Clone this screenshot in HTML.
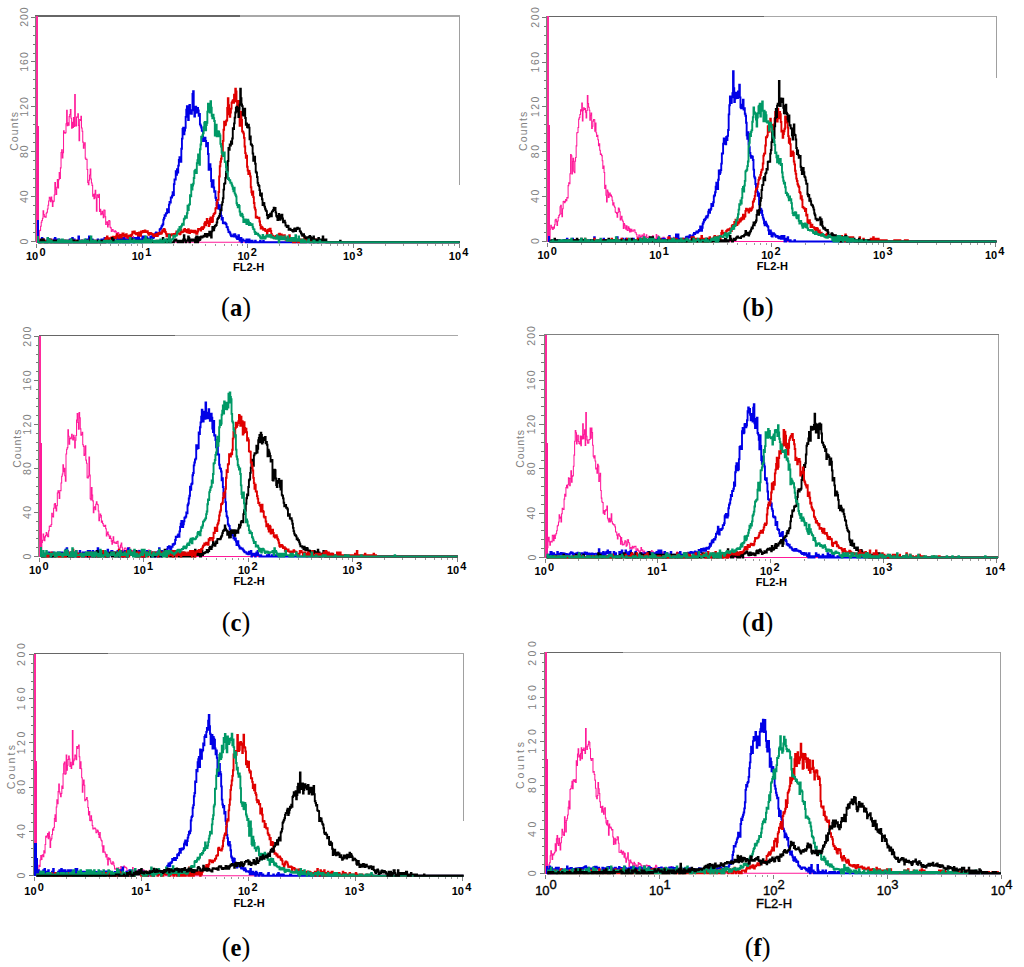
<!DOCTYPE html>
<html><head><meta charset="utf-8"><style>
html,body{margin:0;padding:0;background:#fff;overflow:hidden;}
svg{display:block;}
.yl{font-family:"Liberation Sans",sans-serif;font-size:10.5px;fill:#808080;text-anchor:middle;dominant-baseline:central;}
.xl{font-family:"Liberation Sans",sans-serif;font-size:11px;font-weight:bold;fill:#000;text-anchor:middle;}
.xl.n{font-weight:normal;font-size:13px;stroke:#000;stroke-width:0.35px;}
.cap{font-family:"Liberation Serif",serif;font-size:26.5px;fill:#000;text-anchor:middle;}
</style></head><body>
<svg width="1024" height="967" viewBox="0 0 1024 967">
<rect width="1024" height="967" fill="#fff"/>
<g shape-rendering="crispEdges"><line x1="35.40" y1="16.00" x2="240.00" y2="16.00" stroke="#666" stroke-width="1.3"/><line x1="240.00" y1="16.00" x2="460.00" y2="16.00" stroke="#a8a8a8" stroke-width="1.3"/><line x1="459.50" y1="16.00" x2="459.50" y2="184.50" stroke="#a0a0a0" stroke-width="1"/><line x1="35.40" y1="16.00" x2="35.40" y2="242.00" stroke="#7a8a7a" stroke-width="1"/><line x1="30.60" y1="241.50" x2="34.90" y2="241.50" stroke="#777" stroke-width="1"/><line x1="32.60" y1="232.52" x2="34.90" y2="232.52" stroke="#777" stroke-width="1"/><line x1="32.60" y1="223.55" x2="34.90" y2="223.55" stroke="#777" stroke-width="1"/><line x1="32.60" y1="214.57" x2="34.90" y2="214.57" stroke="#777" stroke-width="1"/><line x1="32.60" y1="205.60" x2="34.90" y2="205.60" stroke="#777" stroke-width="1"/><line x1="30.60" y1="196.62" x2="34.90" y2="196.62" stroke="#777" stroke-width="1"/><line x1="32.60" y1="187.64" x2="34.90" y2="187.64" stroke="#777" stroke-width="1"/><line x1="32.60" y1="178.67" x2="34.90" y2="178.67" stroke="#777" stroke-width="1"/><line x1="32.60" y1="169.69" x2="34.90" y2="169.69" stroke="#777" stroke-width="1"/><line x1="32.60" y1="160.72" x2="34.90" y2="160.72" stroke="#777" stroke-width="1"/><line x1="30.60" y1="151.74" x2="34.90" y2="151.74" stroke="#777" stroke-width="1"/><line x1="32.60" y1="142.76" x2="34.90" y2="142.76" stroke="#777" stroke-width="1"/><line x1="32.60" y1="133.79" x2="34.90" y2="133.79" stroke="#777" stroke-width="1"/><line x1="32.60" y1="124.81" x2="34.90" y2="124.81" stroke="#777" stroke-width="1"/><line x1="32.60" y1="115.84" x2="34.90" y2="115.84" stroke="#777" stroke-width="1"/><line x1="30.60" y1="106.86" x2="34.90" y2="106.86" stroke="#777" stroke-width="1"/><line x1="32.60" y1="97.88" x2="34.90" y2="97.88" stroke="#777" stroke-width="1"/><line x1="32.60" y1="88.91" x2="34.90" y2="88.91" stroke="#777" stroke-width="1"/><line x1="32.60" y1="79.93" x2="34.90" y2="79.93" stroke="#777" stroke-width="1"/><line x1="32.60" y1="70.96" x2="34.90" y2="70.96" stroke="#777" stroke-width="1"/><line x1="30.60" y1="61.98" x2="34.90" y2="61.98" stroke="#777" stroke-width="1"/><line x1="32.60" y1="53.00" x2="34.90" y2="53.00" stroke="#777" stroke-width="1"/><line x1="32.60" y1="44.03" x2="34.90" y2="44.03" stroke="#777" stroke-width="1"/><line x1="32.60" y1="35.05" x2="34.90" y2="35.05" stroke="#777" stroke-width="1"/><line x1="32.60" y1="26.08" x2="34.90" y2="26.08" stroke="#777" stroke-width="1"/><line x1="30.60" y1="17.10" x2="34.90" y2="17.10" stroke="#777" stroke-width="1"/><line x1="36.40" y1="243.50" x2="36.40" y2="247.70" stroke="#808080" stroke-width="1"/><line x1="68.22" y1="243.50" x2="68.22" y2="245.50" stroke="#9a9a9a" stroke-width="1"/><line x1="86.83" y1="243.50" x2="86.83" y2="245.50" stroke="#9a9a9a" stroke-width="1"/><line x1="100.04" y1="243.50" x2="100.04" y2="245.50" stroke="#9a9a9a" stroke-width="1"/><line x1="110.28" y1="243.50" x2="110.28" y2="245.50" stroke="#9a9a9a" stroke-width="1"/><line x1="118.65" y1="243.50" x2="118.65" y2="245.50" stroke="#9a9a9a" stroke-width="1"/><line x1="125.73" y1="243.50" x2="125.73" y2="245.50" stroke="#9a9a9a" stroke-width="1"/><line x1="131.86" y1="243.50" x2="131.86" y2="245.50" stroke="#9a9a9a" stroke-width="1"/><line x1="137.26" y1="243.50" x2="137.26" y2="245.50" stroke="#9a9a9a" stroke-width="1"/><line x1="142.10" y1="243.50" x2="142.10" y2="247.70" stroke="#808080" stroke-width="1"/><line x1="173.92" y1="243.50" x2="173.92" y2="245.50" stroke="#9a9a9a" stroke-width="1"/><line x1="192.53" y1="243.50" x2="192.53" y2="245.50" stroke="#9a9a9a" stroke-width="1"/><line x1="205.74" y1="243.50" x2="205.74" y2="245.50" stroke="#9a9a9a" stroke-width="1"/><line x1="215.98" y1="243.50" x2="215.98" y2="245.50" stroke="#9a9a9a" stroke-width="1"/><line x1="224.35" y1="243.50" x2="224.35" y2="245.50" stroke="#9a9a9a" stroke-width="1"/><line x1="231.43" y1="243.50" x2="231.43" y2="245.50" stroke="#9a9a9a" stroke-width="1"/><line x1="237.56" y1="243.50" x2="237.56" y2="245.50" stroke="#9a9a9a" stroke-width="1"/><line x1="242.96" y1="243.50" x2="242.96" y2="245.50" stroke="#9a9a9a" stroke-width="1"/><line x1="247.80" y1="243.50" x2="247.80" y2="247.70" stroke="#808080" stroke-width="1"/><line x1="279.62" y1="243.50" x2="279.62" y2="245.50" stroke="#9a9a9a" stroke-width="1"/><line x1="298.23" y1="243.50" x2="298.23" y2="245.50" stroke="#9a9a9a" stroke-width="1"/><line x1="311.44" y1="243.50" x2="311.44" y2="245.50" stroke="#9a9a9a" stroke-width="1"/><line x1="321.68" y1="243.50" x2="321.68" y2="245.50" stroke="#9a9a9a" stroke-width="1"/><line x1="330.05" y1="243.50" x2="330.05" y2="245.50" stroke="#9a9a9a" stroke-width="1"/><line x1="337.13" y1="243.50" x2="337.13" y2="245.50" stroke="#9a9a9a" stroke-width="1"/><line x1="343.26" y1="243.50" x2="343.26" y2="245.50" stroke="#9a9a9a" stroke-width="1"/><line x1="348.66" y1="243.50" x2="348.66" y2="245.50" stroke="#9a9a9a" stroke-width="1"/><line x1="353.50" y1="243.50" x2="353.50" y2="247.70" stroke="#808080" stroke-width="1"/><line x1="385.32" y1="243.50" x2="385.32" y2="245.50" stroke="#9a9a9a" stroke-width="1"/><line x1="403.93" y1="243.50" x2="403.93" y2="245.50" stroke="#9a9a9a" stroke-width="1"/><line x1="417.14" y1="243.50" x2="417.14" y2="245.50" stroke="#9a9a9a" stroke-width="1"/><line x1="427.38" y1="243.50" x2="427.38" y2="245.50" stroke="#9a9a9a" stroke-width="1"/><line x1="435.75" y1="243.50" x2="435.75" y2="245.50" stroke="#9a9a9a" stroke-width="1"/><line x1="442.83" y1="243.50" x2="442.83" y2="245.50" stroke="#9a9a9a" stroke-width="1"/><line x1="448.96" y1="243.50" x2="448.96" y2="245.50" stroke="#9a9a9a" stroke-width="1"/><line x1="454.36" y1="243.50" x2="454.36" y2="245.50" stroke="#9a9a9a" stroke-width="1"/><line x1="459.20" y1="243.50" x2="459.20" y2="247.70" stroke="#808080" stroke-width="1"/></g>
<text x="24.10" y="241.50" transform="rotate(-90 24.10 241.50)" class="yl" letter-spacing="0">0</text>
<text x="24.10" y="196.12" transform="rotate(-90 24.10 196.12)" class="yl" letter-spacing="1.0">40</text>
<text x="24.10" y="151.24" transform="rotate(-90 24.10 151.24)" class="yl" letter-spacing="1.0">80</text>
<text x="24.10" y="106.36" transform="rotate(-90 24.10 106.36)" class="yl" letter-spacing="1.0">120</text>
<text x="24.10" y="61.48" transform="rotate(-90 24.10 61.48)" class="yl" letter-spacing="1.0">160</text>
<text x="24.10" y="16.60" transform="rotate(-90 24.10 16.60)" class="yl" letter-spacing="1.0">200</text>
<text x="13.80" y="131.46" transform="rotate(-90 13.80 131.46)" class="yl" textLength="38.8" lengthAdjust="spacing">Counts</text>
<text x="35.80" y="259.90" class="xl">10<tspan dx="1.2" dy="-4.3" class="sup">0</tspan></text>
<text x="141.50" y="259.90" class="xl">10<tspan dx="1.2" dy="-4.3" class="sup">1</tspan></text>
<text x="247.20" y="259.90" class="xl">10<tspan dx="1.2" dy="-4.3" class="sup">2</tspan></text>
<text x="352.90" y="259.90" class="xl">10<tspan dx="1.2" dy="-4.3" class="sup">3</tspan></text>
<text x="458.60" y="259.90" class="xl">10<tspan dx="1.2" dy="-4.3" class="sup">4</tspan></text>
<text x="248.60" y="270.50" class="xl">FL2-H</text>
<path d="M38.10,242.20H38.72V242.20H39.34V230.82H39.96V230.39H40.58V226.19H41.20V222.26H41.82V220.47H42.44V218.18H43.06V210.73H43.68V214.43H44.30V216.39H44.92V217.21H45.54V217.10H46.16V213.19H46.78V212.15H47.40V209.07H48.02V205.23H48.64V201.01H49.26V197.24H49.88V198.26H50.50V201.82H51.12V197.05H51.74V200.27H52.36V206.50H52.98V201.70H53.60V201.13H54.22V195.07H54.84V182.52H55.46V189.42H56.08V194.49H56.70V187.17H57.32V179.49H57.94V187.88H58.56V179.72H59.18V172.55H59.80V178.52H60.42V167.89H61.04V152.57H61.66V149.79H62.28V158.01H62.90V152.79H63.52V130.75H64.14V132.56H64.76V133.25H65.38V132.82H66.00V123.75H66.62V110.29H67.24V125.84H67.86V122.69H68.48V125.17H69.10V116.60H69.72V114.46H70.34V109.42H70.96V118.18H71.58V128.19H72.20V122.39H72.82V127.36H73.44V117.49H74.06V126.43H74.68V94.40H75.30V125.26H75.92V125.87H76.54V117.03H77.16V117.26H77.78V113.88H78.40V125.38H79.02V140.73H79.64V119.51H80.26V120.50H80.88V116.29H81.50V127.98H82.12V131.20H82.74V142.11H83.36V148.34H83.98V144.91H84.60V142.81H85.22V158.11H85.84V159.59H86.46V159.27H87.08V169.59H87.70V182.49H88.32V184.80H88.94V180.27H89.56V174.97H90.18V168.98H90.80V178.96H91.42V182.93H92.04V185.35H92.66V196.20H93.28V194.16H93.90V198.72H94.52V194.14H95.14V190.36H95.76V198.02H96.38V211.14H97.00V194.71H97.62V195.68H98.24V197.50H98.86V194.31H99.48V211.44H100.10V209.32H100.72V214.69H101.34V213.43H101.96V211.25H102.58V214.30H103.20V217.83H103.82V210.07H104.44V210.33H105.06V216.78H105.68V224.58H106.30V222.25H106.92V221.81H107.54V226.91H108.16V224.60H108.78V220.42H109.40V220.90H110.02V227.27H110.64V227.86H111.26V231.49H111.88V229.94H112.50V229.41H113.12V231.24H113.74V231.18H114.36V232.05H114.98V230.69H115.60V231.63H116.22V233.79H116.84V237.11H117.46V232.81H118.08V232.58H118.70V236.52H119.32V233.97H119.94V235.90H120.56V236.83H121.18V238.22H121.80V234.19H122.42V234.21H123.04V235.06H123.66V234.73H124.28V236.87H124.90V237.68H125.52V238.80H126.14V237.05H126.76V239.10H127.38V240.26H128.00V235.81H128.62V236.83H129.24V240.74H129.86V239.90H130.48V237.66H131.10V240.79H131.72V240.79H132.34V240.79H132.96V236.56H133.58V240.79H134.20V240.79H134.82V237.97H135.44V239.38H136.06V242.20H136.68V240.79H137.30V239.38H137.92V239.38H138.54V242.20H139.16V239.38H139.78V240.79H140.40V239.38H141.02V239.38H141.64V242.20H142.26V242.20H142.88V239.38H143.50V242.20H144.12V240.79H144.74V242.20H145.36V242.20H145.98V242.20H146.60V240.79H147.22V242.20H147.84V242.20H148.46V242.20H149.08V242.20H149.70V242.20H150.32V242.20H150.94V240.79H151.56V242.20H152.18V242.20H152.80V242.20H153.42V242.20H154.04V242.20H154.66V242.20H155.28V242.20H155.90V242.20H156.52V242.20H157.14V242.20H157.76V242.20H158.38V242.20H159.00V242.20H159.62V242.20H160.24V242.20H160.86V242.20H161.48V242.20H162.10V242.20H162.72V242.20H163.34V242.20H163.96V242.20H164.58V242.20H165.20V242.20H165.82V242.20H166.44V242.20H167.06V242.20H167.68V242.20H168.30V242.20H168.92V242.20H169.54V242.20H170.16V242.20H170.78V242.20H171.40V242.20H172.02V242.20H172.64V242.20H173.26V242.20H173.88V242.20H174.50V242.20H175.12V242.20H175.74V242.20H176.36V242.20H176.98V242.20H177.60V242.20H178.22V242.20H178.84V242.20H179.46V242.20H180.08V242.20H180.70V242.20H181.32V242.20H181.94V242.20H182.56V242.20H183.18V242.20H183.80V242.20H184.42V242.20H185.04V242.20H185.66V242.20H186.28V242.20H186.90V242.20H187.52V242.20H188.14V242.20H188.76V242.20H189.38V242.20H190.00V242.20H190.62V242.20H191.24V242.20H191.86V242.20H192.48V242.20H193.10V242.20H193.72V242.20H194.34V242.20H194.96V242.20H195.58V242.20H196.20V242.20H196.82V242.20H197.44V242.20H198.06V242.20H198.68V242.20H199.30V242.20H199.92V242.20H200.54V242.20H201.16V242.20H201.78V242.20H202.40V242.20H203.02V242.20H203.64V242.20H204.26V242.20H204.88V242.20H205.50V242.20H206.12V242.20H206.74V242.20H207.36V242.20H207.98V242.20H208.60V242.20H209.22V242.20H209.84V242.20H210.46V242.20H211.08V242.20H211.70V242.20H212.32V242.20H212.94V242.20H213.56V242.20H214.18V242.20H214.80V242.20H215.42V242.20H216.04V242.20H216.66V242.20H217.28V242.20H217.90V242.20H218.52V242.20H219.14V242.20H219.76V242.20H220.38V242.20H221.00V242.20H221.62V242.20H222.24V242.20H222.86V242.20H223.48V242.20H224.10V242.20H224.72V242.20H225.34V242.20H225.96V242.20H226.58V242.20H227.20V242.20H227.82V242.20H228.44V242.20H229.06V242.20H229.68V242.20H230.30V242.20H230.92V242.20H231.54V242.20H232.16V242.20H232.78V242.20H233.40V242.20H234.02V242.20H234.64V242.20H235.26V242.20H235.88V242.20H236.50V242.20H237.12V242.20H237.74V242.20H238.36V242.20H238.98V242.20H239.60V242.20H240.22V242.20H240.84V242.20H241.46V242.20H242.08V242.20H242.70V242.20H243.32V242.20H243.94V242.20H244.56V242.20H245.18V242.20H245.80V242.20H246.42V242.20H247.04V242.20H247.66V242.20H248.28V242.20H248.90V242.20H249.52V242.20H250.14V242.20H250.76V242.20H251.38V242.20H252.00V242.20H252.62V242.20H253.24V242.20H253.86V242.20H254.48V242.20H255.10V242.20H255.72V242.20H256.34V242.20H256.96V242.20H257.58V242.20H258.20V242.20H258.82V242.20H259.44V242.20H260.06V242.20H260.68V242.20H261.30V242.20H261.92V242.20H262.54V242.20H263.16V242.20H263.78V242.20H264.40V242.20H265.02V242.20H265.64V242.20H266.26V242.20H266.88V242.20H267.50V242.20H268.12V242.20H268.74V242.20H269.36V242.20H269.98V242.20H270.60V242.20H271.22V242.20H271.84V242.20H272.46V242.20H273.08V242.20H273.70V242.20H274.32V242.20H274.94V242.20H275.56V242.20H276.18V242.20H276.80V242.20H277.42V242.20H278.04V242.20H278.66V242.20H279.28V242.20H279.90V242.20H280.52V242.20H281.14V242.20H281.76V242.20H282.38V242.20H283.00V242.20H283.62V242.20H284.24V242.20H284.86V242.20H285.48V242.20H286.10V242.20H286.72V242.20H287.34V242.20H287.96V242.20H288.58V242.20H289.20V242.20H289.82V242.20H290.44V242.20H291.06V242.20H291.68V242.20H292.30V242.20H292.92V242.20H293.54V242.20H294.16V242.20H294.78V242.20H295.40V242.20H296.02V242.20H296.64V242.20H297.26V242.20H297.88V242.20H298.50V242.20H299.12V242.20H299.74V242.20H300.36V242.20H300.98V242.20H301.60V242.20H302.22V242.20H302.84V242.20H303.46V242.20H304.08V242.20H304.70V242.20H305.32V242.20H305.94V242.20H306.56V242.20H307.18V242.20H307.80V242.20H308.42V242.20H309.04V242.20H309.66V242.20H310.28V242.20H310.90V242.20H311.52V242.20H312.14V242.20H312.76V242.20H313.38V242.20H314.00V242.20H314.62V242.20H315.24V242.20H315.86V242.20H316.48V242.20H317.10V242.20H317.72V242.20H318.34V242.20H318.96V242.20H319.58V242.20H320.20V242.20H320.82V242.20H321.44V242.20H322.06V242.20H322.68V242.20H323.30V242.20H323.92V242.20H324.54V242.20H325.16V242.20H325.78V242.20H326.40V242.20H327.02V242.20H327.64V242.20H328.26V242.20H328.88V242.20H329.50V242.20H330.12V242.20H330.74V242.20H331.36V242.20H331.98V242.20H332.60V242.20H333.22V242.20H333.84V242.20H334.46V242.20H335.08V242.20H335.70V242.20H336.32V242.20H336.94V242.20H337.56V242.20H338.18V242.20H338.80V242.20H339.42V242.20H340.04V242.20H340.66V242.20H341.28V242.20H341.90V242.20H342.52V242.20H343.14V242.20H343.76V242.20H344.38V242.20H345.00V242.20H345.62V242.20H346.24V242.20H346.86V242.20H347.48V242.20H348.10V242.20H348.72V242.20H349.34V242.20H349.96V242.20H350.58V242.20H351.20V242.20H351.82V242.20H352.44V242.20H353.06V242.20H353.68V242.20H354.30V242.20H354.92V242.20H355.54V242.20H356.16V242.20H356.78V242.20H357.40V242.20H358.02V242.20H358.64V242.20H359.26V242.20H359.88V242.20H360.50V242.20H361.12V242.20H361.74V242.20H362.36V242.20H362.98V242.20H363.60V242.20H364.22V242.20H364.84V242.20H365.46V242.20H366.08V242.20H366.70V242.20H367.32V242.20H367.94V242.20H368.56V242.20H369.18V242.20H369.80V242.20H370.42V242.20H371.04V242.20H371.66V242.20H372.28V242.20H372.90V242.20H373.52V242.20H374.14V242.20H374.76V242.20H375.38V242.20H376.00V242.20H376.62V242.20H377.24V242.20H377.86V242.20H378.48V242.20H379.10V242.20H379.72V242.20H380.34V242.20H380.96V242.20H381.58V242.20H382.20V242.20H382.82V242.20H383.44V242.20H384.06V242.20H384.68V242.20H385.30V242.20H385.92V242.20H386.54V242.20H387.16V242.20H387.78V242.20H388.40V242.20H389.02V242.20H389.64V242.20H390.26V242.20H390.88V242.20H391.50V242.20H392.12V242.20H392.74V242.20H393.36V242.20H393.98V242.20H394.60V242.20H395.22V242.20H395.84V242.20H396.46V242.20H397.08V242.20H397.70V242.20H398.32V242.20H398.94V242.20H399.56V242.20H400.18V242.20H400.80V242.20H401.42V242.20H402.04V242.20H402.66V242.20H403.28V242.20H403.90V242.20H404.52V242.20H405.14V242.20H405.76V242.20H406.38V242.20H407.00V242.20H407.62V242.20H408.24V242.20H408.86V242.20H409.48V242.20H410.10V242.20H410.72V242.20H411.34V242.20H411.96V242.20H412.58V242.20H413.20V242.20H413.82V242.20H414.44V242.20H415.06V242.20H415.68V242.20H416.30V242.20H416.92V242.20H417.54V242.20H418.16V242.20H418.78V242.20H419.40V242.20H420.02V242.20H420.64V242.20H421.26V242.20H421.88V242.20H422.50V242.20H423.12V242.20H423.74V242.20H424.36V242.20H424.98V242.20H425.60V242.20H426.22V242.20H426.84V242.20H427.46V242.20H428.08V242.20H428.70V242.20H429.32V242.20H429.94V242.20H430.56V242.20H431.18V242.20H431.80V242.20H432.42V242.20H433.04V242.20H433.66V242.20H434.28V242.20H434.90V242.20H435.52V242.20H436.14V242.20H436.76V242.20H437.38V242.20H438.00V242.20H438.62V242.20H439.24V242.20H439.86V242.20H440.48V242.20H441.10V242.20H441.72V242.20H442.34V242.20H442.96V242.20H443.58V242.20H444.20V242.20H444.82V242.20H445.44V242.20H446.06V242.20H446.68V242.20H447.30V242.20H447.92V242.20H448.54V242.20H449.16V242.20H449.78V242.20H450.40V242.20H451.02V242.20H451.64V242.20H452.26V242.20H452.88V242.20H453.50V242.20H454.12V242.20H454.74V242.20H455.36V242.20H455.98V242.20H456.60V242.20H457.22V242.20H457.84V242.20H458.46V242.20H459.08V242.20H459.70" fill="none" stroke="#ff1a99" stroke-width="1.05"/>
<rect x="36" y="16.00" width="2" height="226.70" fill="#ff2a9d" shape-rendering="crispEdges"/>
<rect x="37" y="126.00" width="2" height="116.70" fill="#ff1a99" shape-rendering="crispEdges"/>
<path d="M38.10,242.20H38.72V242.20H39.34V242.20H39.96V242.20H40.58V240.79H41.20V240.79H41.82V237.97H42.44V239.38H43.06V239.38H43.68V240.79H44.30V240.79H44.92V242.20H45.54V242.20H46.16V242.20H46.78V242.20H47.40V239.38H48.02V239.38H48.64V239.38H49.26V239.38H49.88V239.38H50.50V240.79H51.12V242.20H51.74V240.79H52.36V240.79H52.98V240.79H53.60V239.38H54.22V242.20H54.84V237.97H55.46V240.79H56.08V242.20H56.70V242.20H57.32V239.38H57.94V240.79H58.56V239.38H59.18V242.20H59.80V242.20H60.42V240.79H61.04V240.79H61.66V242.20H62.28V242.20H62.90V242.20H63.52V240.79H64.14V242.20H64.76V240.79H65.38V240.79H66.00V242.20H66.62V242.20H67.24V242.20H67.86V242.20H68.48V240.79H69.10V240.79H69.72V239.38H70.34V242.20H70.96V239.38H71.58V242.20H72.20V237.97H72.82V242.20H73.44V240.79H74.06V239.38H74.68V240.79H75.30V242.20H75.92V240.79H76.54V242.20H77.16V240.79H77.78V242.20H78.40V236.56H79.02V242.20H79.64V242.20H80.26V240.79H80.88V242.20H81.50V242.20H82.12V240.79H82.74V242.20H83.36V240.79H83.98V242.20H84.60V242.20H85.22V242.20H85.84V239.38H86.46V242.20H87.08V239.38H87.70V242.20H88.32V242.20H88.94V236.56H89.56V240.79H90.18V240.79H90.80V242.20H91.42V242.20H92.04V239.38H92.66V240.79H93.28V242.20H93.90V242.20H94.52V240.79H95.14V242.20H95.76V240.79H96.38V242.20H97.00V240.79H97.62V239.38H98.24V240.79H98.86V240.79H99.48V242.20H100.10V240.79H100.72V242.20H101.34V239.38H101.96V242.20H102.58V242.20H103.20V239.38H103.82V242.20H104.44V237.97H105.06V242.20H105.68V240.79H106.30V237.97H106.92V240.79H107.54V240.79H108.16V240.79H108.78V242.20H109.40V242.20H110.02V242.20H110.64V242.20H111.26V240.79H111.88V242.20H112.50V240.79H113.12V237.97H113.74V239.38H114.36V242.20H114.98V240.79H115.60V240.79H116.22V242.20H116.84V239.38H117.46V239.38H118.08V236.56H118.70V240.79H119.32V239.38H119.94V242.20H120.56V237.97H121.18V239.38H121.80V240.79H122.42V237.97H123.04V242.20H123.66V237.97H124.28V242.20H124.90V242.20H125.52V239.38H126.14V242.20H126.76V242.20H127.38V240.79H128.00V239.38H128.62V240.79H129.24V242.20H129.86V240.79H130.48V242.20H131.10V242.20H131.72V237.97H132.34V242.20H132.96V239.38H133.58V242.20H134.20V239.38H134.82V237.97H135.44V240.79H136.06V240.79H136.68V237.97H137.30V240.79H137.92V235.15H138.54V236.56H139.16V240.79H139.78V240.79H140.40V239.38H141.02V239.38H141.64V242.20H142.26V236.56H142.88V240.79H143.50V236.56H144.12V236.56H144.74V237.97H145.36V239.38H145.98V237.82H146.60V237.16H147.22V238.40H147.84V238.61H148.46V239.26H149.08V239.41H149.70V239.33H150.32V236.80H150.94V237.79H151.56V236.25H152.18V236.39H152.80V238.13H153.42V237.23H154.04V236.15H154.66V234.43H155.28V233.54H155.90V232.39H156.52V235.25H157.14V234.91H157.76V234.80H158.38V233.08H159.00V233.05H159.62V229.35H160.24V228.85H160.86V228.29H161.48V226.21H162.10V225.38H162.72V224.30H163.34V219.59H163.96V217.98H164.58V215.21H165.20V215.73H165.82V213.55H166.44V213.13H167.06V209.24H167.68V211.50H168.30V212.30H168.92V204.60H169.54V202.02H170.16V202.47H170.78V197.46H171.40V197.58H172.02V195.69H172.64V192.26H173.26V195.11H173.88V184.15H174.50V179.49H175.12V179.48H175.74V171.11H176.36V174.87H176.98V169.19H177.60V172.66H178.22V165.59H178.84V160.04H179.46V157.15H180.08V160.30H180.70V161.78H181.32V148.70H181.94V138.62H182.56V129.07H183.18V127.69H183.80V134.42H184.42V130.53H185.04V127.87H185.66V116.83H186.28V109.70H186.90V106.18H187.52V114.07H188.14V120.06H188.76V106.57H189.38V105.05H190.00V110.62H190.62V113.49H191.24V113.80H191.86V110.22H192.48V94.05H193.10V91.30H193.72V109.86H194.34V116.46H194.96V112.79H195.58V106.80H196.20V112.63H196.82V109.96H197.44V108.02H198.06V110.55H198.68V115.74H199.30V113.95H199.92V124.41H200.54V125.67H201.16V127.56H201.78V130.62H202.40V130.95H203.02V140.99H203.64V140.52H204.26V139.87H204.88V137.81H205.50V140.93H206.12V146.26H206.74V144.03H207.36V143.06H207.98V153.99H208.60V169.88H209.22V167.51H209.84V164.15H210.46V168.72H211.08V181.08H211.70V186.71H212.32V182.83H212.94V180.09H213.56V187.47H214.18V191.89H214.80V191.32H215.42V197.81H216.04V200.10H216.66V205.10H217.28V202.47H217.90V208.32H218.52V208.90H219.14V205.08H219.76V208.53H220.38V210.57H221.00V215.94H221.62V219.52H222.24V218.05H222.86V223.03H223.48V223.39H224.10V222.49H224.72V222.63H225.34V223.51H225.96V224.27H226.58V227.07H227.20V227.24H227.82V229.65H228.44V232.11H229.06V231.66H229.68V232.82H230.30V234.48H230.92V235.87H231.54V236.33H232.16V235.81H232.78V236.18H233.40V234.49H234.02V236.57H234.64V234.32H235.26V235.69H235.88V236.79H236.50V238.05H237.12V238.96H237.74V237.57H238.36V235.15H238.98V237.97H239.60V240.79H240.22V240.79H240.84V237.97H241.46V242.20H242.08V239.38H242.70V239.38H243.32V240.79H243.94V240.79H244.56V240.79H245.18V240.79H245.80V242.20H246.42V239.38H247.04V239.38H247.66V242.20H248.28V240.79H248.90V239.38H249.52V242.20H250.14V242.20H250.76V240.79H251.38V242.20H252.00V240.79H252.62V242.20H253.24V242.20H253.86V242.20H254.48V242.20H255.10V240.79H255.72V242.20H256.34V242.20H256.96V242.20H257.58V242.20H258.20V242.20H258.82V242.20H259.44V242.20H260.06V240.79H260.68V242.20H261.30V242.20H261.92V242.20H262.54V242.20H263.16V240.79H263.78V242.20H264.40V242.20H265.02V242.20H265.64V242.20H266.26V242.20H266.88V242.20H267.50V242.20H268.12V242.20H268.74V242.20H269.36V242.20H269.98V242.20H270.60V242.20H271.22V242.20H271.84V242.20H272.46V242.20H273.08V242.20H273.70V242.20H274.32V242.20H274.94V242.20H275.56V242.20H276.18V242.20H276.80V242.20H277.42V242.20H278.04V242.20H278.66V242.20H279.28V242.20H279.90V242.20H280.52V242.20H281.14V242.20H281.76V242.20H282.38V242.20H283.00V242.20H283.62V242.20H284.24V242.20H284.86V242.20H285.48V242.20H286.10V242.20H286.72V242.20H287.34V242.20H287.96V242.20H288.58V242.20H289.20V242.20H289.82V242.20H290.44V242.20H291.06V242.20H291.68V242.20H292.30V242.20H292.92V242.20H293.54V242.20H294.16V242.20H294.78V242.20H295.40V242.20H296.02V242.20H296.64V242.20H297.26V242.20H297.88V242.20H298.50V242.20H299.12V242.20H299.74V242.20H300.36V242.20H300.98V242.20H301.60V242.20H302.22V242.20H302.84V242.20H303.46V242.20H304.08V242.20H304.70V242.20H305.32V242.20H305.94V242.20H306.56V242.20H307.18V242.20H307.80V242.20H308.42V242.20H309.04V242.20H309.66V242.20H310.28V242.20H310.90V242.20H311.52V242.20H312.14V242.20H312.76V242.20H313.38V242.20H314.00V242.20H314.62V242.20H315.24V242.20H315.86V242.20H316.48V242.20H317.10V242.20H317.72V242.20H318.34V242.20H318.96V242.20H319.58V242.20H320.20V242.20H320.82V242.20H321.44V242.20H322.06V242.20H322.68V242.20H323.30V242.20H323.92V242.20H324.54V242.20H325.16V242.20H325.78V242.20H326.40V242.20H327.02V242.20H327.64V242.20H328.26V242.20H328.88V242.20H329.50V242.20H330.12V242.20H330.74V242.20H331.36V242.20H331.98V242.20H332.60V242.20H333.22V242.20H333.84V242.20H334.46V242.20H335.08V242.20H335.70V242.20H336.32V242.20H336.94V242.20H337.56V242.20H338.18V242.20H338.80V242.20H339.42V242.20H340.04V242.20H340.66V242.20H341.28V242.20H341.90V242.20H342.52V242.20H343.14V242.20H343.76V242.20H344.38V242.20H345.00V242.20H345.62V242.20H346.24V242.20H346.86V242.20H347.48V242.20H348.10V242.20H348.72V242.20H349.34V242.20H349.96V242.20H350.58V242.20H351.20V242.20H351.82V242.20H352.44V242.20H353.06V242.20H353.68V242.20H354.30V242.20H354.92V242.20H355.54V242.20H356.16V242.20H356.78V242.20H357.40V242.20H358.02V242.20H358.64V242.20H359.26V242.20H359.88V242.20H360.50V242.20H361.12V242.20H361.74V242.20H362.36V242.20H362.98V242.20H363.60V242.20H364.22V242.20H364.84V242.20H365.46V242.20H366.08V242.20H366.70V242.20H367.32V242.20H367.94V242.20H368.56V242.20H369.18V242.20H369.80V242.20H370.42V242.20H371.04V242.20H371.66V242.20H372.28V242.20H372.90V242.20H373.52V242.20H374.14V242.20H374.76V242.20H375.38V242.20H376.00V242.20H376.62V242.20H377.24V242.20H377.86V242.20H378.48V242.20H379.10V242.20H379.72V242.20H380.34V242.20H380.96V242.20H381.58V242.20H382.20V242.20H382.82V242.20H383.44V242.20H384.06V242.20H384.68V242.20H385.30V242.20H385.92V242.20H386.54V242.20H387.16V242.20H387.78V242.20H388.40V242.20H389.02V242.20H389.64V242.20H390.26V242.20H390.88V242.20H391.50V242.20H392.12V242.20H392.74V242.20H393.36V242.20H393.98V242.20H394.60V242.20H395.22V242.20H395.84V242.20H396.46V242.20H397.08V242.20H397.70V242.20H398.32V242.20H398.94V242.20H399.56V242.20H400.18V242.20H400.80V242.20H401.42V242.20H402.04V242.20H402.66V242.20H403.28V242.20H403.90V242.20H404.52V242.20H405.14V242.20H405.76V242.20H406.38V242.20H407.00V242.20H407.62V242.20H408.24V242.20H408.86V242.20H409.48V242.20H410.10V242.20H410.72V242.20H411.34V242.20H411.96V242.20H412.58V242.20H413.20V242.20H413.82V242.20H414.44V242.20H415.06V242.20H415.68V242.20H416.30V242.20H416.92V242.20H417.54V242.20H418.16V242.20H418.78V242.20H419.40V242.20H420.02V242.20H420.64V242.20H421.26V242.20H421.88V242.20H422.50V242.20H423.12V242.20H423.74V242.20H424.36V242.20H424.98V242.20H425.60V242.20H426.22V242.20H426.84V242.20H427.46V242.20H428.08V242.20H428.70V242.20H429.32V242.20H429.94V242.20H430.56V242.20H431.18V242.20H431.80V242.20H432.42V242.20H433.04V242.20H433.66V242.20H434.28V242.20H434.90V242.20H435.52V242.20H436.14V242.20H436.76V242.20H437.38V242.20H438.00V242.20H438.62V242.20H439.24V242.20H439.86V242.20H440.48V242.20H441.10V242.20H441.72V242.20H442.34V242.20H442.96V242.20H443.58V242.20H444.20V242.20H444.82V242.20H445.44V242.20H446.06V242.20H446.68V242.20H447.30V242.20H447.92V242.20H448.54V242.20H449.16V242.20H449.78V242.20H450.40V242.20H451.02V242.20H451.64V242.20H452.26V242.20H452.88V242.20H453.50V242.20H454.12V242.20H454.74V242.20H455.36V242.20H455.98V242.20H456.60V242.20H457.22V242.20H457.84V242.20H458.46V242.20H459.08V242.20H459.70" fill="none" stroke="#0000e6" stroke-width="1.9"/>
<rect x="37" y="219.50" width="2" height="23.20" fill="#0000e6" shape-rendering="crispEdges"/>
<path d="M38.10,242.20H38.72V242.20H39.34V242.20H39.96V242.20H40.58V240.79H41.20V242.20H41.82V242.20H42.44V242.20H43.06V239.38H43.68V242.20H44.30V242.20H44.92V240.79H45.54V242.20H46.16V242.20H46.78V242.20H47.40V242.20H48.02V242.20H48.64V242.20H49.26V242.20H49.88V239.38H50.50V239.38H51.12V240.79H51.74V242.20H52.36V240.79H52.98V242.20H53.60V242.20H54.22V242.20H54.84V240.79H55.46V242.20H56.08V242.20H56.70V242.20H57.32V242.20H57.94V242.20H58.56V240.79H59.18V240.79H59.80V240.79H60.42V242.20H61.04V242.20H61.66V240.79H62.28V242.20H62.90V242.20H63.52V242.20H64.14V242.20H64.76V240.79H65.38V242.20H66.00V242.20H66.62V242.20H67.24V242.20H67.86V242.20H68.48V240.79H69.10V242.20H69.72V242.20H70.34V242.20H70.96V240.79H71.58V240.79H72.20V240.79H72.82V240.79H73.44V242.20H74.06V242.20H74.68V240.79H75.30V242.20H75.92V242.20H76.54V242.20H77.16V240.79H77.78V242.20H78.40V242.20H79.02V242.20H79.64V242.20H80.26V242.20H80.88V242.20H81.50V242.20H82.12V240.79H82.74V242.20H83.36V242.20H83.98V242.20H84.60V242.20H85.22V240.79H85.84V242.20H86.46V242.20H87.08V240.79H87.70V242.20H88.32V242.20H88.94V240.79H89.56V240.79H90.18V242.20H90.80V242.20H91.42V242.20H92.04V242.20H92.66V242.20H93.28V242.20H93.90V240.79H94.52V242.20H95.14V242.20H95.76V242.20H96.38V240.79H97.00V242.20H97.62V242.20H98.24V242.20H98.86V242.20H99.48V242.20H100.10V242.20H100.72V242.20H101.34V242.20H101.96V242.20H102.58V242.20H103.20V242.20H103.82V242.20H104.44V242.20H105.06V239.38H105.68V237.97H106.30V237.97H106.92V236.56H107.54V239.93H108.16V238.19H108.78V239.02H109.40V238.15H110.02V238.50H110.64V238.34H111.26V237.37H111.88V238.04H112.50V237.26H113.12V236.81H113.74V236.86H114.36V237.37H114.98V238.10H115.60V238.22H116.22V235.71H116.84V234.24H117.46V236.06H118.08V236.67H118.70V237.92H119.32V237.43H119.94V235.10H120.56V235.04H121.18V237.47H121.80V235.67H122.42V233.44H123.04V233.44H123.66V235.02H124.28V236.20H124.90V236.20H125.52V235.12H126.14V234.16H126.76V236.08H127.38V237.28H128.00V237.85H128.62V236.86H129.24V235.36H129.86V235.52H130.48V237.19H131.10V234.97H131.72V234.48H132.34V231.81H132.96V232.84H133.58V231.74H134.20V231.50H134.82V233.37H135.44V233.66H136.06V234.18H136.68V233.12H137.30V232.95H137.92V235.64H138.54V235.05H139.16V232.37H139.78V233.51H140.40V235.78H141.02V231.41H141.64V232.57H142.26V231.65H142.88V231.02H143.50V230.91H144.12V231.98H144.74V230.44H145.36V231.95H145.98V231.48H146.60V231.54H147.22V231.08H147.84V233.02H148.46V234.75H149.08V232.85H149.70V233.77H150.32V232.89H150.94V234.11H151.56V233.70H152.18V233.99H152.80V234.96H153.42V236.28H154.04V235.31H154.66V234.62H155.28V235.99H155.90V234.47H156.52V233.97H157.14V236.06H157.76V234.07H158.38V232.83H159.00V233.94H159.62V233.38H160.24V232.39H160.86V233.83H161.48V232.69H162.10V230.42H162.72V231.55H163.34V229.68H163.96V228.89H164.58V230.12H165.20V231.98H165.82V233.67H166.44V236.41H167.06V235.09H167.68V235.12H168.30V234.19H168.92V237.04H169.54V236.80H170.16V235.23H170.78V234.78H171.40V234.31H172.02V235.21H172.64V234.91H173.26V235.33H173.88V234.03H174.50V234.28H175.12V234.22H175.74V233.40H176.36V231.56H176.98V233.10H177.60V233.10H178.22V233.23H178.84V233.59H179.46V234.21H180.08V233.90H180.70V229.43H181.32V231.55H181.94V232.39H182.56V231.75H183.18V231.36H183.80V229.87H184.42V229.05H185.04V231.31H185.66V231.51H186.28V229.88H186.90V232.14H187.52V232.50H188.14V229.15H188.76V231.11H189.38V233.13H190.00V231.14H190.62V230.43H191.24V231.95H191.86V232.15H192.48V231.93H193.10V230.58H193.72V231.91H194.34V232.57H194.96V230.63H195.58V231.99H196.20V233.92H196.82V233.83H197.44V231.63H198.06V229.02H198.68V229.48H199.30V228.87H199.92V229.53H200.54V230.59H201.16V227.84H201.78V227.30H202.40V229.17H203.02V228.12H203.64V226.93H204.26V223.59H204.88V222.29H205.50V225.29H206.12V221.89H206.74V218.88H207.36V223.14H207.98V221.11H208.60V226.03H209.22V224.11H209.84V219.04H210.46V217.34H211.08V220.13H211.70V222.00H212.32V221.44H212.94V216.01H213.56V214.09H214.18V213.60H214.80V212.87H215.42V208.34H216.04V207.98H216.66V202.98H217.28V199.89H217.90V199.87H218.52V191.98H219.14V176.43H219.76V166.25H220.38V161.78H221.00V158.72H221.62V155.85H222.24V151.46H222.86V140.85H223.48V129.79H224.10V121.65H224.72V125.24H225.34V124.45H225.96V121.27H226.58V120.19H227.20V108.00H227.82V98.19H228.44V105.29H229.06V114.31H229.68V116.83H230.30V112.47H230.92V108.65H231.54V102.75H232.16V101.51H232.78V100.18H233.40V102.82H234.02V94.81H234.64V101.10H235.26V88.80H235.88V91.47H236.50V101.78H237.12V105.62H237.74V107.20H238.36V100.83H238.98V110.78H239.60V125.92H240.22V121.67H240.84V111.96H241.46V119.97H242.08V131.27H242.70V131.90H243.32V133.42H243.94V137.91H244.56V146.47H245.18V153.11H245.80V157.71H246.42V155.65H247.04V166.71H247.66V170.49H248.28V174.13H248.90V170.92H249.52V173.42H250.14V176.38H250.76V187.32H251.38V192.39H252.00V194.72H252.62V191.54H253.24V197.13H253.86V202.94H254.48V207.61H255.10V209.63H255.72V217.53H256.34V216.77H256.96V217.57H257.58V218.00H258.20V217.99H258.82V217.60H259.44V221.54H260.06V224.97H260.68V228.47H261.30V226.70H261.92V227.55H262.54V228.46H263.16V229.89H263.78V229.04H264.40V228.97H265.02V230.51H265.64V230.99H266.26V230.85H266.88V234.47H267.50V229.66H268.12V230.58H268.74V231.02H269.36V229.05H269.98V228.77H270.60V230.86H271.22V233.97H271.84V236.16H272.46V235.63H273.08V236.92H273.70V237.36H274.32V238.31H274.94V236.60H275.56V235.99H276.18V236.92H276.80V237.65H277.42V236.06H278.04V236.52H278.66V234.17H279.28V233.79H279.90V237.32H280.52V237.29H281.14V234.43H281.76V235.89H282.38V235.71H283.00V235.69H283.62V235.49H284.24V235.15H284.86V238.24H285.48V239.43H286.10V239.81H286.72V239.90H287.34V237.64H287.96V238.09H288.58V240.79H289.20V235.15H289.82V237.97H290.44V240.79H291.06V240.79H291.68V239.38H292.30V237.97H292.92V242.20H293.54V239.38H294.16V240.79H294.78V242.20H295.40V240.79H296.02V239.38H296.64V240.79H297.26V239.38H297.88V242.20H298.50V242.20H299.12V242.20H299.74V240.79H300.36V239.38H300.98V242.20H301.60V242.20H302.22V242.20H302.84V240.79H303.46V239.38H304.08V237.97H304.70V242.20H305.32V242.20H305.94V237.97H306.56V240.79H307.18V237.97H307.80V239.38H308.42V240.79H309.04V240.79H309.66V242.20H310.28V237.97H310.90V242.20H311.52V240.79H312.14V239.38H312.76V242.20H313.38V240.79H314.00V239.38H314.62V240.79H315.24V239.38H315.86V240.79H316.48V242.20H317.10V242.20H317.72V242.20H318.34V242.20H318.96V242.20H319.58V242.20H320.20V242.20H320.82V242.20H321.44V242.20H322.06V242.20H322.68V242.20H323.30V242.20H323.92V242.20H324.54V242.20H325.16V242.20H325.78V242.20H326.40V242.20H327.02V242.20H327.64V242.20H328.26V242.20H328.88V242.20H329.50V242.20H330.12V242.20H330.74V242.20H331.36V242.20H331.98V242.20H332.60V242.20H333.22V242.20H333.84V242.20H334.46V242.20H335.08V242.20H335.70V242.20H336.32V242.20H336.94V242.20H337.56V242.20H338.18V242.20H338.80V242.20H339.42V242.20H340.04V242.20H340.66V242.20H341.28V242.20H341.90V242.20H342.52V242.20H343.14V242.20H343.76V242.20H344.38V242.20H345.00V242.20H345.62V242.20H346.24V242.20H346.86V242.20H347.48V242.20H348.10V242.20H348.72V242.20H349.34V242.20H349.96V242.20H350.58V242.20H351.20V242.20H351.82V242.20H352.44V242.20H353.06V242.20H353.68V242.20H354.30V242.20H354.92V242.20H355.54V242.20H356.16V242.20H356.78V242.20H357.40V242.20H358.02V242.20H358.64V242.20H359.26V242.20H359.88V242.20H360.50V242.20H361.12V242.20H361.74V242.20H362.36V242.20H362.98V242.20H363.60V242.20H364.22V242.20H364.84V242.20H365.46V242.20H366.08V242.20H366.70V242.20H367.32V242.20H367.94V242.20H368.56V242.20H369.18V242.20H369.80V242.20H370.42V242.20H371.04V242.20H371.66V242.20H372.28V242.20H372.90V242.20H373.52V242.20H374.14V242.20H374.76V242.20H375.38V242.20H376.00V242.20H376.62V242.20H377.24V242.20H377.86V242.20H378.48V242.20H379.10V242.20H379.72V242.20H380.34V242.20H380.96V242.20H381.58V242.20H382.20V242.20H382.82V242.20H383.44V242.20H384.06V242.20H384.68V242.20H385.30V242.20H385.92V242.20H386.54V242.20H387.16V242.20H387.78V242.20H388.40V242.20H389.02V242.20H389.64V242.20H390.26V242.20H390.88V242.20H391.50V242.20H392.12V242.20H392.74V242.20H393.36V242.20H393.98V242.20H394.60V242.20H395.22V242.20H395.84V242.20H396.46V242.20H397.08V242.20H397.70V242.20H398.32V242.20H398.94V242.20H399.56V242.20H400.18V242.20H400.80V242.20H401.42V242.20H402.04V242.20H402.66V242.20H403.28V242.20H403.90V242.20H404.52V242.20H405.14V242.20H405.76V242.20H406.38V242.20H407.00V242.20H407.62V242.20H408.24V242.20H408.86V242.20H409.48V242.20H410.10V242.20H410.72V242.20H411.34V242.20H411.96V242.20H412.58V242.20H413.20V242.20H413.82V242.20H414.44V242.20H415.06V242.20H415.68V242.20H416.30V242.20H416.92V242.20H417.54V242.20H418.16V242.20H418.78V242.20H419.40V242.20H420.02V242.20H420.64V242.20H421.26V242.20H421.88V242.20H422.50V242.20H423.12V242.20H423.74V242.20H424.36V242.20H424.98V242.20H425.60V242.20H426.22V242.20H426.84V242.20H427.46V242.20H428.08V242.20H428.70V242.20H429.32V242.20H429.94V242.20H430.56V242.20H431.18V242.20H431.80V242.20H432.42V242.20H433.04V242.20H433.66V242.20H434.28V242.20H434.90V242.20H435.52V242.20H436.14V242.20H436.76V242.20H437.38V242.20H438.00V242.20H438.62V242.20H439.24V242.20H439.86V242.20H440.48V242.20H441.10V242.20H441.72V242.20H442.34V242.20H442.96V242.20H443.58V242.20H444.20V242.20H444.82V242.20H445.44V242.20H446.06V242.20H446.68V242.20H447.30V242.20H447.92V242.20H448.54V242.20H449.16V242.20H449.78V242.20H450.40V242.20H451.02V242.20H451.64V242.20H452.26V242.20H452.88V242.20H453.50V242.20H454.12V242.20H454.74V242.20H455.36V242.20H455.98V242.20H456.60V242.20H457.22V242.20H457.84V242.20H458.46V242.20H459.08V242.20H459.70" fill="none" stroke="#e00000" stroke-width="1.9"/>
<path d="M38.10,242.20H38.72V242.20H39.34V242.20H39.96V242.20H40.58V239.38H41.20V242.20H41.82V239.38H42.44V242.20H43.06V239.38H43.68V240.79H44.30V242.20H44.92V242.20H45.54V242.20H46.16V242.20H46.78V242.20H47.40V240.79H48.02V239.38H48.64V242.20H49.26V240.79H49.88V242.20H50.50V240.79H51.12V242.20H51.74V242.20H52.36V242.20H52.98V240.79H53.60V240.79H54.22V242.20H54.84V242.20H55.46V242.20H56.08V240.79H56.70V242.20H57.32V242.20H57.94V242.20H58.56V240.79H59.18V242.20H59.80V240.79H60.42V240.79H61.04V242.20H61.66V240.79H62.28V242.20H62.90V242.20H63.52V242.20H64.14V242.20H64.76V240.79H65.38V242.20H66.00V240.79H66.62V242.20H67.24V240.79H67.86V242.20H68.48V242.20H69.10V242.20H69.72V242.20H70.34V242.20H70.96V242.20H71.58V239.38H72.20V242.20H72.82V242.20H73.44V240.79H74.06V240.79H74.68V242.20H75.30V242.20H75.92V242.20H76.54V242.20H77.16V240.79H77.78V242.20H78.40V242.20H79.02V242.20H79.64V242.20H80.26V242.20H80.88V242.20H81.50V240.79H82.12V242.20H82.74V242.20H83.36V242.20H83.98V242.20H84.60V242.20H85.22V242.20H85.84V242.20H86.46V242.20H87.08V242.20H87.70V240.79H88.32V240.79H88.94V242.20H89.56V242.20H90.18V237.97H90.80V242.20H91.42V242.20H92.04V242.20H92.66V240.79H93.28V242.20H93.90V242.20H94.52V242.20H95.14V242.20H95.76V242.20H96.38V242.20H97.00V242.20H97.62V240.79H98.24V240.79H98.86V242.20H99.48V240.79H100.10V242.20H100.72V240.79H101.34V242.20H101.96V242.20H102.58V240.79H103.20V242.20H103.82V242.20H104.44V242.20H105.06V242.20H105.68V242.20H106.30V242.20H106.92V242.20H107.54V242.20H108.16V242.20H108.78V240.79H109.40V242.20H110.02V242.20H110.64V242.20H111.26V242.20H111.88V237.97H112.50V240.79H113.12V239.38H113.74V242.20H114.36V242.20H114.98V242.20H115.60V242.20H116.22V242.20H116.84V242.20H117.46V242.20H118.08V242.20H118.70V242.20H119.32V242.20H119.94V242.20H120.56V240.79H121.18V242.20H121.80V242.20H122.42V240.79H123.04V242.20H123.66V242.20H124.28V240.79H124.90V242.20H125.52V242.20H126.14V242.20H126.76V242.20H127.38V242.20H128.00V242.20H128.62V242.20H129.24V240.79H129.86V240.79H130.48V239.38H131.10V239.38H131.72V239.38H132.34V239.38H132.96V240.79H133.58V242.20H134.20V242.20H134.82V242.20H135.44V242.20H136.06V240.79H136.68V242.20H137.30V242.20H137.92V242.20H138.54V240.79H139.16V242.20H139.78V242.20H140.40V242.20H141.02V242.20H141.64V242.20H142.26V242.20H142.88V240.79H143.50V242.20H144.12V242.20H144.74V242.20H145.36V240.79H145.98V242.20H146.60V242.20H147.22V239.38H147.84V242.20H148.46V240.79H149.08V242.20H149.70V240.79H150.32V240.79H150.94V242.20H151.56V242.20H152.18V242.20H152.80V242.20H153.42V242.20H154.04V242.20H154.66V242.20H155.28V242.20H155.90V242.20H156.52V240.79H157.14V242.20H157.76V240.79H158.38V242.20H159.00V242.20H159.62V242.20H160.24V240.79H160.86V242.20H161.48V240.79H162.10V240.79H162.72V237.97H163.34V242.20H163.96V240.79H164.58V242.20H165.20V240.79H165.82V240.79H166.44V242.20H167.06V239.38H167.68V240.79H168.30V242.20H168.92V235.15H169.54V242.20H170.16V242.20H170.78V242.20H171.40V242.20H172.02V242.20H172.64V242.20H173.26V242.20H173.88V239.38H174.50V240.79H175.12V240.79H175.74V239.38H176.36V240.79H176.98V240.79H177.60V242.20H178.22V240.79H178.84V242.20H179.46V240.79H180.08V242.20H180.70V242.20H181.32V240.79H181.94V242.20H182.56V242.20H183.18V239.38H183.80V235.15H184.42V239.38H185.04V240.79H185.66V242.20H186.28V240.79H186.90V240.79H187.52V239.38H188.14V236.56H188.76V237.97H189.38V242.20H190.00V239.38H190.62V240.79H191.24V240.79H191.86V240.79H192.48V239.38H193.10V239.38H193.72V239.38H194.34V240.79H194.96V242.20H195.58V237.97H196.20V236.56H196.82V236.56H197.44V242.20H198.06V240.79H198.68V237.23H199.30V239.99H199.92V239.20H200.54V236.94H201.16V236.50H201.78V237.66H202.40V236.80H203.02V236.89H203.64V235.82H204.26V236.29H204.88V234.04H205.50V234.49H206.12V235.81H206.74V236.85H207.36V233.93H207.98V235.63H208.60V235.46H209.22V231.60H209.84V232.27H210.46V234.72H211.08V237.63H211.70V231.34H212.32V226.91H212.94V230.00H213.56V230.35H214.18V227.45H214.80V225.82H215.42V225.90H216.04V224.94H216.66V222.54H217.28V219.10H217.90V218.11H218.52V217.51H219.14V216.07H219.76V213.66H220.38V209.85H221.00V210.32H221.62V204.80H222.24V202.12H222.86V198.27H223.48V189.66H224.10V183.87H224.72V183.25H225.34V177.84H225.96V171.91H226.58V168.11H227.20V171.26H227.82V160.93H228.44V148.03H229.06V149.87H229.68V144.41H230.30V145.52H230.92V141.54H231.54V143.86H232.16V138.44H232.78V128.27H233.40V129.11H234.02V123.39H234.64V117.65H235.26V112.45H235.88V107.88H236.50V106.65H237.12V111.66H237.74V107.99H238.36V116.95H238.98V108.75H239.60V104.74H240.22V88.80H240.84V98.25H241.46V104.52H242.08V106.08H242.70V114.73H243.32V115.43H243.94V114.93H244.56V108.68H245.18V117.94H245.80V124.86H246.42V123.35H247.04V127.15H247.66V127.53H248.28V124.65H248.90V127.67H249.52V139.22H250.14V136.56H250.76V144.19H251.38V144.80H252.00V145.90H252.62V153.43H253.24V160.77H253.86V158.93H254.48V156.70H255.10V163.76H255.72V171.73H256.34V172.80H256.96V177.03H257.58V182.90H258.20V184.95H258.82V186.02H259.44V190.10H260.06V195.04H260.68V195.80H261.30V193.46H261.92V199.25H262.54V204.97H263.16V202.91H263.78V203.27H264.40V206.62H265.02V208.81H265.64V210.41H266.26V211.17H266.88V215.06H267.50V218.22H268.12V217.16H268.74V216.86H269.36V214.83H269.98V214.15H270.60V213.53H271.22V216.24H271.84V211.63H272.46V211.12H273.08V210.07H273.70V207.80H274.32V209.90H274.94V207.90H275.56V212.33H276.18V215.91H276.80V216.90H277.42V220.03H278.04V218.39H278.66V213.87H279.28V215.14H279.90V219.83H280.52V218.30H281.14V216.40H281.76V214.66H282.38V218.48H283.00V222.41H283.62V221.40H284.24V220.75H284.86V222.58H285.48V225.44H286.10V225.66H286.72V227.15H287.34V225.75H287.96V225.95H288.58V229.72H289.20V228.78H289.82V228.72H290.44V229.77H291.06V229.96H291.68V229.90H292.30V230.94H292.92V231.44H293.54V230.39H294.16V228.63H294.78V228.52H295.40V230.99H296.02V229.22H296.64V229.01H297.26V227.69H297.88V228.78H298.50V228.92H299.12V228.35H299.74V231.11H300.36V231.78H300.98V233.27H301.60V234.58H302.22V235.79H302.84V235.17H303.46V234.17H304.08V236.03H304.70V237.35H305.32V238.34H305.94V238.11H306.56V237.11H307.18V237.46H307.80V238.76H308.42V237.75H309.04V236.64H309.66V235.84H310.28V236.85H310.90V239.80H311.52V237.97H312.14V239.38H312.76V240.79H313.38V236.56H314.00V242.20H314.62V239.38H315.24V240.79H315.86V240.79H316.48V239.38H317.10V239.38H317.72V242.20H318.34V237.97H318.96V240.79H319.58V240.79H320.20V239.38H320.82V239.38H321.44V239.38H322.06V240.79H322.68V236.56H323.30V239.38H323.92V240.79H324.54V239.38H325.16V240.79H325.78V239.38H326.40V242.20H327.02V242.20H327.64V242.20H328.26V242.20H328.88V242.20H329.50V242.20H330.12V242.20H330.74V242.20H331.36V242.20H331.98V242.20H332.60V242.20H333.22V242.20H333.84V242.20H334.46V242.20H335.08V242.20H335.70V242.20H336.32V242.20H336.94V242.20H337.56V242.20H338.18V242.20H338.80V242.20H339.42V242.20H340.04V240.79H340.66V242.20H341.28V242.20H341.90V242.20H342.52V242.20H343.14V242.20H343.76V242.20H344.38V242.20H345.00V242.20H345.62V242.20H346.24V242.20H346.86V242.20H347.48V242.20H348.10V242.20H348.72V242.20H349.34V242.20H349.96V242.20H350.58V242.20H351.20V242.20H351.82V242.20H352.44V242.20H353.06V242.20H353.68V242.20H354.30V242.20H354.92V242.20H355.54V242.20H356.16V242.20H356.78V242.20H357.40V242.20H358.02V242.20H358.64V242.20H359.26V242.20H359.88V242.20H360.50V242.20H361.12V242.20H361.74V242.20H362.36V242.20H362.98V242.20H363.60V242.20H364.22V242.20H364.84V242.20H365.46V242.20H366.08V242.20H366.70V242.20H367.32V242.20H367.94V242.20H368.56V242.20H369.18V242.20H369.80V242.20H370.42V242.20H371.04V242.20H371.66V242.20H372.28V242.20H372.90V242.20H373.52V242.20H374.14V242.20H374.76V242.20H375.38V242.20H376.00V242.20H376.62V242.20H377.24V242.20H377.86V242.20H378.48V242.20H379.10V242.20H379.72V242.20H380.34V242.20H380.96V242.20H381.58V242.20H382.20V242.20H382.82V242.20H383.44V242.20H384.06V242.20H384.68V242.20H385.30V242.20H385.92V242.20H386.54V242.20H387.16V242.20H387.78V242.20H388.40V242.20H389.02V242.20H389.64V242.20H390.26V242.20H390.88V242.20H391.50V242.20H392.12V242.20H392.74V242.20H393.36V242.20H393.98V242.20H394.60V242.20H395.22V242.20H395.84V242.20H396.46V242.20H397.08V242.20H397.70V242.20H398.32V242.20H398.94V242.20H399.56V242.20H400.18V242.20H400.80V242.20H401.42V242.20H402.04V242.20H402.66V242.20H403.28V242.20H403.90V242.20H404.52V242.20H405.14V242.20H405.76V242.20H406.38V242.20H407.00V242.20H407.62V242.20H408.24V242.20H408.86V242.20H409.48V242.20H410.10V242.20H410.72V242.20H411.34V242.20H411.96V242.20H412.58V242.20H413.20V242.20H413.82V242.20H414.44V242.20H415.06V242.20H415.68V242.20H416.30V242.20H416.92V242.20H417.54V242.20H418.16V242.20H418.78V242.20H419.40V242.20H420.02V242.20H420.64V242.20H421.26V242.20H421.88V242.20H422.50V242.20H423.12V242.20H423.74V242.20H424.36V242.20H424.98V242.20H425.60V242.20H426.22V242.20H426.84V242.20H427.46V242.20H428.08V242.20H428.70V242.20H429.32V242.20H429.94V242.20H430.56V242.20H431.18V242.20H431.80V242.20H432.42V242.20H433.04V242.20H433.66V242.20H434.28V242.20H434.90V242.20H435.52V242.20H436.14V242.20H436.76V242.20H437.38V242.20H438.00V242.20H438.62V242.20H439.24V242.20H439.86V242.20H440.48V242.20H441.10V242.20H441.72V242.20H442.34V242.20H442.96V242.20H443.58V242.20H444.20V242.20H444.82V242.20H445.44V242.20H446.06V242.20H446.68V242.20H447.30V242.20H447.92V242.20H448.54V242.20H449.16V242.20H449.78V242.20H450.40V242.20H451.02V242.20H451.64V242.20H452.26V242.20H452.88V242.20H453.50V242.20H454.12V242.20H454.74V242.20H455.36V242.20H455.98V242.20H456.60V242.20H457.22V242.20H457.84V242.20H458.46V242.20H459.08V242.20H459.70" fill="none" stroke="#000000" stroke-width="1.9"/>
<path d="M38.10,242.20H38.72V242.20H39.34V242.20H39.96V242.20H40.58V242.20H41.20V242.20H41.82V242.20H42.44V242.20H43.06V242.20H43.68V242.20H44.30V242.20H44.92V242.20H45.54V242.20H46.16V242.20H46.78V242.20H47.40V237.97H48.02V242.20H48.64V242.20H49.26V239.38H49.88V242.20H50.50V242.20H51.12V240.79H51.74V242.20H52.36V242.20H52.98V242.20H53.60V242.20H54.22V242.20H54.84V242.20H55.46V242.20H56.08V242.20H56.70V242.20H57.32V242.20H57.94V240.79H58.56V239.38H59.18V242.20H59.80V242.20H60.42V240.79H61.04V242.20H61.66V239.38H62.28V239.38H62.90V242.20H63.52V240.79H64.14V240.79H64.76V242.20H65.38V242.20H66.00V240.79H66.62V240.79H67.24V242.20H67.86V242.20H68.48V242.20H69.10V240.79H69.72V242.20H70.34V242.20H70.96V239.38H71.58V242.20H72.20V242.20H72.82V242.20H73.44V242.20H74.06V242.20H74.68V242.20H75.30V242.20H75.92V242.20H76.54V242.20H77.16V242.20H77.78V242.20H78.40V242.20H79.02V242.20H79.64V240.79H80.26V240.79H80.88V242.20H81.50V242.20H82.12V240.79H82.74V240.79H83.36V242.20H83.98V242.20H84.60V239.38H85.22V240.79H85.84V242.20H86.46V242.20H87.08V242.20H87.70V240.79H88.32V242.20H88.94V242.20H89.56V242.20H90.18V242.20H90.80V236.56H91.42V242.20H92.04V240.79H92.66V242.20H93.28V240.79H93.90V240.79H94.52V242.20H95.14V240.79H95.76V242.20H96.38V242.20H97.00V242.20H97.62V242.20H98.24V242.20H98.86V240.79H99.48V242.20H100.10V242.20H100.72V242.20H101.34V242.20H101.96V242.20H102.58V242.20H103.20V242.20H103.82V240.79H104.44V242.20H105.06V242.20H105.68V242.20H106.30V240.79H106.92V242.20H107.54V240.79H108.16V242.20H108.78V242.20H109.40V240.79H110.02V242.20H110.64V240.79H111.26V242.20H111.88V242.20H112.50V242.20H113.12V242.20H113.74V242.20H114.36V242.20H114.98V242.20H115.60V240.79H116.22V242.20H116.84V242.20H117.46V242.20H118.08V240.79H118.70V242.20H119.32V242.20H119.94V242.20H120.56V240.79H121.18V242.20H121.80V242.20H122.42V242.20H123.04V240.79H123.66V240.79H124.28V240.79H124.90V242.20H125.52V240.79H126.14V242.20H126.76V242.20H127.38V240.79H128.00V242.20H128.62V242.20H129.24V242.20H129.86V237.97H130.48V242.20H131.10V240.79H131.72V242.20H132.34V242.20H132.96V242.20H133.58V239.38H134.20V242.20H134.82V240.79H135.44V242.20H136.06V240.79H136.68V242.20H137.30V240.79H137.92V242.20H138.54V242.20H139.16V240.79H139.78V242.20H140.40V242.20H141.02V242.20H141.64V240.79H142.26V242.20H142.88V240.79H143.50V242.20H144.12V239.38H144.74V242.20H145.36V236.56H145.98V242.20H146.60V239.38H147.22V239.38H147.84V242.20H148.46V239.38H149.08V242.20H149.70V240.79H150.32V242.20H150.94V242.20H151.56V239.38H152.18V240.79H152.80V240.79H153.42V240.79H154.04V242.20H154.66V242.20H155.28V240.79H155.90V240.79H156.52V240.79H157.14V242.20H157.76V242.20H158.38V240.79H159.00V242.20H159.62V240.79H160.24V239.38H160.86V240.79H161.48V242.20H162.10V240.79H162.72V242.20H163.34V242.20H163.96V239.38H164.58V239.38H165.20V240.79H165.82V239.38H166.44V242.20H167.06V242.20H167.68V240.79H168.30V240.79H168.92V235.15H169.54V240.79H170.16V242.20H170.78V240.79H171.40V239.38H172.02V239.62H172.64V238.95H173.26V235.75H173.88V235.85H174.50V236.70H175.12V235.89H175.74V235.58H176.36V235.24H176.98V232.57H177.60V231.79H178.22V229.38H178.84V230.84H179.46V226.93H180.08V229.71H180.70V227.14H181.32V225.88H181.94V224.55H182.56V223.58H183.18V224.80H183.80V219.30H184.42V218.41H185.04V216.08H185.66V216.57H186.28V217.91H186.90V213.28H187.52V205.79H188.14V210.02H188.76V205.13H189.38V204.09H190.00V195.23H190.62V196.26H191.24V184.80H191.86V189.54H192.48V185.46H193.10V183.59H193.72V177.98H194.34V171.17H194.96V170.39H195.58V169.80H196.20V172.94H196.82V163.16H197.44V160.32H198.06V154.52H198.68V156.83H199.30V164.89H199.92V149.25H200.54V144.45H201.16V136.65H201.78V137.14H202.40V135.12H203.02V133.24H203.64V127.16H204.26V122.80H204.88V121.89H205.50V130.26H206.12V125.12H206.74V122.71H207.36V111.76H207.98V103.68H208.60V111.72H209.22V103.80H209.84V112.47H210.46V101.31H211.08V107.60H211.70V115.90H212.32V118.23H212.94V114.76H213.56V118.25H214.18V121.00H214.80V135.67H215.42V134.37H216.04V124.81H216.66V136.26H217.28V131.25H217.90V136.38H218.52V131.46H219.14V133.67H219.76V135.38H220.38V143.87H221.00V146.52H221.62V152.46H222.24V154.34H222.86V155.97H223.48V155.76H224.10V152.51H224.72V161.79H225.34V162.12H225.96V167.10H226.58V172.11H227.20V171.62H227.82V178.97H228.44V178.09H229.06V179.99H229.68V180.57H230.30V182.85H230.92V182.61H231.54V184.53H232.16V186.23H232.78V188.74H233.40V191.33H234.02V187.72H234.64V193.42H235.26V194.79H235.88V196.41H236.50V203.27H237.12V205.00H237.74V207.38H238.36V204.90H238.98V206.03H239.60V211.66H240.22V214.73H240.84V215.82H241.46V213.60H242.08V214.78H242.70V217.01H243.32V221.95H243.94V219.64H244.56V219.51H245.18V219.51H245.80V222.42H246.42V224.05H247.04V222.53H247.66V219.58H248.28V221.49H248.90V224.97H249.52V222.92H250.14V223.67H250.76V225.11H251.38V224.30H252.00V224.16H252.62V227.20H253.24V229.08H253.86V229.37H254.48V231.87H255.10V234.02H255.72V232.79H256.34V233.84H256.96V234.16H257.58V233.58H258.20V235.28H258.82V235.25H259.44V236.12H260.06V237.27H260.68V238.05H261.30V238.64H261.92V238.33H262.54V234.98H263.16V236.81H263.78V237.64H264.40V238.67H265.02V238.42H265.64V236.80H266.26V235.77H266.88V235.30H267.50V236.57H268.12V235.09H268.74V236.46H269.36V236.70H269.98V235.03H270.60V235.47H271.22V237.46H271.84V237.31H272.46V236.80H273.08V237.75H273.70V238.38H274.32V237.60H274.94V237.59H275.56V237.34H276.18V238.78H276.80V235.15H277.42V237.97H278.04V236.56H278.66V242.20H279.28V237.97H279.90V239.38H280.52V236.56H281.14V236.56H281.76V239.38H282.38V239.38H283.00V239.38H283.62V237.97H284.24V236.56H284.86V239.38H285.48V239.38H286.10V239.38H286.72V240.79H287.34V236.56H287.96V239.38H288.58V240.79H289.20V240.79H289.82V239.38H290.44V237.97H291.06V239.38H291.68V240.79H292.30V239.38H292.92V237.97H293.54V240.79H294.16V240.79H294.78V237.97H295.40V235.15H296.02V240.79H296.64V239.38H297.26V240.79H297.88V239.38H298.50V236.56H299.12V239.38H299.74V240.79H300.36V240.79H300.98V242.20H301.60V242.20H302.22V239.38H302.84V239.38H303.46V242.20H304.08V242.20H304.70V240.79H305.32V242.20H305.94V242.20H306.56V242.20H307.18V242.20H307.80V240.79H308.42V239.38H309.04V242.20H309.66V242.20H310.28V242.20H310.90V242.20H311.52V242.20H312.14V242.20H312.76V242.20H313.38V240.79H314.00V240.79H314.62V242.20H315.24V242.20H315.86V242.20H316.48V242.20H317.10V242.20H317.72V242.20H318.34V242.20H318.96V242.20H319.58V240.79H320.20V242.20H320.82V242.20H321.44V242.20H322.06V242.20H322.68V242.20H323.30V242.20H323.92V242.20H324.54V242.20H325.16V242.20H325.78V242.20H326.40V242.20H327.02V242.20H327.64V242.20H328.26V242.20H328.88V242.20H329.50V242.20H330.12V242.20H330.74V242.20H331.36V242.20H331.98V242.20H332.60V242.20H333.22V242.20H333.84V242.20H334.46V242.20H335.08V242.20H335.70V242.20H336.32V242.20H336.94V242.20H337.56V242.20H338.18V242.20H338.80V242.20H339.42V242.20H340.04V242.20H340.66V242.20H341.28V242.20H341.90V242.20H342.52V242.20H343.14V242.20H343.76V242.20H344.38V242.20H345.00V242.20H345.62V242.20H346.24V242.20H346.86V242.20H347.48V242.20H348.10V242.20H348.72V242.20H349.34V242.20H349.96V242.20H350.58V242.20H351.20V242.20H351.82V242.20H352.44V242.20H353.06V242.20H353.68V242.20H354.30V242.20H354.92V242.20H355.54V242.20H356.16V242.20H356.78V242.20H357.40V242.20H358.02V242.20H358.64V242.20H359.26V242.20H359.88V242.20H360.50V242.20H361.12V242.20H361.74V242.20H362.36V242.20H362.98V242.20H363.60V242.20H364.22V242.20H364.84V242.20H365.46V242.20H366.08V242.20H366.70V242.20H367.32V242.20H367.94V242.20H368.56V242.20H369.18V242.20H369.80V242.20H370.42V242.20H371.04V242.20H371.66V242.20H372.28V242.20H372.90V242.20H373.52V242.20H374.14V242.20H374.76V242.20H375.38V242.20H376.00V242.20H376.62V242.20H377.24V242.20H377.86V242.20H378.48V242.20H379.10V242.20H379.72V242.20H380.34V242.20H380.96V242.20H381.58V242.20H382.20V242.20H382.82V242.20H383.44V242.20H384.06V242.20H384.68V242.20H385.30V242.20H385.92V242.20H386.54V242.20H387.16V242.20H387.78V242.20H388.40V242.20H389.02V242.20H389.64V242.20H390.26V242.20H390.88V242.20H391.50V242.20H392.12V242.20H392.74V242.20H393.36V242.20H393.98V242.20H394.60V242.20H395.22V242.20H395.84V242.20H396.46V242.20H397.08V242.20H397.70V242.20H398.32V242.20H398.94V242.20H399.56V242.20H400.18V242.20H400.80V242.20H401.42V242.20H402.04V242.20H402.66V242.20H403.28V242.20H403.90V242.20H404.52V242.20H405.14V242.20H405.76V242.20H406.38V242.20H407.00V242.20H407.62V242.20H408.24V242.20H408.86V242.20H409.48V242.20H410.10V242.20H410.72V242.20H411.34V242.20H411.96V242.20H412.58V242.20H413.20V242.20H413.82V242.20H414.44V242.20H415.06V242.20H415.68V242.20H416.30V242.20H416.92V242.20H417.54V242.20H418.16V242.20H418.78V242.20H419.40V242.20H420.02V242.20H420.64V242.20H421.26V242.20H421.88V242.20H422.50V242.20H423.12V242.20H423.74V242.20H424.36V242.20H424.98V242.20H425.60V242.20H426.22V242.20H426.84V242.20H427.46V242.20H428.08V242.20H428.70V242.20H429.32V242.20H429.94V242.20H430.56V242.20H431.18V242.20H431.80V242.20H432.42V242.20H433.04V242.20H433.66V242.20H434.28V242.20H434.90V242.20H435.52V242.20H436.14V242.20H436.76V242.20H437.38V242.20H438.00V242.20H438.62V242.20H439.24V242.20H439.86V242.20H440.48V242.20H441.10V242.20H441.72V242.20H442.34V242.20H442.96V242.20H443.58V242.20H444.20V242.20H444.82V242.20H445.44V242.20H446.06V242.20H446.68V242.20H447.30V242.20H447.92V242.20H448.54V242.20H449.16V242.20H449.78V242.20H450.40V242.20H451.02V242.20H451.64V242.20H452.26V242.20H452.88V242.20H453.50V242.20H454.12V242.20H454.74V242.20H455.36V242.20H455.98V242.20H456.60V242.20H457.22V242.20H457.84V242.20H458.46V242.20H459.08V242.20H459.70" fill="none" stroke="#009966" stroke-width="1.9"/>
<rect x="37" y="235.70" width="2" height="7.00" fill="#009966" shape-rendering="crispEdges"/>
<text x="236.00" y="316.00" class="cap">(<tspan font-weight="bold" font-size="24.5px">a</tspan>)</text>
<g shape-rendering="crispEdges"><line x1="546.80" y1="16.30" x2="763.50" y2="16.30" stroke="#666" stroke-width="1.3"/><line x1="763.50" y1="16.30" x2="996.90" y2="16.30" stroke="#a8a8a8" stroke-width="1.3"/><line x1="996.40" y1="16.30" x2="996.40" y2="77.50" stroke="#a0a0a0" stroke-width="1"/><line x1="546.80" y1="16.30" x2="546.80" y2="241.50" stroke="#7a8a7a" stroke-width="1"/><line x1="542.00" y1="241.00" x2="546.30" y2="241.00" stroke="#777" stroke-width="1"/><line x1="544.00" y1="232.06" x2="546.30" y2="232.06" stroke="#777" stroke-width="1"/><line x1="544.00" y1="223.11" x2="546.30" y2="223.11" stroke="#777" stroke-width="1"/><line x1="544.00" y1="214.17" x2="546.30" y2="214.17" stroke="#777" stroke-width="1"/><line x1="544.00" y1="205.22" x2="546.30" y2="205.22" stroke="#777" stroke-width="1"/><line x1="542.00" y1="196.28" x2="546.30" y2="196.28" stroke="#777" stroke-width="1"/><line x1="544.00" y1="187.34" x2="546.30" y2="187.34" stroke="#777" stroke-width="1"/><line x1="544.00" y1="178.39" x2="546.30" y2="178.39" stroke="#777" stroke-width="1"/><line x1="544.00" y1="169.45" x2="546.30" y2="169.45" stroke="#777" stroke-width="1"/><line x1="544.00" y1="160.50" x2="546.30" y2="160.50" stroke="#777" stroke-width="1"/><line x1="542.00" y1="151.56" x2="546.30" y2="151.56" stroke="#777" stroke-width="1"/><line x1="544.00" y1="142.62" x2="546.30" y2="142.62" stroke="#777" stroke-width="1"/><line x1="544.00" y1="133.67" x2="546.30" y2="133.67" stroke="#777" stroke-width="1"/><line x1="544.00" y1="124.73" x2="546.30" y2="124.73" stroke="#777" stroke-width="1"/><line x1="544.00" y1="115.78" x2="546.30" y2="115.78" stroke="#777" stroke-width="1"/><line x1="542.00" y1="106.84" x2="546.30" y2="106.84" stroke="#777" stroke-width="1"/><line x1="544.00" y1="97.90" x2="546.30" y2="97.90" stroke="#777" stroke-width="1"/><line x1="544.00" y1="88.95" x2="546.30" y2="88.95" stroke="#777" stroke-width="1"/><line x1="544.00" y1="80.01" x2="546.30" y2="80.01" stroke="#777" stroke-width="1"/><line x1="544.00" y1="71.06" x2="546.30" y2="71.06" stroke="#777" stroke-width="1"/><line x1="542.00" y1="62.12" x2="546.30" y2="62.12" stroke="#777" stroke-width="1"/><line x1="544.00" y1="53.18" x2="546.30" y2="53.18" stroke="#777" stroke-width="1"/><line x1="544.00" y1="44.23" x2="546.30" y2="44.23" stroke="#777" stroke-width="1"/><line x1="544.00" y1="35.29" x2="546.30" y2="35.29" stroke="#777" stroke-width="1"/><line x1="544.00" y1="26.34" x2="546.30" y2="26.34" stroke="#777" stroke-width="1"/><line x1="542.00" y1="17.40" x2="546.30" y2="17.40" stroke="#777" stroke-width="1"/><line x1="547.80" y1="242.80" x2="547.80" y2="247.00" stroke="#808080" stroke-width="1"/><line x1="581.48" y1="242.80" x2="581.48" y2="244.80" stroke="#9a9a9a" stroke-width="1"/><line x1="601.18" y1="242.80" x2="601.18" y2="244.80" stroke="#9a9a9a" stroke-width="1"/><line x1="615.16" y1="242.80" x2="615.16" y2="244.80" stroke="#9a9a9a" stroke-width="1"/><line x1="626.00" y1="242.80" x2="626.00" y2="244.80" stroke="#9a9a9a" stroke-width="1"/><line x1="634.86" y1="242.80" x2="634.86" y2="244.80" stroke="#9a9a9a" stroke-width="1"/><line x1="642.35" y1="242.80" x2="642.35" y2="244.80" stroke="#9a9a9a" stroke-width="1"/><line x1="648.83" y1="242.80" x2="648.83" y2="244.80" stroke="#9a9a9a" stroke-width="1"/><line x1="654.56" y1="242.80" x2="654.56" y2="244.80" stroke="#9a9a9a" stroke-width="1"/><line x1="659.67" y1="242.80" x2="659.67" y2="247.00" stroke="#808080" stroke-width="1"/><line x1="693.35" y1="242.80" x2="693.35" y2="244.80" stroke="#9a9a9a" stroke-width="1"/><line x1="713.05" y1="242.80" x2="713.05" y2="244.80" stroke="#9a9a9a" stroke-width="1"/><line x1="727.03" y1="242.80" x2="727.03" y2="244.80" stroke="#9a9a9a" stroke-width="1"/><line x1="737.87" y1="242.80" x2="737.87" y2="244.80" stroke="#9a9a9a" stroke-width="1"/><line x1="746.73" y1="242.80" x2="746.73" y2="244.80" stroke="#9a9a9a" stroke-width="1"/><line x1="754.22" y1="242.80" x2="754.22" y2="244.80" stroke="#9a9a9a" stroke-width="1"/><line x1="760.71" y1="242.80" x2="760.71" y2="244.80" stroke="#9a9a9a" stroke-width="1"/><line x1="766.43" y1="242.80" x2="766.43" y2="244.80" stroke="#9a9a9a" stroke-width="1"/><line x1="771.55" y1="242.80" x2="771.55" y2="247.00" stroke="#808080" stroke-width="1"/><line x1="805.23" y1="242.80" x2="805.23" y2="244.80" stroke="#9a9a9a" stroke-width="1"/><line x1="824.93" y1="242.80" x2="824.93" y2="244.80" stroke="#9a9a9a" stroke-width="1"/><line x1="838.91" y1="242.80" x2="838.91" y2="244.80" stroke="#9a9a9a" stroke-width="1"/><line x1="849.75" y1="242.80" x2="849.75" y2="244.80" stroke="#9a9a9a" stroke-width="1"/><line x1="858.61" y1="242.80" x2="858.61" y2="244.80" stroke="#9a9a9a" stroke-width="1"/><line x1="866.10" y1="242.80" x2="866.10" y2="244.80" stroke="#9a9a9a" stroke-width="1"/><line x1="872.58" y1="242.80" x2="872.58" y2="244.80" stroke="#9a9a9a" stroke-width="1"/><line x1="878.31" y1="242.80" x2="878.31" y2="244.80" stroke="#9a9a9a" stroke-width="1"/><line x1="883.42" y1="242.80" x2="883.42" y2="247.00" stroke="#808080" stroke-width="1"/><line x1="917.10" y1="242.80" x2="917.10" y2="244.80" stroke="#9a9a9a" stroke-width="1"/><line x1="936.80" y1="242.80" x2="936.80" y2="244.80" stroke="#9a9a9a" stroke-width="1"/><line x1="950.78" y1="242.80" x2="950.78" y2="244.80" stroke="#9a9a9a" stroke-width="1"/><line x1="961.62" y1="242.80" x2="961.62" y2="244.80" stroke="#9a9a9a" stroke-width="1"/><line x1="970.48" y1="242.80" x2="970.48" y2="244.80" stroke="#9a9a9a" stroke-width="1"/><line x1="977.97" y1="242.80" x2="977.97" y2="244.80" stroke="#9a9a9a" stroke-width="1"/><line x1="984.46" y1="242.80" x2="984.46" y2="244.80" stroke="#9a9a9a" stroke-width="1"/><line x1="990.18" y1="242.80" x2="990.18" y2="244.80" stroke="#9a9a9a" stroke-width="1"/><line x1="995.30" y1="242.80" x2="995.30" y2="247.00" stroke="#808080" stroke-width="1"/></g>
<text x="534.80" y="241.00" transform="rotate(-90 534.80 241.00)" class="yl" letter-spacing="0">0</text>
<text x="534.80" y="195.53" transform="rotate(-90 534.80 195.53)" class="yl" letter-spacing="1.5">40</text>
<text x="534.80" y="150.81" transform="rotate(-90 534.80 150.81)" class="yl" letter-spacing="1.5">80</text>
<text x="534.80" y="106.09" transform="rotate(-90 534.80 106.09)" class="yl" letter-spacing="1.5">120</text>
<text x="534.80" y="61.37" transform="rotate(-90 534.80 61.37)" class="yl" letter-spacing="1.5">160</text>
<text x="534.80" y="16.65" transform="rotate(-90 534.80 16.65)" class="yl" letter-spacing="1.5">200</text>
<text x="523.40" y="131.35" transform="rotate(-90 523.40 131.35)" class="yl" textLength="39.3" lengthAdjust="spacing">Counts</text>
<text x="547.20" y="258.90" class="xl">10<tspan dx="1.2" dy="-4.3" class="sup">0</tspan></text>
<text x="659.07" y="258.90" class="xl">10<tspan dx="1.2" dy="-4.3" class="sup">1</tspan></text>
<text x="770.95" y="258.90" class="xl">10<tspan dx="1.2" dy="-4.3" class="sup">2</tspan></text>
<text x="882.82" y="258.90" class="xl">10<tspan dx="1.2" dy="-4.3" class="sup">3</tspan></text>
<text x="994.70" y="258.90" class="xl">10<tspan dx="1.2" dy="-4.3" class="sup">4</tspan></text>
<text x="772.35" y="270.30" class="xl">FL2-H</text>
<path d="M549.50,241.50H550.12V229.15H550.74V225.34H551.36V227.87H551.98V227.34H552.60V229.38H553.22V226.97H553.84V228.23H554.46V224.79H555.08V220.05H555.70V219.36H556.32V221.67H556.94V225.36H557.56V221.08H558.18V217.44H558.80V215.61H559.42V214.46H560.04V206.66H560.66V205.24H561.28V213.83H561.90V216.78H562.52V208.71H563.14V201.52H563.76V201.28H564.38V202.65H565.00V201.77H565.62V199.47H566.24V200.82H566.86V197.46H567.48V198.03H568.10V185.61H568.72V182.82H569.34V183.68H569.96V173.72H570.58V154.52H571.20V155.86H571.82V174.08H572.44V161.43H573.06V158.36H573.68V171.33H574.30V172.69H574.92V161.26H575.54V157.43H576.16V145.89H576.78V132.75H577.40V132.41H578.02V127.43H578.64V119.14H579.26V117.40H579.88V114.46H580.50V109.71H581.12V111.05H581.74V102.95H582.36V120.86H582.98V110.32H583.60V107.77H584.22V109.38H584.84V108.64H585.46V112.33H586.08V117.96H586.70V110.48H587.32V95.40H587.94V103.50H588.56V107.23H589.18V110.23H589.80V120.10H590.42V115.15H591.04V113.00H591.66V128.37H592.28V126.17H592.90V121.14H593.52V119.50H594.14V119.66H594.76V131.29H595.38V122.93H596.00V132.81H596.62V136.39H597.24V135.26H597.86V139.84H598.48V145.69H599.10V143.86H599.72V150.33H600.34V154.51H600.96V154.06H601.58V155.60H602.20V160.66H602.82V168.59H603.44V165.92H604.06V172.45H604.68V188.43H605.30V185.21H605.92V195.30H606.54V201.90H607.16V190.09H607.78V192.06H608.40V197.43H609.02V194.65H609.64V192.97H610.26V196.07H610.88V194.93H611.50V196.82H612.12V200.20H612.74V204.89H613.36V202.80H613.98V205.90H614.60V207.22H615.22V212.00H615.84V212.46H616.46V213.37H617.08V217.30H617.70V212.49H618.32V208.02H618.94V209.10H619.56V211.67H620.18V219.96H620.80V218.31H621.42V216.29H622.04V220.07H622.66V221.17H623.28V228.44H623.90V223.40H624.52V225.12H625.14V227.91H625.76V229.28H626.38V225.80H627.00V230.10H627.62V230.39H628.24V226.84H628.86V228.36H629.48V232.03H630.10V228.96H630.72V231.62H631.34V229.16H631.96V230.80H632.58V231.10H633.20V231.01H633.82V229.69H634.44V229.91H635.06V232.76H635.68V232.76H636.30V234.53H636.92V236.95H637.54V238.96H638.16V239.00H638.78V235.07H639.40V234.96H640.02V238.43H640.64V236.25H641.26V236.40H641.88V234.99H642.50V235.89H643.12V237.13H643.74V233.87H644.36V237.72H644.98V237.81H645.60V236.45H646.22V234.67H646.84V237.41H647.46V237.53H648.08V239.01H648.70V236.18H649.32V238.49H649.94V238.63H650.56V237.25H651.18V238.09H651.80V238.29H652.42V235.86H653.04V236.09H653.66V240.10H654.28V240.10H654.90V238.69H655.52V238.69H656.14V234.48H656.76V240.10H657.38V237.29H658.00V235.88H658.62V238.69H659.24V241.50H659.86V238.69H660.48V240.10H661.10V238.69H661.72V238.69H662.34V238.69H662.96V237.29H663.58V237.29H664.20V238.69H664.82V241.50H665.44V240.10H666.06V241.50H666.68V240.10H667.30V237.29H667.92V238.69H668.54V240.10H669.16V241.50H669.78V240.10H670.40V241.50H671.02V241.50H671.64V241.50H672.26V240.10H672.88V240.10H673.50V237.29H674.12V240.10H674.74V241.50H675.36V238.69H675.98V241.50H676.60V241.50H677.22V240.10H677.84V241.50H678.46V241.50H679.08V241.50H679.70V241.50H680.32V241.50H680.94V241.50H681.56V241.50H682.18V241.50H682.80V240.10H683.42V241.50H684.04V238.69H684.66V241.50H685.28V241.50H685.90V240.10H686.52V241.50H687.14V241.50H687.76V240.10H688.38V241.50H689.00V241.50H689.62V241.50H690.24V241.50H690.86V241.50H691.48V240.10H692.10V241.50H692.72V241.50H693.34V240.10H693.96V241.50H694.58V241.50H695.20V241.50H695.82V241.50H696.44V241.50H697.06V241.50H697.68V241.50H698.30V241.50H698.92V241.50H699.54V241.50H700.16V241.50H700.78V241.50H701.40V241.50H702.02V241.50H702.64V241.50H703.26V241.50H703.88V241.50H704.50V241.50H705.12V241.50H705.74V241.50H706.36V241.50H706.98V241.50H707.60V241.50H708.22V241.50H708.84V241.50H709.46V241.50H710.08V241.50H710.70V241.50H711.32V241.50H711.94V241.50H712.56V241.50H713.18V241.50H713.80V241.50H714.42V241.50H715.04V241.50H715.66V241.50H716.28V241.50H716.90V241.50H717.52V241.50H718.14V241.50H718.76V241.50H719.38V241.50H720.00V241.50H720.62V241.50H721.24V241.50H721.86V241.50H722.48V241.50H723.10V241.50H723.72V241.50H724.34V241.50H724.96V241.50H725.58V241.50H726.20V241.50H726.82V241.50H727.44V241.50H728.06V241.50H728.68V241.50H729.30V241.50H729.92V241.50H730.54V241.50H731.16V241.50H731.78V241.50H732.40V241.50H733.02V241.50H733.64V241.50H734.26V241.50H734.88V241.50H735.50V241.50H736.12V241.50H736.74V241.50H737.36V241.50H737.98V241.50H738.60V241.50H739.22V241.50H739.84V241.50H740.46V241.50H741.08V241.50H741.70V241.50H742.32V241.50H742.94V241.50H743.56V241.50H744.18V241.50H744.80V241.50H745.42V241.50H746.04V241.50H746.66V241.50H747.28V241.50H747.90V241.50H748.52V241.50H749.14V241.50H749.76V241.50H750.38V241.50H751.00V241.50H751.62V241.50H752.24V241.50H752.86V241.50H753.48V241.50H754.10V241.50H754.72V241.50H755.34V241.50H755.96V241.50H756.58V241.50H757.20V241.50H757.82V241.50H758.44V241.50H759.06V241.50H759.68V241.50H760.30V241.50H760.92V241.50H761.54V241.50H762.16V241.50H762.78V241.50H763.40V241.50H764.02V241.50H764.64V241.50H765.26V241.50H765.88V241.50H766.50V241.50H767.12V241.50H767.74V241.50H768.36V241.50H768.98V241.50H769.60V241.50H770.22V241.50H770.84V241.50H771.46V241.50H772.08V241.50H772.70V241.50H773.32V241.50H773.94V241.50H774.56V241.50H775.18V241.50H775.80V241.50H776.42V241.50H777.04V241.50H777.66V241.50H778.28V241.50H778.90V241.50H779.52V241.50H780.14V241.50H780.76V241.50H781.38V241.50H782.00V241.50H782.62V241.50H783.24V241.50H783.86V241.50H784.48V241.50H785.10V241.50H785.72V241.50H786.34V241.50H786.96V241.50H787.58V241.50H788.20V241.50H788.82V241.50H789.44V241.50H790.06V241.50H790.68V241.50H791.30V241.50H791.92V241.50H792.54V241.50H793.16V241.50H793.78V241.50H794.40V241.50H795.02V241.50H795.64V241.50H796.26V241.50H796.88V241.50H797.50V241.50H798.12V241.50H798.74V241.50H799.36V241.50H799.98V241.50H800.60V241.50H801.22V241.50H801.84V241.50H802.46V241.50H803.08V241.50H803.70V241.50H804.32V241.50H804.94V241.50H805.56V241.50H806.18V241.50H806.80V241.50H807.42V241.50H808.04V241.50H808.66V241.50H809.28V241.50H809.90V241.50H810.52V241.50H811.14V241.50H811.76V241.50H812.38V241.50H813.00V241.50H813.62V241.50H814.24V241.50H814.86V241.50H815.48V241.50H816.10V241.50H816.72V241.50H817.34V241.50H817.96V241.50H818.58V241.50H819.20V241.50H819.82V241.50H820.44V241.50H821.06V241.50H821.68V241.50H822.30V241.50H822.92V241.50H823.54V241.50H824.16V241.50H824.78V241.50H825.40V241.50H826.02V241.50H826.64V241.50H827.26V241.50H827.88V241.50H828.50V241.50H829.12V241.50H829.74V241.50H830.36V241.50H830.98V241.50H831.60V241.50H832.22V241.50H832.84V241.50H833.46V241.50H834.08V241.50H834.70V241.50H835.32V241.50H835.94V241.50H836.56V241.50H837.18V241.50H837.80V241.50H838.42V241.50H839.04V241.50H839.66V241.50H840.28V241.50H840.90V241.50H841.52V241.50H842.14V241.50H842.76V241.50H843.38V241.50H844.00V241.50H844.62V241.50H845.24V241.50H845.86V241.50H846.48V241.50H847.10V241.50H847.72V241.50H848.34V241.50H848.96V241.50H849.58V241.50H850.20V241.50H850.82V241.50H851.44V241.50H852.06V241.50H852.68V241.50H853.30V241.50H853.92V241.50H854.54V241.50H855.16V241.50H855.78V241.50H856.40V241.50H857.02V241.50H857.64V241.50H858.26V241.50H858.88V241.50H859.50V241.50H860.12V241.50H860.74V241.50H861.36V241.50H861.98V241.50H862.60V241.50H863.22V241.50H863.84V241.50H864.46V241.50H865.08V241.50H865.70V241.50H866.32V241.50H866.94V241.50H867.56V241.50H868.18V241.50H868.80V241.50H869.42V241.50H870.04V241.50H870.66V241.50H871.28V241.50H871.90V241.50H872.52V241.50H873.14V241.50H873.76V241.50H874.38V241.50H875.00V241.50H875.62V241.50H876.24V241.50H876.86V241.50H877.48V241.50H878.10V241.50H878.72V241.50H879.34V241.50H879.96V241.50H880.58V241.50H881.20V241.50H881.82V241.50H882.44V241.50H883.06V241.50H883.68V241.50H884.30V241.50H884.92V241.50H885.54V241.50H886.16V241.50H886.78V241.50H887.40V241.50H888.02V241.50H888.64V241.50H889.26V241.50H889.88V241.50H890.50V241.50H891.12V241.50H891.74V241.50H892.36V241.50H892.98V241.50H893.60V241.50H894.22V241.50H894.84V241.50H895.46V241.50H896.08V241.50H896.70V241.50H897.32V241.50H897.94V241.50H898.56V241.50H899.18V241.50H899.80V241.50H900.42V241.50H901.04V241.50H901.66V241.50H902.28V241.50H902.90V241.50H903.52V241.50H904.14V241.50H904.76V241.50H905.38V241.50H906.00V241.50H906.62V241.50H907.24V241.50H907.86V241.50H908.48V241.50H909.10V241.50H909.72V241.50H910.34V241.50H910.96V241.50H911.58V241.50H912.20V241.50H912.82V241.50H913.44V241.50H914.06V241.50H914.68V241.50H915.30V241.50H915.92V241.50H916.54V241.50H917.16V241.50H917.78V241.50H918.40V241.50H919.02V241.50H919.64V241.50H920.26V241.50H920.88V241.50H921.50V241.50H922.12V241.50H922.74V241.50H923.36V241.50H923.98V241.50H924.60V241.50H925.22V241.50H925.84V241.50H926.46V241.50H927.08V241.50H927.70V241.50H928.32V241.50H928.94V241.50H929.56V241.50H930.18V241.50H930.80V241.50H931.42V241.50H932.04V241.50H932.66V241.50H933.28V241.50H933.90V241.50H934.52V241.50H935.14V241.50H935.76V241.50H936.38V241.50H937.00V241.50H937.62V241.50H938.24V241.50H938.86V241.50H939.48V241.50H940.10V241.50H940.72V241.50H941.34V241.50H941.96V241.50H942.58V241.50H943.20V241.50H943.82V241.50H944.44V241.50H945.06V241.50H945.68V241.50H946.30V241.50H946.92V241.50H947.54V241.50H948.16V241.50H948.78V241.50H949.40V241.50H950.02V241.50H950.64V241.50H951.26V241.50H951.88V241.50H952.50V241.50H953.12V241.50H953.74V241.50H954.36V241.50H954.98V241.50H955.60V241.50H956.22V241.50H956.84V241.50H957.46V241.50H958.08V241.50H958.70V241.50H959.32V241.50H959.94V241.50H960.56V241.50H961.18V241.50H961.80V241.50H962.42V241.50H963.04V241.50H963.66V241.50H964.28V241.50H964.90V241.50H965.52V241.50H966.14V241.50H966.76V241.50H967.38V241.50H968.00V241.50H968.62V241.50H969.24V241.50H969.86V241.50H970.48V241.50H971.10V241.50H971.72V241.50H972.34V241.50H972.96V241.50H973.58V241.50H974.20V241.50H974.82V241.50H975.44V241.50H976.06V241.50H976.68V241.50H977.30V241.50H977.92V241.50H978.54V241.50H979.16V241.50H979.78V241.50H980.40V241.50H981.02V241.50H981.64V241.50H982.26V241.50H982.88V241.50H983.50V241.50H984.12V241.50H984.74V241.50H985.36V241.50H985.98V241.50H986.60V241.50H987.22V241.50H987.84V241.50H988.46V241.50H989.08V241.50H989.70V241.50H990.32V241.50H990.94V241.50H991.56V241.50H992.18V241.50H992.80V241.50H993.42V241.50H994.04V241.50H994.66V241.50H995.28V241.50H995.90V241.50H996.52" fill="none" stroke="#ff1a99" stroke-width="1.05"/>
<rect x="547" y="16.30" width="2" height="225.70" fill="#ff2a9d" shape-rendering="crispEdges"/>
<rect x="548" y="124.90" width="2" height="117.10" fill="#ff1a99" shape-rendering="crispEdges"/>
<path d="M549.50,241.50H550.12V241.50H550.74V241.50H551.36V241.50H551.98V241.50H552.60V241.50H553.22V240.10H553.84V240.10H554.46V240.10H555.08V241.50H555.70V241.50H556.32V241.50H556.94V241.50H557.56V240.10H558.18V241.50H558.80V240.10H559.42V241.50H560.04V241.50H560.66V241.50H561.28V241.50H561.90V241.50H562.52V241.50H563.14V240.10H563.76V241.50H564.38V241.50H565.00V240.10H565.62V240.10H566.24V241.50H566.86V238.69H567.48V240.10H568.10V240.10H568.72V240.10H569.34V241.50H569.96V241.50H570.58V240.10H571.20V241.50H571.82V241.50H572.44V238.69H573.06V241.50H573.68V240.10H574.30V240.10H574.92V241.50H575.54V240.10H576.16V241.50H576.78V240.10H577.40V241.50H578.02V240.10H578.64V241.50H579.26V241.50H579.88V240.10H580.50V240.10H581.12V240.10H581.74V241.50H582.36V241.50H582.98V241.50H583.60V240.10H584.22V241.50H584.84V241.50H585.46V241.50H586.08V241.50H586.70V241.50H587.32V241.50H587.94V241.50H588.56V240.10H589.18V241.50H589.80V241.50H590.42V240.10H591.04V241.50H591.66V241.50H592.28V241.50H592.90V240.10H593.52V241.50H594.14V237.29H594.76V241.50H595.38V241.50H596.00V241.50H596.62V241.50H597.24V240.10H597.86V240.10H598.48V241.50H599.10V241.50H599.72V241.50H600.34V241.50H600.96V240.10H601.58V241.50H602.20V240.10H602.82V241.50H603.44V238.69H604.06V241.50H604.68V241.50H605.30V241.50H605.92V240.10H606.54V241.50H607.16V241.50H607.78V241.50H608.40V240.10H609.02V240.10H609.64V240.10H610.26V240.10H610.88V241.50H611.50V241.50H612.12V241.50H612.74V241.50H613.36V241.50H613.98V241.50H614.60V240.10H615.22V241.50H615.84V240.10H616.46V238.69H617.08V237.29H617.70V241.50H618.32V241.50H618.94V241.50H619.56V240.10H620.18V240.10H620.80V241.50H621.42V241.50H622.04V240.10H622.66V238.69H623.28V241.50H623.90V240.10H624.52V240.10H625.14V241.50H625.76V238.69H626.38V241.50H627.00V240.10H627.62V241.50H628.24V241.50H628.86V241.50H629.48V241.50H630.10V241.50H630.72V240.10H631.34V241.50H631.96V241.50H632.58V241.50H633.20V238.69H633.82V241.50H634.44V240.10H635.06V241.50H635.68V240.10H636.30V241.50H636.92V240.10H637.54V240.10H638.16V241.50H638.78V238.69H639.40V240.10H640.02V241.50H640.64V240.10H641.26V238.69H641.88V240.10H642.50V240.10H643.12V241.50H643.74V241.50H644.36V240.10H644.98V240.10H645.60V240.10H646.22V241.50H646.84V240.10H647.46V240.10H648.08V240.10H648.70V241.50H649.32V241.50H649.94V241.50H650.56V240.10H651.18V240.10H651.80V238.69H652.42V241.50H653.04V240.10H653.66V240.10H654.28V241.50H654.90V241.50H655.52V241.50H656.14V241.50H656.76V241.50H657.38V240.10H658.00V238.69H658.62V240.10H659.24V241.50H659.86V240.10H660.48V240.10H661.10V241.50H661.72V238.69H662.34V238.69H662.96V241.50H663.58V240.10H664.20V238.69H664.82V240.10H665.44V240.10H666.06V241.50H666.68V241.50H667.30V241.50H667.92V240.10H668.54V241.50H669.16V235.88H669.78V241.50H670.40V238.69H671.02V240.10H671.64V241.50H672.26V240.10H672.88V241.50H673.50V238.69H674.12V240.10H674.74V240.10H675.36V241.50H675.98V234.48H676.60V240.10H677.22V240.10H677.84V234.48H678.46V241.50H679.08V238.69H679.70V240.10H680.32V238.69H680.94V238.69H681.56V241.50H682.18V240.10H682.80V238.69H683.42V240.10H684.04V238.69H684.66V238.69H685.28V241.50H685.90V237.19H686.52V236.73H687.14V238.05H687.76V237.14H688.38V236.47H689.00V237.44H689.62V235.25H690.24V236.08H690.86V237.13H691.48V236.89H692.10V237.05H692.72V235.66H693.34V234.34H693.96V232.88H694.58V234.04H695.20V232.91H695.82V232.79H696.44V231.49H697.06V232.79H697.68V232.04H698.30V231.15H698.92V229.94H699.54V230.75H700.16V226.51H700.78V228.27H701.40V230.81H702.02V227.92H702.64V223.82H703.26V222.31H703.88V219.77H704.50V220.27H705.12V218.95H705.74V217.38H706.36V216.31H706.98V217.57H707.60V215.58H708.22V211.71H708.84V209.58H709.46V212.72H710.08V209.98H710.70V208.80H711.32V204.06H711.94V206.12H712.56V205.91H713.18V202.18H713.80V196.23H714.42V195.28H715.04V192.19H715.66V186.68H716.28V182.62H716.90V185.48H717.52V188.94H718.14V179.81H718.76V170.41H719.38V173.98H720.00V172.59H720.62V170.04H721.24V163.65H721.86V153.48H722.48V153.45H723.10V143.77H723.72V138.56H724.34V142.31H724.96V141.63H725.58V144.23H726.20V136.90H726.82V140.12H727.44V135.91H728.06V130.06H728.68V114.35H729.30V105.25H729.92V96.54H730.54V103.14H731.16V102.71H731.78V97.35H732.40V93.18H733.02V71.25H733.64V88.12H734.26V102.03H734.88V98.43H735.50V92.60H736.12V93.19H736.74V94.35H737.36V98.01H737.98V91.48H738.60V92.92H739.22V84.71H739.84V97.36H740.46V107.21H741.08V108.37H741.70V104.82H742.32V106.54H742.94V99.66H743.56V109.45H744.18V108.23H744.80V113.70H745.42V115.70H746.04V122.74H746.66V135.26H747.28V138.83H747.90V132.26H748.52V144.53H749.14V147.25H749.76V153.07H750.38V155.74H751.00V157.85H751.62V156.29H752.24V156.68H752.86V159.93H753.48V169.66H754.10V176.65H754.72V178.21H755.34V184.06H755.96V187.23H756.58V190.04H757.20V191.99H757.82V195.83H758.44V193.41H759.06V204.29H759.68V212.73H760.30V208.62H760.92V209.44H761.54V210.85H762.16V215.05H762.78V217.61H763.40V219.56H764.02V223.33H764.64V225.31H765.26V221.77H765.88V223.45H766.50V224.81H767.12V225.97H767.74V226.75H768.36V230.24H768.98V233.99H769.60V231.19H770.22V230.45H770.84V232.56H771.46V236.06H772.08V236.43H772.70V233.63H773.32V233.15H773.94V234.50H774.56V234.46H775.18V235.81H775.80V236.68H776.42V236.83H777.04V235.93H777.66V236.72H778.28V238.17H778.90V238.21H779.52V237.15H780.14V236.79H780.76V238.69H781.38V235.88H782.00V237.29H782.62V238.69H783.24V238.69H783.86V235.88H784.48V241.50H785.10V238.69H785.72V241.50H786.34V238.69H786.96V240.10H787.58V237.29H788.20V240.10H788.82V240.10H789.44V241.50H790.06V240.10H790.68V241.50H791.30V241.50H791.92V241.50H792.54V241.50H793.16V241.50H793.78V241.50H794.40V240.10H795.02V241.50H795.64V241.50H796.26V241.50H796.88V241.50H797.50V241.50H798.12V241.50H798.74V241.50H799.36V241.50H799.98V241.50H800.60V241.50H801.22V241.50H801.84V241.50H802.46V241.50H803.08V241.50H803.70V241.50H804.32V241.50H804.94V241.50H805.56V241.50H806.18V241.50H806.80V241.50H807.42V241.50H808.04V241.50H808.66V241.50H809.28V241.50H809.90V241.50H810.52V241.50H811.14V241.50H811.76V241.50H812.38V241.50H813.00V241.50H813.62V241.50H814.24V241.50H814.86V241.50H815.48V241.50H816.10V241.50H816.72V241.50H817.34V241.50H817.96V241.50H818.58V241.50H819.20V241.50H819.82V241.50H820.44V241.50H821.06V241.50H821.68V241.50H822.30V241.50H822.92V241.50H823.54V241.50H824.16V241.50H824.78V241.50H825.40V241.50H826.02V241.50H826.64V241.50H827.26V241.50H827.88V241.50H828.50V241.50H829.12V241.50H829.74V241.50H830.36V241.50H830.98V241.50H831.60V241.50H832.22V241.50H832.84V241.50H833.46V241.50H834.08V241.50H834.70V241.50H835.32V241.50H835.94V241.50H836.56V241.50H837.18V241.50H837.80V241.50H838.42V241.50H839.04V241.50H839.66V241.50H840.28V241.50H840.90V241.50H841.52V241.50H842.14V241.50H842.76V241.50H843.38V241.50H844.00V241.50H844.62V241.50H845.24V241.50H845.86V241.50H846.48V241.50H847.10V241.50H847.72V241.50H848.34V241.50H848.96V241.50H849.58V241.50H850.20V241.50H850.82V241.50H851.44V241.50H852.06V241.50H852.68V241.50H853.30V241.50H853.92V241.50H854.54V241.50H855.16V241.50H855.78V241.50H856.40V241.50H857.02V241.50H857.64V241.50H858.26V241.50H858.88V241.50H859.50V241.50H860.12V241.50H860.74V241.50H861.36V241.50H861.98V241.50H862.60V241.50H863.22V241.50H863.84V241.50H864.46V241.50H865.08V241.50H865.70V241.50H866.32V241.50H866.94V241.50H867.56V241.50H868.18V241.50H868.80V241.50H869.42V241.50H870.04V241.50H870.66V241.50H871.28V241.50H871.90V241.50H872.52V241.50H873.14V241.50H873.76V241.50H874.38V241.50H875.00V241.50H875.62V241.50H876.24V241.50H876.86V241.50H877.48V241.50H878.10V241.50H878.72V241.50H879.34V241.50H879.96V241.50H880.58V241.50H881.20V241.50H881.82V241.50H882.44V241.50H883.06V241.50H883.68V241.50H884.30V241.50H884.92V241.50H885.54V241.50H886.16V241.50H886.78V241.50H887.40V241.50H888.02V241.50H888.64V241.50H889.26V241.50H889.88V241.50H890.50V241.50H891.12V241.50H891.74V241.50H892.36V241.50H892.98V241.50H893.60V241.50H894.22V241.50H894.84V241.50H895.46V241.50H896.08V241.50H896.70V241.50H897.32V241.50H897.94V241.50H898.56V241.50H899.18V241.50H899.80V241.50H900.42V241.50H901.04V241.50H901.66V241.50H902.28V241.50H902.90V241.50H903.52V241.50H904.14V241.50H904.76V241.50H905.38V241.50H906.00V241.50H906.62V241.50H907.24V241.50H907.86V241.50H908.48V241.50H909.10V241.50H909.72V241.50H910.34V241.50H910.96V241.50H911.58V241.50H912.20V241.50H912.82V241.50H913.44V241.50H914.06V241.50H914.68V241.50H915.30V241.50H915.92V241.50H916.54V241.50H917.16V241.50H917.78V241.50H918.40V241.50H919.02V241.50H919.64V241.50H920.26V241.50H920.88V241.50H921.50V241.50H922.12V241.50H922.74V241.50H923.36V241.50H923.98V241.50H924.60V241.50H925.22V241.50H925.84V241.50H926.46V241.50H927.08V241.50H927.70V241.50H928.32V241.50H928.94V241.50H929.56V241.50H930.18V241.50H930.80V241.50H931.42V241.50H932.04V241.50H932.66V241.50H933.28V241.50H933.90V241.50H934.52V241.50H935.14V241.50H935.76V241.50H936.38V241.50H937.00V241.50H937.62V241.50H938.24V241.50H938.86V241.50H939.48V241.50H940.10V241.50H940.72V241.50H941.34V241.50H941.96V241.50H942.58V241.50H943.20V241.50H943.82V241.50H944.44V241.50H945.06V241.50H945.68V241.50H946.30V241.50H946.92V241.50H947.54V241.50H948.16V241.50H948.78V241.50H949.40V241.50H950.02V241.50H950.64V241.50H951.26V241.50H951.88V241.50H952.50V241.50H953.12V241.50H953.74V241.50H954.36V241.50H954.98V241.50H955.60V241.50H956.22V241.50H956.84V241.50H957.46V241.50H958.08V241.50H958.70V241.50H959.32V241.50H959.94V241.50H960.56V241.50H961.18V241.50H961.80V241.50H962.42V241.50H963.04V241.50H963.66V241.50H964.28V241.50H964.90V241.50H965.52V241.50H966.14V241.50H966.76V241.50H967.38V241.50H968.00V241.50H968.62V241.50H969.24V241.50H969.86V241.50H970.48V241.50H971.10V241.50H971.72V241.50H972.34V241.50H972.96V241.50H973.58V241.50H974.20V241.50H974.82V241.50H975.44V241.50H976.06V241.50H976.68V241.50H977.30V241.50H977.92V241.50H978.54V241.50H979.16V241.50H979.78V241.50H980.40V241.50H981.02V241.50H981.64V241.50H982.26V241.50H982.88V241.50H983.50V241.50H984.12V241.50H984.74V241.50H985.36V241.50H985.98V241.50H986.60V241.50H987.22V241.50H987.84V241.50H988.46V241.50H989.08V241.50H989.70V241.50H990.32V241.50H990.94V241.50H991.56V241.50H992.18V241.50H992.80V241.50H993.42V241.50H994.04V241.50H994.66V241.50H995.28V241.50H995.90V241.50H996.52" fill="none" stroke="#0000e6" stroke-width="1.9"/>
<rect x="548" y="236.00" width="2" height="6.00" fill="#0000e6" shape-rendering="crispEdges"/>
<path d="M549.50,241.50H550.12V241.50H550.74V241.50H551.36V241.50H551.98V241.50H552.60V240.10H553.22V241.50H553.84V241.50H554.46V241.50H555.08V241.50H555.70V241.50H556.32V241.50H556.94V241.50H557.56V241.50H558.18V241.50H558.80V240.10H559.42V241.50H560.04V241.50H560.66V241.50H561.28V241.50H561.90V241.50H562.52V241.50H563.14V241.50H563.76V241.50H564.38V241.50H565.00V241.50H565.62V241.50H566.24V241.50H566.86V240.10H567.48V241.50H568.10V241.50H568.72V241.50H569.34V240.10H569.96V241.50H570.58V241.50H571.20V241.50H571.82V241.50H572.44V240.10H573.06V241.50H573.68V240.10H574.30V241.50H574.92V241.50H575.54V241.50H576.16V241.50H576.78V240.10H577.40V241.50H578.02V240.10H578.64V241.50H579.26V241.50H579.88V241.50H580.50V241.50H581.12V240.10H581.74V240.10H582.36V241.50H582.98V240.10H583.60V241.50H584.22V241.50H584.84V238.69H585.46V240.10H586.08V241.50H586.70V240.10H587.32V241.50H587.94V241.50H588.56V241.50H589.18V241.50H589.80V241.50H590.42V241.50H591.04V241.50H591.66V240.10H592.28V240.10H592.90V241.50H593.52V240.10H594.14V238.69H594.76V241.50H595.38V241.50H596.00V241.50H596.62V241.50H597.24V240.10H597.86V240.10H598.48V241.50H599.10V241.50H599.72V241.50H600.34V241.50H600.96V241.50H601.58V241.50H602.20V240.10H602.82V241.50H603.44V240.10H604.06V240.10H604.68V241.50H605.30V240.10H605.92V240.10H606.54V240.10H607.16V240.10H607.78V241.50H608.40V240.10H609.02V241.50H609.64V241.50H610.26V240.10H610.88V241.50H611.50V238.69H612.12V241.50H612.74V241.50H613.36V240.10H613.98V240.10H614.60V241.50H615.22V241.50H615.84V241.50H616.46V238.69H617.08V241.50H617.70V241.50H618.32V240.10H618.94V241.50H619.56V241.50H620.18V241.50H620.80V240.10H621.42V238.69H622.04V240.10H622.66V241.50H623.28V240.10H623.90V241.50H624.52V241.50H625.14V241.50H625.76V241.50H626.38V241.50H627.00V238.69H627.62V241.50H628.24V241.50H628.86V241.50H629.48V241.50H630.10V241.50H630.72V241.50H631.34V241.50H631.96V241.50H632.58V240.10H633.20V240.10H633.82V241.50H634.44V241.50H635.06V241.50H635.68V241.50H636.30V240.10H636.92V241.50H637.54V238.69H638.16V240.10H638.78V241.50H639.40V241.50H640.02V240.10H640.64V241.50H641.26V240.10H641.88V240.10H642.50V238.69H643.12V238.69H643.74V240.10H644.36V241.50H644.98V240.10H645.60V240.10H646.22V240.10H646.84V241.50H647.46V241.50H648.08V241.50H648.70V240.10H649.32V240.10H649.94V238.69H650.56V240.10H651.18V241.50H651.80V241.50H652.42V241.50H653.04V241.50H653.66V240.10H654.28V240.10H654.90V240.10H655.52V240.10H656.14V241.50H656.76V241.50H657.38V240.10H658.00V241.50H658.62V241.50H659.24V241.50H659.86V238.69H660.48V241.50H661.10V241.50H661.72V241.50H662.34V241.50H662.96V240.10H663.58V241.50H664.20V240.10H664.82V240.10H665.44V240.10H666.06V241.50H666.68V241.50H667.30V240.10H667.92V241.50H668.54V237.29H669.16V241.50H669.78V238.69H670.40V240.10H671.02V241.50H671.64V241.50H672.26V240.10H672.88V241.50H673.50V238.69H674.12V240.10H674.74V241.50H675.36V238.69H675.98V238.69H676.60V240.10H677.22V240.10H677.84V240.10H678.46V241.50H679.08V241.50H679.70V241.50H680.32V240.10H680.94V241.50H681.56V240.10H682.18V240.10H682.80V238.69H683.42V241.50H684.04V240.10H684.66V241.50H685.28V241.50H685.90V240.10H686.52V238.69H687.14V240.10H687.76V241.50H688.38V241.50H689.00V241.50H689.62V241.50H690.24V241.50H690.86V240.10H691.48V237.29H692.10V237.29H692.72V238.69H693.34V237.29H693.96V240.10H694.58V240.10H695.20V238.69H695.82V240.10H696.44V238.69H697.06V241.50H697.68V240.10H698.30V240.10H698.92V240.10H699.54V238.69H700.16V240.10H700.78V240.10H701.40V235.88H702.02V240.10H702.64V241.50H703.26V238.69H703.88V241.50H704.50V238.69H705.12V240.10H705.74V238.69H706.36V241.50H706.98V241.50H707.60V241.50H708.22V238.69H708.84V238.69H709.46V237.29H710.08V238.69H710.70V240.10H711.32V241.50H711.94V238.69H712.56V238.69H713.18V238.69H713.80V237.29H714.42V235.88H715.04V238.75H715.66V237.92H716.28V238.52H716.90V237.03H717.52V236.57H718.14V237.84H718.76V236.52H719.38V236.29H720.00V240.13H720.62V236.12H721.24V232.96H721.86V230.69H722.48V233.37H723.10V233.89H723.72V233.02H724.34V232.91H724.96V232.58H725.58V233.84H726.20V230.93H726.82V230.42H727.44V229.71H728.06V229.37H728.68V229.18H729.30V230.29H729.92V228.45H730.54V228.59H731.16V231.06H731.78V225.89H732.40V224.84H733.02V227.56H733.64V226.30H734.26V221.85H734.88V223.96H735.50V219.62H736.12V222.07H736.74V225.01H737.36V222.64H737.98V223.62H738.60V222.18H739.22V219.29H739.84V221.63H740.46V220.65H741.08V218.18H741.70V219.56H742.32V217.45H742.94V214.81H743.56V218.86H744.18V216.80H744.80V216.24H745.42V210.88H746.04V208.58H746.66V210.60H747.28V209.11H747.90V210.65H748.52V212.50H749.14V210.03H749.76V208.49H750.38V210.72H751.00V210.03H751.62V208.51H752.24V207.29H752.86V202.02H753.48V200.78H754.10V199.05H754.72V195.86H755.34V191.38H755.96V188.92H756.58V188.45H757.20V186.89H757.82V183.79H758.44V179.92H759.06V177.37H759.68V178.46H760.30V175.02H760.92V172.26H761.54V169.83H762.16V169.52H762.78V163.48H763.40V155.61H764.02V153.63H764.64V153.57H765.26V145.48H765.88V137.27H766.50V137.25H767.12V135.67H767.74V126.43H768.36V125.81H768.98V131.69H769.60V125.89H770.22V118.72H770.84V125.06H771.46V125.05H772.08V127.27H772.70V134.21H773.32V129.49H773.94V124.37H774.56V118.68H775.18V111.85H775.80V115.61H776.42V120.51H777.04V121.64H777.66V108.75H778.28V117.83H778.90V118.29H779.52V111.93H780.14V114.18H780.76V121.96H781.38V131.66H782.00V130.75H782.62V137.77H783.24V134.14H783.86V131.26H784.48V128.79H785.10V116.52H785.72V118.85H786.34V116.41H786.96V122.43H787.58V127.61H788.20V136.12H788.82V142.87H789.44V138.79H790.06V144.14H790.68V156.05H791.30V155.62H791.92V154.71H792.54V151.47H793.16V153.02H793.78V161.53H794.40V164.42H795.02V170.74H795.64V173.87H796.26V178.59H796.88V181.02H797.50V184.32H798.12V185.80H798.74V186.94H799.36V192.01H799.98V192.82H800.60V198.58H801.22V196.11H801.84V199.81H802.46V207.00H803.08V207.36H803.70V208.22H804.32V208.56H804.94V211.01H805.56V209.04H806.18V215.55H806.80V214.70H807.42V222.16H808.04V223.31H808.66V223.16H809.28V220.20H809.90V223.05H810.52V227.01H811.14V226.14H811.76V224.79H812.38V227.17H813.00V227.11H813.62V227.28H814.24V228.90H814.86V229.31H815.48V230.94H816.10V227.83H816.72V228.27H817.34V228.73H817.96V233.03H818.58V231.00H819.20V230.53H819.82V232.76H820.44V234.19H821.06V232.63H821.68V233.87H822.30V235.25H822.92V235.12H823.54V235.35H824.16V235.20H824.78V235.00H825.40V235.00H826.02V235.78H826.64V233.61H827.26V233.40H827.88V234.98H828.50V236.19H829.12V237.05H829.74V236.42H830.36V235.43H830.98V235.52H831.60V234.43H832.22V237.19H832.84V237.36H833.46V236.83H834.08V236.79H834.70V236.83H835.32V238.22H835.94V237.29H836.56V240.10H837.18V237.29H837.80V238.69H838.42V238.69H839.04V235.88H839.66V238.69H840.28V241.50H840.90V240.10H841.52V235.88H842.14V240.10H842.76V240.10H843.38V240.10H844.00V238.69H844.62V241.50H845.24V234.48H845.86V238.69H846.48V240.10H847.10V241.50H847.72V238.69H848.34V237.29H848.96V238.69H849.58V238.69H850.20V240.10H850.82V237.29H851.44V240.10H852.06V240.10H852.68V237.29H853.30V241.50H853.92V240.10H854.54V240.10H855.16V240.10H855.78V240.10H856.40V241.50H857.02V241.50H857.64V240.10H858.26V241.50H858.88V241.50H859.50V237.29H860.12V240.10H860.74V240.10H861.36V241.50H861.98V241.50H862.60V240.10H863.22V238.69H863.84V240.10H864.46V241.50H865.08V241.50H865.70V241.50H866.32V240.10H866.94V240.10H867.56V240.10H868.18V240.10H868.80V240.10H869.42V241.50H870.04V241.50H870.66V238.69H871.28V241.50H871.90V241.50H872.52V241.50H873.14V237.29H873.76V241.50H874.38V241.50H875.00V241.50H875.62V238.69H876.24V240.10H876.86V241.50H877.48V240.10H878.10V238.69H878.72V240.10H879.34V241.50H879.96V240.10H880.58V240.10H881.20V241.50H881.82V241.50H882.44V240.10H883.06V241.50H883.68V240.10H884.30V241.50H884.92V241.50H885.54V241.50H886.16V240.10H886.78V241.50H887.40V241.50H888.02V241.50H888.64V241.50H889.26V241.50H889.88V241.50H890.50V241.50H891.12V241.50H891.74V241.50H892.36V241.50H892.98V241.50H893.60V241.50H894.22V240.10H894.84V241.50H895.46V241.50H896.08V240.10H896.70V241.50H897.32V241.50H897.94V240.10H898.56V241.50H899.18V241.50H899.80V240.10H900.42V241.50H901.04V241.50H901.66V241.50H902.28V241.50H902.90V241.50H903.52V241.50H904.14V241.50H904.76V240.10H905.38V241.50H906.00V241.50H906.62V241.50H907.24V240.10H907.86V241.50H908.48V241.50H909.10V241.50H909.72V241.50H910.34V241.50H910.96V241.50H911.58V241.50H912.20V241.50H912.82V241.50H913.44V241.50H914.06V241.50H914.68V241.50H915.30V241.50H915.92V241.50H916.54V241.50H917.16V241.50H917.78V241.50H918.40V241.50H919.02V241.50H919.64V241.50H920.26V241.50H920.88V241.50H921.50V241.50H922.12V241.50H922.74V241.50H923.36V241.50H923.98V241.50H924.60V241.50H925.22V241.50H925.84V241.50H926.46V241.50H927.08V241.50H927.70V241.50H928.32V241.50H928.94V241.50H929.56V241.50H930.18V241.50H930.80V241.50H931.42V241.50H932.04V241.50H932.66V241.50H933.28V241.50H933.90V241.50H934.52V241.50H935.14V241.50H935.76V241.50H936.38V241.50H937.00V241.50H937.62V241.50H938.24V241.50H938.86V241.50H939.48V241.50H940.10V241.50H940.72V241.50H941.34V241.50H941.96V241.50H942.58V241.50H943.20V241.50H943.82V241.50H944.44V241.50H945.06V241.50H945.68V241.50H946.30V241.50H946.92V241.50H947.54V241.50H948.16V241.50H948.78V241.50H949.40V241.50H950.02V241.50H950.64V241.50H951.26V241.50H951.88V241.50H952.50V241.50H953.12V241.50H953.74V241.50H954.36V241.50H954.98V241.50H955.60V241.50H956.22V241.50H956.84V241.50H957.46V241.50H958.08V241.50H958.70V241.50H959.32V241.50H959.94V241.50H960.56V241.50H961.18V241.50H961.80V241.50H962.42V241.50H963.04V241.50H963.66V241.50H964.28V241.50H964.90V241.50H965.52V241.50H966.14V241.50H966.76V241.50H967.38V241.50H968.00V241.50H968.62V241.50H969.24V241.50H969.86V241.50H970.48V241.50H971.10V241.50H971.72V241.50H972.34V241.50H972.96V241.50H973.58V241.50H974.20V241.50H974.82V241.50H975.44V241.50H976.06V241.50H976.68V241.50H977.30V241.50H977.92V241.50H978.54V241.50H979.16V241.50H979.78V241.50H980.40V241.50H981.02V241.50H981.64V241.50H982.26V241.50H982.88V241.50H983.50V241.50H984.12V241.50H984.74V241.50H985.36V241.50H985.98V241.50H986.60V241.50H987.22V241.50H987.84V241.50H988.46V241.50H989.08V241.50H989.70V241.50H990.32V241.50H990.94V241.50H991.56V241.50H992.18V241.50H992.80V241.50H993.42V241.50H994.04V241.50H994.66V241.50H995.28V241.50H995.90V241.50H996.52" fill="none" stroke="#e00000" stroke-width="1.9"/>
<path d="M549.50,241.50H550.12V241.50H550.74V241.50H551.36V240.10H551.98V240.10H552.60V241.50H553.22V240.10H553.84V240.10H554.46V238.69H555.08V241.50H555.70V241.50H556.32V240.10H556.94V241.50H557.56V240.10H558.18V241.50H558.80V240.10H559.42V241.50H560.04V241.50H560.66V241.50H561.28V241.50H561.90V241.50H562.52V241.50H563.14V241.50H563.76V241.50H564.38V240.10H565.00V240.10H565.62V240.10H566.24V241.50H566.86V241.50H567.48V241.50H568.10V241.50H568.72V241.50H569.34V241.50H569.96V241.50H570.58V240.10H571.20V241.50H571.82V241.50H572.44V240.10H573.06V241.50H573.68V241.50H574.30V240.10H574.92V241.50H575.54V241.50H576.16V240.10H576.78V238.69H577.40V241.50H578.02V241.50H578.64V241.50H579.26V240.10H579.88V241.50H580.50V241.50H581.12V238.69H581.74V240.10H582.36V241.50H582.98V241.50H583.60V240.10H584.22V240.10H584.84V241.50H585.46V241.50H586.08V241.50H586.70V241.50H587.32V241.50H587.94V241.50H588.56V241.50H589.18V241.50H589.80V241.50H590.42V241.50H591.04V240.10H591.66V241.50H592.28V240.10H592.90V241.50H593.52V241.50H594.14V241.50H594.76V241.50H595.38V241.50H596.00V241.50H596.62V241.50H597.24V241.50H597.86V241.50H598.48V241.50H599.10V241.50H599.72V240.10H600.34V241.50H600.96V241.50H601.58V241.50H602.20V241.50H602.82V241.50H603.44V240.10H604.06V241.50H604.68V240.10H605.30V241.50H605.92V241.50H606.54V240.10H607.16V241.50H607.78V240.10H608.40V238.69H609.02V241.50H609.64V241.50H610.26V240.10H610.88V241.50H611.50V240.10H612.12V241.50H612.74V240.10H613.36V241.50H613.98V241.50H614.60V241.50H615.22V240.10H615.84V241.50H616.46V241.50H617.08V241.50H617.70V241.50H618.32V241.50H618.94V241.50H619.56V241.50H620.18V241.50H620.80V240.10H621.42V240.10H622.04V240.10H622.66V241.50H623.28V241.50H623.90V241.50H624.52V241.50H625.14V241.50H625.76V240.10H626.38V241.50H627.00V241.50H627.62V241.50H628.24V240.10H628.86V240.10H629.48V241.50H630.10V241.50H630.72V241.50H631.34V238.69H631.96V241.50H632.58V240.10H633.20V240.10H633.82V240.10H634.44V241.50H635.06V241.50H635.68V241.50H636.30V241.50H636.92V241.50H637.54V241.50H638.16V241.50H638.78V240.10H639.40V241.50H640.02V241.50H640.64V241.50H641.26V240.10H641.88V240.10H642.50V241.50H643.12V241.50H643.74V241.50H644.36V241.50H644.98V241.50H645.60V240.10H646.22V241.50H646.84V241.50H647.46V241.50H648.08V240.10H648.70V241.50H649.32V241.50H649.94V237.29H650.56V241.50H651.18V241.50H651.80V241.50H652.42V237.29H653.04V241.50H653.66V240.10H654.28V241.50H654.90V241.50H655.52V241.50H656.14V240.10H656.76V240.10H657.38V241.50H658.00V241.50H658.62V241.50H659.24V240.10H659.86V241.50H660.48V240.10H661.10V241.50H661.72V241.50H662.34V241.50H662.96V241.50H663.58V240.10H664.20V241.50H664.82V241.50H665.44V241.50H666.06V240.10H666.68V241.50H667.30V241.50H667.92V240.10H668.54V241.50H669.16V241.50H669.78V241.50H670.40V241.50H671.02V240.10H671.64V241.50H672.26V241.50H672.88V241.50H673.50V240.10H674.12V241.50H674.74V241.50H675.36V240.10H675.98V240.10H676.60V240.10H677.22V241.50H677.84V241.50H678.46V241.50H679.08V240.10H679.70V240.10H680.32V241.50H680.94V241.50H681.56V241.50H682.18V241.50H682.80V241.50H683.42V241.50H684.04V241.50H684.66V240.10H685.28V240.10H685.90V240.10H686.52V241.50H687.14V240.10H687.76V241.50H688.38V241.50H689.00V241.50H689.62V241.50H690.24V241.50H690.86V241.50H691.48V241.50H692.10V238.69H692.72V241.50H693.34V241.50H693.96V241.50H694.58V241.50H695.20V241.50H695.82V241.50H696.44V241.50H697.06V241.50H697.68V241.50H698.30V241.50H698.92V241.50H699.54V241.50H700.16V240.10H700.78V241.50H701.40V240.10H702.02V241.50H702.64V241.50H703.26V240.10H703.88V240.10H704.50V241.50H705.12V241.50H705.74V241.50H706.36V238.69H706.98V241.50H707.60V241.50H708.22V241.50H708.84V240.10H709.46V241.50H710.08V240.10H710.70V241.50H711.32V241.50H711.94V241.50H712.56V241.50H713.18V238.69H713.80V240.10H714.42V241.50H715.04V240.10H715.66V240.10H716.28V241.50H716.90V238.69H717.52V241.50H718.14V240.10H718.76V241.50H719.38V241.50H720.00V240.10H720.62V240.10H721.24V241.50H721.86V240.10H722.48V241.50H723.10V241.50H723.72V241.50H724.34V240.10H724.96V238.69H725.58V238.69H726.20V241.50H726.82V240.10H727.44V240.10H728.06V241.50H728.68V240.10H729.30V240.10H729.92V235.88H730.54V238.69H731.16V240.10H731.78V241.50H732.40V241.50H733.02V240.10H733.64V238.69H734.26V240.10H734.88V240.10H735.50V238.69H736.12V237.65H736.74V237.31H737.36V236.43H737.98V237.73H738.60V237.85H739.22V237.91H739.84V237.58H740.46V238.02H741.08V236.58H741.70V236.63H742.32V235.85H742.94V236.44H743.56V236.24H744.18V235.05H744.80V234.57H745.42V230.98H746.04V232.72H746.66V234.68H747.28V233.37H747.90V232.74H748.52V235.61H749.14V233.89H749.76V232.26H750.38V231.01H751.00V229.37H751.62V227.40H752.24V228.20H752.86V225.36H753.48V222.37H754.10V225.35H754.72V222.97H755.34V222.03H755.96V220.43H756.58V214.85H757.20V210.56H757.82V212.21H758.44V214.69H759.06V210.03H759.68V205.33H760.30V200.91H760.92V198.04H761.54V189.96H762.16V185.09H762.78V184.87H763.40V178.27H764.02V176.91H764.64V180.32H765.26V173.58H765.88V172.78H766.50V168.83H767.12V169.44H767.74V161.96H768.36V161.48H768.98V161.56H769.60V161.78H770.22V153.60H770.84V149.94H771.46V142.10H772.08V132.03H772.70V133.58H773.32V141.83H773.94V138.40H774.56V126.31H775.18V117.94H775.80V108.95H776.42V116.95H777.04V105.76H777.66V103.63H778.28V105.77H778.90V81.00H779.52V100.35H780.14V106.02H780.76V98.40H781.38V102.09H782.00V101.61H782.62V98.75H783.24V107.88H783.86V113.11H784.48V113.67H785.10V105.66H785.72V104.80H786.34V112.81H786.96V114.02H787.58V119.37H788.20V121.60H788.82V115.42H789.44V125.59H790.06V125.27H790.68V128.23H791.30V128.51H791.92V135.33H792.54V139.55H793.16V132.23H793.78V124.51H794.40V134.68H795.02V135.09H795.64V139.46H796.26V147.96H796.88V153.99H797.50V150.57H798.12V154.90H798.74V157.87H799.36V157.39H799.98V156.02H800.60V166.79H801.22V169.98H801.84V174.04H802.46V173.64H803.08V167.86H803.70V172.18H804.32V176.56H804.94V177.40H805.56V180.39H806.18V183.69H806.80V183.63H807.42V194.31H808.04V196.21H808.66V195.07H809.28V200.84H809.90V198.75H810.52V201.28H811.14V204.48H811.76V204.93H812.38V205.80H813.00V207.41H813.62V209.58H814.24V213.49H814.86V215.18H815.48V218.73H816.10V218.82H816.72V220.38H817.34V220.41H817.96V219.34H818.58V219.63H819.20V219.11H819.82V217.40H820.44V224.75H821.06V219.10H821.68V221.67H822.30V226.16H822.92V227.62H823.54V228.72H824.16V227.59H824.78V228.74H825.40V230.04H826.02V229.93H826.64V230.91H827.26V229.95H827.88V232.55H828.50V234.93H829.12V234.84H829.74V235.74H830.36V235.44H830.98V234.38H831.60V233.29H832.22V234.10H832.84V235.05H833.46V236.78H834.08V236.44H834.70V235.50H835.32V235.20H835.94V237.17H836.56V237.88H837.18V237.13H837.80V238.27H838.42V237.45H839.04V240.10H839.66V238.69H840.28V241.50H840.90V238.69H841.52V241.50H842.14V238.69H842.76V237.29H843.38V240.10H844.00V238.69H844.62V240.10H845.24V235.88H845.86V235.88H846.48V238.69H847.10V241.50H847.72V240.10H848.34V240.10H848.96V238.69H849.58V240.10H850.20V241.50H850.82V241.50H851.44V240.10H852.06V240.10H852.68V240.10H853.30V240.10H853.92V238.69H854.54V241.50H855.16V240.10H855.78V240.10H856.40V241.50H857.02V241.50H857.64V241.50H858.26V240.10H858.88V238.69H859.50V241.50H860.12V241.50H860.74V241.50H861.36V241.50H861.98V241.50H862.60V241.50H863.22V240.10H863.84V241.50H864.46V241.50H865.08V240.10H865.70V241.50H866.32V240.10H866.94V241.50H867.56V241.50H868.18V241.50H868.80V240.10H869.42V241.50H870.04V241.50H870.66V241.50H871.28V241.50H871.90V241.50H872.52V241.50H873.14V241.50H873.76V241.50H874.38V241.50H875.00V241.50H875.62V241.50H876.24V241.50H876.86V241.50H877.48V241.50H878.10V241.50H878.72V241.50H879.34V241.50H879.96V241.50H880.58V241.50H881.20V241.50H881.82V241.50H882.44V241.50H883.06V241.50H883.68V241.50H884.30V241.50H884.92V241.50H885.54V241.50H886.16V241.50H886.78V241.50H887.40V241.50H888.02V241.50H888.64V241.50H889.26V241.50H889.88V241.50H890.50V241.50H891.12V241.50H891.74V241.50H892.36V241.50H892.98V241.50H893.60V241.50H894.22V241.50H894.84V241.50H895.46V241.50H896.08V241.50H896.70V241.50H897.32V241.50H897.94V241.50H898.56V241.50H899.18V241.50H899.80V241.50H900.42V241.50H901.04V241.50H901.66V241.50H902.28V241.50H902.90V241.50H903.52V241.50H904.14V241.50H904.76V241.50H905.38V241.50H906.00V241.50H906.62V241.50H907.24V241.50H907.86V241.50H908.48V241.50H909.10V241.50H909.72V241.50H910.34V241.50H910.96V241.50H911.58V241.50H912.20V241.50H912.82V241.50H913.44V241.50H914.06V241.50H914.68V241.50H915.30V241.50H915.92V241.50H916.54V241.50H917.16V241.50H917.78V241.50H918.40V241.50H919.02V241.50H919.64V241.50H920.26V241.50H920.88V241.50H921.50V241.50H922.12V241.50H922.74V241.50H923.36V241.50H923.98V241.50H924.60V241.50H925.22V241.50H925.84V241.50H926.46V241.50H927.08V241.50H927.70V241.50H928.32V241.50H928.94V241.50H929.56V241.50H930.18V241.50H930.80V241.50H931.42V241.50H932.04V241.50H932.66V241.50H933.28V241.50H933.90V241.50H934.52V241.50H935.14V241.50H935.76V241.50H936.38V241.50H937.00V241.50H937.62V241.50H938.24V241.50H938.86V241.50H939.48V241.50H940.10V241.50H940.72V241.50H941.34V241.50H941.96V241.50H942.58V241.50H943.20V241.50H943.82V241.50H944.44V241.50H945.06V241.50H945.68V241.50H946.30V241.50H946.92V241.50H947.54V241.50H948.16V241.50H948.78V241.50H949.40V241.50H950.02V241.50H950.64V241.50H951.26V241.50H951.88V241.50H952.50V241.50H953.12V241.50H953.74V241.50H954.36V241.50H954.98V241.50H955.60V241.50H956.22V241.50H956.84V241.50H957.46V241.50H958.08V241.50H958.70V241.50H959.32V241.50H959.94V241.50H960.56V241.50H961.18V241.50H961.80V241.50H962.42V241.50H963.04V241.50H963.66V241.50H964.28V241.50H964.90V241.50H965.52V241.50H966.14V241.50H966.76V241.50H967.38V241.50H968.00V241.50H968.62V241.50H969.24V241.50H969.86V241.50H970.48V241.50H971.10V241.50H971.72V241.50H972.34V241.50H972.96V241.50H973.58V241.50H974.20V241.50H974.82V241.50H975.44V241.50H976.06V241.50H976.68V241.50H977.30V241.50H977.92V241.50H978.54V241.50H979.16V241.50H979.78V241.50H980.40V241.50H981.02V241.50H981.64V241.50H982.26V241.50H982.88V241.50H983.50V241.50H984.12V241.50H984.74V241.50H985.36V241.50H985.98V241.50H986.60V241.50H987.22V241.50H987.84V241.50H988.46V241.50H989.08V241.50H989.70V241.50H990.32V241.50H990.94V241.50H991.56V241.50H992.18V241.50H992.80V241.50H993.42V241.50H994.04V241.50H994.66V241.50H995.28V241.50H995.90V241.50H996.52" fill="none" stroke="#000000" stroke-width="1.9"/>
<path d="M549.50,241.50H550.12V241.50H550.74V241.50H551.36V241.50H551.98V241.50H552.60V240.10H553.22V241.50H553.84V241.50H554.46V241.50H555.08V241.50H555.70V241.50H556.32V241.50H556.94V241.50H557.56V241.50H558.18V241.50H558.80V240.10H559.42V240.10H560.04V241.50H560.66V241.50H561.28V240.10H561.90V241.50H562.52V241.50H563.14V241.50H563.76V240.10H564.38V240.10H565.00V241.50H565.62V240.10H566.24V241.50H566.86V241.50H567.48V241.50H568.10V240.10H568.72V241.50H569.34V241.50H569.96V241.50H570.58V240.10H571.20V238.69H571.82V241.50H572.44V241.50H573.06V241.50H573.68V241.50H574.30V241.50H574.92V241.50H575.54V241.50H576.16V241.50H576.78V241.50H577.40V241.50H578.02V241.50H578.64V241.50H579.26V241.50H579.88V240.10H580.50V241.50H581.12V238.69H581.74V241.50H582.36V241.50H582.98V241.50H583.60V241.50H584.22V241.50H584.84V238.69H585.46V241.50H586.08V241.50H586.70V240.10H587.32V241.50H587.94V241.50H588.56V240.10H589.18V241.50H589.80V241.50H590.42V241.50H591.04V241.50H591.66V240.10H592.28V241.50H592.90V241.50H593.52V241.50H594.14V241.50H594.76V241.50H595.38V241.50H596.00V240.10H596.62V241.50H597.24V241.50H597.86V241.50H598.48V240.10H599.10V240.10H599.72V241.50H600.34V238.69H600.96V241.50H601.58V241.50H602.20V241.50H602.82V241.50H603.44V241.50H604.06V241.50H604.68V241.50H605.30V241.50H605.92V241.50H606.54V241.50H607.16V241.50H607.78V240.10H608.40V241.50H609.02V241.50H609.64V240.10H610.26V241.50H610.88V240.10H611.50V240.10H612.12V241.50H612.74V241.50H613.36V240.10H613.98V241.50H614.60V241.50H615.22V241.50H615.84V237.29H616.46V240.10H617.08V241.50H617.70V240.10H618.32V241.50H618.94V240.10H619.56V241.50H620.18V241.50H620.80V241.50H621.42V241.50H622.04V241.50H622.66V241.50H623.28V240.10H623.90V241.50H624.52V241.50H625.14V241.50H625.76V241.50H626.38V241.50H627.00V241.50H627.62V241.50H628.24V241.50H628.86V238.69H629.48V240.10H630.10V241.50H630.72V241.50H631.34V241.50H631.96V241.50H632.58V241.50H633.20V241.50H633.82V240.10H634.44V241.50H635.06V240.10H635.68V240.10H636.30V241.50H636.92V241.50H637.54V241.50H638.16V241.50H638.78V241.50H639.40V241.50H640.02V238.69H640.64V238.69H641.26V240.10H641.88V241.50H642.50V241.50H643.12V241.50H643.74V237.29H644.36V240.10H644.98V241.50H645.60V238.69H646.22V241.50H646.84V241.50H647.46V240.10H648.08V241.50H648.70V238.69H649.32V241.50H649.94V240.10H650.56V241.50H651.18V238.69H651.80V240.10H652.42V240.10H653.04V238.69H653.66V241.50H654.28V240.10H654.90V241.50H655.52V241.50H656.14V241.50H656.76V240.10H657.38V240.10H658.00V241.50H658.62V237.29H659.24V240.10H659.86V241.50H660.48V241.50H661.10V241.50H661.72V240.10H662.34V240.10H662.96V241.50H663.58V240.10H664.20V241.50H664.82V240.10H665.44V240.10H666.06V241.50H666.68V241.50H667.30V241.50H667.92V241.50H668.54V240.10H669.16V241.50H669.78V240.10H670.40V241.50H671.02V241.50H671.64V240.10H672.26V238.69H672.88V241.50H673.50V238.69H674.12V241.50H674.74V240.10H675.36V240.10H675.98V241.50H676.60V241.50H677.22V240.10H677.84V241.50H678.46V240.10H679.08V241.50H679.70V240.10H680.32V240.10H680.94V238.69H681.56V241.50H682.18V241.50H682.80V240.10H683.42V240.10H684.04V240.10H684.66V241.50H685.28V240.10H685.90V240.10H686.52V238.69H687.14V240.10H687.76V240.10H688.38V241.50H689.00V240.10H689.62V241.50H690.24V241.50H690.86V241.50H691.48V241.50H692.10V241.50H692.72V241.50H693.34V238.69H693.96V241.50H694.58V240.10H695.20V241.50H695.82V240.10H696.44V240.10H697.06V240.10H697.68V238.69H698.30V240.10H698.92V241.50H699.54V241.50H700.16V241.50H700.78V241.50H701.40V240.10H702.02V240.10H702.64V240.10H703.26V240.10H703.88V240.10H704.50V241.50H705.12V240.10H705.74V238.69H706.36V241.50H706.98V240.10H707.60V240.10H708.22V241.50H708.84V241.50H709.46V241.50H710.08V241.50H710.70V240.10H711.32V238.69H711.94V240.10H712.56V238.69H713.18V238.69H713.80V240.10H714.42V237.29H715.04V240.10H715.66V241.50H716.28V240.10H716.90V237.29H717.52V241.50H718.14V240.10H718.76V237.23H719.38V236.61H720.00V235.93H720.62V236.59H721.24V236.37H721.86V236.47H722.48V236.76H723.10V237.13H723.72V235.10H724.34V234.99H724.96V233.09H725.58V233.46H726.20V236.36H726.82V237.34H727.44V235.51H728.06V233.41H728.68V234.17H729.30V232.74H729.92V233.12H730.54V230.67H731.16V229.31H731.78V228.28H732.40V229.15H733.02V225.83H733.64V228.73H734.26V225.54H734.88V226.11H735.50V223.98H736.12V220.19H736.74V220.21H737.36V217.66H737.98V214.26H738.60V209.67H739.22V204.09H739.84V204.87H740.46V200.57H741.08V203.44H741.70V197.90H742.32V188.85H742.94V186.87H743.56V191.59H744.18V185.63H744.80V180.89H745.42V171.38H746.04V170.76H746.66V169.79H747.28V166.12H747.90V161.52H748.52V146.56H749.14V142.73H749.76V133.96H750.38V136.05H751.00V131.71H751.62V130.10H752.24V121.79H752.86V117.28H753.48V107.44H754.10V112.20H754.72V113.04H755.34V113.80H755.96V119.48H756.58V126.57H757.20V117.56H757.82V113.32H758.44V106.52H759.06V105.69H759.68V103.75H760.30V116.61H760.92V110.90H761.54V108.12H762.16V101.37H762.78V110.67H763.40V121.40H764.02V110.68H764.64V121.27H765.26V112.08H765.88V115.28H766.50V121.92H767.12V122.45H767.74V121.27H768.36V122.77H768.98V130.56H769.60V124.55H770.22V122.71H770.84V124.33H771.46V126.78H772.08V131.19H772.70V136.61H773.32V138.39H773.94V141.19H774.56V144.98H775.18V153.01H775.80V152.51H776.42V157.40H777.04V162.24H777.66V155.78H778.28V158.90H778.90V163.58H779.52V163.53H780.14V158.89H780.76V165.05H781.38V164.06H782.00V172.46H782.62V177.26H783.24V180.73H783.86V183.57H784.48V182.71H785.10V187.27H785.72V193.15H786.34V192.71H786.96V195.21H787.58V194.15H788.20V197.22H788.82V200.27H789.44V196.48H790.06V200.27H790.68V199.15H791.30V203.17H791.92V208.56H792.54V213.02H793.16V215.11H793.78V215.24H794.40V212.86H795.02V212.16H795.64V212.65H796.26V217.60H796.88V218.25H797.50V215.40H798.12V215.14H798.74V220.88H799.36V223.55H799.98V223.05H800.60V220.89H801.22V223.15H801.84V225.60H802.46V227.76H803.08V224.02H803.70V226.55H804.32V223.60H804.94V223.37H805.56V227.27H806.18V224.13H806.80V224.89H807.42V228.42H808.04V230.09H808.66V230.08H809.28V229.94H809.90V230.43H810.52V230.50H811.14V230.27H811.76V229.91H812.38V230.98H813.00V232.56H813.62V233.03H814.24V232.55H814.86V234.15H815.48V231.59H816.10V232.45H816.72V234.13H817.34V233.87H817.96V234.29H818.58V235.00H819.20V234.66H819.82V234.77H820.44V234.63H821.06V235.80H821.68V235.79H822.30V233.97H822.92V234.62H823.54V235.78H824.16V236.49H824.78V236.90H825.40V237.36H826.02V237.50H826.64V237.07H827.26V237.69H827.88V235.99H828.50V236.47H829.12V235.35H829.74V236.23H830.36V236.84H830.98V237.29H831.60V237.29H832.22V240.10H832.84V240.10H833.46V241.50H834.08V237.29H834.70V241.50H835.32V237.29H835.94V241.50H836.56V241.50H837.18V238.69H837.80V235.88H838.42V241.50H839.04V238.69H839.66V235.88H840.28V240.10H840.90V240.10H841.52V237.29H842.14V237.29H842.76V241.50H843.38V238.69H844.00V240.10H844.62V237.29H845.24V240.10H845.86V240.10H846.48V241.50H847.10V237.29H847.72V240.10H848.34V238.69H848.96V241.50H849.58V241.50H850.20V238.69H850.82V241.50H851.44V240.10H852.06V241.50H852.68V238.69H853.30V240.10H853.92V241.50H854.54V240.10H855.16V240.10H855.78V241.50H856.40V240.10H857.02V240.10H857.64V241.50H858.26V241.50H858.88V241.50H859.50V241.50H860.12V240.10H860.74V241.50H861.36V240.10H861.98V241.50H862.60V241.50H863.22V241.50H863.84V241.50H864.46V241.50H865.08V241.50H865.70V240.10H866.32V241.50H866.94V241.50H867.56V241.50H868.18V241.50H868.80V241.50H869.42V241.50H870.04V241.50H870.66V241.50H871.28V241.50H871.90V241.50H872.52V241.50H873.14V241.50H873.76V241.50H874.38V241.50H875.00V241.50H875.62V241.50H876.24V241.50H876.86V241.50H877.48V241.50H878.10V241.50H878.72V241.50H879.34V241.50H879.96V241.50H880.58V241.50H881.20V241.50H881.82V241.50H882.44V241.50H883.06V241.50H883.68V241.50H884.30V241.50H884.92V241.50H885.54V241.50H886.16V241.50H886.78V241.50H887.40V241.50H888.02V241.50H888.64V241.50H889.26V241.50H889.88V241.50H890.50V241.50H891.12V241.50H891.74V241.50H892.36V241.50H892.98V241.50H893.60V241.50H894.22V241.50H894.84V241.50H895.46V241.50H896.08V241.50H896.70V241.50H897.32V241.50H897.94V241.50H898.56V241.50H899.18V241.50H899.80V241.50H900.42V241.50H901.04V241.50H901.66V241.50H902.28V241.50H902.90V241.50H903.52V241.50H904.14V241.50H904.76V241.50H905.38V241.50H906.00V241.50H906.62V241.50H907.24V241.50H907.86V241.50H908.48V241.50H909.10V241.50H909.72V241.50H910.34V241.50H910.96V241.50H911.58V241.50H912.20V241.50H912.82V241.50H913.44V241.50H914.06V241.50H914.68V241.50H915.30V241.50H915.92V241.50H916.54V241.50H917.16V241.50H917.78V241.50H918.40V241.50H919.02V241.50H919.64V241.50H920.26V241.50H920.88V241.50H921.50V241.50H922.12V241.50H922.74V241.50H923.36V241.50H923.98V241.50H924.60V241.50H925.22V241.50H925.84V241.50H926.46V241.50H927.08V241.50H927.70V241.50H928.32V241.50H928.94V241.50H929.56V241.50H930.18V241.50H930.80V241.50H931.42V241.50H932.04V241.50H932.66V241.50H933.28V241.50H933.90V241.50H934.52V241.50H935.14V241.50H935.76V241.50H936.38V241.50H937.00V241.50H937.62V241.50H938.24V241.50H938.86V241.50H939.48V241.50H940.10V241.50H940.72V241.50H941.34V241.50H941.96V241.50H942.58V241.50H943.20V241.50H943.82V241.50H944.44V241.50H945.06V241.50H945.68V241.50H946.30V241.50H946.92V241.50H947.54V241.50H948.16V241.50H948.78V241.50H949.40V241.50H950.02V241.50H950.64V241.50H951.26V241.50H951.88V241.50H952.50V241.50H953.12V241.50H953.74V241.50H954.36V241.50H954.98V241.50H955.60V241.50H956.22V241.50H956.84V241.50H957.46V241.50H958.08V241.50H958.70V241.50H959.32V241.50H959.94V241.50H960.56V241.50H961.18V241.50H961.80V241.50H962.42V241.50H963.04V241.50H963.66V241.50H964.28V241.50H964.90V241.50H965.52V241.50H966.14V241.50H966.76V241.50H967.38V241.50H968.00V241.50H968.62V241.50H969.24V241.50H969.86V241.50H970.48V241.50H971.10V241.50H971.72V241.50H972.34V241.50H972.96V241.50H973.58V241.50H974.20V241.50H974.82V241.50H975.44V241.50H976.06V241.50H976.68V241.50H977.30V241.50H977.92V241.50H978.54V241.50H979.16V241.50H979.78V241.50H980.40V241.50H981.02V241.50H981.64V241.50H982.26V241.50H982.88V241.50H983.50V241.50H984.12V241.50H984.74V241.50H985.36V241.50H985.98V241.50H986.60V241.50H987.22V241.50H987.84V241.50H988.46V241.50H989.08V241.50H989.70V241.50H990.32V241.50H990.94V241.50H991.56V241.50H992.18V241.50H992.80V241.50H993.42V241.50H994.04V241.50H994.66V241.50H995.28V241.50H995.90V241.50H996.52" fill="none" stroke="#009966" stroke-width="1.9"/>
<text x="757.90" y="316.40" class="cap">(<tspan font-weight="bold" font-size="24.5px">b</tspan>)</text>
<g shape-rendering="crispEdges"><line x1="38.50" y1="335.50" x2="175.00" y2="335.50" stroke="#666" stroke-width="1.3"/><line x1="175.00" y1="335.50" x2="458.40" y2="335.50" stroke="#a8a8a8" stroke-width="1.3"/><line x1="38.50" y1="335.50" x2="38.50" y2="557.00" stroke="#7a8a7a" stroke-width="1"/><line x1="33.70" y1="556.50" x2="38.00" y2="556.50" stroke="#777" stroke-width="1"/><line x1="35.70" y1="547.70" x2="38.00" y2="547.70" stroke="#777" stroke-width="1"/><line x1="35.70" y1="538.91" x2="38.00" y2="538.91" stroke="#777" stroke-width="1"/><line x1="35.70" y1="530.11" x2="38.00" y2="530.11" stroke="#777" stroke-width="1"/><line x1="35.70" y1="521.32" x2="38.00" y2="521.32" stroke="#777" stroke-width="1"/><line x1="33.70" y1="512.52" x2="38.00" y2="512.52" stroke="#777" stroke-width="1"/><line x1="35.70" y1="503.72" x2="38.00" y2="503.72" stroke="#777" stroke-width="1"/><line x1="35.70" y1="494.93" x2="38.00" y2="494.93" stroke="#777" stroke-width="1"/><line x1="35.70" y1="486.13" x2="38.00" y2="486.13" stroke="#777" stroke-width="1"/><line x1="35.70" y1="477.34" x2="38.00" y2="477.34" stroke="#777" stroke-width="1"/><line x1="33.70" y1="468.54" x2="38.00" y2="468.54" stroke="#777" stroke-width="1"/><line x1="35.70" y1="459.74" x2="38.00" y2="459.74" stroke="#777" stroke-width="1"/><line x1="35.70" y1="450.95" x2="38.00" y2="450.95" stroke="#777" stroke-width="1"/><line x1="35.70" y1="442.15" x2="38.00" y2="442.15" stroke="#777" stroke-width="1"/><line x1="35.70" y1="433.36" x2="38.00" y2="433.36" stroke="#777" stroke-width="1"/><line x1="33.70" y1="424.56" x2="38.00" y2="424.56" stroke="#777" stroke-width="1"/><line x1="35.70" y1="415.76" x2="38.00" y2="415.76" stroke="#777" stroke-width="1"/><line x1="35.70" y1="406.97" x2="38.00" y2="406.97" stroke="#777" stroke-width="1"/><line x1="35.70" y1="398.17" x2="38.00" y2="398.17" stroke="#777" stroke-width="1"/><line x1="35.70" y1="389.38" x2="38.00" y2="389.38" stroke="#777" stroke-width="1"/><line x1="33.70" y1="380.58" x2="38.00" y2="380.58" stroke="#777" stroke-width="1"/><line x1="35.70" y1="371.78" x2="38.00" y2="371.78" stroke="#777" stroke-width="1"/><line x1="35.70" y1="362.99" x2="38.00" y2="362.99" stroke="#777" stroke-width="1"/><line x1="35.70" y1="354.19" x2="38.00" y2="354.19" stroke="#777" stroke-width="1"/><line x1="35.70" y1="345.40" x2="38.00" y2="345.40" stroke="#777" stroke-width="1"/><line x1="33.70" y1="336.60" x2="38.00" y2="336.60" stroke="#777" stroke-width="1"/><line x1="39.50" y1="557.80" x2="39.50" y2="562.00" stroke="#808080" stroke-width="1"/><line x1="70.94" y1="557.80" x2="70.94" y2="559.80" stroke="#9a9a9a" stroke-width="1"/><line x1="89.34" y1="557.80" x2="89.34" y2="559.80" stroke="#9a9a9a" stroke-width="1"/><line x1="102.39" y1="557.80" x2="102.39" y2="559.80" stroke="#9a9a9a" stroke-width="1"/><line x1="112.51" y1="557.80" x2="112.51" y2="559.80" stroke="#9a9a9a" stroke-width="1"/><line x1="120.78" y1="557.80" x2="120.78" y2="559.80" stroke="#9a9a9a" stroke-width="1"/><line x1="127.77" y1="557.80" x2="127.77" y2="559.80" stroke="#9a9a9a" stroke-width="1"/><line x1="133.83" y1="557.80" x2="133.83" y2="559.80" stroke="#9a9a9a" stroke-width="1"/><line x1="139.17" y1="557.80" x2="139.17" y2="559.80" stroke="#9a9a9a" stroke-width="1"/><line x1="143.95" y1="557.80" x2="143.95" y2="562.00" stroke="#808080" stroke-width="1"/><line x1="175.39" y1="557.80" x2="175.39" y2="559.80" stroke="#9a9a9a" stroke-width="1"/><line x1="193.79" y1="557.80" x2="193.79" y2="559.80" stroke="#9a9a9a" stroke-width="1"/><line x1="206.84" y1="557.80" x2="206.84" y2="559.80" stroke="#9a9a9a" stroke-width="1"/><line x1="216.96" y1="557.80" x2="216.96" y2="559.80" stroke="#9a9a9a" stroke-width="1"/><line x1="225.23" y1="557.80" x2="225.23" y2="559.80" stroke="#9a9a9a" stroke-width="1"/><line x1="232.22" y1="557.80" x2="232.22" y2="559.80" stroke="#9a9a9a" stroke-width="1"/><line x1="238.28" y1="557.80" x2="238.28" y2="559.80" stroke="#9a9a9a" stroke-width="1"/><line x1="243.62" y1="557.80" x2="243.62" y2="559.80" stroke="#9a9a9a" stroke-width="1"/><line x1="248.40" y1="557.80" x2="248.40" y2="562.00" stroke="#808080" stroke-width="1"/><line x1="279.84" y1="557.80" x2="279.84" y2="559.80" stroke="#9a9a9a" stroke-width="1"/><line x1="298.24" y1="557.80" x2="298.24" y2="559.80" stroke="#9a9a9a" stroke-width="1"/><line x1="311.29" y1="557.80" x2="311.29" y2="559.80" stroke="#9a9a9a" stroke-width="1"/><line x1="321.41" y1="557.80" x2="321.41" y2="559.80" stroke="#9a9a9a" stroke-width="1"/><line x1="329.68" y1="557.80" x2="329.68" y2="559.80" stroke="#9a9a9a" stroke-width="1"/><line x1="336.67" y1="557.80" x2="336.67" y2="559.80" stroke="#9a9a9a" stroke-width="1"/><line x1="342.73" y1="557.80" x2="342.73" y2="559.80" stroke="#9a9a9a" stroke-width="1"/><line x1="348.07" y1="557.80" x2="348.07" y2="559.80" stroke="#9a9a9a" stroke-width="1"/><line x1="352.85" y1="557.80" x2="352.85" y2="562.00" stroke="#808080" stroke-width="1"/><line x1="384.29" y1="557.80" x2="384.29" y2="559.80" stroke="#9a9a9a" stroke-width="1"/><line x1="402.69" y1="557.80" x2="402.69" y2="559.80" stroke="#9a9a9a" stroke-width="1"/><line x1="415.74" y1="557.80" x2="415.74" y2="559.80" stroke="#9a9a9a" stroke-width="1"/><line x1="425.86" y1="557.80" x2="425.86" y2="559.80" stroke="#9a9a9a" stroke-width="1"/><line x1="434.13" y1="557.80" x2="434.13" y2="559.80" stroke="#9a9a9a" stroke-width="1"/><line x1="441.12" y1="557.80" x2="441.12" y2="559.80" stroke="#9a9a9a" stroke-width="1"/><line x1="447.18" y1="557.80" x2="447.18" y2="559.80" stroke="#9a9a9a" stroke-width="1"/><line x1="452.52" y1="557.80" x2="452.52" y2="559.80" stroke="#9a9a9a" stroke-width="1"/><line x1="457.30" y1="557.80" x2="457.30" y2="562.00" stroke="#808080" stroke-width="1"/></g>
<text x="27.30" y="556.50" transform="rotate(-90 27.30 556.50)" class="yl" letter-spacing="0">0</text>
<text x="27.30" y="511.87" transform="rotate(-90 27.30 511.87)" class="yl" letter-spacing="1.3">40</text>
<text x="27.30" y="467.89" transform="rotate(-90 27.30 467.89)" class="yl" letter-spacing="1.3">80</text>
<text x="27.30" y="423.91" transform="rotate(-90 27.30 423.91)" class="yl" letter-spacing="1.3">120</text>
<text x="27.30" y="379.93" transform="rotate(-90 27.30 379.93)" class="yl" letter-spacing="1.3">160</text>
<text x="27.30" y="335.95" transform="rotate(-90 27.30 335.95)" class="yl" letter-spacing="1.3">200</text>
<text x="17.40" y="448.65" transform="rotate(-90 17.40 448.65)" class="yl" textLength="38.1" lengthAdjust="spacing">Counts</text>
<text x="38.90" y="574.30" class="xl">10<tspan dx="1.2" dy="-4.3" class="sup">0</tspan></text>
<text x="143.35" y="574.30" class="xl">10<tspan dx="1.2" dy="-4.3" class="sup">1</tspan></text>
<text x="247.80" y="574.30" class="xl">10<tspan dx="1.2" dy="-4.3" class="sup">2</tspan></text>
<text x="352.25" y="574.30" class="xl">10<tspan dx="1.2" dy="-4.3" class="sup">3</tspan></text>
<text x="456.70" y="574.30" class="xl">10<tspan dx="1.2" dy="-4.3" class="sup">4</tspan></text>
<text x="249.20" y="585.40" class="xl">FL2-H</text>
<path d="M41.20,556.50H41.82V542.58H42.44V540.26H43.06V534.05H43.68V536.87H44.30V540.73H44.92V537.02H45.54V535.49H46.16V532.52H46.78V534.11H47.40V536.31H48.02V536.63H48.64V530.68H49.26V526.31H49.88V526.09H50.50V526.45H51.12V524.42H51.74V513.34H52.36V516.54H52.98V517.07H53.60V508.31H54.22V504.31H54.84V503.45H55.46V508.15H56.08V510.96H56.70V505.62H57.32V492.90H57.94V490.78H58.56V492.43H59.18V498.48H59.80V490.59H60.42V490.70H61.04V483.00H61.66V476.25H62.28V474.05H62.90V464.77H63.52V471.66H64.14V468.37H64.76V475.75H65.38V481.13H66.00V454.08H66.62V449.20H67.24V447.60H67.86V429.78H68.48V436.29H69.10V444.18H69.72V438.30H70.34V438.66H70.96V437.25H71.58V434.26H72.20V438.91H72.82V439.85H73.44V435.20H74.06V437.80H74.68V447.89H75.30V440.31H75.92V435.40H76.54V420.01H77.16V413.40H77.78V422.50H78.40V429.32H79.02V412.59H79.64V417.88H80.26V428.87H80.88V435.34H81.50V434.39H82.12V432.34H82.74V444.80H83.36V446.51H83.98V455.56H84.60V454.11H85.22V445.77H85.84V460.10H86.46V463.16H87.08V477.73H87.70V478.03H88.32V476.12H88.94V456.97H89.56V474.97H90.18V498.82H90.80V499.94H91.42V487.46H92.04V495.09H92.66V500.89H93.28V512.77H93.90V507.84H94.52V506.79H95.14V509.74H95.76V504.23H96.38V501.76H97.00V504.25H97.62V504.83H98.24V510.99H98.86V520.65H99.48V517.21H100.10V514.09H100.72V515.55H101.34V522.17H101.96V521.02H102.58V523.59H103.20V525.19H103.82V526.46H104.44V526.29H105.06V525.25H105.68V528.67H106.30V535.99H106.92V533.82H107.54V532.10H108.16V534.52H108.78V535.96H109.40V538.58H110.02V535.94H110.64V538.58H111.26V541.31H111.88V544.27H112.50V540.50H113.12V536.88H113.74V542.78H114.36V541.97H114.98V543.29H115.60V542.89H116.22V543.58H116.84V541.49H117.46V541.35H118.08V546.11H118.70V549.25H119.32V549.73H119.94V547.79H120.56V544.96H121.18V543.03H121.80V547.15H122.42V549.92H123.04V551.20H123.66V550.16H124.28V548.32H124.90V547.94H125.52V548.26H126.14V549.69H126.76V551.27H127.38V553.35H128.00V552.14H128.62V552.03H129.24V547.58H129.86V550.21H130.48V551.29H131.10V550.24H131.72V550.53H132.34V552.60H132.96V550.45H133.58V550.33H134.20V552.11H134.82V552.71H135.44V553.29H136.06V554.13H136.68V554.01H137.30V551.67H137.92V551.50H138.54V550.34H139.16V551.11H139.78V552.70H140.40V552.45H141.02V552.51H141.64V552.15H142.26V551.98H142.88V550.38H143.50V550.68H144.12V551.72H144.74V555.09H145.36V552.48H145.98V552.64H146.60V554.37H147.22V554.85H147.84V553.35H148.46V549.91H149.08V550.16H149.70V550.67H150.32V550.50H150.94V552.61H151.56V552.84H152.18V551.42H152.80V554.21H153.42V552.89H154.04V556.50H154.66V553.74H155.28V555.12H155.90V552.36H156.52V553.74H157.14V555.12H157.76V553.74H158.38V553.74H159.00V556.50H159.62V553.74H160.24V555.12H160.86V553.74H161.48V552.36H162.10V552.36H162.72V555.12H163.34V550.98H163.96V556.50H164.58V556.50H165.20V556.50H165.82V553.74H166.44V555.12H167.06V555.12H167.68V556.50H168.30V553.74H168.92V555.12H169.54V556.50H170.16V553.74H170.78V555.12H171.40V555.12H172.02V556.50H172.64V556.50H173.26V555.12H173.88V553.74H174.50V556.50H175.12V553.74H175.74V555.12H176.36V555.12H176.98V556.50H177.60V555.12H178.22V555.12H178.84V555.12H179.46V553.74H180.08V556.50H180.70V556.50H181.32V556.50H181.94V555.12H182.56V556.50H183.18V555.12H183.80V556.50H184.42V556.50H185.04V556.50H185.66V556.50H186.28V556.50H186.90V556.50H187.52V555.12H188.14V556.50H188.76V556.50H189.38V556.50H190.00V556.50H190.62V556.50H191.24V556.50H191.86V556.50H192.48V556.50H193.10V556.50H193.72V556.50H194.34V556.50H194.96V556.50H195.58V556.50H196.20V556.50H196.82V556.50H197.44V556.50H198.06V556.50H198.68V556.50H199.30V556.50H199.92V556.50H200.54V556.50H201.16V556.50H201.78V556.50H202.40V556.50H203.02V556.50H203.64V556.50H204.26V556.50H204.88V556.50H205.50V556.50H206.12V556.50H206.74V556.50H207.36V556.50H207.98V556.50H208.60V556.50H209.22V556.50H209.84V556.50H210.46V556.50H211.08V556.50H211.70V556.50H212.32V556.50H212.94V556.50H213.56V556.50H214.18V556.50H214.80V556.50H215.42V556.50H216.04V556.50H216.66V556.50H217.28V556.50H217.90V556.50H218.52V556.50H219.14V556.50H219.76V556.50H220.38V556.50H221.00V556.50H221.62V556.50H222.24V556.50H222.86V556.50H223.48V556.50H224.10V556.50H224.72V556.50H225.34V556.50H225.96V556.50H226.58V556.50H227.20V556.50H227.82V556.50H228.44V556.50H229.06V556.50H229.68V556.50H230.30V556.50H230.92V556.50H231.54V556.50H232.16V556.50H232.78V556.50H233.40V556.50H234.02V556.50H234.64V556.50H235.26V556.50H235.88V556.50H236.50V556.50H237.12V556.50H237.74V556.50H238.36V556.50H238.98V556.50H239.60V556.50H240.22V556.50H240.84V556.50H241.46V556.50H242.08V556.50H242.70V556.50H243.32V556.50H243.94V556.50H244.56V556.50H245.18V556.50H245.80V556.50H246.42V556.50H247.04V556.50H247.66V556.50H248.28V556.50H248.90V556.50H249.52V556.50H250.14V556.50H250.76V556.50H251.38V556.50H252.00V556.50H252.62V556.50H253.24V556.50H253.86V556.50H254.48V556.50H255.10V556.50H255.72V556.50H256.34V556.50H256.96V556.50H257.58V556.50H258.20V556.50H258.82V556.50H259.44V556.50H260.06V556.50H260.68V556.50H261.30V556.50H261.92V556.50H262.54V556.50H263.16V556.50H263.78V556.50H264.40V556.50H265.02V556.50H265.64V556.50H266.26V556.50H266.88V556.50H267.50V556.50H268.12V556.50H268.74V556.50H269.36V556.50H269.98V556.50H270.60V556.50H271.22V556.50H271.84V556.50H272.46V556.50H273.08V556.50H273.70V556.50H274.32V556.50H274.94V556.50H275.56V556.50H276.18V556.50H276.80V556.50H277.42V556.50H278.04V556.50H278.66V556.50H279.28V556.50H279.90V556.50H280.52V556.50H281.14V556.50H281.76V556.50H282.38V556.50H283.00V556.50H283.62V556.50H284.24V556.50H284.86V556.50H285.48V556.50H286.10V556.50H286.72V556.50H287.34V556.50H287.96V556.50H288.58V556.50H289.20V556.50H289.82V556.50H290.44V556.50H291.06V556.50H291.68V556.50H292.30V556.50H292.92V556.50H293.54V556.50H294.16V556.50H294.78V556.50H295.40V556.50H296.02V556.50H296.64V556.50H297.26V556.50H297.88V556.50H298.50V556.50H299.12V556.50H299.74V556.50H300.36V556.50H300.98V556.50H301.60V556.50H302.22V556.50H302.84V556.50H303.46V556.50H304.08V556.50H304.70V556.50H305.32V556.50H305.94V556.50H306.56V556.50H307.18V556.50H307.80V556.50H308.42V556.50H309.04V556.50H309.66V556.50H310.28V556.50H310.90V556.50H311.52V556.50H312.14V556.50H312.76V556.50H313.38V556.50H314.00V556.50H314.62V556.50H315.24V556.50H315.86V556.50H316.48V556.50H317.10V556.50H317.72V556.50H318.34V556.50H318.96V556.50H319.58V556.50H320.20V556.50H320.82V556.50H321.44V556.50H322.06V556.50H322.68V556.50H323.30V556.50H323.92V556.50H324.54V556.50H325.16V556.50H325.78V556.50H326.40V556.50H327.02V556.50H327.64V556.50H328.26V556.50H328.88V556.50H329.50V556.50H330.12V556.50H330.74V556.50H331.36V556.50H331.98V556.50H332.60V556.50H333.22V556.50H333.84V556.50H334.46V556.50H335.08V556.50H335.70V556.50H336.32V556.50H336.94V556.50H337.56V556.50H338.18V556.50H338.80V556.50H339.42V556.50H340.04V556.50H340.66V556.50H341.28V556.50H341.90V556.50H342.52V556.50H343.14V556.50H343.76V556.50H344.38V556.50H345.00V556.50H345.62V556.50H346.24V556.50H346.86V556.50H347.48V556.50H348.10V556.50H348.72V556.50H349.34V556.50H349.96V556.50H350.58V556.50H351.20V556.50H351.82V556.50H352.44V556.50H353.06V556.50H353.68V556.50H354.30V556.50H354.92V556.50H355.54V556.50H356.16V556.50H356.78V556.50H357.40V556.50H358.02V556.50H358.64V556.50H359.26V556.50H359.88V556.50H360.50V556.50H361.12V556.50H361.74V556.50H362.36V556.50H362.98V556.50H363.60V556.50H364.22V556.50H364.84V556.50H365.46V556.50H366.08V556.50H366.70V556.50H367.32V556.50H367.94V556.50H368.56V556.50H369.18V556.50H369.80V556.50H370.42V556.50H371.04V556.50H371.66V556.50H372.28V556.50H372.90V556.50H373.52V556.50H374.14V556.50H374.76V556.50H375.38V556.50H376.00V556.50H376.62V556.50H377.24V556.50H377.86V556.50H378.48V556.50H379.10V556.50H379.72V556.50H380.34V556.50H380.96V556.50H381.58V556.50H382.20V556.50H382.82V556.50H383.44V556.50H384.06V556.50H384.68V556.50H385.30V556.50H385.92V556.50H386.54V556.50H387.16V556.50H387.78V556.50H388.40V556.50H389.02V556.50H389.64V556.50H390.26V556.50H390.88V556.50H391.50V556.50H392.12V556.50H392.74V556.50H393.36V556.50H393.98V556.50H394.60V556.50H395.22V556.50H395.84V556.50H396.46V556.50H397.08V556.50H397.70V556.50H398.32V556.50H398.94V556.50H399.56V556.50H400.18V556.50H400.80V556.50H401.42V556.50H402.04V556.50H402.66V556.50H403.28V556.50H403.90V556.50H404.52V556.50H405.14V556.50H405.76V556.50H406.38V556.50H407.00V556.50H407.62V556.50H408.24V556.50H408.86V556.50H409.48V556.50H410.10V556.50H410.72V556.50H411.34V556.50H411.96V556.50H412.58V556.50H413.20V556.50H413.82V556.50H414.44V556.50H415.06V556.50H415.68V556.50H416.30V556.50H416.92V556.50H417.54V556.50H418.16V556.50H418.78V556.50H419.40V556.50H420.02V556.50H420.64V556.50H421.26V556.50H421.88V556.50H422.50V556.50H423.12V556.50H423.74V556.50H424.36V556.50H424.98V556.50H425.60V556.50H426.22V556.50H426.84V556.50H427.46V556.50H428.08V556.50H428.70V556.50H429.32V556.50H429.94V556.50H430.56V556.50H431.18V556.50H431.80V556.50H432.42V556.50H433.04V556.50H433.66V556.50H434.28V556.50H434.90V556.50H435.52V556.50H436.14V556.50H436.76V556.50H437.38V556.50H438.00V556.50H438.62V556.50H439.24V556.50H439.86V556.50H440.48V556.50H441.10V556.50H441.72V556.50H442.34V556.50H442.96V556.50H443.58V556.50H444.20V556.50H444.82V556.50H445.44V556.50H446.06V556.50H446.68V556.50H447.30V556.50H447.92V556.50H448.54V556.50H449.16V556.50H449.78V556.50H450.40V556.50H451.02V556.50H451.64V556.50H452.26V556.50H452.88V556.50H453.50V556.50H454.12V556.50H454.74V556.50H455.36V556.50H455.98V556.50H456.60V556.50H457.22V556.50H457.84" fill="none" stroke="#ff1a99" stroke-width="1.05"/>
<rect x="39" y="335.50" width="2" height="221.50" fill="#ff2a9d" shape-rendering="crispEdges"/>
<rect x="40" y="442.90" width="2" height="114.10" fill="#ff1a99" shape-rendering="crispEdges"/>
<path d="M41.20,556.50H41.82V556.50H42.44V555.12H43.06V556.50H43.68V555.12H44.30V553.74H44.92V555.12H45.54V553.74H46.16V555.12H46.78V553.74H47.40V553.74H48.02V553.74H48.64V552.36H49.26V555.12H49.88V553.74H50.50V555.12H51.12V553.74H51.74V556.50H52.36V552.36H52.98V552.36H53.60V555.12H54.22V555.12H54.84V553.74H55.46V555.12H56.08V553.74H56.70V555.12H57.32V555.12H57.94V552.36H58.56V555.12H59.18V552.36H59.80V553.74H60.42V555.12H61.04V552.36H61.66V552.36H62.28V555.12H62.90V553.74H63.52V553.74H64.14V555.12H64.76V552.36H65.38V549.59H66.00V550.98H66.62V548.21H67.24V550.98H67.86V553.74H68.48V555.12H69.10V555.12H69.72V553.74H70.34V556.50H70.96V552.36H71.58V555.12H72.20V553.74H72.82V556.50H73.44V553.74H74.06V556.50H74.68V552.36H75.30V553.74H75.92V552.36H76.54V553.74H77.16V553.74H77.78V555.12H78.40V556.50H79.02V555.12H79.64V550.98H80.26V555.12H80.88V553.74H81.50V555.12H82.12V556.50H82.74V552.36H83.36V553.74H83.98V556.50H84.60V552.36H85.22V556.50H85.84V556.50H86.46V555.12H87.08V556.50H87.70V550.98H88.32V553.74H88.94V555.12H89.56V550.98H90.18V556.50H90.80V555.12H91.42V552.36H92.04V556.50H92.66V550.98H93.28V552.36H93.90V553.74H94.52V553.74H95.14V552.36H95.76V556.50H96.38V550.98H97.00V556.50H97.62V548.21H98.24V555.12H98.86V553.74H99.48V550.98H100.10V552.36H100.72V553.74H101.34V553.74H101.96V553.74H102.58V553.74H103.20V552.36H103.82V555.12H104.44V553.74H105.06V555.12H105.68V553.74H106.30V556.50H106.92V552.36H107.54V549.59H108.16V555.12H108.78V556.50H109.40V555.12H110.02V555.12H110.64V553.74H111.26V550.98H111.88V550.98H112.50V552.36H113.12V552.36H113.74V552.36H114.36V555.12H114.98V553.74H115.60V555.12H116.22V555.12H116.84V555.12H117.46V550.98H118.08V556.50H118.70V553.74H119.32V556.50H119.94V552.36H120.56V553.74H121.18V550.98H121.80V552.36H122.42V556.50H123.04V555.12H123.66V553.74H124.28V555.12H124.90V550.98H125.52V555.12H126.14V555.12H126.76V556.50H127.38V556.50H128.00V548.21H128.62V553.74H129.24V550.98H129.86V553.74H130.48V553.74H131.10V555.12H131.72V555.12H132.34V555.12H132.96V553.74H133.58V553.74H134.20V550.98H134.82V555.12H135.44V553.74H136.06V555.12H136.68V555.12H137.30V553.74H137.92V553.74H138.54V555.12H139.16V550.98H139.78V553.74H140.40V552.36H141.02V555.12H141.64V553.74H142.26V556.50H142.88V555.12H143.50V555.12H144.12V556.50H144.74V555.12H145.36V553.74H145.98V555.12H146.60V550.98H147.22V553.74H147.84V555.12H148.46V552.36H149.08V553.74H149.70V553.74H150.32V553.74H150.94V556.50H151.56V553.74H152.18V556.50H152.80V553.74H153.42V553.74H154.04V553.74H154.66V556.50H155.28V552.36H155.90V555.12H156.52V556.50H157.14V552.36H157.76V553.74H158.38V550.98H159.00V548.21H159.62V555.12H160.24V556.50H160.86V553.74H161.48V550.98H162.10V555.12H162.72V554.35H163.34V553.28H163.96V553.42H164.58V551.35H165.20V551.71H165.82V550.66H166.44V551.17H167.06V549.26H167.68V546.92H168.30V547.40H168.92V546.10H169.54V547.91H170.16V550.62H170.78V548.79H171.40V546.61H172.02V546.90H172.64V544.32H173.26V544.74H173.88V543.61H174.50V543.82H175.12V540.03H175.74V536.70H176.36V536.95H176.98V536.70H177.60V535.48H178.22V534.53H178.84V536.75H179.46V531.37H180.08V527.06H180.70V523.61H181.32V520.88H181.94V525.72H182.56V527.11H183.18V524.30H183.80V521.29H184.42V517.80H185.04V517.52H185.66V516.53H186.28V512.56H186.90V513.25H187.52V505.25H188.14V503.43H188.76V498.54H189.38V495.70H190.00V486.70H190.62V489.75H191.24V484.31H191.86V483.45H192.48V475.25H193.10V472.93H193.72V465.36H194.34V462.55H194.96V459.61H195.58V458.66H196.20V445.24H196.82V448.77H197.44V447.80H198.06V447.97H198.68V432.49H199.30V433.96H199.92V427.30H200.54V422.42H201.16V416.80H201.78V409.63H202.40V413.56H203.02V421.65H203.64V414.72H204.26V411.78H204.88V418.87H205.50V402.50H206.12V412.58H206.74V413.89H207.36V418.35H207.98V417.03H208.60V409.16H209.22V417.11H209.84V420.76H210.46V418.04H211.08V413.68H211.70V417.80H212.32V428.47H212.94V432.14H213.56V421.03H214.18V435.53H214.80V435.25H215.42V439.95H216.04V447.32H216.66V440.82H217.28V446.87H217.90V454.61H218.52V454.50H219.14V464.75H219.76V468.09H220.38V468.87H221.00V471.48H221.62V480.42H222.24V478.19H222.86V486.93H223.48V495.91H224.10V494.44H224.72V493.70H225.34V502.10H225.96V511.39H226.58V516.11H227.20V517.63H227.82V524.17H228.44V525.40H229.06V526.04H229.68V529.10H230.30V535.13H230.92V534.41H231.54V533.15H232.16V534.20H232.78V535.35H233.40V538.40H234.02V537.32H234.64V539.89H235.26V538.35H235.88V541.65H236.50V545.07H237.12V542.26H237.74V541.12H238.36V545.39H238.98V546.53H239.60V548.58H240.22V547.79H240.84V548.52H241.46V548.83H242.08V548.51H242.70V549.67H243.32V550.57H243.94V551.27H244.56V552.23H245.18V552.14H245.80V552.10H246.42V553.59H247.04V553.89H247.66V553.28H248.28V554.32H248.90V551.72H249.52V552.73H250.14V553.74H250.76V550.98H251.38V556.50H252.00V553.74H252.62V555.12H253.24V555.12H253.86V553.74H254.48V553.74H255.10V556.50H255.72V553.74H256.34V552.36H256.96V555.12H257.58V550.98H258.20V555.12H258.82V555.12H259.44V556.50H260.06V555.12H260.68V555.12H261.30V556.50H261.92V556.50H262.54V556.50H263.16V556.50H263.78V556.50H264.40V556.50H265.02V556.50H265.64V556.50H266.26V556.50H266.88V555.12H267.50V555.12H268.12V556.50H268.74V553.74H269.36V556.50H269.98V556.50H270.60V556.50H271.22V556.50H271.84V555.12H272.46V556.50H273.08V556.50H273.70V556.50H274.32V555.12H274.94V556.50H275.56V555.12H276.18V556.50H276.80V556.50H277.42V556.50H278.04V556.50H278.66V556.50H279.28V556.50H279.90V556.50H280.52V555.12H281.14V556.50H281.76V556.50H282.38V556.50H283.00V556.50H283.62V556.50H284.24V555.12H284.86V556.50H285.48V556.50H286.10V556.50H286.72V556.50H287.34V556.50H287.96V556.50H288.58V556.50H289.20V556.50H289.82V556.50H290.44V556.50H291.06V556.50H291.68V556.50H292.30V556.50H292.92V556.50H293.54V556.50H294.16V556.50H294.78V556.50H295.40V556.50H296.02V556.50H296.64V556.50H297.26V556.50H297.88V556.50H298.50V556.50H299.12V556.50H299.74V556.50H300.36V556.50H300.98V556.50H301.60V556.50H302.22V556.50H302.84V556.50H303.46V556.50H304.08V556.50H304.70V556.50H305.32V556.50H305.94V556.50H306.56V556.50H307.18V556.50H307.80V556.50H308.42V556.50H309.04V556.50H309.66V556.50H310.28V556.50H310.90V556.50H311.52V556.50H312.14V556.50H312.76V556.50H313.38V556.50H314.00V556.50H314.62V556.50H315.24V556.50H315.86V556.50H316.48V556.50H317.10V556.50H317.72V556.50H318.34V556.50H318.96V556.50H319.58V556.50H320.20V556.50H320.82V556.50H321.44V556.50H322.06V556.50H322.68V556.50H323.30V556.50H323.92V556.50H324.54V556.50H325.16V556.50H325.78V556.50H326.40V556.50H327.02V556.50H327.64V556.50H328.26V556.50H328.88V556.50H329.50V556.50H330.12V556.50H330.74V556.50H331.36V556.50H331.98V556.50H332.60V556.50H333.22V556.50H333.84V556.50H334.46V556.50H335.08V556.50H335.70V556.50H336.32V556.50H336.94V556.50H337.56V556.50H338.18V556.50H338.80V556.50H339.42V556.50H340.04V556.50H340.66V556.50H341.28V556.50H341.90V556.50H342.52V556.50H343.14V556.50H343.76V556.50H344.38V556.50H345.00V556.50H345.62V556.50H346.24V556.50H346.86V556.50H347.48V556.50H348.10V556.50H348.72V556.50H349.34V556.50H349.96V556.50H350.58V556.50H351.20V556.50H351.82V556.50H352.44V556.50H353.06V556.50H353.68V556.50H354.30V556.50H354.92V556.50H355.54V556.50H356.16V556.50H356.78V556.50H357.40V556.50H358.02V556.50H358.64V556.50H359.26V556.50H359.88V556.50H360.50V556.50H361.12V556.50H361.74V556.50H362.36V556.50H362.98V556.50H363.60V556.50H364.22V556.50H364.84V556.50H365.46V556.50H366.08V556.50H366.70V556.50H367.32V556.50H367.94V556.50H368.56V556.50H369.18V556.50H369.80V556.50H370.42V556.50H371.04V556.50H371.66V556.50H372.28V556.50H372.90V556.50H373.52V556.50H374.14V556.50H374.76V556.50H375.38V556.50H376.00V556.50H376.62V556.50H377.24V556.50H377.86V556.50H378.48V556.50H379.10V556.50H379.72V556.50H380.34V556.50H380.96V556.50H381.58V556.50H382.20V556.50H382.82V556.50H383.44V556.50H384.06V556.50H384.68V556.50H385.30V556.50H385.92V556.50H386.54V556.50H387.16V556.50H387.78V556.50H388.40V556.50H389.02V556.50H389.64V556.50H390.26V556.50H390.88V556.50H391.50V556.50H392.12V556.50H392.74V556.50H393.36V556.50H393.98V556.50H394.60V556.50H395.22V556.50H395.84V556.50H396.46V556.50H397.08V556.50H397.70V556.50H398.32V556.50H398.94V556.50H399.56V556.50H400.18V556.50H400.80V556.50H401.42V556.50H402.04V556.50H402.66V556.50H403.28V556.50H403.90V556.50H404.52V556.50H405.14V556.50H405.76V556.50H406.38V556.50H407.00V556.50H407.62V556.50H408.24V556.50H408.86V556.50H409.48V556.50H410.10V556.50H410.72V556.50H411.34V556.50H411.96V556.50H412.58V556.50H413.20V556.50H413.82V556.50H414.44V556.50H415.06V556.50H415.68V556.50H416.30V556.50H416.92V556.50H417.54V556.50H418.16V556.50H418.78V556.50H419.40V556.50H420.02V556.50H420.64V556.50H421.26V556.50H421.88V556.50H422.50V556.50H423.12V556.50H423.74V556.50H424.36V556.50H424.98V556.50H425.60V556.50H426.22V556.50H426.84V556.50H427.46V556.50H428.08V556.50H428.70V556.50H429.32V556.50H429.94V556.50H430.56V556.50H431.18V556.50H431.80V556.50H432.42V556.50H433.04V556.50H433.66V556.50H434.28V556.50H434.90V556.50H435.52V556.50H436.14V556.50H436.76V556.50H437.38V556.50H438.00V556.50H438.62V556.50H439.24V556.50H439.86V556.50H440.48V556.50H441.10V556.50H441.72V556.50H442.34V556.50H442.96V556.50H443.58V556.50H444.20V556.50H444.82V556.50H445.44V556.50H446.06V556.50H446.68V556.50H447.30V556.50H447.92V556.50H448.54V556.50H449.16V556.50H449.78V556.50H450.40V556.50H451.02V556.50H451.64V556.50H452.26V556.50H452.88V556.50H453.50V556.50H454.12V556.50H454.74V556.50H455.36V556.50H455.98V556.50H456.60V556.50H457.22V556.50H457.84" fill="none" stroke="#0000e6" stroke-width="1.9"/>
<path d="M41.20,556.50H41.82V556.50H42.44V555.12H43.06V556.50H43.68V555.12H44.30V555.12H44.92V556.50H45.54V556.50H46.16V556.50H46.78V556.50H47.40V556.50H48.02V556.50H48.64V556.50H49.26V555.12H49.88V553.74H50.50V556.50H51.12V555.12H51.74V555.12H52.36V555.12H52.98V556.50H53.60V556.50H54.22V553.74H54.84V556.50H55.46V555.12H56.08V553.74H56.70V555.12H57.32V555.12H57.94V555.12H58.56V556.50H59.18V555.12H59.80V556.50H60.42V553.74H61.04V553.74H61.66V553.74H62.28V556.50H62.90V556.50H63.52V553.74H64.14V555.12H64.76V552.36H65.38V556.50H66.00V555.12H66.62V556.50H67.24V556.50H67.86V556.50H68.48V555.12H69.10V556.50H69.72V556.50H70.34V553.74H70.96V555.12H71.58V553.74H72.20V555.12H72.82V556.50H73.44V555.12H74.06V555.12H74.68V555.12H75.30V553.74H75.92V555.12H76.54V556.50H77.16V556.50H77.78V553.74H78.40V556.50H79.02V553.74H79.64V555.12H80.26V555.12H80.88V555.12H81.50V555.12H82.12V555.12H82.74V555.12H83.36V555.12H83.98V555.12H84.60V555.12H85.22V555.12H85.84V555.12H86.46V553.74H87.08V555.12H87.70V556.50H88.32V556.50H88.94V556.50H89.56V555.12H90.18V553.74H90.80V553.74H91.42V555.12H92.04V555.12H92.66V553.74H93.28V556.50H93.90V556.50H94.52V556.50H95.14V555.12H95.76V555.12H96.38V553.74H97.00V550.98H97.62V552.36H98.24V556.50H98.86V556.50H99.48V556.50H100.10V556.50H100.72V556.50H101.34V555.12H101.96V555.12H102.58V555.12H103.20V553.74H103.82V556.50H104.44V553.74H105.06V556.50H105.68V553.74H106.30V555.12H106.92V556.50H107.54V553.74H108.16V555.12H108.78V555.12H109.40V555.12H110.02V552.36H110.64V553.74H111.26V555.12H111.88V556.50H112.50V553.74H113.12V556.50H113.74V556.50H114.36V556.50H114.98V556.50H115.60V552.36H116.22V553.74H116.84V555.12H117.46V555.12H118.08V555.12H118.70V556.50H119.32V555.12H119.94V553.74H120.56V553.74H121.18V553.74H121.80V555.12H122.42V556.50H123.04V556.50H123.66V552.36H124.28V556.50H124.90V553.74H125.52V556.50H126.14V556.50H126.76V556.50H127.38V553.74H128.00V553.74H128.62V553.74H129.24V553.74H129.86V552.36H130.48V552.36H131.10V553.74H131.72V555.12H132.34V555.12H132.96V555.12H133.58V555.12H134.20V553.74H134.82V555.12H135.44V556.50H136.06V550.98H136.68V555.12H137.30V556.50H137.92V556.50H138.54V553.74H139.16V556.50H139.78V553.74H140.40V553.74H141.02V555.12H141.64V552.36H142.26V556.50H142.88V553.74H143.50V556.50H144.12V556.50H144.74V553.74H145.36V555.12H145.98V555.12H146.60V555.12H147.22V553.74H147.84V552.36H148.46V555.12H149.08V553.74H149.70V553.74H150.32V555.12H150.94V556.50H151.56V555.12H152.18V555.12H152.80V555.12H153.42V553.74H154.04V555.12H154.66V556.50H155.28V553.74H155.90V555.12H156.52V555.12H157.14V555.12H157.76V553.74H158.38V556.50H159.00V553.74H159.62V553.74H160.24V555.12H160.86V552.36H161.48V556.50H162.10V553.74H162.72V553.74H163.34V555.12H163.96V553.74H164.58V549.59H165.20V555.12H165.82V555.12H166.44V556.50H167.06V555.12H167.68V552.36H168.30V553.74H168.92V555.12H169.54V555.12H170.16V556.50H170.78V556.50H171.40V556.50H172.02V555.12H172.64V553.74H173.26V556.50H173.88V556.50H174.50V553.74H175.12V555.12H175.74V553.74H176.36V553.74H176.98V552.36H177.60V553.74H178.22V553.74H178.84V556.50H179.46V553.74H180.08V556.50H180.70V552.36H181.32V555.12H181.94V552.36H182.56V556.50H183.18V552.36H183.80V556.50H184.42V555.12H185.04V555.12H185.66V556.50H186.28V553.74H186.90V553.74H187.52V556.50H188.14V553.74H188.76V556.50H189.38V553.74H190.00V556.50H190.62V556.50H191.24V555.12H191.86V553.74H192.48V555.12H193.10V555.12H193.72V556.50H194.34V556.50H194.96V549.59H195.58V555.12H196.20V553.74H196.82V550.98H197.44V555.12H198.06V555.12H198.68V552.36H199.30V553.74H199.92V556.50H200.54V556.50H201.16V552.36H201.78V550.98H202.40V555.12H203.02V553.35H203.64V553.64H204.26V553.02H204.88V552.48H205.50V552.21H206.12V551.94H206.74V549.90H207.36V552.33H207.98V551.37H208.60V551.04H209.22V547.95H209.84V546.90H210.46V546.63H211.08V549.03H211.70V546.82H212.32V545.18H212.94V541.76H213.56V543.48H214.18V544.03H214.80V545.74H215.42V543.48H216.04V541.46H216.66V542.95H217.28V539.09H217.90V538.86H218.52V539.38H219.14V538.88H219.76V539.42H220.38V538.44H221.00V536.72H221.62V535.63H222.24V533.11H222.86V531.09H223.48V530.57H224.10V529.61H224.72V525.51H225.34V528.66H225.96V530.17H226.58V530.69H227.20V534.70H227.82V531.38H228.44V532.06H229.06V537.56H229.68V536.13H230.30V537.21H230.92V530.90H231.54V530.25H232.16V531.52H232.78V533.02H233.40V530.33H234.02V530.13H234.64V535.69H235.26V532.94H235.88V530.43H236.50V531.26H237.12V531.81H237.74V532.75H238.36V528.54H238.98V524.71H239.60V527.48H240.22V525.23H240.84V522.10H241.46V520.95H242.08V521.14H242.70V522.26H243.32V514.13H243.94V510.24H244.56V512.51H245.18V510.70H245.80V503.82H246.42V498.22H247.04V494.41H247.66V495.35H248.28V486.99H248.90V480.23H249.52V479.29H250.14V472.89H250.76V467.71H251.38V461.84H252.00V459.59H252.62V463.34H253.24V465.76H253.86V455.35H254.48V453.09H255.10V453.44H255.72V453.10H256.34V445.71H256.96V452.59H257.58V448.69H258.20V440.31H258.82V437.90H259.44V435.00H260.06V442.41H260.68V432.79H261.30V435.06H261.92V443.61H262.54V442.14H263.16V440.04H263.78V437.81H264.40V437.79H265.02V437.03H265.64V443.33H266.26V441.98H266.88V444.71H267.50V456.18H268.12V449.63H268.74V451.50H269.36V453.35H269.98V455.93H270.60V461.64H271.22V460.49H271.84V459.94H272.46V480.10H273.08V480.64H273.70V471.83H274.32V469.59H274.94V470.31H275.56V478.44H276.18V485.14H276.80V487.06H277.42V481.07H278.04V482.82H278.66V478.98H279.28V481.57H279.90V486.79H280.52V489.43H281.14V480.80H281.76V494.87H282.38V495.84H283.00V498.38H283.62V502.71H284.24V506.38H284.86V505.39H285.48V504.92H286.10V507.90H286.72V507.76H287.34V509.19H287.96V515.70H288.58V515.29H289.20V514.29H289.82V518.65H290.44V518.74H291.06V518.09H291.68V520.63H292.30V523.82H292.92V527.85H293.54V531.11H294.16V533.61H294.78V535.22H295.40V535.11H296.02V536.39H296.64V539.27H297.26V538.33H297.88V540.28H298.50V540.24H299.12V542.38H299.74V544.22H300.36V546.34H300.98V546.20H301.60V546.15H302.22V547.47H302.84V547.16H303.46V549.39H304.08V546.65H304.70V549.00H305.32V550.38H305.94V548.67H306.56V547.97H307.18V548.46H307.80V550.35H308.42V551.05H309.04V550.54H309.66V551.06H310.28V552.73H310.90V552.83H311.52V553.35H312.14V552.31H312.76V551.69H313.38V553.12H314.00V551.05H314.62V551.65H315.24V552.18H315.86V552.56H316.48V553.77H317.10V552.36H317.72V549.59H318.34V553.74H318.96V552.36H319.58V556.50H320.20V553.74H320.82V555.12H321.44V553.74H322.06V555.12H322.68V555.12H323.30V550.98H323.92V553.74H324.54V555.12H325.16V556.50H325.78V553.74H326.40V552.36H327.02V556.50H327.64V556.50H328.26V553.74H328.88V555.12H329.50V555.12H330.12V556.50H330.74V555.12H331.36V553.74H331.98V556.50H332.60V556.50H333.22V556.50H333.84V556.50H334.46V556.50H335.08V556.50H335.70V555.12H336.32V556.50H336.94V553.74H337.56V555.12H338.18V555.12H338.80V556.50H339.42V556.50H340.04V556.50H340.66V556.50H341.28V556.50H341.90V556.50H342.52V556.50H343.14V556.50H343.76V556.50H344.38V556.50H345.00V555.12H345.62V556.50H346.24V556.50H346.86V556.50H347.48V556.50H348.10V556.50H348.72V556.50H349.34V556.50H349.96V556.50H350.58V556.50H351.20V556.50H351.82V556.50H352.44V556.50H353.06V556.50H353.68V556.50H354.30V556.50H354.92V556.50H355.54V556.50H356.16V556.50H356.78V556.50H357.40V556.50H358.02V556.50H358.64V556.50H359.26V556.50H359.88V556.50H360.50V556.50H361.12V556.50H361.74V556.50H362.36V556.50H362.98V556.50H363.60V556.50H364.22V556.50H364.84V556.50H365.46V556.50H366.08V556.50H366.70V556.50H367.32V556.50H367.94V556.50H368.56V556.50H369.18V556.50H369.80V556.50H370.42V556.50H371.04V556.50H371.66V556.50H372.28V556.50H372.90V556.50H373.52V556.50H374.14V556.50H374.76V556.50H375.38V556.50H376.00V556.50H376.62V556.50H377.24V556.50H377.86V556.50H378.48V556.50H379.10V556.50H379.72V556.50H380.34V556.50H380.96V556.50H381.58V556.50H382.20V556.50H382.82V556.50H383.44V556.50H384.06V556.50H384.68V556.50H385.30V556.50H385.92V556.50H386.54V556.50H387.16V556.50H387.78V556.50H388.40V556.50H389.02V556.50H389.64V556.50H390.26V556.50H390.88V556.50H391.50V556.50H392.12V556.50H392.74V556.50H393.36V556.50H393.98V556.50H394.60V556.50H395.22V556.50H395.84V556.50H396.46V556.50H397.08V556.50H397.70V556.50H398.32V556.50H398.94V556.50H399.56V556.50H400.18V556.50H400.80V556.50H401.42V556.50H402.04V556.50H402.66V556.50H403.28V556.50H403.90V556.50H404.52V556.50H405.14V556.50H405.76V556.50H406.38V556.50H407.00V556.50H407.62V556.50H408.24V556.50H408.86V556.50H409.48V556.50H410.10V556.50H410.72V556.50H411.34V556.50H411.96V556.50H412.58V556.50H413.20V556.50H413.82V556.50H414.44V556.50H415.06V556.50H415.68V556.50H416.30V556.50H416.92V556.50H417.54V556.50H418.16V556.50H418.78V556.50H419.40V556.50H420.02V556.50H420.64V556.50H421.26V556.50H421.88V556.50H422.50V556.50H423.12V556.50H423.74V556.50H424.36V556.50H424.98V556.50H425.60V556.50H426.22V556.50H426.84V556.50H427.46V556.50H428.08V556.50H428.70V556.50H429.32V556.50H429.94V556.50H430.56V556.50H431.18V556.50H431.80V556.50H432.42V556.50H433.04V556.50H433.66V556.50H434.28V556.50H434.90V556.50H435.52V556.50H436.14V556.50H436.76V556.50H437.38V556.50H438.00V556.50H438.62V556.50H439.24V556.50H439.86V556.50H440.48V556.50H441.10V556.50H441.72V556.50H442.34V556.50H442.96V556.50H443.58V556.50H444.20V556.50H444.82V556.50H445.44V556.50H446.06V556.50H446.68V556.50H447.30V556.50H447.92V556.50H448.54V556.50H449.16V556.50H449.78V556.50H450.40V556.50H451.02V556.50H451.64V556.50H452.26V556.50H452.88V556.50H453.50V556.50H454.12V556.50H454.74V556.50H455.36V556.50H455.98V556.50H456.60V556.50H457.22V556.50H457.84" fill="none" stroke="#000000" stroke-width="1.9"/>
<path d="M41.20,556.50H41.82V556.50H42.44V556.50H43.06V555.12H43.68V553.74H44.30V556.50H44.92V555.12H45.54V553.74H46.16V553.74H46.78V556.50H47.40V555.12H48.02V556.50H48.64V555.12H49.26V555.12H49.88V553.74H50.50V553.74H51.12V552.36H51.74V555.12H52.36V553.74H52.98V555.12H53.60V555.12H54.22V555.12H54.84V556.50H55.46V556.50H56.08V553.74H56.70V556.50H57.32V556.50H57.94V555.12H58.56V556.50H59.18V553.74H59.80V553.74H60.42V556.50H61.04V556.50H61.66V555.12H62.28V556.50H62.90V555.12H63.52V555.12H64.14V553.74H64.76V556.50H65.38V556.50H66.00V553.74H66.62V555.12H67.24V553.74H67.86V555.12H68.48V552.36H69.10V556.50H69.72V556.50H70.34V556.50H70.96V552.36H71.58V556.50H72.20V555.12H72.82V549.59H73.44V553.74H74.06V555.12H74.68V555.12H75.30V553.74H75.92V550.98H76.54V555.12H77.16V556.50H77.78V553.74H78.40V555.12H79.02V556.50H79.64V553.74H80.26V556.50H80.88V555.12H81.50V553.74H82.12V555.12H82.74V556.50H83.36V556.50H83.98V555.12H84.60V555.12H85.22V556.50H85.84V553.74H86.46V553.74H87.08V555.12H87.70V552.36H88.32V555.12H88.94V556.50H89.56V553.74H90.18V552.36H90.80V552.36H91.42V553.74H92.04V556.50H92.66V555.12H93.28V555.12H93.90V555.12H94.52V552.36H95.14V555.12H95.76V556.50H96.38V556.50H97.00V555.12H97.62V556.50H98.24V555.12H98.86V556.50H99.48V555.12H100.10V555.12H100.72V553.74H101.34V552.36H101.96V552.36H102.58V550.98H103.20V552.36H103.82V555.12H104.44V553.74H105.06V552.36H105.68V556.50H106.30V553.74H106.92V555.12H107.54V553.74H108.16V556.50H108.78V555.12H109.40V555.12H110.02V555.12H110.64V555.12H111.26V555.12H111.88V555.12H112.50V552.36H113.12V555.12H113.74V552.36H114.36V555.12H114.98V555.12H115.60V555.12H116.22V556.50H116.84V553.74H117.46V553.74H118.08V555.12H118.70V549.59H119.32V553.74H119.94V553.74H120.56V550.98H121.18V556.50H121.80V556.50H122.42V556.50H123.04V555.12H123.66V553.74H124.28V555.12H124.90V556.50H125.52V553.74H126.14V552.36H126.76V550.98H127.38V552.36H128.00V553.74H128.62V556.50H129.24V555.12H129.86V553.74H130.48V550.98H131.10V552.36H131.72V553.74H132.34V553.74H132.96V552.36H133.58V555.12H134.20V553.74H134.82V555.12H135.44V555.12H136.06V553.74H136.68V552.36H137.30V556.50H137.92V555.12H138.54V555.12H139.16V552.36H139.78V553.74H140.40V556.50H141.02V553.74H141.64V555.12H142.26V555.12H142.88V556.50H143.50V552.36H144.12V552.36H144.74V556.50H145.36V552.36H145.98V555.12H146.60V555.12H147.22V552.36H147.84V556.50H148.46V552.36H149.08V553.74H149.70V553.74H150.32V553.74H150.94V553.74H151.56V555.12H152.18V552.36H152.80V553.74H153.42V555.12H154.04V553.74H154.66V552.36H155.28V552.36H155.90V555.12H156.52V555.12H157.14V553.74H157.76V556.50H158.38V555.12H159.00V555.12H159.62V550.98H160.24V553.74H160.86V552.36H161.48V553.74H162.10V555.12H162.72V552.36H163.34V552.36H163.96V553.74H164.58V553.74H165.20V555.12H165.82V552.36H166.44V555.12H167.06V556.50H167.68V556.50H168.30V555.12H168.92V553.74H169.54V555.12H170.16V550.98H170.78V550.98H171.40V555.12H172.02V555.12H172.64V556.50H173.26V550.98H173.88V555.12H174.50V553.74H175.12V553.74H175.74V550.98H176.36V556.50H176.98V555.12H177.60V555.12H178.22V552.36H178.84V555.12H179.46V553.74H180.08V553.74H180.70V556.50H181.32V553.74H181.94V552.36H182.56V552.36H183.18V555.12H183.80V553.74H184.42V553.74H185.04V552.36H185.66V555.12H186.28V555.12H186.90V553.74H187.52V553.74H188.14V552.36H188.76V555.12H189.38V555.12H190.00V550.98H190.62V553.74H191.24V553.74H191.86V556.50H192.48V550.98H193.10V550.98H193.72V553.74H194.34V555.12H194.96V556.50H195.58V552.54H196.20V551.51H196.82V550.97H197.44V551.74H198.06V551.91H198.68V549.92H199.30V550.27H199.92V552.03H200.54V551.97H201.16V548.94H201.78V549.37H202.40V547.36H203.02V545.74H203.64V545.42H204.26V543.48H204.88V544.85H205.50V543.51H206.12V542.74H206.74V544.15H207.36V544.36H207.98V544.89H208.60V539.17H209.22V540.21H209.84V537.95H210.46V538.08H211.08V538.59H211.70V537.99H212.32V540.28H212.94V538.01H213.56V532.60H214.18V533.02H214.80V527.79H215.42V527.92H216.04V529.69H216.66V531.15H217.28V524.66H217.90V523.19H218.52V520.56H219.14V515.45H219.76V512.14H220.38V510.51H221.00V504.24H221.62V503.95H222.24V502.68H222.86V497.99H223.48V493.15H224.10V497.26H224.72V492.26H225.34V488.85H225.96V477.76H226.58V470.10H227.20V472.13H227.82V464.55H228.44V463.83H229.06V454.13H229.68V455.26H230.30V456.64H230.92V453.43H231.54V454.29H232.16V449.75H232.78V438.61H233.40V431.71H234.02V434.07H234.64V436.53H235.26V427.88H235.88V422.82H236.50V426.87H237.12V425.06H237.74V423.08H238.36V421.19H238.98V415.00H239.60V416.31H240.22V425.86H240.84V416.77H241.46V423.28H242.08V421.27H242.70V434.49H243.32V432.97H243.94V422.08H244.56V428.05H245.18V432.06H245.80V428.72H246.42V432.25H247.04V440.59H247.66V438.16H248.28V440.31H248.90V451.13H249.52V451.90H250.14V451.64H250.76V462.54H251.38V462.37H252.00V466.46H252.62V470.57H253.24V477.86H253.86V483.15H254.48V488.84H255.10V484.63H255.72V491.57H256.34V491.49H256.96V495.98H257.58V498.59H258.20V503.04H258.82V502.79H259.44V505.03H260.06V505.82H260.68V511.46H261.30V505.75H261.92V504.73H262.54V510.84H263.16V511.81H263.78V516.50H264.40V517.56H265.02V516.84H265.64V521.53H266.26V526.41H266.88V524.80H267.50V524.29H268.12V528.82H268.74V531.52H269.36V525.80H269.98V526.78H270.60V533.45H271.22V532.03H271.84V531.17H272.46V529.76H273.08V532.98H273.70V536.48H274.32V535.34H274.94V537.54H275.56V535.59H276.18V535.15H276.80V537.21H277.42V538.98H278.04V540.31H278.66V542.73H279.28V545.74H279.90V546.83H280.52V546.52H281.14V545.02H281.76V545.19H282.38V546.27H283.00V548.08H283.62V547.35H284.24V547.25H284.86V550.68H285.48V548.56H286.10V551.08H286.72V550.04H287.34V550.02H287.96V549.48H288.58V551.41H289.20V551.57H289.82V551.72H290.44V552.25H291.06V551.53H291.68V551.86H292.30V551.94H292.92V551.40H293.54V550.18H294.16V551.31H294.78V551.79H295.40V551.64H296.02V552.15H296.64V554.39H297.26V554.96H297.88V554.15H298.50V555.12H299.12V553.74H299.74V550.98H300.36V550.98H300.98V550.98H301.60V552.36H302.22V552.36H302.84V555.12H303.46V552.36H304.08V552.36H304.70V552.36H305.32V555.12H305.94V553.74H306.56V556.50H307.18V555.12H307.80V552.36H308.42V555.12H309.04V555.12H309.66V553.74H310.28V555.12H310.90V553.74H311.52V556.50H312.14V550.98H312.76V553.74H313.38V556.50H314.00V555.12H314.62V556.50H315.24V556.50H315.86V553.74H316.48V556.50H317.10V555.12H317.72V555.12H318.34V553.74H318.96V556.50H319.58V555.12H320.20V553.74H320.82V556.50H321.44V556.50H322.06V555.12H322.68V555.12H323.30V553.74H323.92V552.36H324.54V556.50H325.16V555.12H325.78V550.98H326.40V556.50H327.02V552.36H327.64V552.36H328.26V552.36H328.88V555.12H329.50V556.50H330.12V553.74H330.74V556.50H331.36V556.50H331.98V555.12H332.60V553.74H333.22V555.12H333.84V555.12H334.46V555.12H335.08V555.12H335.70V555.12H336.32V556.50H336.94V552.36H337.56V553.74H338.18V556.50H338.80V556.50H339.42V552.36H340.04V552.36H340.66V556.50H341.28V556.50H341.90V556.50H342.52V555.12H343.14V556.50H343.76V556.50H344.38V556.50H345.00V556.50H345.62V556.50H346.24V555.12H346.86V556.50H347.48V555.12H348.10V555.12H348.72V555.12H349.34V555.12H349.96V556.50H350.58V556.50H351.20V556.50H351.82V555.12H352.44V555.12H353.06V556.50H353.68V555.12H354.30V555.12H354.92V553.74H355.54V555.12H356.16V556.50H356.78V550.98H357.40V555.12H358.02V556.50H358.64V555.12H359.26V556.50H359.88V556.50H360.50V555.12H361.12V555.12H361.74V555.12H362.36V556.50H362.98V555.12H363.60V556.50H364.22V556.50H364.84V553.74H365.46V556.50H366.08V556.50H366.70V555.12H367.32V556.50H367.94V555.12H368.56V556.50H369.18V556.50H369.80V556.50H370.42V555.12H371.04V556.50H371.66V555.12H372.28V555.12H372.90V556.50H373.52V553.74H374.14V555.12H374.76V556.50H375.38V555.12H376.00V556.50H376.62V556.50H377.24V556.50H377.86V556.50H378.48V556.50H379.10V556.50H379.72V556.50H380.34V556.50H380.96V556.50H381.58V556.50H382.20V556.50H382.82V556.50H383.44V556.50H384.06V556.50H384.68V556.50H385.30V556.50H385.92V556.50H386.54V556.50H387.16V556.50H387.78V556.50H388.40V556.50H389.02V556.50H389.64V556.50H390.26V556.50H390.88V556.50H391.50V556.50H392.12V556.50H392.74V556.50H393.36V556.50H393.98V556.50H394.60V556.50H395.22V556.50H395.84V556.50H396.46V556.50H397.08V556.50H397.70V556.50H398.32V556.50H398.94V556.50H399.56V556.50H400.18V556.50H400.80V556.50H401.42V556.50H402.04V556.50H402.66V556.50H403.28V556.50H403.90V556.50H404.52V556.50H405.14V556.50H405.76V556.50H406.38V556.50H407.00V556.50H407.62V556.50H408.24V556.50H408.86V556.50H409.48V556.50H410.10V556.50H410.72V556.50H411.34V556.50H411.96V556.50H412.58V556.50H413.20V556.50H413.82V556.50H414.44V556.50H415.06V556.50H415.68V556.50H416.30V556.50H416.92V556.50H417.54V556.50H418.16V556.50H418.78V556.50H419.40V556.50H420.02V556.50H420.64V556.50H421.26V556.50H421.88V556.50H422.50V556.50H423.12V556.50H423.74V556.50H424.36V556.50H424.98V556.50H425.60V556.50H426.22V556.50H426.84V556.50H427.46V556.50H428.08V556.50H428.70V556.50H429.32V556.50H429.94V556.50H430.56V556.50H431.18V556.50H431.80V556.50H432.42V556.50H433.04V556.50H433.66V556.50H434.28V556.50H434.90V556.50H435.52V556.50H436.14V556.50H436.76V556.50H437.38V556.50H438.00V556.50H438.62V556.50H439.24V556.50H439.86V556.50H440.48V556.50H441.10V556.50H441.72V556.50H442.34V556.50H442.96V556.50H443.58V556.50H444.20V556.50H444.82V556.50H445.44V556.50H446.06V556.50H446.68V556.50H447.30V556.50H447.92V556.50H448.54V556.50H449.16V556.50H449.78V556.50H450.40V556.50H451.02V556.50H451.64V556.50H452.26V556.50H452.88V556.50H453.50V556.50H454.12V556.50H454.74V556.50H455.36V556.50H455.98V556.50H456.60V556.50H457.22V556.50H457.84" fill="none" stroke="#e00000" stroke-width="1.9"/>
<path d="M41.20,556.50H41.82V556.50H42.44V555.12H43.06V550.98H43.68V553.74H44.30V556.50H44.92V556.50H45.54V553.74H46.16V550.98H46.78V552.36H47.40V553.74H48.02V553.74H48.64V553.74H49.26V553.74H49.88V553.74H50.50V556.50H51.12V555.12H51.74V555.12H52.36V553.74H52.98V553.74H53.60V553.74H54.22V552.36H54.84V556.50H55.46V556.50H56.08V556.50H56.70V553.74H57.32V552.36H57.94V555.12H58.56V555.12H59.18V552.36H59.80V555.12H60.42V555.12H61.04V553.74H61.66V553.74H62.28V556.50H62.90V555.12H63.52V553.74H64.14V555.12H64.76V550.98H65.38V555.12H66.00V555.12H66.62V549.59H67.24V555.12H67.86V552.36H68.48V555.12H69.10V556.50H69.72V555.12H70.34V556.50H70.96V552.36H71.58V556.50H72.20V548.21H72.82V552.36H73.44V552.36H74.06V556.50H74.68V556.50H75.30V556.50H75.92V550.98H76.54V555.12H77.16V555.12H77.78V555.12H78.40V555.12H79.02V555.12H79.64V555.12H80.26V553.74H80.88V555.12H81.50V556.50H82.12V556.50H82.74V553.74H83.36V556.50H83.98V553.74H84.60V553.74H85.22V555.12H85.84V552.36H86.46V555.12H87.08V553.74H87.70V552.36H88.32V552.36H88.94V555.12H89.56V553.74H90.18V555.12H90.80V552.36H91.42V555.12H92.04V556.50H92.66V552.36H93.28V556.50H93.90V552.36H94.52V556.50H95.14V555.12H95.76V552.36H96.38V555.12H97.00V553.74H97.62V556.50H98.24V553.74H98.86V556.50H99.48V553.74H100.10V549.59H100.72V550.98H101.34V556.50H101.96V555.12H102.58V556.50H103.20V556.50H103.82V555.12H104.44V555.12H105.06V550.98H105.68V553.74H106.30V552.36H106.92V556.50H107.54V553.74H108.16V556.50H108.78V555.12H109.40V555.12H110.02V555.12H110.64V553.74H111.26V552.36H111.88V555.12H112.50V553.74H113.12V552.36H113.74V552.36H114.36V555.12H114.98V556.50H115.60V556.50H116.22V556.50H116.84V553.74H117.46V552.36H118.08V553.74H118.70V555.12H119.32V556.50H119.94V550.98H120.56V552.36H121.18V555.12H121.80V555.12H122.42V553.74H123.04V555.12H123.66V555.12H124.28V552.36H124.90V553.74H125.52V553.74H126.14V555.12H126.76V556.50H127.38V556.50H128.00V550.98H128.62V552.36H129.24V553.74H129.86V549.59H130.48V553.74H131.10V555.12H131.72V553.74H132.34V552.36H132.96V556.50H133.58V553.74H134.20V549.59H134.82V556.50H135.44V555.12H136.06V555.12H136.68V553.74H137.30V556.50H137.92V555.12H138.54V555.12H139.16V556.50H139.78V555.12H140.40V553.74H141.02V555.12H141.64V549.59H142.26V555.12H142.88V553.74H143.50V549.59H144.12V549.59H144.74V552.36H145.36V552.36H145.98V556.50H146.60V552.36H147.22V555.12H147.84V555.12H148.46V553.74H149.08V555.12H149.70V550.98H150.32V555.12H150.94V555.12H151.56V555.12H152.18V556.50H152.80V553.74H153.42V552.36H154.04V553.74H154.66V555.12H155.28V555.12H155.90V553.74H156.52V555.12H157.14V552.36H157.76V553.74H158.38V552.36H159.00V549.59H159.62V553.74H160.24V555.12H160.86V555.12H161.48V553.74H162.10V555.12H162.72V556.50H163.34V552.36H163.96V556.50H164.58V553.74H165.20V550.98H165.82V552.36H166.44V556.50H167.06V552.36H167.68V550.98H168.30V553.74H168.92V550.98H169.54V552.32H170.16V551.22H170.78V552.23H171.40V552.47H172.02V553.38H172.64V553.22H173.26V553.36H173.88V554.57H174.50V553.21H175.12V552.90H175.74V552.45H176.36V551.44H176.98V550.65H177.60V549.83H178.22V549.70H178.84V550.35H179.46V552.20H180.08V551.36H180.70V549.64H181.32V549.63H181.94V548.93H182.56V548.94H183.18V547.19H183.80V546.39H184.42V546.51H185.04V547.93H185.66V548.35H186.28V546.73H186.90V544.70H187.52V543.49H188.14V544.32H188.76V545.09H189.38V542.33H190.00V540.24H190.62V538.80H191.24V541.11H191.86V543.40H192.48V538.18H193.10V539.26H193.72V539.42H194.34V539.35H194.96V539.00H195.58V538.32H196.20V536.94H196.82V536.41H197.44V533.31H198.06V531.90H198.68V532.01H199.30V534.25H199.92V535.26H200.54V530.74H201.16V527.10H201.78V527.84H202.40V525.53H203.02V521.59H203.64V521.40H204.26V520.15H204.88V519.35H205.50V518.10H206.12V514.12H206.74V511.52H207.36V504.20H207.98V499.40H208.60V499.97H209.22V492.17H209.84V490.16H210.46V487.49H211.08V486.80H211.70V480.46H212.32V482.89H212.94V473.96H213.56V463.48H214.18V463.14H214.80V460.06H215.42V454.92H216.04V452.40H216.66V440.82H217.28V436.60H217.90V445.80H218.52V441.32H219.14V427.24H219.76V420.37H220.38V425.08H221.00V423.49H221.62V414.69H222.24V410.68H222.86V405.33H223.48V413.67H224.10V401.54H224.72V408.96H225.34V403.88H225.96V402.68H226.58V409.28H227.20V405.45H227.82V407.51H228.44V393.64H229.06V402.48H229.68V392.50H230.30V397.07H230.92V399.17H231.54V413.88H232.16V421.35H232.78V422.63H233.40V429.48H234.02V431.09H234.64V436.50H235.26V435.22H235.88V449.60H236.50V456.46H237.12V459.18H237.74V464.98H238.36V466.79H238.98V469.53H239.60V468.41H240.22V474.07H240.84V485.37H241.46V493.98H242.08V497.86H242.70V497.07H243.32V492.53H243.94V503.22H244.56V510.62H245.18V513.24H245.80V522.38H246.42V519.35H247.04V521.33H247.66V525.84H248.28V525.54H248.90V530.12H249.52V533.08H250.14V531.44H250.76V533.31H251.38V533.05H252.00V536.93H252.62V538.41H253.24V540.54H253.86V542.93H254.48V542.58H255.10V542.02H255.72V546.67H256.34V545.40H256.96V546.27H257.58V545.69H258.20V547.62H258.82V551.21H259.44V548.72H260.06V551.16H260.68V551.65H261.30V552.60H261.92V549.00H262.54V548.77H263.16V549.12H263.78V550.40H264.40V551.84H265.02V553.15H265.64V551.87H266.26V551.45H266.88V551.94H267.50V551.62H268.12V553.10H268.74V552.79H269.36V552.52H269.98V552.18H270.60V552.28H271.22V552.37H271.84V552.13H272.46V550.94H273.08V552.58H273.70V555.12H274.32V548.21H274.94V552.36H275.56V550.98H276.18V552.36H276.80V553.74H277.42V555.12H278.04V555.12H278.66V556.50H279.28V553.74H279.90V553.74H280.52V553.74H281.14V556.50H281.76V556.50H282.38V555.12H283.00V553.74H283.62V556.50H284.24V555.12H284.86V555.12H285.48V550.98H286.10V555.12H286.72V555.12H287.34V555.12H287.96V555.12H288.58V555.12H289.20V556.50H289.82V555.12H290.44V553.74H291.06V556.50H291.68V555.12H292.30V553.74H292.92V556.50H293.54V555.12H294.16V555.12H294.78V555.12H295.40V555.12H296.02V552.36H296.64V555.12H297.26V556.50H297.88V555.12H298.50V556.50H299.12V556.50H299.74V556.50H300.36V556.50H300.98V556.50H301.60V556.50H302.22V556.50H302.84V556.50H303.46V556.50H304.08V553.74H304.70V556.50H305.32V556.50H305.94V556.50H306.56V556.50H307.18V556.50H307.80V556.50H308.42V556.50H309.04V556.50H309.66V556.50H310.28V556.50H310.90V556.50H311.52V552.36H312.14V556.50H312.76V556.50H313.38V556.50H314.00V556.50H314.62V556.50H315.24V556.50H315.86V555.12H316.48V556.50H317.10V556.50H317.72V556.50H318.34V556.50H318.96V556.50H319.58V556.50H320.20V556.50H320.82V556.50H321.44V556.50H322.06V556.50H322.68V555.12H323.30V555.12H323.92V556.50H324.54V556.50H325.16V555.12H325.78V556.50H326.40V556.50H327.02V556.50H327.64V556.50H328.26V556.50H328.88V556.50H329.50V556.50H330.12V556.50H330.74V556.50H331.36V556.50H331.98V556.50H332.60V556.50H333.22V556.50H333.84V556.50H334.46V556.50H335.08V555.12H335.70V556.50H336.32V556.50H336.94V556.50H337.56V556.50H338.18V556.50H338.80V556.50H339.42V556.50H340.04V556.50H340.66V556.50H341.28V556.50H341.90V556.50H342.52V556.50H343.14V556.50H343.76V556.50H344.38V556.50H345.00V555.12H345.62V556.50H346.24V555.12H346.86V556.50H347.48V556.50H348.10V555.12H348.72V556.50H349.34V556.50H349.96V556.50H350.58V556.50H351.20V556.50H351.82V556.50H352.44V556.50H353.06V556.50H353.68V556.50H354.30V556.50H354.92V556.50H355.54V556.50H356.16V556.50H356.78V556.50H357.40V556.50H358.02V556.50H358.64V556.50H359.26V556.50H359.88V556.50H360.50V556.50H361.12V555.12H361.74V556.50H362.36V556.50H362.98V556.50H363.60V556.50H364.22V556.50H364.84V556.50H365.46V556.50H366.08V556.50H366.70V556.50H367.32V556.50H367.94V556.50H368.56V556.50H369.18V556.50H369.80V556.50H370.42V556.50H371.04V556.50H371.66V556.50H372.28V556.50H372.90V556.50H373.52V556.50H374.14V556.50H374.76V556.50H375.38V556.50H376.00V556.50H376.62V556.50H377.24V556.50H377.86V556.50H378.48V556.50H379.10V556.50H379.72V556.50H380.34V556.50H380.96V556.50H381.58V556.50H382.20V556.50H382.82V556.50H383.44V556.50H384.06V556.50H384.68V556.50H385.30V556.50H385.92V556.50H386.54V556.50H387.16V556.50H387.78V556.50H388.40V556.50H389.02V556.50H389.64V556.50H390.26V556.50H390.88V556.50H391.50V556.50H392.12V556.50H392.74V556.50H393.36V556.50H393.98V556.50H394.60V555.12H395.22V556.50H395.84V556.50H396.46V556.50H397.08V556.50H397.70V556.50H398.32V556.50H398.94V556.50H399.56V556.50H400.18V556.50H400.80V556.50H401.42V556.50H402.04V556.50H402.66V556.50H403.28V556.50H403.90V556.50H404.52V556.50H405.14V556.50H405.76V556.50H406.38V556.50H407.00V556.50H407.62V556.50H408.24V556.50H408.86V556.50H409.48V556.50H410.10V556.50H410.72V556.50H411.34V556.50H411.96V556.50H412.58V556.50H413.20V556.50H413.82V556.50H414.44V556.50H415.06V556.50H415.68V556.50H416.30V556.50H416.92V556.50H417.54V556.50H418.16V556.50H418.78V556.50H419.40V556.50H420.02V556.50H420.64V556.50H421.26V556.50H421.88V556.50H422.50V556.50H423.12V556.50H423.74V556.50H424.36V556.50H424.98V556.50H425.60V556.50H426.22V556.50H426.84V556.50H427.46V556.50H428.08V556.50H428.70V556.50H429.32V556.50H429.94V556.50H430.56V556.50H431.18V556.50H431.80V556.50H432.42V556.50H433.04V556.50H433.66V556.50H434.28V556.50H434.90V556.50H435.52V556.50H436.14V556.50H436.76V556.50H437.38V556.50H438.00V556.50H438.62V556.50H439.24V556.50H439.86V556.50H440.48V556.50H441.10V556.50H441.72V556.50H442.34V556.50H442.96V556.50H443.58V556.50H444.20V556.50H444.82V556.50H445.44V556.50H446.06V556.50H446.68V556.50H447.30V556.50H447.92V556.50H448.54V556.50H449.16V556.50H449.78V556.50H450.40V556.50H451.02V556.50H451.64V556.50H452.26V556.50H452.88V556.50H453.50V556.50H454.12V556.50H454.74V556.50H455.36V556.50H455.98V556.50H456.60V556.50H457.22V556.50H457.84" fill="none" stroke="#009966" stroke-width="1.9"/>
<rect x="40" y="547.00" width="2" height="10.00" fill="#009966" shape-rendering="crispEdges"/>
<text x="236.00" y="631.20" class="cap">(<tspan font-weight="bold" font-size="24.5px">c</tspan>)</text>
<g shape-rendering="crispEdges"><line x1="544.00" y1="334.80" x2="998.50" y2="334.80" stroke="#808080" stroke-width="1.3"/><line x1="998.00" y1="334.80" x2="998.00" y2="557.50" stroke="#a0a0a0" stroke-width="1"/><line x1="544.00" y1="334.80" x2="544.00" y2="558.00" stroke="#7a8a7a" stroke-width="1"/><line x1="539.20" y1="557.50" x2="543.50" y2="557.50" stroke="#777" stroke-width="1"/><line x1="541.20" y1="548.64" x2="543.50" y2="548.64" stroke="#777" stroke-width="1"/><line x1="541.20" y1="539.77" x2="543.50" y2="539.77" stroke="#777" stroke-width="1"/><line x1="541.20" y1="530.91" x2="543.50" y2="530.91" stroke="#777" stroke-width="1"/><line x1="541.20" y1="522.04" x2="543.50" y2="522.04" stroke="#777" stroke-width="1"/><line x1="539.20" y1="513.18" x2="543.50" y2="513.18" stroke="#777" stroke-width="1"/><line x1="541.20" y1="504.32" x2="543.50" y2="504.32" stroke="#777" stroke-width="1"/><line x1="541.20" y1="495.45" x2="543.50" y2="495.45" stroke="#777" stroke-width="1"/><line x1="541.20" y1="486.59" x2="543.50" y2="486.59" stroke="#777" stroke-width="1"/><line x1="541.20" y1="477.72" x2="543.50" y2="477.72" stroke="#777" stroke-width="1"/><line x1="539.20" y1="468.86" x2="543.50" y2="468.86" stroke="#777" stroke-width="1"/><line x1="541.20" y1="460.00" x2="543.50" y2="460.00" stroke="#777" stroke-width="1"/><line x1="541.20" y1="451.13" x2="543.50" y2="451.13" stroke="#777" stroke-width="1"/><line x1="541.20" y1="442.27" x2="543.50" y2="442.27" stroke="#777" stroke-width="1"/><line x1="541.20" y1="433.40" x2="543.50" y2="433.40" stroke="#777" stroke-width="1"/><line x1="539.20" y1="424.54" x2="543.50" y2="424.54" stroke="#777" stroke-width="1"/><line x1="541.20" y1="415.68" x2="543.50" y2="415.68" stroke="#777" stroke-width="1"/><line x1="541.20" y1="406.81" x2="543.50" y2="406.81" stroke="#777" stroke-width="1"/><line x1="541.20" y1="397.95" x2="543.50" y2="397.95" stroke="#777" stroke-width="1"/><line x1="541.20" y1="389.08" x2="543.50" y2="389.08" stroke="#777" stroke-width="1"/><line x1="539.20" y1="380.22" x2="543.50" y2="380.22" stroke="#777" stroke-width="1"/><line x1="541.20" y1="371.36" x2="543.50" y2="371.36" stroke="#777" stroke-width="1"/><line x1="541.20" y1="362.49" x2="543.50" y2="362.49" stroke="#777" stroke-width="1"/><line x1="541.20" y1="353.63" x2="543.50" y2="353.63" stroke="#777" stroke-width="1"/><line x1="541.20" y1="344.76" x2="543.50" y2="344.76" stroke="#777" stroke-width="1"/><line x1="539.20" y1="335.90" x2="543.50" y2="335.90" stroke="#777" stroke-width="1"/><line x1="545.00" y1="558.80" x2="545.00" y2="563.00" stroke="#808080" stroke-width="1"/><line x1="578.94" y1="558.80" x2="578.94" y2="560.80" stroke="#9a9a9a" stroke-width="1"/><line x1="598.80" y1="558.80" x2="598.80" y2="560.80" stroke="#9a9a9a" stroke-width="1"/><line x1="612.88" y1="558.80" x2="612.88" y2="560.80" stroke="#9a9a9a" stroke-width="1"/><line x1="623.81" y1="558.80" x2="623.81" y2="560.80" stroke="#9a9a9a" stroke-width="1"/><line x1="632.74" y1="558.80" x2="632.74" y2="560.80" stroke="#9a9a9a" stroke-width="1"/><line x1="640.28" y1="558.80" x2="640.28" y2="560.80" stroke="#9a9a9a" stroke-width="1"/><line x1="646.82" y1="558.80" x2="646.82" y2="560.80" stroke="#9a9a9a" stroke-width="1"/><line x1="652.59" y1="558.80" x2="652.59" y2="560.80" stroke="#9a9a9a" stroke-width="1"/><line x1="657.75" y1="558.80" x2="657.75" y2="563.00" stroke="#808080" stroke-width="1"/><line x1="691.69" y1="558.80" x2="691.69" y2="560.80" stroke="#9a9a9a" stroke-width="1"/><line x1="711.55" y1="558.80" x2="711.55" y2="560.80" stroke="#9a9a9a" stroke-width="1"/><line x1="725.63" y1="558.80" x2="725.63" y2="560.80" stroke="#9a9a9a" stroke-width="1"/><line x1="736.56" y1="558.80" x2="736.56" y2="560.80" stroke="#9a9a9a" stroke-width="1"/><line x1="745.49" y1="558.80" x2="745.49" y2="560.80" stroke="#9a9a9a" stroke-width="1"/><line x1="753.03" y1="558.80" x2="753.03" y2="560.80" stroke="#9a9a9a" stroke-width="1"/><line x1="759.57" y1="558.80" x2="759.57" y2="560.80" stroke="#9a9a9a" stroke-width="1"/><line x1="765.34" y1="558.80" x2="765.34" y2="560.80" stroke="#9a9a9a" stroke-width="1"/><line x1="770.50" y1="558.80" x2="770.50" y2="563.00" stroke="#808080" stroke-width="1"/><line x1="804.44" y1="558.80" x2="804.44" y2="560.80" stroke="#9a9a9a" stroke-width="1"/><line x1="824.30" y1="558.80" x2="824.30" y2="560.80" stroke="#9a9a9a" stroke-width="1"/><line x1="838.38" y1="558.80" x2="838.38" y2="560.80" stroke="#9a9a9a" stroke-width="1"/><line x1="849.31" y1="558.80" x2="849.31" y2="560.80" stroke="#9a9a9a" stroke-width="1"/><line x1="858.24" y1="558.80" x2="858.24" y2="560.80" stroke="#9a9a9a" stroke-width="1"/><line x1="865.78" y1="558.80" x2="865.78" y2="560.80" stroke="#9a9a9a" stroke-width="1"/><line x1="872.32" y1="558.80" x2="872.32" y2="560.80" stroke="#9a9a9a" stroke-width="1"/><line x1="878.09" y1="558.80" x2="878.09" y2="560.80" stroke="#9a9a9a" stroke-width="1"/><line x1="883.25" y1="558.80" x2="883.25" y2="563.00" stroke="#808080" stroke-width="1"/><line x1="917.19" y1="558.80" x2="917.19" y2="560.80" stroke="#9a9a9a" stroke-width="1"/><line x1="937.05" y1="558.80" x2="937.05" y2="560.80" stroke="#9a9a9a" stroke-width="1"/><line x1="951.13" y1="558.80" x2="951.13" y2="560.80" stroke="#9a9a9a" stroke-width="1"/><line x1="962.06" y1="558.80" x2="962.06" y2="560.80" stroke="#9a9a9a" stroke-width="1"/><line x1="970.99" y1="558.80" x2="970.99" y2="560.80" stroke="#9a9a9a" stroke-width="1"/><line x1="978.53" y1="558.80" x2="978.53" y2="560.80" stroke="#9a9a9a" stroke-width="1"/><line x1="985.07" y1="558.80" x2="985.07" y2="560.80" stroke="#9a9a9a" stroke-width="1"/><line x1="990.84" y1="558.80" x2="990.84" y2="560.80" stroke="#9a9a9a" stroke-width="1"/><line x1="996.00" y1="558.80" x2="996.00" y2="563.00" stroke="#808080" stroke-width="1"/></g>
<text x="531.50" y="557.50" transform="rotate(-90 531.50 557.50)" class="yl" letter-spacing="0">0</text>
<text x="531.50" y="512.68" transform="rotate(-90 531.50 512.68)" class="yl" letter-spacing="1.0">40</text>
<text x="531.50" y="468.36" transform="rotate(-90 531.50 468.36)" class="yl" letter-spacing="1.0">80</text>
<text x="531.50" y="424.04" transform="rotate(-90 531.50 424.04)" class="yl" letter-spacing="1.0">120</text>
<text x="531.50" y="379.72" transform="rotate(-90 531.50 379.72)" class="yl" letter-spacing="1.0">160</text>
<text x="531.50" y="335.40" transform="rotate(-90 531.50 335.40)" class="yl" letter-spacing="1.0">200</text>
<text x="520.00" y="448.82" transform="rotate(-90 520.00 448.82)" class="yl" textLength="37.7" lengthAdjust="spacing">Counts</text>
<text x="544.40" y="574.80" class="xl">10<tspan dx="1.2" dy="-4.3" class="sup">0</tspan></text>
<text x="657.15" y="574.80" class="xl">10<tspan dx="1.2" dy="-4.3" class="sup">1</tspan></text>
<text x="769.90" y="574.80" class="xl">10<tspan dx="1.2" dy="-4.3" class="sup">2</tspan></text>
<text x="882.65" y="574.80" class="xl">10<tspan dx="1.2" dy="-4.3" class="sup">3</tspan></text>
<text x="995.40" y="574.80" class="xl">10<tspan dx="1.2" dy="-4.3" class="sup">4</tspan></text>
<text x="771.30" y="586.00" class="xl">FL2-H</text>
<path d="M546.70,557.50H547.32V547.66H547.94V540.20H548.56V537.33H549.18V541.80H549.80V545.28H550.42V541.65H551.04V541.31H551.66V542.05H552.28V535.21H552.90V535.84H553.52V540.77H554.14V535.02H554.76V538.40H555.38V534.99H556.00V533.59H556.62V530.67H557.24V525.97H557.86V525.33H558.48V522.01H559.10V514.83H559.72V518.13H560.34V516.97H560.96V521.93H561.58V513.73H562.20V508.19H562.82V509.15H563.44V509.40H564.06V499.14H564.68V494.15H565.30V496.27H565.92V487.49H566.54V485.25H567.16V487.98H567.78V484.66H568.40V477.87H569.02V478.51H569.64V485.73H570.26V478.82H570.88V470.89H571.50V482.27H572.12V476.52H572.74V475.64H573.36V466.15H573.98V455.11H574.60V441.20H575.22V430.45H575.84V432.66H576.46V444.02H577.08V440.00H577.70V435.29H578.32V441.44H578.94V443.57H579.56V443.99H580.18V436.14H580.80V445.63H581.42V436.22H582.04V438.85H582.66V423.85H583.28V438.60H583.90V434.45H584.52V429.84H585.14V445.35H585.76V412.40H586.38V436.30H587.00V440.07H587.62V443.10H588.24V443.03H588.86V439.71H589.48V439.57H590.10V427.92H590.72V438.13H591.34V428.00H591.96V432.40H592.58V445.25H593.20V456.16H593.82V457.94H594.44V455.79H595.06V460.97H595.68V469.01H596.30V467.92H596.92V473.13H597.54V464.19H598.16V466.05H598.78V481.49H599.40V476.08H600.02V473.28H600.64V490.53H601.26V498.14H601.88V501.97H602.50V502.49H603.12V513.25H603.74V510.40H604.36V514.35H604.98V511.32H605.60V509.71H606.22V510.11H606.84V506.03H607.46V518.29H608.08V519.89H608.70V522.04H609.32V518.38H609.94V522.03H610.56V520.14H611.18V513.82H611.80V521.68H612.42V523.62H613.04V524.20H613.66V524.90H614.28V524.75H614.90V526.88H615.52V531.94H616.14V532.05H616.76V535.21H617.38V538.90H618.00V534.32H618.62V533.73H619.24V535.72H619.86V536.45H620.48V544.30H621.10V537.56H621.72V541.18H622.34V544.85H622.96V544.25H623.58V544.67H624.20V542.89H624.82V540.67H625.44V541.22H626.06V546.30H626.68V545.23H627.30V539.72H627.92V539.82H628.54V542.56H629.16V543.96H629.78V548.38H630.40V547.44H631.02V547.67H631.64V548.99H632.26V546.34H632.88V547.52H633.50V548.05H634.12V546.43H634.74V546.31H635.36V546.35H635.98V552.74H636.60V550.45H637.22V548.87H637.84V549.92H638.46V550.88H639.08V551.82H639.70V552.86H640.32V550.72H640.94V547.56H641.56V550.19H642.18V549.81H642.80V551.47H643.42V553.36H644.04V550.90H644.66V552.81H645.28V554.22H645.90V554.76H646.52V554.71H647.14V552.07H647.76V553.24H648.38V552.86H649.00V552.32H649.62V552.71H650.24V555.25H650.86V551.69H651.48V550.56H652.10V552.23H652.72V551.71H653.34V554.40H653.96V554.09H654.58V554.67H655.20V552.50H655.82V552.70H656.44V552.44H657.06V552.49H657.68V553.68H658.30V551.93H658.92V551.78H659.54V553.69H660.16V552.62H660.78V553.41H661.40V553.80H662.02V551.93H662.64V551.93H663.26V554.72H663.88V554.72H664.50V553.32H665.12V554.72H665.74V557.50H666.36V553.32H666.98V556.11H667.60V557.50H668.22V556.11H668.84V556.11H669.46V556.11H670.08V553.32H670.70V554.72H671.32V557.50H671.94V556.11H672.56V557.50H673.18V557.50H673.80V557.50H674.42V554.72H675.04V557.50H675.66V554.72H676.28V556.11H676.90V551.93H677.52V556.11H678.14V554.72H678.76V557.50H679.38V557.50H680.00V557.50H680.62V554.72H681.24V557.50H681.86V556.11H682.48V557.50H683.10V557.50H683.72V556.11H684.34V556.11H684.96V553.32H685.58V557.50H686.20V556.11H686.82V554.72H687.44V556.11H688.06V557.50H688.68V557.50H689.30V557.50H689.92V556.11H690.54V557.50H691.16V557.50H691.78V557.50H692.40V557.50H693.02V557.50H693.64V557.50H694.26V557.50H694.88V557.50H695.50V557.50H696.12V557.50H696.74V557.50H697.36V557.50H697.98V557.50H698.60V557.50H699.22V557.50H699.84V557.50H700.46V557.50H701.08V557.50H701.70V557.50H702.32V557.50H702.94V557.50H703.56V557.50H704.18V557.50H704.80V557.50H705.42V557.50H706.04V557.50H706.66V557.50H707.28V557.50H707.90V557.50H708.52V557.50H709.14V557.50H709.76V557.50H710.38V557.50H711.00V557.50H711.62V557.50H712.24V557.50H712.86V557.50H713.48V557.50H714.10V557.50H714.72V557.50H715.34V557.50H715.96V557.50H716.58V557.50H717.20V557.50H717.82V557.50H718.44V557.50H719.06V557.50H719.68V557.50H720.30V557.50H720.92V557.50H721.54V557.50H722.16V557.50H722.78V557.50H723.40V557.50H724.02V557.50H724.64V557.50H725.26V557.50H725.88V557.50H726.50V557.50H727.12V557.50H727.74V557.50H728.36V557.50H728.98V557.50H729.60V557.50H730.22V557.50H730.84V557.50H731.46V557.50H732.08V557.50H732.70V557.50H733.32V557.50H733.94V557.50H734.56V557.50H735.18V557.50H735.80V557.50H736.42V557.50H737.04V557.50H737.66V557.50H738.28V557.50H738.90V557.50H739.52V557.50H740.14V557.50H740.76V557.50H741.38V557.50H742.00V557.50H742.62V557.50H743.24V557.50H743.86V557.50H744.48V557.50H745.10V557.50H745.72V557.50H746.34V557.50H746.96V557.50H747.58V557.50H748.20V557.50H748.82V557.50H749.44V557.50H750.06V557.50H750.68V557.50H751.30V557.50H751.92V557.50H752.54V557.50H753.16V557.50H753.78V557.50H754.40V557.50H755.02V557.50H755.64V557.50H756.26V557.50H756.88V557.50H757.50V557.50H758.12V557.50H758.74V557.50H759.36V557.50H759.98V557.50H760.60V557.50H761.22V557.50H761.84V557.50H762.46V557.50H763.08V557.50H763.70V557.50H764.32V557.50H764.94V557.50H765.56V557.50H766.18V557.50H766.80V557.50H767.42V557.50H768.04V557.50H768.66V557.50H769.28V557.50H769.90V557.50H770.52V557.50H771.14V557.50H771.76V557.50H772.38V557.50H773.00V557.50H773.62V557.50H774.24V557.50H774.86V557.50H775.48V557.50H776.10V557.50H776.72V557.50H777.34V557.50H777.96V557.50H778.58V557.50H779.20V557.50H779.82V557.50H780.44V557.50H781.06V557.50H781.68V557.50H782.30V557.50H782.92V557.50H783.54V557.50H784.16V557.50H784.78V557.50H785.40V557.50H786.02V557.50H786.64V557.50H787.26V557.50H787.88V557.50H788.50V557.50H789.12V557.50H789.74V557.50H790.36V557.50H790.98V557.50H791.60V557.50H792.22V557.50H792.84V557.50H793.46V557.50H794.08V557.50H794.70V557.50H795.32V557.50H795.94V557.50H796.56V557.50H797.18V557.50H797.80V557.50H798.42V557.50H799.04V557.50H799.66V557.50H800.28V557.50H800.90V557.50H801.52V557.50H802.14V557.50H802.76V557.50H803.38V557.50H804.00V557.50H804.62V557.50H805.24V557.50H805.86V557.50H806.48V557.50H807.10V557.50H807.72V557.50H808.34V557.50H808.96V557.50H809.58V557.50H810.20V557.50H810.82V557.50H811.44V557.50H812.06V557.50H812.68V557.50H813.30V557.50H813.92V557.50H814.54V557.50H815.16V557.50H815.78V557.50H816.40V557.50H817.02V557.50H817.64V557.50H818.26V557.50H818.88V557.50H819.50V557.50H820.12V557.50H820.74V557.50H821.36V557.50H821.98V557.50H822.60V557.50H823.22V557.50H823.84V557.50H824.46V557.50H825.08V557.50H825.70V557.50H826.32V557.50H826.94V557.50H827.56V557.50H828.18V557.50H828.80V557.50H829.42V557.50H830.04V557.50H830.66V557.50H831.28V557.50H831.90V557.50H832.52V557.50H833.14V557.50H833.76V557.50H834.38V557.50H835.00V557.50H835.62V557.50H836.24V557.50H836.86V557.50H837.48V557.50H838.10V557.50H838.72V557.50H839.34V557.50H839.96V557.50H840.58V557.50H841.20V557.50H841.82V557.50H842.44V557.50H843.06V557.50H843.68V557.50H844.30V557.50H844.92V557.50H845.54V557.50H846.16V557.50H846.78V557.50H847.40V557.50H848.02V557.50H848.64V557.50H849.26V557.50H849.88V557.50H850.50V557.50H851.12V557.50H851.74V557.50H852.36V557.50H852.98V557.50H853.60V557.50H854.22V557.50H854.84V557.50H855.46V557.50H856.08V557.50H856.70V557.50H857.32V557.50H857.94V557.50H858.56V557.50H859.18V557.50H859.80V557.50H860.42V557.50H861.04V557.50H861.66V557.50H862.28V557.50H862.90V557.50H863.52V557.50H864.14V557.50H864.76V557.50H865.38V557.50H866.00V557.50H866.62V557.50H867.24V557.50H867.86V557.50H868.48V557.50H869.10V557.50H869.72V557.50H870.34V557.50H870.96V557.50H871.58V557.50H872.20V557.50H872.82V557.50H873.44V557.50H874.06V557.50H874.68V557.50H875.30V557.50H875.92V557.50H876.54V557.50H877.16V557.50H877.78V557.50H878.40V557.50H879.02V557.50H879.64V557.50H880.26V557.50H880.88V557.50H881.50V557.50H882.12V557.50H882.74V557.50H883.36V557.50H883.98V557.50H884.60V557.50H885.22V557.50H885.84V557.50H886.46V557.50H887.08V557.50H887.70V557.50H888.32V557.50H888.94V557.50H889.56V557.50H890.18V557.50H890.80V557.50H891.42V557.50H892.04V557.50H892.66V557.50H893.28V557.50H893.90V557.50H894.52V557.50H895.14V557.50H895.76V557.50H896.38V557.50H897.00V557.50H897.62V557.50H898.24V557.50H898.86V557.50H899.48V557.50H900.10V557.50H900.72V557.50H901.34V557.50H901.96V557.50H902.58V557.50H903.20V557.50H903.82V557.50H904.44V557.50H905.06V557.50H905.68V557.50H906.30V557.50H906.92V557.50H907.54V557.50H908.16V557.50H908.78V557.50H909.40V557.50H910.02V557.50H910.64V557.50H911.26V557.50H911.88V557.50H912.50V557.50H913.12V557.50H913.74V557.50H914.36V557.50H914.98V557.50H915.60V557.50H916.22V557.50H916.84V557.50H917.46V557.50H918.08V557.50H918.70V557.50H919.32V557.50H919.94V557.50H920.56V557.50H921.18V557.50H921.80V557.50H922.42V557.50H923.04V557.50H923.66V557.50H924.28V557.50H924.90V557.50H925.52V557.50H926.14V557.50H926.76V557.50H927.38V557.50H928.00V557.50H928.62V557.50H929.24V557.50H929.86V557.50H930.48V557.50H931.10V557.50H931.72V557.50H932.34V557.50H932.96V557.50H933.58V557.50H934.20V557.50H934.82V557.50H935.44V557.50H936.06V557.50H936.68V557.50H937.30V557.50H937.92V557.50H938.54V557.50H939.16V557.50H939.78V557.50H940.40V557.50H941.02V557.50H941.64V557.50H942.26V557.50H942.88V557.50H943.50V557.50H944.12V557.50H944.74V557.50H945.36V557.50H945.98V557.50H946.60V557.50H947.22V557.50H947.84V557.50H948.46V557.50H949.08V557.50H949.70V557.50H950.32V557.50H950.94V557.50H951.56V557.50H952.18V557.50H952.80V557.50H953.42V557.50H954.04V557.50H954.66V557.50H955.28V557.50H955.90V557.50H956.52V557.50H957.14V557.50H957.76V557.50H958.38V557.50H959.00V557.50H959.62V557.50H960.24V557.50H960.86V557.50H961.48V557.50H962.10V557.50H962.72V557.50H963.34V557.50H963.96V557.50H964.58V557.50H965.20V557.50H965.82V557.50H966.44V557.50H967.06V557.50H967.68V557.50H968.30V557.50H968.92V557.50H969.54V557.50H970.16V557.50H970.78V557.50H971.40V557.50H972.02V557.50H972.64V557.50H973.26V557.50H973.88V557.50H974.50V557.50H975.12V557.50H975.74V557.50H976.36V557.50H976.98V557.50H977.60V557.50H978.22V557.50H978.84V557.50H979.46V557.50H980.08V557.50H980.70V557.50H981.32V557.50H981.94V557.50H982.56V557.50H983.18V557.50H983.80V557.50H984.42V557.50H985.04V557.50H985.66V557.50H986.28V557.50H986.90V557.50H987.52V557.50H988.14V557.50H988.76V557.50H989.38V557.50H990.00V557.50H990.62V557.50H991.24V557.50H991.86V557.50H992.48V557.50H993.10V557.50H993.72V557.50H994.34V557.50H994.96V557.50H995.58V557.50H996.20V557.50H996.82V557.50H997.44V557.50H998.06" fill="none" stroke="#ff1a99" stroke-width="1.05"/>
<rect x="545" y="334.80" width="2" height="223.20" fill="#ff2a9d" shape-rendering="crispEdges"/>
<rect x="546" y="442.90" width="2" height="115.10" fill="#ff1a99" shape-rendering="crispEdges"/>
<path d="M546.70,557.50H547.32V557.50H547.94V556.11H548.56V554.72H549.18V554.72H549.80V554.72H550.42V551.93H551.04V551.93H551.66V554.72H552.28V556.11H552.90V553.32H553.52V553.32H554.14V556.11H554.76V556.11H555.38V556.11H556.00V554.72H556.62V556.11H557.24V551.93H557.86V553.81H558.48V554.86H559.10V554.57H559.72V554.48H560.34V553.54H560.96V552.98H561.58V553.95H562.20V553.91H562.82V553.32H563.44V554.09H564.06V553.36H564.68V555.31H565.30V554.53H565.92V554.04H566.54V554.21H567.16V554.55H567.78V555.15H568.40V555.89H569.02V554.96H569.64V553.66H570.26V553.19H570.88V552.23H571.50V552.73H572.12V552.61H572.74V554.48H573.36V554.89H573.98V554.19H574.60V553.66H575.22V554.15H575.84V554.05H576.46V553.26H577.08V553.85H577.70V552.60H578.32V552.94H578.94V553.49H579.56V554.44H580.18V553.66H580.80V553.46H581.42V553.16H582.04V553.91H582.66V553.52H583.28V555.82H583.90V554.30H584.52V552.55H585.14V553.68H585.76V553.94H586.38V552.81H587.00V554.10H587.62V554.48H588.24V553.70H588.86V553.51H589.48V553.73H590.10V554.54H590.72V554.54H591.34V554.23H591.96V553.42H592.58V554.36H593.20V554.25H593.82V554.04H594.44V553.91H595.06V553.84H595.68V553.82H596.30V553.72H596.92V554.95H597.54V554.33H598.16V554.72H598.78V549.15H599.40V556.11H600.02V556.11H600.64V553.32H601.26V556.11H601.88V557.50H602.50V556.11H603.12V551.93H603.74V554.72H604.36V553.32H604.98V554.72H605.60V553.32H606.22V551.93H606.84V553.32H607.46V550.54H608.08V553.32H608.70V553.32H609.32V554.72H609.94V551.93H610.56V556.11H611.18V554.72H611.80V556.11H612.42V556.11H613.04V554.72H613.66V551.93H614.28V554.72H614.90V556.11H615.52V553.32H616.14V557.50H616.76V557.50H617.38V557.50H618.00V556.11H618.62V557.50H619.24V551.93H619.86V557.50H620.48V553.32H621.10V557.50H621.72V550.54H622.34V554.72H622.96V556.11H623.58V556.11H624.20V556.11H624.82V554.72H625.44V550.54H626.06V551.93H626.68V554.72H627.30V557.50H627.92V553.32H628.54V554.72H629.16V551.93H629.78V556.11H630.40V550.54H631.02V557.50H631.64V553.32H632.26V554.72H632.88V556.11H633.50V556.11H634.12V557.50H634.74V557.50H635.36V551.93H635.98V554.72H636.60V554.72H637.22V557.50H637.84V554.72H638.46V556.11H639.08V554.72H639.70V554.72H640.32V554.72H640.94V556.11H641.56V553.32H642.18V556.11H642.80V554.72H643.42V554.72H644.04V557.50H644.66V553.32H645.28V556.11H645.90V553.32H646.52V556.11H647.14V556.11H647.76V551.93H648.38V554.72H649.00V553.32H649.62V556.11H650.24V553.32H650.86V557.50H651.48V554.72H652.10V553.32H652.72V554.72H653.34V554.72H653.96V554.72H654.58V553.32H655.20V557.50H655.82V554.72H656.44V551.93H657.06V556.11H657.68V554.72H658.30V550.54H658.92V554.72H659.54V554.72H660.16V553.32H660.78V550.54H661.40V556.11H662.02V554.72H662.64V557.50H663.26V556.11H663.88V554.72H664.50V551.93H665.12V556.11H665.74V557.50H666.36V556.11H666.98V553.32H667.60V554.72H668.22V554.72H668.84V556.11H669.46V556.11H670.08V556.11H670.70V551.93H671.32V556.11H671.94V556.11H672.56V556.11H673.18V556.11H673.80V554.72H674.42V554.72H675.04V556.11H675.66V554.72H676.28V557.50H676.90V556.11H677.52V553.32H678.14V554.72H678.76V554.72H679.38V556.11H680.00V551.93H680.62V556.11H681.24V554.72H681.86V556.11H682.48V554.72H683.10V556.11H683.72V554.72H684.34V553.32H684.96V553.33H685.58V553.73H686.20V555.45H686.82V555.54H687.44V553.46H688.06V552.71H688.68V554.23H689.30V553.68H689.92V553.05H690.54V551.93H691.16V552.85H691.78V552.11H692.40V552.37H693.02V553.17H693.64V554.02H694.26V553.13H694.88V551.55H695.50V552.20H696.12V552.09H696.74V553.51H697.36V554.35H697.98V552.86H698.60V550.06H699.22V550.63H699.84V552.22H700.46V552.35H701.08V549.03H701.70V550.01H702.32V550.45H702.94V550.92H703.56V548.46H704.18V549.25H704.80V550.07H705.42V550.72H706.04V548.09H706.66V547.67H707.28V548.69H707.90V547.91H708.52V548.50H709.14V547.03H709.76V543.63H710.38V545.76H711.00V543.49H711.62V541.10H712.24V540.24H712.86V542.21H713.48V539.79H714.10V538.83H714.72V539.67H715.34V537.30H715.96V533.90H716.58V533.54H717.20V531.68H717.82V526.78H718.44V531.97H719.06V534.66H719.68V529.39H720.30V529.30H720.92V529.97H721.54V528.88H722.16V528.37H722.78V525.15H723.40V525.15H724.02V523.21H724.64V516.29H725.26V515.07H725.88V513.96H726.50V517.57H727.12V517.44H727.74V515.60H728.36V508.27H728.98V504.70H729.60V503.31H730.22V499.47H730.84V495.06H731.46V496.05H732.08V491.05H732.70V491.17H733.32V488.77H733.94V482.45H734.56V485.89H735.18V472.19H735.80V466.11H736.42V463.12H737.04V465.16H737.66V470.30H738.28V469.41H738.90V459.14H739.52V446.95H740.14V446.40H740.76V446.25H741.38V448.93H742.00V431.08H742.62V428.06H743.24V433.39H743.86V432.47H744.48V424.24H745.10V423.84H745.72V427.25H746.34V425.57H746.96V420.22H747.58V411.13H748.20V407.50H748.82V412.65H749.44V409.00H750.06V414.89H750.68V420.34H751.30V418.98H751.92V413.97H752.54V421.53H753.16V407.81H753.78V404.31H754.40V423.25H755.02V428.09H755.64V419.80H756.26V419.01H756.88V417.66H757.50V433.04H758.12V434.62H758.74V439.73H759.36V449.34H759.98V435.13H760.60V445.85H761.22V460.10H761.84V463.76H762.46V458.53H763.08V456.57H763.70V463.33H764.32V466.39H764.94V478.98H765.56V479.96H766.18V478.23H766.80V483.42H767.42V491.49H768.04V499.17H768.66V499.72H769.28V499.75H769.90V501.92H770.52V505.62H771.14V503.55H771.76V508.87H772.38V510.81H773.00V516.31H773.62V517.25H774.24V516.78H774.86V517.54H775.48V525.01H776.10V523.99H776.72V522.05H777.34V529.04H777.96V529.90H778.58V529.63H779.20V533.41H779.82V535.97H780.44V535.85H781.06V535.64H781.68V533.01H782.30V531.86H782.92V538.20H783.54V539.04H784.16V540.25H784.78V540.31H785.40V539.78H786.02V541.12H786.64V544.49H787.26V543.99H787.88V545.05H788.50V545.86H789.12V544.64H789.74V547.66H790.36V547.14H790.98V547.33H791.60V548.65H792.22V549.79H792.84V550.23H793.46V549.49H794.08V550.79H794.70V549.19H795.32V549.00H795.94V549.20H796.56V550.85H797.18V550.55H797.80V550.50H798.42V551.05H799.04V551.50H799.66V550.92H800.28V551.81H800.90V552.78H801.52V553.36H802.14V554.02H802.76V553.25H803.38V553.04H804.00V554.72H804.62V554.72H805.24V554.72H805.86V553.32H806.48V554.72H807.10V556.11H807.72V556.11H808.34V557.50H808.96V553.32H809.58V557.50H810.20V557.50H810.82V556.11H811.44V556.11H812.06V557.50H812.68V556.11H813.30V557.50H813.92V557.50H814.54V556.11H815.16V556.11H815.78V553.32H816.40V554.72H817.02V556.11H817.64V556.11H818.26V554.72H818.88V557.50H819.50V557.50H820.12V556.11H820.74V557.50H821.36V556.11H821.98V557.50H822.60V554.72H823.22V557.50H823.84V557.50H824.46V557.50H825.08V556.11H825.70V557.50H826.32V556.11H826.94V557.50H827.56V553.32H828.18V557.50H828.80V557.50H829.42V557.50H830.04V554.72H830.66V557.50H831.28V557.50H831.90V557.50H832.52V556.11H833.14V553.32H833.76V557.50H834.38V557.50H835.00V557.50H835.62V557.50H836.24V557.50H836.86V557.50H837.48V556.11H838.10V556.11H838.72V557.50H839.34V557.50H839.96V557.50H840.58V556.11H841.20V557.50H841.82V557.50H842.44V554.72H843.06V554.72H843.68V557.50H844.30V556.11H844.92V557.50H845.54V557.50H846.16V556.11H846.78V557.50H847.40V556.11H848.02V557.50H848.64V557.50H849.26V557.50H849.88V557.50H850.50V557.50H851.12V557.50H851.74V557.50H852.36V557.50H852.98V557.50H853.60V557.50H854.22V557.50H854.84V557.50H855.46V557.50H856.08V557.50H856.70V557.50H857.32V557.50H857.94V557.50H858.56V557.50H859.18V557.50H859.80V557.50H860.42V557.50H861.04V557.50H861.66V557.50H862.28V557.50H862.90V557.50H863.52V557.50H864.14V557.50H864.76V557.50H865.38V557.50H866.00V557.50H866.62V557.50H867.24V557.50H867.86V557.50H868.48V557.50H869.10V557.50H869.72V557.50H870.34V557.50H870.96V557.50H871.58V557.50H872.20V557.50H872.82V557.50H873.44V557.50H874.06V557.50H874.68V557.50H875.30V557.50H875.92V557.50H876.54V557.50H877.16V557.50H877.78V557.50H878.40V557.50H879.02V557.50H879.64V557.50H880.26V557.50H880.88V557.50H881.50V557.50H882.12V557.50H882.74V557.50H883.36V557.50H883.98V557.50H884.60V557.50H885.22V557.50H885.84V557.50H886.46V557.50H887.08V557.50H887.70V557.50H888.32V557.50H888.94V557.50H889.56V557.50H890.18V557.50H890.80V557.50H891.42V557.50H892.04V557.50H892.66V557.50H893.28V557.50H893.90V557.50H894.52V557.50H895.14V557.50H895.76V557.50H896.38V557.50H897.00V557.50H897.62V557.50H898.24V557.50H898.86V557.50H899.48V557.50H900.10V557.50H900.72V557.50H901.34V557.50H901.96V557.50H902.58V557.50H903.20V557.50H903.82V557.50H904.44V557.50H905.06V557.50H905.68V557.50H906.30V557.50H906.92V557.50H907.54V557.50H908.16V557.50H908.78V557.50H909.40V557.50H910.02V557.50H910.64V557.50H911.26V557.50H911.88V557.50H912.50V557.50H913.12V557.50H913.74V557.50H914.36V557.50H914.98V557.50H915.60V557.50H916.22V557.50H916.84V557.50H917.46V557.50H918.08V557.50H918.70V557.50H919.32V557.50H919.94V557.50H920.56V557.50H921.18V557.50H921.80V557.50H922.42V557.50H923.04V557.50H923.66V557.50H924.28V557.50H924.90V557.50H925.52V557.50H926.14V557.50H926.76V557.50H927.38V557.50H928.00V557.50H928.62V557.50H929.24V557.50H929.86V557.50H930.48V557.50H931.10V557.50H931.72V557.50H932.34V557.50H932.96V557.50H933.58V557.50H934.20V557.50H934.82V557.50H935.44V557.50H936.06V557.50H936.68V557.50H937.30V557.50H937.92V557.50H938.54V557.50H939.16V557.50H939.78V557.50H940.40V557.50H941.02V557.50H941.64V557.50H942.26V557.50H942.88V557.50H943.50V557.50H944.12V557.50H944.74V557.50H945.36V557.50H945.98V557.50H946.60V557.50H947.22V557.50H947.84V557.50H948.46V557.50H949.08V557.50H949.70V557.50H950.32V557.50H950.94V557.50H951.56V557.50H952.18V557.50H952.80V557.50H953.42V557.50H954.04V557.50H954.66V557.50H955.28V557.50H955.90V557.50H956.52V557.50H957.14V557.50H957.76V557.50H958.38V557.50H959.00V557.50H959.62V557.50H960.24V557.50H960.86V557.50H961.48V557.50H962.10V557.50H962.72V557.50H963.34V557.50H963.96V557.50H964.58V557.50H965.20V557.50H965.82V557.50H966.44V557.50H967.06V557.50H967.68V557.50H968.30V557.50H968.92V557.50H969.54V557.50H970.16V557.50H970.78V557.50H971.40V557.50H972.02V557.50H972.64V557.50H973.26V557.50H973.88V557.50H974.50V557.50H975.12V557.50H975.74V557.50H976.36V557.50H976.98V557.50H977.60V557.50H978.22V557.50H978.84V557.50H979.46V557.50H980.08V557.50H980.70V557.50H981.32V557.50H981.94V557.50H982.56V557.50H983.18V557.50H983.80V557.50H984.42V557.50H985.04V557.50H985.66V557.50H986.28V557.50H986.90V557.50H987.52V557.50H988.14V557.50H988.76V557.50H989.38V557.50H990.00V557.50H990.62V557.50H991.24V557.50H991.86V557.50H992.48V557.50H993.10V557.50H993.72V557.50H994.34V557.50H994.96V557.50H995.58V557.50H996.20V557.50H996.82V557.50H997.44V557.50H998.06" fill="none" stroke="#0000e6" stroke-width="1.9"/>
<path d="M546.70,557.50H547.32V557.50H547.94V556.11H548.56V557.50H549.18V557.50H549.80V557.50H550.42V557.50H551.04V557.50H551.66V557.50H552.28V557.50H552.90V556.11H553.52V557.50H554.14V556.11H554.76V557.50H555.38V556.11H556.00V557.50H556.62V557.50H557.24V557.50H557.86V557.50H558.48V557.50H559.10V557.50H559.72V557.50H560.34V557.50H560.96V557.50H561.58V557.50H562.20V557.50H562.82V557.50H563.44V554.72H564.06V556.11H564.68V557.50H565.30V557.50H565.92V557.50H566.54V556.11H567.16V557.50H567.78V557.50H568.40V557.50H569.02V557.50H569.64V557.50H570.26V557.50H570.88V557.50H571.50V557.50H572.12V557.50H572.74V557.50H573.36V556.11H573.98V557.50H574.60V557.50H575.22V557.50H575.84V554.72H576.46V556.11H577.08V557.50H577.70V557.50H578.32V557.50H578.94V557.50H579.56V554.72H580.18V556.11H580.80V557.50H581.42V557.50H582.04V556.11H582.66V557.50H583.28V554.72H583.90V557.50H584.52V557.50H585.14V557.50H585.76V557.50H586.38V557.50H587.00V557.50H587.62V556.11H588.24V557.50H588.86V557.50H589.48V557.50H590.10V556.11H590.72V557.50H591.34V557.50H591.96V557.50H592.58V557.50H593.20V556.11H593.82V556.11H594.44V556.11H595.06V557.50H595.68V556.11H596.30V557.50H596.92V557.50H597.54V556.11H598.16V553.32H598.78V557.50H599.40V556.11H600.02V554.72H600.64V556.11H601.26V557.50H601.88V557.50H602.50V557.50H603.12V557.50H603.74V556.11H604.36V557.50H604.98V557.50H605.60V557.50H606.22V557.50H606.84V557.50H607.46V556.11H608.08V556.11H608.70V557.50H609.32V556.11H609.94V557.50H610.56V556.11H611.18V557.50H611.80V557.50H612.42V556.11H613.04V556.11H613.66V556.11H614.28V556.11H614.90V556.11H615.52V556.11H616.14V557.50H616.76V556.11H617.38V557.50H618.00V557.50H618.62V556.11H619.24V556.11H619.86V554.72H620.48V557.50H621.10V556.11H621.72V556.11H622.34V556.11H622.96V556.11H623.58V553.32H624.20V553.32H624.82V554.72H625.44V556.11H626.06V557.50H626.68V556.11H627.30V557.50H627.92V556.11H628.54V556.11H629.16V557.50H629.78V556.11H630.40V556.11H631.02V553.32H631.64V556.11H632.26V554.72H632.88V557.50H633.50V556.11H634.12V556.11H634.74V557.50H635.36V553.32H635.98V556.11H636.60V556.11H637.22V556.11H637.84V557.50H638.46V556.11H639.08V556.11H639.70V554.72H640.32V553.32H640.94V557.50H641.56V554.72H642.18V557.50H642.80V556.11H643.42V554.72H644.04V556.11H644.66V554.72H645.28V557.50H645.90V554.72H646.52V556.11H647.14V556.11H647.76V554.72H648.38V553.32H649.00V551.93H649.62V554.72H650.24V556.11H650.86V554.72H651.48V557.50H652.10V554.72H652.72V554.72H653.34V557.50H653.96V556.11H654.58V554.72H655.20V554.72H655.82V557.50H656.44V557.50H657.06V556.11H657.68V554.72H658.30V554.72H658.92V557.50H659.54V557.50H660.16V556.11H660.78V554.72H661.40V557.50H662.02V556.11H662.64V556.11H663.26V554.72H663.88V557.50H664.50V557.50H665.12V554.72H665.74V556.11H666.36V557.50H666.98V557.50H667.60V556.11H668.22V557.50H668.84V556.11H669.46V557.50H670.08V557.50H670.70V554.72H671.32V557.50H671.94V556.11H672.56V556.11H673.18V554.72H673.80V556.11H674.42V557.50H675.04V556.11H675.66V554.72H676.28V554.72H676.90V556.11H677.52V556.11H678.14V557.50H678.76V557.50H679.38V556.11H680.00V557.50H680.62V557.50H681.24V556.11H681.86V557.50H682.48V557.50H683.10V557.50H683.72V554.72H684.34V557.50H684.96V557.50H685.58V556.11H686.20V557.50H686.82V554.72H687.44V556.11H688.06V556.11H688.68V557.50H689.30V554.72H689.92V557.50H690.54V557.50H691.16V557.50H691.78V557.50H692.40V557.50H693.02V557.50H693.64V557.50H694.26V557.50H694.88V556.11H695.50V557.50H696.12V556.11H696.74V557.50H697.36V556.11H697.98V556.11H698.60V557.50H699.22V556.11H699.84V556.11H700.46V557.50H701.08V556.11H701.70V554.72H702.32V553.32H702.94V556.11H703.56V556.11H704.18V557.50H704.80V557.50H705.42V556.11H706.04V554.72H706.66V557.50H707.28V557.50H707.90V556.11H708.52V557.50H709.14V556.11H709.76V556.11H710.38V554.72H711.00V554.72H711.62V557.50H712.24V557.50H712.86V556.11H713.48V557.50H714.10V556.11H714.72V556.11H715.34V556.11H715.96V556.11H716.58V557.50H717.20V557.50H717.82V556.11H718.44V554.72H719.06V557.50H719.68V554.72H720.30V553.32H720.92V554.72H721.54V554.72H722.16V557.50H722.78V556.11H723.40V556.11H724.02V553.32H724.64V556.11H725.26V556.11H725.88V554.72H726.50V556.11H727.12V557.50H727.74V549.15H728.36V553.32H728.98V554.72H729.60V551.93H730.22V556.11H730.84V557.50H731.46V554.72H732.08V557.50H732.70V557.50H733.32V554.72H733.94V553.32H734.56V556.11H735.18V554.72H735.80V551.93H736.42V556.11H737.04V557.50H737.66V556.11H738.28V557.50H738.90V553.32H739.52V557.50H740.14V556.11H740.76V554.72H741.38V554.72H742.00V554.72H742.62V557.50H743.24V553.32H743.86V553.75H744.48V553.27H745.10V552.41H745.72V552.87H746.34V551.31H746.96V552.09H747.58V553.30H748.20V554.68H748.82V555.21H749.44V553.08H750.06V552.53H750.68V555.01H751.30V554.62H751.92V553.40H752.54V553.10H753.16V553.34H753.78V554.61H754.40V555.02H755.02V555.21H755.64V553.40H756.26V551.27H756.88V550.36H757.50V552.74H758.12V553.35H758.74V551.37H759.36V550.02H759.98V549.55H760.60V550.89H761.22V552.05H761.84V554.16H762.46V553.35H763.08V553.00H763.70V552.94H764.32V551.12H764.94V551.80H765.56V552.64H766.18V552.62H766.80V549.88H767.42V549.17H768.04V548.64H768.66V549.92H769.28V549.07H769.90V548.10H770.52V548.69H771.14V551.32H771.76V545.89H772.38V547.88H773.00V549.72H773.62V549.00H774.24V547.59H774.86V545.46H775.48V544.00H776.10V548.15H776.72V546.00H777.34V544.52H777.96V545.62H778.58V543.24H779.20V543.61H779.82V541.88H780.44V541.04H781.06V539.98H781.68V542.75H782.30V546.15H782.92V543.72H783.54V538.47H784.16V537.10H784.78V537.53H785.40V536.03H786.02V536.12H786.64V533.29H787.26V531.07H787.88V533.23H788.50V530.44H789.12V528.55H789.74V528.06H790.36V521.38H790.98V515.62H791.60V516.83H792.22V510.38H792.84V511.22H793.46V510.18H794.08V506.52H794.70V506.72H795.32V505.65H795.94V506.02H796.56V502.86H797.18V497.06H797.80V490.86H798.42V489.20H799.04V491.61H799.66V489.09H800.28V489.69H800.90V488.65H801.52V480.04H802.14V476.06H802.76V471.98H803.38V470.88H804.00V464.89H804.62V467.06H805.24V463.18H805.86V454.53H806.48V445.71H807.10V443.18H807.72V444.03H808.34V438.33H808.96V431.99H809.58V433.52H810.20V440.77H810.82V426.80H811.44V429.86H812.06V427.07H812.68V429.46H813.30V429.01H813.92V424.86H814.54V413.75H815.16V423.69H815.78V432.54H816.40V428.22H817.02V425.18H817.64V424.54H818.26V438.00H818.88V424.22H819.50V423.48H820.12V429.28H820.74V424.44H821.36V433.47H821.98V442.32H822.60V443.00H823.22V445.06H823.84V447.42H824.46V446.56H825.08V451.00H825.70V449.26H826.32V459.07H826.94V454.23H827.56V456.03H828.18V455.14H828.80V457.06H829.42V464.68H830.04V464.35H830.66V458.51H831.28V461.59H831.90V470.51H832.52V480.46H833.14V478.47H833.76V477.98H834.38V485.35H835.00V495.56H835.62V495.49H836.24V491.43H836.86V492.78H837.48V494.88H838.10V499.88H838.72V508.02H839.34V506.57H839.96V510.36H840.58V505.69H841.20V507.58H841.82V510.43H842.44V511.55H843.06V509.37H843.68V514.02H844.30V516.59H844.92V519.96H845.54V520.95H846.16V525.37H846.78V528.17H847.40V530.27H848.02V531.01H848.64V532.03H849.26V539.44H849.88V541.90H850.50V545.03H851.12V541.00H851.74V540.52H852.36V545.83H852.98V545.12H853.60V543.81H854.22V548.00H854.84V547.42H855.46V547.94H856.08V550.13H856.70V549.30H857.32V547.55H857.94V550.15H858.56V551.55H859.18V551.26H859.80V550.68H860.42V550.94H861.04V549.89H861.66V551.37H862.28V552.80H862.90V553.33H863.52V553.59H864.14V554.30H864.76V552.67H865.38V552.82H866.00V553.14H866.62V552.99H867.24V556.11H867.86V554.72H868.48V554.72H869.10V557.50H869.72V556.11H870.34V556.11H870.96V557.50H871.58V554.72H872.20V556.11H872.82V557.50H873.44V556.11H874.06V557.50H874.68V556.11H875.30V556.11H875.92V557.50H876.54V553.32H877.16V554.72H877.78V557.50H878.40V554.72H879.02V553.32H879.64V554.72H880.26V554.72H880.88V556.11H881.50V554.72H882.12V556.11H882.74V556.11H883.36V556.11H883.98V557.50H884.60V556.11H885.22V556.11H885.84V557.50H886.46V557.50H887.08V556.11H887.70V557.50H888.32V557.50H888.94V557.50H889.56V557.50H890.18V557.50H890.80V556.11H891.42V557.50H892.04V556.11H892.66V557.50H893.28V557.50H893.90V557.50H894.52V557.50H895.14V556.11H895.76V557.50H896.38V557.50H897.00V556.11H897.62V557.50H898.24V557.50H898.86V557.50H899.48V557.50H900.10V557.50H900.72V557.50H901.34V557.50H901.96V557.50H902.58V557.50H903.20V556.11H903.82V556.11H904.44V557.50H905.06V557.50H905.68V557.50H906.30V557.50H906.92V557.50H907.54V557.50H908.16V557.50H908.78V557.50H909.40V557.50H910.02V557.50H910.64V557.50H911.26V557.50H911.88V557.50H912.50V557.50H913.12V557.50H913.74V557.50H914.36V557.50H914.98V557.50H915.60V557.50H916.22V557.50H916.84V557.50H917.46V557.50H918.08V557.50H918.70V557.50H919.32V557.50H919.94V557.50H920.56V557.50H921.18V557.50H921.80V557.50H922.42V557.50H923.04V557.50H923.66V557.50H924.28V557.50H924.90V557.50H925.52V557.50H926.14V557.50H926.76V557.50H927.38V557.50H928.00V557.50H928.62V557.50H929.24V557.50H929.86V557.50H930.48V557.50H931.10V557.50H931.72V557.50H932.34V557.50H932.96V557.50H933.58V557.50H934.20V557.50H934.82V557.50H935.44V557.50H936.06V557.50H936.68V557.50H937.30V557.50H937.92V557.50H938.54V557.50H939.16V557.50H939.78V557.50H940.40V557.50H941.02V557.50H941.64V557.50H942.26V557.50H942.88V557.50H943.50V557.50H944.12V557.50H944.74V557.50H945.36V557.50H945.98V557.50H946.60V557.50H947.22V557.50H947.84V557.50H948.46V557.50H949.08V557.50H949.70V557.50H950.32V557.50H950.94V557.50H951.56V557.50H952.18V557.50H952.80V557.50H953.42V557.50H954.04V557.50H954.66V557.50H955.28V557.50H955.90V557.50H956.52V557.50H957.14V557.50H957.76V557.50H958.38V557.50H959.00V557.50H959.62V557.50H960.24V557.50H960.86V557.50H961.48V557.50H962.10V557.50H962.72V557.50H963.34V557.50H963.96V557.50H964.58V557.50H965.20V557.50H965.82V557.50H966.44V557.50H967.06V557.50H967.68V557.50H968.30V557.50H968.92V557.50H969.54V557.50H970.16V557.50H970.78V557.50H971.40V557.50H972.02V557.50H972.64V557.50H973.26V557.50H973.88V557.50H974.50V557.50H975.12V557.50H975.74V557.50H976.36V557.50H976.98V557.50H977.60V557.50H978.22V557.50H978.84V557.50H979.46V557.50H980.08V557.50H980.70V557.50H981.32V557.50H981.94V557.50H982.56V557.50H983.18V557.50H983.80V557.50H984.42V557.50H985.04V557.50H985.66V557.50H986.28V557.50H986.90V557.50H987.52V557.50H988.14V557.50H988.76V557.50H989.38V557.50H990.00V557.50H990.62V557.50H991.24V557.50H991.86V557.50H992.48V557.50H993.10V557.50H993.72V557.50H994.34V557.50H994.96V557.50H995.58V557.50H996.20V557.50H996.82V557.50H997.44V557.50H998.06" fill="none" stroke="#000000" stroke-width="1.9"/>
<path d="M546.70,557.50H547.32V557.50H547.94V557.50H548.56V557.50H549.18V557.50H549.80V557.50H550.42V557.50H551.04V557.50H551.66V557.50H552.28V557.50H552.90V557.50H553.52V557.50H554.14V557.50H554.76V556.11H555.38V557.50H556.00V557.50H556.62V557.50H557.24V557.50H557.86V556.11H558.48V556.11H559.10V557.50H559.72V557.50H560.34V557.50H560.96V557.50H561.58V557.50H562.20V556.11H562.82V557.50H563.44V556.11H564.06V557.50H564.68V557.50H565.30V556.11H565.92V557.50H566.54V557.50H567.16V557.50H567.78V556.11H568.40V557.50H569.02V557.50H569.64V557.50H570.26V557.50H570.88V557.50H571.50V557.50H572.12V557.50H572.74V557.50H573.36V556.11H573.98V557.50H574.60V556.11H575.22V557.50H575.84V557.50H576.46V556.11H577.08V557.50H577.70V557.50H578.32V557.50H578.94V557.50H579.56V556.11H580.18V557.50H580.80V557.50H581.42V557.50H582.04V556.11H582.66V557.50H583.28V557.50H583.90V557.50H584.52V557.50H585.14V557.50H585.76V557.50H586.38V557.50H587.00V557.50H587.62V556.11H588.24V557.50H588.86V557.50H589.48V557.50H590.10V557.50H590.72V557.50H591.34V556.11H591.96V557.50H592.58V556.11H593.20V557.50H593.82V557.50H594.44V557.50H595.06V556.11H595.68V557.50H596.30V557.50H596.92V557.50H597.54V557.50H598.16V557.50H598.78V557.50H599.40V557.50H600.02V557.50H600.64V557.50H601.26V557.50H601.88V557.50H602.50V557.50H603.12V557.50H603.74V557.50H604.36V557.50H604.98V557.50H605.60V557.50H606.22V557.50H606.84V556.11H607.46V557.50H608.08V557.50H608.70V556.11H609.32V556.11H609.94V557.50H610.56V557.50H611.18V556.11H611.80V557.50H612.42V554.72H613.04V557.50H613.66V557.50H614.28V557.50H614.90V557.50H615.52V557.50H616.14V557.50H616.76V557.50H617.38V557.50H618.00V557.50H618.62V556.11H619.24V556.11H619.86V557.50H620.48V557.50H621.10V557.50H621.72V557.50H622.34V557.50H622.96V557.50H623.58V557.50H624.20V557.50H624.82V557.50H625.44V554.72H626.06V556.11H626.68V557.50H627.30V557.50H627.92V557.50H628.54V556.11H629.16V556.11H629.78V557.50H630.40V556.11H631.02V554.72H631.64V553.32H632.26V554.72H632.88V557.50H633.50V557.50H634.12V557.50H634.74V557.50H635.36V557.50H635.98V556.11H636.60V553.32H637.22V557.50H637.84V557.50H638.46V556.11H639.08V557.50H639.70V557.50H640.32V556.11H640.94V557.50H641.56V557.50H642.18V557.50H642.80V556.11H643.42V556.11H644.04V556.11H644.66V556.11H645.28V554.72H645.90V557.50H646.52V557.50H647.14V553.32H647.76V557.50H648.38V556.11H649.00V557.50H649.62V556.11H650.24V557.50H650.86V556.11H651.48V557.50H652.10V557.50H652.72V557.50H653.34V557.50H653.96V556.11H654.58V556.11H655.20V557.50H655.82V557.50H656.44V557.50H657.06V557.50H657.68V556.11H658.30V557.50H658.92V557.50H659.54V556.11H660.16V557.50H660.78V557.50H661.40V557.50H662.02V557.50H662.64V556.11H663.26V557.50H663.88V557.50H664.50V556.11H665.12V557.50H665.74V557.50H666.36V557.50H666.98V557.50H667.60V556.11H668.22V557.50H668.84V556.11H669.46V557.50H670.08V556.11H670.70V557.50H671.32V556.11H671.94V557.50H672.56V557.50H673.18V556.11H673.80V556.11H674.42V556.11H675.04V557.50H675.66V556.11H676.28V557.50H676.90V553.32H677.52V556.11H678.14V557.50H678.76V557.50H679.38V556.11H680.00V557.50H680.62V556.11H681.24V556.11H681.86V557.50H682.48V557.50H683.10V557.50H683.72V557.50H684.34V557.50H684.96V556.11H685.58V556.11H686.20V556.11H686.82V553.32H687.44V557.50H688.06V554.72H688.68V557.50H689.30V554.72H689.92V557.50H690.54V556.11H691.16V557.50H691.78V557.50H692.40V557.50H693.02V556.11H693.64V554.72H694.26V556.11H694.88V557.50H695.50V553.32H696.12V556.11H696.74V557.50H697.36V556.11H697.98V556.11H698.60V556.11H699.22V556.11H699.84V554.72H700.46V554.72H701.08V557.50H701.70V556.11H702.32V554.72H702.94V556.11H703.56V556.11H704.18V553.32H704.80V554.72H705.42V557.50H706.04V556.11H706.66V557.50H707.28V557.50H707.90V551.93H708.52V554.72H709.14V556.11H709.76V556.11H710.38V556.11H711.00V557.50H711.62V556.11H712.24V554.72H712.86V553.32H713.48V554.72H714.10V556.11H714.72V557.50H715.34V551.93H715.96V557.50H716.58V554.72H717.20V557.50H717.82V556.11H718.44V556.11H719.06V556.11H719.68V554.72H720.30V554.72H720.92V553.32H721.54V554.72H722.16V556.11H722.78V557.50H723.40V554.72H724.02V554.72H724.64V557.50H725.26V556.11H725.88V556.11H726.50V557.50H727.12V553.32H727.74V557.50H728.36V556.11H728.98V554.72H729.60V554.72H730.22V554.21H730.84V553.32H731.46V553.21H732.08V552.95H732.70V553.85H733.32V554.48H733.94V553.05H734.56V551.68H735.18V553.87H735.80V554.92H736.42V551.96H737.04V552.12H737.66V554.24H738.28V554.68H738.90V554.31H739.52V553.23H740.14V551.90H740.76V553.28H741.38V553.04H742.00V552.89H742.62V551.63H743.24V551.33H743.86V550.14H744.48V548.26H745.10V547.03H745.72V548.98H746.34V548.79H746.96V549.41H747.58V544.98H748.20V546.68H748.82V547.02H749.44V546.52H750.06V545.12H750.68V543.66H751.30V544.69H751.92V543.97H752.54V543.95H753.16V545.38H753.78V544.26H754.40V541.41H755.02V538.01H755.64V538.63H756.26V537.99H756.88V538.40H757.50V537.66H758.12V537.40H758.74V535.56H759.36V533.07H759.98V532.81H760.60V530.85H761.22V530.68H761.84V532.34H762.46V532.81H763.08V529.87H763.70V527.38H764.32V524.69H764.94V523.51H765.56V525.04H766.18V523.46H766.80V514.48H767.42V508.29H768.04V504.62H768.66V502.43H769.28V505.18H769.90V502.97H770.52V499.34H771.14V492.44H771.76V483.79H772.38V483.09H773.00V489.36H773.62V481.95H774.24V484.79H774.86V473.39H775.48V469.62H776.10V463.90H776.72V457.71H777.34V468.82H777.96V466.69H778.58V458.10H779.20V451.14H779.82V453.50H780.44V453.23H781.06V447.27H781.68V446.48H782.30V444.36H782.92V445.45H783.54V430.00H784.16V445.36H784.78V431.65H785.40V435.72H786.02V447.06H786.64V450.70H787.26V443.81H787.88V454.66H788.50V447.88H789.12V440.16H789.74V438.30H790.36V436.75H790.98V435.94H791.60V434.25H792.22V433.90H792.84V440.10H793.46V440.06H794.08V444.22H794.70V448.96H795.32V459.93H795.94V457.74H796.56V459.12H797.18V464.33H797.80V460.64H798.42V460.12H799.04V459.05H799.66V461.78H800.28V475.48H800.90V474.41H801.52V473.05H802.14V471.79H802.76V467.57H803.38V472.06H804.00V480.64H804.62V482.22H805.24V484.42H805.86V485.56H806.48V487.54H807.10V485.12H807.72V496.16H808.34V493.81H808.96V492.42H809.58V497.78H810.20V503.63H810.82V502.71H811.44V507.29H812.06V508.73H812.68V510.22H813.30V510.67H813.92V516.60H814.54V517.33H815.16V518.95H815.78V522.55H816.40V521.03H817.02V522.89H817.64V523.65H818.26V525.32H818.88V523.94H819.50V528.89H820.12V528.44H820.74V527.97H821.36V528.78H821.98V531.10H822.60V532.86H823.22V528.70H823.84V528.96H824.46V533.41H825.08V533.84H825.70V533.03H826.32V532.97H826.94V535.52H827.56V538.24H828.18V538.93H828.80V537.01H829.42V536.92H830.04V539.39H830.66V538.81H831.28V539.24H831.90V544.83H832.52V545.96H833.14V543.11H833.76V542.83H834.38V542.63H835.00V543.18H835.62V541.63H836.24V542.42H836.86V546.41H837.48V545.15H838.10V546.41H838.72V547.61H839.34V548.08H839.96V548.14H840.58V547.95H841.20V548.50H841.82V549.79H842.44V552.61H843.06V550.09H843.68V549.34H844.30V548.83H844.92V551.03H845.54V552.85H846.16V552.42H846.78V552.09H847.40V552.76H848.02V552.95H848.64V552.94H849.26V550.74H849.88V551.20H850.50V552.14H851.12V553.33H851.74V552.62H852.36V553.11H852.98V552.89H853.60V554.02H854.22V553.34H854.84V553.80H855.46V553.72H856.08V553.73H856.70V554.05H857.32V553.60H857.94V553.32H858.56V556.11H859.18V554.72H859.80V550.54H860.42V553.32H861.04V556.11H861.66V553.32H862.28V553.32H862.90V554.72H863.52V553.32H864.14V556.11H864.76V557.50H865.38V551.93H866.00V553.32H866.62V554.72H867.24V556.11H867.86V556.11H868.48V557.50H869.10V557.50H869.72V550.54H870.34V557.50H870.96V556.11H871.58V557.50H872.20V556.11H872.82V557.50H873.44V553.32H874.06V557.50H874.68V553.32H875.30V554.72H875.92V550.54H876.54V553.32H877.16V556.11H877.78V556.11H878.40V554.72H879.02V556.11H879.64V554.72H880.26V557.50H880.88V556.11H881.50V557.50H882.12V553.32H882.74V556.11H883.36V556.11H883.98V554.72H884.60V556.11H885.22V556.11H885.84V557.50H886.46V557.50H887.08V556.11H887.70V554.72H888.32V557.50H888.94V556.11H889.56V556.11H890.18V556.11H890.80V557.50H891.42V557.50H892.04V557.50H892.66V554.72H893.28V554.72H893.90V554.72H894.52V556.11H895.14V554.72H895.76V557.50H896.38V556.11H897.00V557.50H897.62V556.11H898.24V556.11H898.86V556.11H899.48V554.72H900.10V557.50H900.72V557.50H901.34V557.50H901.96V557.50H902.58V557.50H903.20V557.50H903.82V557.50H904.44V557.50H905.06V556.11H905.68V556.11H906.30V553.32H906.92V554.72H907.54V557.50H908.16V557.50H908.78V557.50H909.40V557.50H910.02V554.72H910.64V556.11H911.26V557.50H911.88V556.11H912.50V556.11H913.12V557.50H913.74V557.50H914.36V557.50H914.98V557.50H915.60V557.50H916.22V556.11H916.84V556.11H917.46V557.50H918.08V556.11H918.70V557.50H919.32V554.72H919.94V556.11H920.56V557.50H921.18V557.50H921.80V556.11H922.42V557.50H923.04V557.50H923.66V556.11H924.28V557.50H924.90V557.50H925.52V557.50H926.14V557.50H926.76V557.50H927.38V557.50H928.00V557.50H928.62V557.50H929.24V557.50H929.86V557.50H930.48V557.50H931.10V557.50H931.72V557.50H932.34V557.50H932.96V557.50H933.58V556.11H934.20V557.50H934.82V557.50H935.44V557.50H936.06V557.50H936.68V557.50H937.30V557.50H937.92V557.50H938.54V556.11H939.16V556.11H939.78V557.50H940.40V557.50H941.02V557.50H941.64V557.50H942.26V557.50H942.88V557.50H943.50V557.50H944.12V557.50H944.74V557.50H945.36V557.50H945.98V557.50H946.60V557.50H947.22V557.50H947.84V557.50H948.46V557.50H949.08V557.50H949.70V557.50H950.32V557.50H950.94V557.50H951.56V557.50H952.18V557.50H952.80V557.50H953.42V557.50H954.04V557.50H954.66V557.50H955.28V557.50H955.90V557.50H956.52V557.50H957.14V557.50H957.76V557.50H958.38V557.50H959.00V557.50H959.62V557.50H960.24V557.50H960.86V557.50H961.48V557.50H962.10V557.50H962.72V557.50H963.34V557.50H963.96V557.50H964.58V557.50H965.20V557.50H965.82V557.50H966.44V557.50H967.06V557.50H967.68V557.50H968.30V557.50H968.92V557.50H969.54V557.50H970.16V557.50H970.78V557.50H971.40V557.50H972.02V557.50H972.64V557.50H973.26V557.50H973.88V557.50H974.50V557.50H975.12V557.50H975.74V557.50H976.36V557.50H976.98V557.50H977.60V557.50H978.22V557.50H978.84V557.50H979.46V557.50H980.08V557.50H980.70V557.50H981.32V557.50H981.94V557.50H982.56V557.50H983.18V557.50H983.80V557.50H984.42V557.50H985.04V557.50H985.66V557.50H986.28V557.50H986.90V557.50H987.52V557.50H988.14V557.50H988.76V557.50H989.38V557.50H990.00V557.50H990.62V557.50H991.24V557.50H991.86V557.50H992.48V557.50H993.10V557.50H993.72V557.50H994.34V557.50H994.96V557.50H995.58V557.50H996.20V557.50H996.82V557.50H997.44V557.50H998.06" fill="none" stroke="#e00000" stroke-width="1.9"/>
<path d="M546.70,557.50H547.32V554.72H547.94V557.50H548.56V557.50H549.18V556.11H549.80V557.50H550.42V557.50H551.04V556.11H551.66V557.50H552.28V557.50H552.90V556.11H553.52V556.11H554.14V556.11H554.76V557.50H555.38V557.50H556.00V557.50H556.62V557.50H557.24V556.11H557.86V557.50H558.48V557.50H559.10V557.50H559.72V556.11H560.34V557.50H560.96V557.50H561.58V556.11H562.20V557.50H562.82V557.50H563.44V556.11H564.06V557.50H564.68V557.50H565.30V557.50H565.92V556.11H566.54V556.11H567.16V556.11H567.78V556.11H568.40V556.11H569.02V557.50H569.64V557.50H570.26V557.50H570.88V557.50H571.50V556.11H572.12V557.50H572.74V557.50H573.36V557.50H573.98V557.50H574.60V556.11H575.22V556.11H575.84V557.50H576.46V557.50H577.08V556.11H577.70V557.50H578.32V556.11H578.94V553.32H579.56V556.11H580.18V557.50H580.80V557.50H581.42V557.50H582.04V557.50H582.66V556.11H583.28V557.50H583.90V557.50H584.52V557.50H585.14V557.50H585.76V557.50H586.38V557.50H587.00V556.11H587.62V557.50H588.24V557.50H588.86V557.50H589.48V556.11H590.10V557.50H590.72V557.50H591.34V557.50H591.96V557.50H592.58V556.11H593.20V557.50H593.82V557.50H594.44V557.50H595.06V557.50H595.68V556.11H596.30V556.11H596.92V557.50H597.54V557.50H598.16V557.50H598.78V557.50H599.40V556.11H600.02V557.50H600.64V557.50H601.26V556.11H601.88V556.11H602.50V557.50H603.12V557.50H603.74V556.11H604.36V556.11H604.98V557.50H605.60V557.50H606.22V557.50H606.84V557.50H607.46V556.11H608.08V557.50H608.70V556.11H609.32V554.72H609.94V556.11H610.56V554.72H611.18V554.72H611.80V556.11H612.42V557.50H613.04V557.50H613.66V557.50H614.28V557.50H614.90V556.11H615.52V557.50H616.14V556.11H616.76V556.11H617.38V556.11H618.00V557.50H618.62V557.50H619.24V556.11H619.86V557.50H620.48V556.11H621.10V556.11H621.72V554.72H622.34V556.11H622.96V557.50H623.58V557.50H624.20V557.50H624.82V557.50H625.44V557.50H626.06V556.11H626.68V557.50H627.30V557.50H627.92V557.50H628.54V557.50H629.16V557.50H629.78V557.50H630.40V557.50H631.02V557.50H631.64V557.50H632.26V557.50H632.88V556.11H633.50V557.50H634.12V557.50H634.74V557.50H635.36V556.11H635.98V557.50H636.60V557.50H637.22V557.50H637.84V557.50H638.46V557.50H639.08V554.72H639.70V556.11H640.32V557.50H640.94V557.50H641.56V556.11H642.18V557.50H642.80V557.50H643.42V557.50H644.04V557.50H644.66V557.50H645.28V556.11H645.90V556.11H646.52V556.11H647.14V557.50H647.76V557.50H648.38V557.50H649.00V557.50H649.62V556.11H650.24V556.11H650.86V557.50H651.48V557.50H652.10V553.32H652.72V557.50H653.34V557.50H653.96V554.72H654.58V557.50H655.20V556.11H655.82V557.50H656.44V557.50H657.06V557.50H657.68V557.50H658.30V557.50H658.92V557.50H659.54V557.50H660.16V557.50H660.78V557.50H661.40V557.50H662.02V557.50H662.64V557.50H663.26V556.11H663.88V557.50H664.50V557.50H665.12V557.50H665.74V554.72H666.36V553.32H666.98V556.11H667.60V556.11H668.22V556.11H668.84V554.72H669.46V556.11H670.08V557.50H670.70V557.50H671.32V557.50H671.94V557.50H672.56V556.11H673.18V557.50H673.80V556.11H674.42V557.50H675.04V557.50H675.66V556.11H676.28V557.50H676.90V556.11H677.52V554.72H678.14V557.50H678.76V554.72H679.38V557.50H680.00V556.11H680.62V557.50H681.24V557.50H681.86V557.50H682.48V556.11H683.10V556.11H683.72V553.32H684.34V556.11H684.96V556.11H685.58V557.50H686.20V553.32H686.82V556.11H687.44V557.50H688.06V557.50H688.68V557.50H689.30V557.50H689.92V557.50H690.54V557.50H691.16V557.50H691.78V557.50H692.40V554.72H693.02V554.72H693.64V556.11H694.26V557.50H694.88V557.50H695.50V556.11H696.12V557.50H696.74V556.11H697.36V557.50H697.98V556.11H698.60V551.93H699.22V556.11H699.84V556.11H700.46V556.11H701.08V557.50H701.70V557.50H702.32V556.11H702.94V556.11H703.56V554.72H704.18V556.11H704.80V554.72H705.42V554.72H706.04V553.32H706.66V556.11H707.28V556.11H707.90V557.50H708.52V557.50H709.14V556.11H709.76V554.72H710.38V553.32H711.00V554.72H711.62V554.72H712.24V553.32H712.86V556.11H713.48V557.50H714.10V553.32H714.72V554.72H715.34V557.50H715.96V557.50H716.58V554.72H717.20V553.32H717.82V557.50H718.44V554.72H719.06V556.11H719.68V550.54H720.30V557.50H720.92V554.39H721.54V552.75H722.16V553.18H722.78V553.24H723.40V553.08H724.02V555.82H724.64V554.61H725.26V552.97H725.88V552.45H726.50V551.75H727.12V551.02H727.74V551.73H728.36V552.49H728.98V552.69H729.60V553.08H730.22V551.45H730.84V551.25H731.46V551.24H732.08V549.48H732.70V551.01H733.32V552.06H733.94V550.58H734.56V551.46H735.18V550.17H735.80V550.90H736.42V549.32H737.04V548.70H737.66V548.30H738.28V548.36H738.90V549.02H739.52V549.03H740.14V547.25H740.76V544.94H741.38V543.65H742.00V546.52H742.62V543.02H743.24V543.37H743.86V542.28H744.48V536.67H745.10V536.13H745.72V540.28H746.34V538.87H746.96V535.59H747.58V535.90H748.20V532.72H748.82V529.86H749.44V525.69H750.06V527.81H750.68V524.00H751.30V525.53H751.92V521.36H752.54V515.73H753.16V514.45H753.78V511.64H754.40V506.50H755.02V501.75H755.64V501.13H756.26V499.88H756.88V499.50H757.50V489.75H758.12V482.75H758.74V484.42H759.36V490.65H759.98V482.42H760.60V470.35H761.22V470.23H761.84V467.46H762.46V463.55H763.08V463.12H763.70V449.95H764.32V452.11H764.94V446.16H765.56V432.31H766.18V433.24H766.80V435.18H767.42V437.88H768.04V429.04H768.66V431.99H769.28V430.92H769.90V437.12H770.52V438.28H771.14V437.45H771.76V437.08H772.38V444.49H773.00V436.51H773.62V434.54H774.24V440.00H774.86V430.29H775.48V432.39H776.10V430.00H776.72V431.82H777.34V435.95H777.96V425.27H778.58V432.55H779.20V438.77H779.82V442.11H780.44V448.92H781.06V444.38H781.68V446.25H782.30V451.98H782.92V450.78H783.54V451.41H784.16V450.78H784.78V457.20H785.40V450.02H786.02V457.15H786.64V459.85H787.26V458.50H787.88V461.30H788.50V469.84H789.12V464.39H789.74V469.57H790.36V484.31H790.98V478.81H791.60V480.33H792.22V481.38H792.84V483.60H793.46V483.12H794.08V487.51H794.70V492.77H795.32V497.77H795.94V501.57H796.56V500.84H797.18V503.66H797.80V504.06H798.42V511.03H799.04V513.59H799.66V514.94H800.28V518.15H800.90V513.99H801.52V520.70H802.14V518.69H802.76V517.51H803.38V519.27H804.00V521.50H804.62V525.21H805.24V522.99H805.86V523.17H806.48V528.86H807.10V530.79H807.72V532.60H808.34V534.12H808.96V524.71H809.58V529.60H810.20V529.29H810.82V532.29H811.44V533.67H812.06V534.99H812.68V535.63H813.30V540.10H813.92V539.45H814.54V538.03H815.16V541.26H815.78V545.72H816.40V545.57H817.02V543.51H817.64V544.10H818.26V543.78H818.88V543.15H819.50V544.47H820.12V545.97H820.74V544.99H821.36V546.20H821.98V545.70H822.60V547.81H823.22V547.10H823.84V545.63H824.46V545.23H825.08V547.10H825.70V549.17H826.32V551.06H826.94V551.35H827.56V550.55H828.18V549.54H828.80V550.27H829.42V550.19H830.04V551.53H830.66V550.07H831.28V551.24H831.90V553.21H832.52V553.53H833.14V552.76H833.76V554.00H834.38V552.83H835.00V552.54H835.62V551.52H836.24V552.93H836.86V552.42H837.48V552.59H838.10V552.86H838.72V553.17H839.34V555.37H839.96V555.13H840.58V556.11H841.20V556.11H841.82V557.50H842.44V554.72H843.06V553.32H843.68V556.11H844.30V553.32H844.92V556.11H845.54V553.32H846.16V556.11H846.78V553.32H847.40V553.32H848.02V553.32H848.64V556.11H849.26V556.11H849.88V557.50H850.50V557.50H851.12V553.32H851.74V556.11H852.36V554.72H852.98V553.32H853.60V556.11H854.22V556.11H854.84V556.11H855.46V556.11H856.08V553.32H856.70V556.11H857.32V557.50H857.94V557.50H858.56V557.50H859.18V554.72H859.80V557.50H860.42V554.72H861.04V554.72H861.66V554.72H862.28V554.72H862.90V556.11H863.52V557.50H864.14V554.72H864.76V556.11H865.38V557.50H866.00V553.32H866.62V557.50H867.24V553.32H867.86V554.72H868.48V557.50H869.10V557.50H869.72V554.72H870.34V557.50H870.96V556.11H871.58V557.50H872.20V556.11H872.82V557.50H873.44V557.50H874.06V557.50H874.68V556.11H875.30V556.11H875.92V557.50H876.54V556.11H877.16V556.11H877.78V556.11H878.40V557.50H879.02V556.11H879.64V554.72H880.26V556.11H880.88V556.11H881.50V557.50H882.12V554.72H882.74V557.50H883.36V557.50H883.98V556.11H884.60V557.50H885.22V557.50H885.84V556.11H886.46V556.11H887.08V556.11H887.70V554.72H888.32V556.11H888.94V556.11H889.56V554.72H890.18V557.50H890.80V556.11H891.42V557.50H892.04V557.50H892.66V557.50H893.28V557.50H893.90V556.11H894.52V557.50H895.14V557.50H895.76V557.50H896.38V557.50H897.00V553.32H897.62V557.50H898.24V557.50H898.86V557.50H899.48V557.50H900.10V557.50H900.72V557.50H901.34V557.50H901.96V557.50H902.58V557.50H903.20V556.11H903.82V557.50H904.44V556.11H905.06V557.50H905.68V556.11H906.30V554.72H906.92V557.50H907.54V557.50H908.16V557.50H908.78V557.50H909.40V556.11H910.02V554.72H910.64V556.11H911.26V557.50H911.88V557.50H912.50V557.50H913.12V557.50H913.74V557.50H914.36V557.50H914.98V557.50H915.60V557.50H916.22V557.50H916.84V557.50H917.46V557.50H918.08V554.72H918.70V557.50H919.32V557.50H919.94V557.50H920.56V557.50H921.18V557.50H921.80V557.50H922.42V557.50H923.04V557.50H923.66V557.50H924.28V556.11H924.90V556.11H925.52V556.11H926.14V557.50H926.76V557.50H927.38V557.50H928.00V557.50H928.62V557.50H929.24V557.50H929.86V557.50H930.48V557.50H931.10V557.50H931.72V556.11H932.34V557.50H932.96V557.50H933.58V556.11H934.20V557.50H934.82V557.50H935.44V557.50H936.06V556.11H936.68V557.50H937.30V557.50H937.92V557.50H938.54V557.50H939.16V557.50H939.78V557.50H940.40V557.50H941.02V557.50H941.64V557.50H942.26V557.50H942.88V557.50H943.50V557.50H944.12V557.50H944.74V557.50H945.36V557.50H945.98V557.50H946.60V556.11H947.22V557.50H947.84V557.50H948.46V557.50H949.08V557.50H949.70V557.50H950.32V557.50H950.94V557.50H951.56V557.50H952.18V556.11H952.80V557.50H953.42V557.50H954.04V557.50H954.66V557.50H955.28V557.50H955.90V557.50H956.52V557.50H957.14V557.50H957.76V557.50H958.38V556.11H959.00V557.50H959.62V557.50H960.24V557.50H960.86V557.50H961.48V557.50H962.10V557.50H962.72V557.50H963.34V557.50H963.96V557.50H964.58V557.50H965.20V557.50H965.82V557.50H966.44V557.50H967.06V557.50H967.68V557.50H968.30V557.50H968.92V557.50H969.54V557.50H970.16V557.50H970.78V557.50H971.40V557.50H972.02V557.50H972.64V557.50H973.26V557.50H973.88V557.50H974.50V557.50H975.12V557.50H975.74V557.50H976.36V557.50H976.98V557.50H977.60V557.50H978.22V557.50H978.84V557.50H979.46V557.50H980.08V557.50H980.70V557.50H981.32V557.50H981.94V557.50H982.56V557.50H983.18V557.50H983.80V557.50H984.42V557.50H985.04V556.11H985.66V557.50H986.28V557.50H986.90V557.50H987.52V557.50H988.14V557.50H988.76V557.50H989.38V557.50H990.00V557.50H990.62V557.50H991.24V557.50H991.86V557.50H992.48V557.50H993.10V557.50H993.72V557.50H994.34V557.50H994.96V557.50H995.58V557.50H996.20V557.50H996.82V557.50H997.44V557.50H998.06" fill="none" stroke="#009966" stroke-width="1.9"/>
<text x="757.70" y="631.20" class="cap">(<tspan font-weight="bold" font-size="24.5px">d</tspan>)</text>
<g shape-rendering="crispEdges"><line x1="33.70" y1="653.50" x2="108.00" y2="653.50" stroke="#666" stroke-width="1.3"/><line x1="108.00" y1="653.50" x2="464.20" y2="653.50" stroke="#a8a8a8" stroke-width="1.3"/><line x1="463.70" y1="653.50" x2="463.70" y2="820.70" stroke="#a0a0a0" stroke-width="1"/><line x1="33.70" y1="653.50" x2="33.70" y2="876.00" stroke="#7a8a7a" stroke-width="1"/><line x1="28.90" y1="875.50" x2="33.20" y2="875.50" stroke="#777" stroke-width="1"/><line x1="30.90" y1="866.66" x2="33.20" y2="866.66" stroke="#777" stroke-width="1"/><line x1="30.90" y1="857.83" x2="33.20" y2="857.83" stroke="#777" stroke-width="1"/><line x1="30.90" y1="848.99" x2="33.20" y2="848.99" stroke="#777" stroke-width="1"/><line x1="30.90" y1="840.16" x2="33.20" y2="840.16" stroke="#777" stroke-width="1"/><line x1="28.90" y1="831.32" x2="33.20" y2="831.32" stroke="#777" stroke-width="1"/><line x1="30.90" y1="822.48" x2="33.20" y2="822.48" stroke="#777" stroke-width="1"/><line x1="30.90" y1="813.65" x2="33.20" y2="813.65" stroke="#777" stroke-width="1"/><line x1="30.90" y1="804.81" x2="33.20" y2="804.81" stroke="#777" stroke-width="1"/><line x1="30.90" y1="795.98" x2="33.20" y2="795.98" stroke="#777" stroke-width="1"/><line x1="28.90" y1="787.14" x2="33.20" y2="787.14" stroke="#777" stroke-width="1"/><line x1="30.90" y1="778.30" x2="33.20" y2="778.30" stroke="#777" stroke-width="1"/><line x1="30.90" y1="769.47" x2="33.20" y2="769.47" stroke="#777" stroke-width="1"/><line x1="30.90" y1="760.63" x2="33.20" y2="760.63" stroke="#777" stroke-width="1"/><line x1="30.90" y1="751.80" x2="33.20" y2="751.80" stroke="#777" stroke-width="1"/><line x1="28.90" y1="742.96" x2="33.20" y2="742.96" stroke="#777" stroke-width="1"/><line x1="30.90" y1="734.12" x2="33.20" y2="734.12" stroke="#777" stroke-width="1"/><line x1="30.90" y1="725.29" x2="33.20" y2="725.29" stroke="#777" stroke-width="1"/><line x1="30.90" y1="716.45" x2="33.20" y2="716.45" stroke="#777" stroke-width="1"/><line x1="30.90" y1="707.62" x2="33.20" y2="707.62" stroke="#777" stroke-width="1"/><line x1="28.90" y1="698.78" x2="33.20" y2="698.78" stroke="#777" stroke-width="1"/><line x1="30.90" y1="689.94" x2="33.20" y2="689.94" stroke="#777" stroke-width="1"/><line x1="30.90" y1="681.11" x2="33.20" y2="681.11" stroke="#777" stroke-width="1"/><line x1="30.90" y1="672.27" x2="33.20" y2="672.27" stroke="#777" stroke-width="1"/><line x1="30.90" y1="663.44" x2="33.20" y2="663.44" stroke="#777" stroke-width="1"/><line x1="28.90" y1="654.60" x2="33.20" y2="654.60" stroke="#777" stroke-width="1"/><line x1="34.70" y1="877.10" x2="34.70" y2="881.30" stroke="#808080" stroke-width="1"/><line x1="66.87" y1="877.10" x2="66.87" y2="879.10" stroke="#9a9a9a" stroke-width="1"/><line x1="85.68" y1="877.10" x2="85.68" y2="879.10" stroke="#9a9a9a" stroke-width="1"/><line x1="99.03" y1="877.10" x2="99.03" y2="879.10" stroke="#9a9a9a" stroke-width="1"/><line x1="109.38" y1="877.10" x2="109.38" y2="879.10" stroke="#9a9a9a" stroke-width="1"/><line x1="117.85" y1="877.10" x2="117.85" y2="879.10" stroke="#9a9a9a" stroke-width="1"/><line x1="125.00" y1="877.10" x2="125.00" y2="879.10" stroke="#9a9a9a" stroke-width="1"/><line x1="131.20" y1="877.10" x2="131.20" y2="879.10" stroke="#9a9a9a" stroke-width="1"/><line x1="136.66" y1="877.10" x2="136.66" y2="879.10" stroke="#9a9a9a" stroke-width="1"/><line x1="141.55" y1="877.10" x2="141.55" y2="881.30" stroke="#808080" stroke-width="1"/><line x1="173.72" y1="877.10" x2="173.72" y2="879.10" stroke="#9a9a9a" stroke-width="1"/><line x1="192.53" y1="877.10" x2="192.53" y2="879.10" stroke="#9a9a9a" stroke-width="1"/><line x1="205.88" y1="877.10" x2="205.88" y2="879.10" stroke="#9a9a9a" stroke-width="1"/><line x1="216.23" y1="877.10" x2="216.23" y2="879.10" stroke="#9a9a9a" stroke-width="1"/><line x1="224.70" y1="877.10" x2="224.70" y2="879.10" stroke="#9a9a9a" stroke-width="1"/><line x1="231.85" y1="877.10" x2="231.85" y2="879.10" stroke="#9a9a9a" stroke-width="1"/><line x1="238.05" y1="877.10" x2="238.05" y2="879.10" stroke="#9a9a9a" stroke-width="1"/><line x1="243.51" y1="877.10" x2="243.51" y2="879.10" stroke="#9a9a9a" stroke-width="1"/><line x1="248.40" y1="877.10" x2="248.40" y2="881.30" stroke="#808080" stroke-width="1"/><line x1="280.57" y1="877.10" x2="280.57" y2="879.10" stroke="#9a9a9a" stroke-width="1"/><line x1="299.38" y1="877.10" x2="299.38" y2="879.10" stroke="#9a9a9a" stroke-width="1"/><line x1="312.73" y1="877.10" x2="312.73" y2="879.10" stroke="#9a9a9a" stroke-width="1"/><line x1="323.08" y1="877.10" x2="323.08" y2="879.10" stroke="#9a9a9a" stroke-width="1"/><line x1="331.55" y1="877.10" x2="331.55" y2="879.10" stroke="#9a9a9a" stroke-width="1"/><line x1="338.70" y1="877.10" x2="338.70" y2="879.10" stroke="#9a9a9a" stroke-width="1"/><line x1="344.90" y1="877.10" x2="344.90" y2="879.10" stroke="#9a9a9a" stroke-width="1"/><line x1="350.36" y1="877.10" x2="350.36" y2="879.10" stroke="#9a9a9a" stroke-width="1"/><line x1="355.25" y1="877.10" x2="355.25" y2="881.30" stroke="#808080" stroke-width="1"/><line x1="387.42" y1="877.10" x2="387.42" y2="879.10" stroke="#9a9a9a" stroke-width="1"/><line x1="406.23" y1="877.10" x2="406.23" y2="879.10" stroke="#9a9a9a" stroke-width="1"/><line x1="419.58" y1="877.10" x2="419.58" y2="879.10" stroke="#9a9a9a" stroke-width="1"/><line x1="429.93" y1="877.10" x2="429.93" y2="879.10" stroke="#9a9a9a" stroke-width="1"/><line x1="438.40" y1="877.10" x2="438.40" y2="879.10" stroke="#9a9a9a" stroke-width="1"/><line x1="445.55" y1="877.10" x2="445.55" y2="879.10" stroke="#9a9a9a" stroke-width="1"/><line x1="451.75" y1="877.10" x2="451.75" y2="879.10" stroke="#9a9a9a" stroke-width="1"/><line x1="457.21" y1="877.10" x2="457.21" y2="879.10" stroke="#9a9a9a" stroke-width="1"/><line x1="462.10" y1="877.10" x2="462.10" y2="881.30" stroke="#808080" stroke-width="1"/></g>
<text x="21.30" y="875.50" transform="rotate(-90 21.30 875.50)" class="yl" letter-spacing="0">0</text>
<text x="21.30" y="830.02" transform="rotate(-90 21.30 830.02)" class="yl" letter-spacing="2.6">40</text>
<text x="21.30" y="785.84" transform="rotate(-90 21.30 785.84)" class="yl" letter-spacing="2.6">80</text>
<text x="21.30" y="741.66" transform="rotate(-90 21.30 741.66)" class="yl" letter-spacing="2.6">120</text>
<text x="21.30" y="697.48" transform="rotate(-90 21.30 697.48)" class="yl" letter-spacing="2.6">160</text>
<text x="21.30" y="653.30" transform="rotate(-90 21.30 653.30)" class="yl" letter-spacing="2.6">200</text>
<text x="11.00" y="767.16" transform="rotate(-90 11.00 767.16)" class="yl" textLength="44.3" lengthAdjust="spacing">Counts</text>
<text x="34.10" y="894.80" class="xl">10<tspan dx="1.2" dy="-4.3" class="sup">0</tspan></text>
<text x="140.95" y="894.80" class="xl">10<tspan dx="1.2" dy="-4.3" class="sup">1</tspan></text>
<text x="247.80" y="894.80" class="xl">10<tspan dx="1.2" dy="-4.3" class="sup">2</tspan></text>
<text x="354.65" y="894.80" class="xl">10<tspan dx="1.2" dy="-4.3" class="sup">3</tspan></text>
<text x="461.50" y="894.80" class="xl">10<tspan dx="1.2" dy="-4.3" class="sup">4</tspan></text>
<text x="249.20" y="906.80" class="xl">FL2-H</text>
<path d="M36.40,875.80H37.02V875.80H37.64V875.80H38.26V875.80H38.88V865.28H39.50V866.36H40.12V859.93H40.74V855.53H41.36V859.40H41.98V855.33H42.60V854.88H43.22V856.62H43.84V850.86H44.46V853.09H45.08V844.44H45.70V836.21H46.32V837.19H46.94V835.73H47.56V833.40H48.18V838.60H48.80V831.96H49.42V837.07H50.04V847.53H50.66V840.11H51.28V838.72H51.90V834.46H52.52V829.11H53.14V830.12H53.76V827.55H54.38V818.61H55.00V814.77H55.62V821.58H56.24V807.05H56.86V799.77H57.48V803.72H58.10V791.61H58.72V783.90H59.34V791.95H59.96V793.86H60.58V796.65H61.20V793.52H61.82V785.91H62.44V788.37H63.06V773.83H63.68V763.87H64.30V762.09H64.92V774.26H65.54V773.77H66.16V754.92H66.78V770.16H67.40V765.19H68.02V759.54H68.64V756.02H69.26V759.01H69.88V766.43H70.50V762.16H71.12V768.36H71.74V764.90H72.36V730.50H72.98V764.76H73.60V760.84H74.22V758.94H74.84V754.94H75.46V755.99H76.08V759.83H76.70V746.62H77.32V748.54H77.94V746.41H78.56V745.10H79.18V756.74H79.80V768.41H80.42V761.80H81.04V768.67H81.66V777.68H82.28V792.24H82.90V784.67H83.52V780.04H84.14V785.17H84.76V800.60H85.38V799.35H86.00V799.47H86.62V797.52H87.24V800.65H87.86V807.52H88.48V814.92H89.10V811.43H89.72V820.39H90.34V820.70H90.96V815.78H91.58V820.16H92.20V825.43H92.82V829.08H93.44V828.70H94.06V827.99H94.68V828.10H95.30V829.01H95.92V832.65H96.54V832.24H97.16V830.07H97.78V831.13H98.40V834.53H99.02V837.45H99.64V832.43H100.26V837.96H100.88V839.93H101.50V840.87H102.12V845.90H102.74V852.23H103.36V845.89H103.98V852.15H104.60V851.97H105.22V853.92H105.84V857.02H106.46V854.47H107.08V859.15H107.70V864.98H108.32V857.85H108.94V859.43H109.56V858.64H110.18V860.98H110.80V863.11H111.42V864.05H112.04V864.20H112.66V861.86H113.28V862.96H113.90V865.76H114.52V869.05H115.14V868.82H115.76V869.10H116.38V868.04H117.00V869.00H117.62V871.12H118.24V867.65H118.86V872.40H119.48V871.88H120.10V870.05H120.72V866.44H121.34V869.71H121.96V868.85H122.58V867.74H123.20V867.79H123.82V866.02H124.44V867.27H125.06V867.09H125.68V867.45H126.30V868.17H126.92V872.01H127.54V870.50H128.16V871.38H128.78V870.85H129.40V869.93H130.02V871.38H130.64V872.25H131.26V874.66H131.88V871.00H132.50V867.60H133.12V872.81H133.74V871.68H134.36V872.50H134.98V870.86H135.60V870.65H136.22V873.11H136.84V871.95H137.46V870.48H138.08V869.58H138.70V872.06H139.32V871.50H139.94V869.75H140.56V871.07H141.18V872.85H141.80V870.04H142.42V870.97H143.04V869.86H143.66V870.19H144.28V873.02H144.90V873.02H145.52V874.41H146.14V871.64H146.76V874.41H147.38V875.80H148.00V871.64H148.62V873.02H149.24V870.25H149.86V875.80H150.48V873.02H151.10V873.02H151.72V871.64H152.34V874.41H152.96V873.02H153.58V874.41H154.20V873.02H154.82V873.02H155.44V870.25H156.06V874.41H156.68V874.41H157.30V870.25H157.92V871.64H158.54V875.80H159.16V874.41H159.78V874.41H160.40V873.02H161.02V871.64H161.64V875.80H162.26V874.41H162.88V874.41H163.50V874.41H164.12V873.02H164.74V874.41H165.36V875.80H165.98V873.02H166.60V875.80H167.22V875.80H167.84V875.80H168.46V875.80H169.08V875.80H169.70V875.80H170.32V875.80H170.94V875.80H171.56V875.80H172.18V875.80H172.80V875.80H173.42V875.80H174.04V875.80H174.66V875.80H175.28V875.80H175.90V875.80H176.52V875.80H177.14V875.80H177.76V875.80H178.38V875.80H179.00V875.80H179.62V875.80H180.24V875.80H180.86V875.80H181.48V875.80H182.10V875.80H182.72V875.80H183.34V875.80H183.96V875.80H184.58V875.80H185.20V875.80H185.82V875.80H186.44V875.80H187.06V875.80H187.68V875.80H188.30V875.80H188.92V875.80H189.54V875.80H190.16V875.80H190.78V875.80H191.40V875.80H192.02V875.80H192.64V875.80H193.26V875.80H193.88V875.80H194.50V875.80H195.12V875.80H195.74V875.80H196.36V875.80H196.98V875.80H197.60V875.80H198.22V875.80H198.84V875.80H199.46V875.80H200.08V875.80H200.70V875.80H201.32V875.80H201.94V875.80H202.56V875.80H203.18V875.80H203.80V875.80H204.42V875.80H205.04V875.80H205.66V875.80H206.28V875.80H206.90V875.80H207.52V875.80H208.14V875.80H208.76V875.80H209.38V875.80H210.00V875.80H210.62V875.80H211.24V875.80H211.86V875.80H212.48V875.80H213.10V875.80H213.72V875.80H214.34V875.80H214.96V875.80H215.58V875.80H216.20V875.80H216.82V875.80H217.44V875.80H218.06V875.80H218.68V875.80H219.30V875.80H219.92V875.80H220.54V875.80H221.16V875.80H221.78V875.80H222.40V875.80H223.02V875.80H223.64V875.80H224.26V875.80H224.88V875.80H225.50V875.80H226.12V875.80H226.74V875.80H227.36V875.80H227.98V875.80H228.60V875.80H229.22V875.80H229.84V875.80H230.46V875.80H231.08V875.80H231.70V875.80H232.32V875.80H232.94V875.80H233.56V875.80H234.18V875.80H234.80V875.80H235.42V875.80H236.04V875.80H236.66V875.80H237.28V875.80H237.90V875.80H238.52V875.80H239.14V875.80H239.76V875.80H240.38V875.80H241.00V875.80H241.62V875.80H242.24V875.80H242.86V875.80H243.48V875.80H244.10V875.80H244.72V875.80H245.34V875.80H245.96V875.80H246.58V875.80H247.20V875.80H247.82V875.80H248.44V875.80H249.06V875.80H249.68V875.80H250.30V875.80H250.92V875.80H251.54V875.80H252.16V875.80H252.78V875.80H253.40V875.80H254.02V875.80H254.64V875.80H255.26V875.80H255.88V875.80H256.50V875.80H257.12V875.80H257.74V875.80H258.36V875.80H258.98V875.80H259.60V875.80H260.22V875.80H260.84V875.80H261.46V875.80H262.08V875.80H262.70V875.80H263.32V875.80H263.94V875.80H264.56V875.80H265.18V875.80H265.80V875.80H266.42V875.80H267.04V875.80H267.66V875.80H268.28V875.80H268.90V875.80H269.52V875.80H270.14V875.80H270.76V875.80H271.38V875.80H272.00V875.80H272.62V875.80H273.24V875.80H273.86V875.80H274.48V875.80H275.10V875.80H275.72V875.80H276.34V875.80H276.96V875.80H277.58V875.80H278.20V875.80H278.82V875.80H279.44V875.80H280.06V875.80H280.68V875.80H281.30V875.80H281.92V875.80H282.54V875.80H283.16V875.80H283.78V875.80H284.40V875.80H285.02V875.80H285.64V875.80H286.26V875.80H286.88V875.80H287.50V875.80H288.12V875.80H288.74V875.80H289.36V875.80H289.98V875.80H290.60V875.80H291.22V875.80H291.84V875.80H292.46V875.80H293.08V875.80H293.70V875.80H294.32V875.80H294.94V875.80H295.56V875.80H296.18V875.80H296.80V875.80H297.42V875.80H298.04V875.80H298.66V875.80H299.28V875.80H299.90V875.80H300.52V875.80H301.14V875.80H301.76V875.80H302.38V875.80H303.00V875.80H303.62V875.80H304.24V875.80H304.86V875.80H305.48V875.80H306.10V875.80H306.72V875.80H307.34V875.80H307.96V875.80H308.58V875.80H309.20V875.80H309.82V875.80H310.44V875.80H311.06V875.80H311.68V875.80H312.30V875.80H312.92V875.80H313.54V875.80H314.16V875.80H314.78V875.80H315.40V875.80H316.02V875.80H316.64V875.80H317.26V875.80H317.88V875.80H318.50V875.80H319.12V875.80H319.74V875.80H320.36V875.80H320.98V875.80H321.60V875.80H322.22V875.80H322.84V875.80H323.46V875.80H324.08V875.80H324.70V875.80H325.32V875.80H325.94V875.80H326.56V875.80H327.18V875.80H327.80V875.80H328.42V875.80H329.04V875.80H329.66V875.80H330.28V875.80H330.90V875.80H331.52V875.80H332.14V875.80H332.76V875.80H333.38V875.80H334.00V875.80H334.62V875.80H335.24V875.80H335.86V875.80H336.48V875.80H337.10V875.80H337.72V875.80H338.34V875.80H338.96V875.80H339.58V875.80H340.20V875.80H340.82V875.80H341.44V875.80H342.06V875.80H342.68V875.80H343.30V875.80H343.92V875.80H344.54V875.80H345.16V875.80H345.78V875.80H346.40V875.80H347.02V875.80H347.64V875.80H348.26V875.80H348.88V875.80H349.50V875.80H350.12V875.80H350.74V875.80H351.36V875.80H351.98V875.80H352.60V875.80H353.22V875.80H353.84V875.80H354.46V875.80H355.08V875.80H355.70V875.80H356.32V875.80H356.94V875.80H357.56V875.80H358.18V875.80H358.80V875.80H359.42V875.80H360.04V875.80H360.66V875.80H361.28V875.80H361.90V875.80H362.52V875.80H363.14V875.80H363.76V875.80H364.38V875.80H365.00V875.80H365.62V875.80H366.24V875.80H366.86V875.80H367.48V875.80H368.10V875.80H368.72V875.80H369.34V875.80H369.96V875.80H370.58V875.80H371.20V875.80H371.82V875.80H372.44V875.80H373.06V875.80H373.68V875.80H374.30V875.80H374.92V875.80H375.54V875.80H376.16V875.80H376.78V875.80H377.40V875.80H378.02V875.80H378.64V875.80H379.26V875.80H379.88V875.80H380.50V875.80H381.12V875.80H381.74V875.80H382.36V875.80H382.98V875.80H383.60V875.80H384.22V875.80H384.84V875.80H385.46V875.80H386.08V875.80H386.70V875.80H387.32V875.80H387.94V875.80H388.56V875.80H389.18V875.80H389.80V875.80H390.42V875.80H391.04V875.80H391.66V875.80H392.28V875.80H392.90V875.80H393.52V875.80H394.14V875.80H394.76V875.80H395.38V875.80H396.00V875.80H396.62V875.80H397.24V875.80H397.86V875.80H398.48V875.80H399.10V875.80H399.72V875.80H400.34V875.80H400.96V875.80H401.58V875.80H402.20V875.80H402.82V875.80H403.44V875.80H404.06V875.80H404.68V875.80H405.30V875.80H405.92V875.80H406.54V875.80H407.16V875.80H407.78V875.80H408.40V875.80H409.02V875.80H409.64V875.80H410.26V875.80H410.88V875.80H411.50V875.80H412.12V875.80H412.74V875.80H413.36V875.80H413.98V875.80H414.60V875.80H415.22V875.80H415.84V875.80H416.46V875.80H417.08V875.80H417.70V875.80H418.32V875.80H418.94V875.80H419.56V875.80H420.18V875.80H420.80V875.80H421.42V875.80H422.04V875.80H422.66V875.80H423.28V875.80H423.90V875.80H424.52V875.80H425.14V875.80H425.76V875.80H426.38V875.80H427.00V875.80H427.62V875.80H428.24V875.80H428.86V875.80H429.48V875.80H430.10V875.80H430.72V875.80H431.34V875.80H431.96V875.80H432.58V875.80H433.20V875.80H433.82V875.80H434.44V875.80H435.06V875.80H435.68V875.80H436.30V875.80H436.92V875.80H437.54V875.80H438.16V875.80H438.78V875.80H439.40V875.80H440.02V875.80H440.64V875.80H441.26V875.80H441.88V875.80H442.50V875.80H443.12V875.80H443.74V875.80H444.36V875.80H444.98V875.80H445.60V875.80H446.22V875.80H446.84V875.80H447.46V875.80H448.08V875.80H448.70V875.80H449.32V875.80H449.94V875.80H450.56V875.80H451.18V875.80H451.80V875.80H452.42V875.80H453.04V875.80H453.66V875.80H454.28V875.80H454.90V875.80H455.52V875.80H456.14V875.80H456.76V875.80H457.38V875.80H458.00V875.80H458.62V875.80H459.24V875.80H459.86V875.80H460.48V875.80H461.10V875.80H461.72V875.80H462.34V875.80H462.96V875.80H463.58" fill="none" stroke="#ff1a99" stroke-width="1.05"/>
<rect x="34" y="653.50" width="2" height="222.80" fill="#ff2a9d" shape-rendering="crispEdges"/>
<rect x="35" y="761.00" width="2" height="115.30" fill="#ff1a99" shape-rendering="crispEdges"/>
<path d="M36.40,875.80H37.02V872.41H37.64V873.75H38.26V870.25H38.88V874.41H39.50V874.41H40.12V871.64H40.74V871.64H41.36V874.41H41.98V873.02H42.60V873.02H43.22V870.25H43.84V874.41H44.46V868.86H45.08V873.02H45.70V875.80H46.32V871.64H46.94V874.41H47.56V875.80H48.18V870.25H48.80V874.41H49.42V873.02H50.04V873.02H50.66V873.02H51.28V874.41H51.90V871.64H52.52V871.64H53.14V868.86H53.76V875.80H54.38V875.80H55.00V874.41H55.62V873.02H56.24V873.02H56.86V875.80H57.48V874.41H58.10V871.64H58.72V873.02H59.34V870.25H59.96V873.02H60.58V870.25H61.20V868.86H61.82V873.02H62.44V875.80H63.06V870.25H63.68V870.25H64.30V873.02H64.92V870.25H65.54V871.64H66.16V871.64H66.78V873.02H67.40V871.64H68.02V870.25H68.64V870.25H69.26V874.41H69.88V874.41H70.50V873.02H71.12V870.25H71.74V871.64H72.36V874.41H72.98V875.80H73.60V874.41H74.22V871.64H74.84V871.64H75.46V868.86H76.08V873.02H76.70V868.86H77.32V875.80H77.94V871.64H78.56V871.64H79.18V872.87H79.80V872.74H80.42V873.97H81.04V873.06H81.66V871.71H82.28V873.10H82.90V872.45H83.52V871.72H84.14V873.16H84.76V874.18H85.38V872.02H86.00V872.30H86.62V872.85H87.24V872.17H87.86V871.81H88.48V873.13H89.10V873.06H89.72V873.10H90.34V872.54H90.96V871.47H91.58V872.36H92.20V872.39H92.82V872.84H93.44V873.60H94.06V873.92H94.68V872.06H95.30V871.90H95.92V873.46H96.54V872.72H97.16V872.64H97.78V872.30H98.40V872.78H99.02V873.66H99.64V872.80H100.26V871.40H100.88V872.53H101.50V872.50H102.12V873.98H102.74V872.07H103.36V872.10H103.98V872.00H104.60V871.45H105.22V872.55H105.84V872.63H106.46V872.42H107.08V871.55H107.70V874.07H108.32V871.99H108.94V870.86H109.56V871.91H110.18V872.15H110.80V873.03H111.42V874.47H112.04V874.10H112.66V873.58H113.28V874.64H113.90V874.44H114.52V871.96H115.14V871.86H115.76V871.85H116.38V872.82H117.00V873.28H117.62V872.24H118.24V871.91H118.86V871.29H119.48V871.64H120.10V870.25H120.72V873.02H121.34V871.64H121.96V871.64H122.58V867.47H123.20V874.41H123.82V874.41H124.44V875.80H125.06V873.02H125.68V873.02H126.30V871.64H126.92V874.41H127.54V875.80H128.16V874.41H128.78V874.41H129.40V870.25H130.02V875.80H130.64V873.02H131.26V875.80H131.88V871.64H132.50V874.41H133.12V874.41H133.74V874.41H134.36V873.02H134.98V873.02H135.60V874.41H136.22V873.02H136.84V874.41H137.46V871.64H138.08V871.64H138.70V874.41H139.32V870.25H139.94V870.25H140.56V870.25H141.18V874.41H141.80V873.02H142.42V871.64H143.04V873.02H143.66V873.02H144.28V873.02H144.90V874.41H145.52V874.41H146.14V873.02H146.76V874.41H147.38V875.80H148.00V875.80H148.62V873.02H149.24V873.02H149.86V871.64H150.48V873.02H151.10V873.02H151.72V873.02H152.34V874.41H152.96V871.64H153.58V875.80H154.20V873.02H154.82V871.64H155.44V871.64H156.06V871.64H156.68V873.02H157.30V874.41H157.92V871.64H158.54V871.64H159.16V871.64H159.78V871.64H160.40V874.41H161.02V871.64H161.64V874.41H162.26V874.57H162.88V872.53H163.50V872.34H164.12V872.50H164.74V871.81H165.36V871.17H165.98V870.92H166.60V869.01H167.22V865.97H167.84V865.51H168.46V863.56H169.08V866.41H169.70V865.69H170.32V862.58H170.94V863.16H171.56V861.83H172.18V859.03H172.80V859.90H173.42V860.16H174.04V858.01H174.66V859.87H175.28V860.05H175.90V858.06H176.52V857.99H177.14V854.74H177.76V854.16H178.38V855.33H179.00V852.91H179.62V849.02H180.24V852.78H180.86V849.98H181.48V848.42H182.10V849.03H182.72V849.19H183.34V848.17H183.96V844.25H184.58V842.49H185.20V840.36H185.82V840.38H186.44V845.34H187.06V841.12H187.68V837.64H188.30V834.88H188.92V831.65H189.54V833.42H190.16V830.69H190.78V820.50H191.40V817.08H192.02V816.12H192.64V807.71H193.26V805.10H193.88V796.21H194.50V792.99H195.12V781.37H195.74V782.05H196.36V769.99H196.98V771.22H197.60V762.25H198.22V759.28H198.84V757.06H199.46V766.98H200.08V749.44H200.70V750.64H201.32V758.72H201.94V751.20H202.56V749.97H203.18V743.53H203.80V745.28H204.42V737.01H205.04V735.26H205.66V737.07H206.28V731.90H206.90V728.05H207.52V729.81H208.14V720.68H208.76V715.00H209.38V726.11H210.00V733.76H210.62V744.10H211.24V736.20H211.86V735.00H212.48V748.52H213.10V737.05H213.72V738.72H214.34V739.89H214.96V748.46H215.58V754.25H216.20V750.51H216.82V757.89H217.44V768.88H218.06V776.04H218.68V770.62H219.30V763.85H219.92V771.98H220.54V774.25H221.16V786.38H221.78V799.64H222.40V804.44H223.02V807.23H223.64V806.05H224.26V813.66H224.88V811.93H225.50V820.91H226.12V824.19H226.74V834.98H227.36V838.15H227.98V844.19H228.60V845.48H229.22V841.98H229.84V845.20H230.46V850.28H231.08V856.49H231.70V857.72H232.32V860.38H232.94V862.57H233.56V858.49H234.18V859.00H234.80V862.84H235.42V862.95H236.04V863.11H236.66V867.56H237.28V866.40H237.90V863.79H238.52V864.79H239.14V865.08H239.76V866.61H240.38V866.40H241.00V868.28H241.62V868.48H242.24V867.59H242.86V868.44H243.48V869.24H244.10V870.32H244.72V868.28H245.34V869.70H245.96V871.54H246.58V871.23H247.20V871.49H247.82V871.41H248.44V871.31H249.06V871.98H249.68V874.41H250.30V868.86H250.92V874.41H251.54V874.41H252.16V873.02H252.78V871.64H253.40V874.41H254.02V874.41H254.64V873.02H255.26V875.80H255.88V871.64H256.50V873.02H257.12V874.41H257.74V874.41H258.36V875.80H258.98V875.80H259.60V873.02H260.22V873.02H260.84V873.02H261.46V874.41H262.08V875.80H262.70V874.41H263.32V875.80H263.94V875.80H264.56V875.80H265.18V875.80H265.80V875.80H266.42V875.80H267.04V875.80H267.66V874.41H268.28V873.02H268.90V875.80H269.52V875.80H270.14V875.80H270.76V875.80H271.38V875.80H272.00V875.80H272.62V875.80H273.24V874.41H273.86V875.80H274.48V875.80H275.10V875.80H275.72V875.80H276.34V875.80H276.96V874.41H277.58V875.80H278.20V873.02H278.82V875.80H279.44V875.80H280.06V874.41H280.68V875.80H281.30V874.41H281.92V875.80H282.54V875.80H283.16V874.41H283.78V875.80H284.40V875.80H285.02V875.80H285.64V875.80H286.26V875.80H286.88V875.80H287.50V875.80H288.12V875.80H288.74V875.80H289.36V875.80H289.98V874.41H290.60V874.41H291.22V875.80H291.84V875.80H292.46V875.80H293.08V875.80H293.70V875.80H294.32V875.80H294.94V875.80H295.56V875.80H296.18V875.80H296.80V875.80H297.42V875.80H298.04V875.80H298.66V875.80H299.28V875.80H299.90V875.80H300.52V875.80H301.14V875.80H301.76V875.80H302.38V875.80H303.00V875.80H303.62V875.80H304.24V875.80H304.86V875.80H305.48V875.80H306.10V875.80H306.72V875.80H307.34V875.80H307.96V875.80H308.58V875.80H309.20V875.80H309.82V875.80H310.44V875.80H311.06V875.80H311.68V875.80H312.30V875.80H312.92V875.80H313.54V875.80H314.16V875.80H314.78V875.80H315.40V875.80H316.02V875.80H316.64V875.80H317.26V875.80H317.88V875.80H318.50V875.80H319.12V875.80H319.74V875.80H320.36V875.80H320.98V875.80H321.60V875.80H322.22V875.80H322.84V875.80H323.46V875.80H324.08V875.80H324.70V875.80H325.32V875.80H325.94V875.80H326.56V875.80H327.18V875.80H327.80V875.80H328.42V875.80H329.04V875.80H329.66V875.80H330.28V875.80H330.90V875.80H331.52V875.80H332.14V875.80H332.76V875.80H333.38V875.80H334.00V875.80H334.62V875.80H335.24V875.80H335.86V875.80H336.48V875.80H337.10V875.80H337.72V875.80H338.34V875.80H338.96V875.80H339.58V875.80H340.20V875.80H340.82V875.80H341.44V875.80H342.06V875.80H342.68V875.80H343.30V875.80H343.92V875.80H344.54V875.80H345.16V875.80H345.78V875.80H346.40V875.80H347.02V875.80H347.64V875.80H348.26V875.80H348.88V875.80H349.50V875.80H350.12V875.80H350.74V875.80H351.36V875.80H351.98V875.80H352.60V875.80H353.22V875.80H353.84V875.80H354.46V875.80H355.08V875.80H355.70V875.80H356.32V875.80H356.94V875.80H357.56V875.80H358.18V875.80H358.80V875.80H359.42V875.80H360.04V875.80H360.66V875.80H361.28V875.80H361.90V875.80H362.52V875.80H363.14V875.80H363.76V875.80H364.38V875.80H365.00V875.80H365.62V875.80H366.24V875.80H366.86V875.80H367.48V875.80H368.10V875.80H368.72V875.80H369.34V875.80H369.96V875.80H370.58V875.80H371.20V875.80H371.82V875.80H372.44V875.80H373.06V875.80H373.68V875.80H374.30V875.80H374.92V875.80H375.54V875.80H376.16V875.80H376.78V875.80H377.40V875.80H378.02V875.80H378.64V875.80H379.26V875.80H379.88V875.80H380.50V875.80H381.12V875.80H381.74V875.80H382.36V875.80H382.98V875.80H383.60V875.80H384.22V875.80H384.84V875.80H385.46V875.80H386.08V875.80H386.70V875.80H387.32V875.80H387.94V875.80H388.56V875.80H389.18V875.80H389.80V875.80H390.42V875.80H391.04V875.80H391.66V875.80H392.28V875.80H392.90V875.80H393.52V875.80H394.14V875.80H394.76V875.80H395.38V875.80H396.00V875.80H396.62V875.80H397.24V875.80H397.86V875.80H398.48V875.80H399.10V875.80H399.72V875.80H400.34V875.80H400.96V875.80H401.58V875.80H402.20V875.80H402.82V875.80H403.44V875.80H404.06V875.80H404.68V875.80H405.30V875.80H405.92V875.80H406.54V875.80H407.16V875.80H407.78V875.80H408.40V875.80H409.02V875.80H409.64V875.80H410.26V875.80H410.88V875.80H411.50V875.80H412.12V875.80H412.74V875.80H413.36V875.80H413.98V875.80H414.60V875.80H415.22V875.80H415.84V875.80H416.46V875.80H417.08V875.80H417.70V875.80H418.32V875.80H418.94V875.80H419.56V875.80H420.18V875.80H420.80V875.80H421.42V875.80H422.04V875.80H422.66V875.80H423.28V875.80H423.90V875.80H424.52V875.80H425.14V875.80H425.76V875.80H426.38V875.80H427.00V875.80H427.62V875.80H428.24V875.80H428.86V875.80H429.48V875.80H430.10V875.80H430.72V875.80H431.34V875.80H431.96V875.80H432.58V875.80H433.20V875.80H433.82V875.80H434.44V875.80H435.06V875.80H435.68V875.80H436.30V875.80H436.92V875.80H437.54V875.80H438.16V875.80H438.78V875.80H439.40V875.80H440.02V875.80H440.64V875.80H441.26V875.80H441.88V875.80H442.50V875.80H443.12V875.80H443.74V875.80H444.36V875.80H444.98V875.80H445.60V875.80H446.22V875.80H446.84V875.80H447.46V875.80H448.08V875.80H448.70V875.80H449.32V875.80H449.94V875.80H450.56V875.80H451.18V875.80H451.80V875.80H452.42V875.80H453.04V875.80H453.66V875.80H454.28V875.80H454.90V875.80H455.52V875.80H456.14V875.80H456.76V875.80H457.38V875.80H458.00V875.80H458.62V875.80H459.24V875.80H459.86V875.80H460.48V875.80H461.10V875.80H461.72V875.80H462.34V875.80H462.96V875.80H463.58" fill="none" stroke="#0000e6" stroke-width="1.9"/>
<rect x="34" y="842.60" width="3" height="33.70" fill="#0000e6" shape-rendering="crispEdges"/>
<rect x="37" y="857.80" width="1" height="18.50" fill="#0000e6" shape-rendering="crispEdges"/>
<path d="M36.40,875.80H37.02V875.80H37.64V875.80H38.26V874.41H38.88V874.41H39.50V875.80H40.12V873.02H40.74V875.80H41.36V875.80H41.98V875.80H42.60V874.41H43.22V875.80H43.84V875.80H44.46V874.41H45.08V875.80H45.70V875.80H46.32V875.80H46.94V873.02H47.56V875.80H48.18V875.80H48.80V873.02H49.42V874.41H50.04V875.80H50.66V875.80H51.28V873.02H51.90V875.80H52.52V875.80H53.14V874.41H53.76V875.80H54.38V874.41H55.00V873.02H55.62V875.80H56.24V875.80H56.86V875.80H57.48V874.41H58.10V874.41H58.72V874.41H59.34V875.80H59.96V875.80H60.58V875.80H61.20V875.80H61.82V873.02H62.44V875.80H63.06V875.80H63.68V874.41H64.30V875.80H64.92V875.80H65.54V874.41H66.16V875.80H66.78V875.80H67.40V874.41H68.02V873.02H68.64V875.80H69.26V875.80H69.88V874.41H70.50V874.41H71.12V875.80H71.74V875.80H72.36V875.80H72.98V875.80H73.60V874.41H74.22V874.41H74.84V875.80H75.46V874.41H76.08V875.80H76.70V874.41H77.32V875.80H77.94V875.80H78.56V873.02H79.18V875.80H79.80V874.41H80.42V874.41H81.04V875.80H81.66V875.80H82.28V875.80H82.90V875.80H83.52V874.41H84.14V874.41H84.76V874.41H85.38V874.41H86.00V875.80H86.62V874.41H87.24V875.80H87.86V875.80H88.48V873.02H89.10V875.80H89.72V875.80H90.34V875.80H90.96V875.80H91.58V874.41H92.20V875.80H92.82V873.02H93.44V874.41H94.06V874.41H94.68V874.41H95.30V875.80H95.92V873.02H96.54V875.80H97.16V873.02H97.78V874.41H98.40V874.41H99.02V875.80H99.64V874.41H100.26V874.41H100.88V874.41H101.50V874.41H102.12V873.02H102.74V874.41H103.36V875.80H103.98V874.41H104.60V875.80H105.22V873.02H105.84V874.41H106.46V873.02H107.08V873.02H107.70V873.02H108.32V873.02H108.94V875.80H109.56V873.02H110.18V875.80H110.80V874.41H111.42V875.80H112.04V875.80H112.66V874.41H113.28V875.80H113.90V874.41H114.52V873.02H115.14V874.41H115.76V875.80H116.38V875.80H117.00V870.25H117.62V874.41H118.24V875.80H118.86V875.80H119.48V871.64H120.10V875.80H120.72V875.80H121.34V873.02H121.96V874.41H122.58V873.02H123.20V875.80H123.82V873.02H124.44V874.41H125.06V873.02H125.68V875.80H126.30V873.02H126.92V874.41H127.54V874.41H128.16V873.02H128.78V875.80H129.40V874.41H130.02V875.80H130.64V874.41H131.26V875.80H131.88V873.02H132.50V874.41H133.12V874.41H133.74V873.02H134.36V875.80H134.98V874.41H135.60V874.41H136.22V873.02H136.84V874.41H137.46V874.41H138.08V874.41H138.70V871.64H139.32V873.02H139.94V874.41H140.56V873.02H141.18V875.80H141.80V875.80H142.42V873.02H143.04V875.80H143.66V874.41H144.28V874.41H144.90V875.80H145.52V875.80H146.14V873.02H146.76V871.64H147.38V875.80H148.00V874.41H148.62V873.02H149.24V873.02H149.86V874.41H150.48V874.41H151.10V875.80H151.72V875.80H152.34V875.80H152.96V873.02H153.58V875.80H154.20V871.64H154.82V871.64H155.44V873.02H156.06V873.02H156.68V873.02H157.30V875.80H157.92V873.02H158.54V874.41H159.16V871.64H159.78V873.02H160.40V874.41H161.02V875.80H161.64V875.80H162.26V873.02H162.88V875.80H163.50V873.02H164.12V871.64H164.74V874.41H165.36V874.41H165.98V874.41H166.60V873.02H167.22V874.41H167.84V874.41H168.46V871.64H169.08V873.02H169.70V875.80H170.32V873.02H170.94V871.64H171.56V873.02H172.18V874.41H172.80V874.41H173.42V875.80H174.04V874.41H174.66V870.25H175.28V874.41H175.90V873.02H176.52V875.80H177.14V873.02H177.76V874.41H178.38V874.41H179.00V873.02H179.62V875.80H180.24V875.80H180.86V874.41H181.48V873.02H182.10V875.80H182.72V875.80H183.34V868.86H183.96V874.41H184.58V873.02H185.20V875.80H185.82V873.02H186.44V873.02H187.06V874.41H187.68V874.41H188.30V875.80H188.92V867.47H189.54V875.80H190.16V873.02H190.78V873.02H191.40V875.80H192.02V871.64H192.64V873.02H193.26V875.80H193.88V870.25H194.50V874.41H195.12V871.64H195.74V874.41H196.36V874.41H196.98V871.64H197.60V873.02H198.22V871.64H198.84V874.41H199.46V871.64H200.08V875.80H200.70V874.41H201.32V874.41H201.94V872.13H202.56V870.25H203.18V869.34H203.80V868.86H204.42V868.90H205.04V867.12H205.66V866.69H206.28V865.03H206.90V864.88H207.52V867.49H208.14V865.72H208.76V864.09H209.38V860.18H210.00V861.21H210.62V860.50H211.24V860.42H211.86V862.36H212.48V862.31H213.10V860.65H213.72V860.70H214.34V860.44H214.96V858.87H215.58V858.44H216.20V855.89H216.82V855.45H217.44V855.22H218.06V848.57H218.68V847.59H219.30V849.90H219.92V850.01H220.54V849.79H221.16V850.51H221.78V848.73H222.40V846.31H223.02V840.80H223.64V838.31H224.26V835.38H224.88V833.33H225.50V834.46H226.12V826.58H226.74V821.75H227.36V819.17H227.98V820.49H228.60V810.42H229.22V804.84H229.84V799.50H230.46V789.86H231.08V785.38H231.70V780.51H232.32V775.89H232.94V770.19H233.56V754.34H234.18V756.87H234.80V751.07H235.42V754.91H236.04V754.92H236.66V750.98H237.28V735.00H237.90V750.38H238.52V750.99H239.14V749.78H239.76V742.66H240.38V741.90H241.00V744.84H241.62V744.55H242.24V753.16H242.86V743.55H243.48V734.63H244.10V746.94H244.72V747.67H245.34V751.41H245.96V764.27H246.58V761.11H247.20V766.93H247.82V766.48H248.44V761.82H249.06V770.28H249.68V772.47H250.30V771.37H250.92V778.34H251.54V778.26H252.16V781.86H252.78V788.00H253.40V786.05H254.02V790.35H254.64V784.74H255.26V792.96H255.88V794.71H256.50V799.91H257.12V802.31H257.74V800.12H258.36V801.18H258.98V804.42H259.60V804.03H260.22V813.44H260.84V813.43H261.46V808.47H262.08V814.72H262.70V821.63H263.32V820.94H263.94V821.21H264.56V827.08H265.18V823.92H265.80V827.66H266.42V828.53H267.04V828.20H267.66V833.31H268.28V834.80H268.90V835.21H269.52V839.27H270.14V837.91H270.76V844.79H271.38V844.94H272.00V842.02H272.62V842.81H273.24V846.98H273.86V851.24H274.48V853.79H275.10V853.24H275.72V853.82H276.34V855.60H276.96V854.57H277.58V856.51H278.20V857.20H278.82V857.24H279.44V856.53H280.06V857.60H280.68V859.72H281.30V859.03H281.92V860.62H282.54V864.31H283.16V864.40H283.78V866.88H284.40V864.47H285.02V862.40H285.64V861.37H286.26V862.26H286.88V862.47H287.50V864.57H288.12V866.80H288.74V866.55H289.36V867.08H289.98V866.81H290.60V866.44H291.22V867.03H291.84V870.54H292.46V867.67H293.08V868.50H293.70V868.05H294.32V868.62H294.94V869.74H295.56V869.54H296.18V869.36H296.80V870.02H297.42V869.80H298.04V870.73H298.66V870.86H299.28V869.32H299.90V870.08H300.52V871.73H301.14V871.61H301.76V872.70H302.38V871.11H303.00V871.02H303.62V872.00H304.24V872.87H304.86V873.25H305.48V873.79H306.10V872.42H306.72V871.93H307.34V871.39H307.96V872.01H308.58V871.92H309.20V871.65H309.82V872.61H310.44V872.55H311.06V874.41H311.68V873.02H312.30V874.41H312.92V874.41H313.54V873.02H314.16V874.41H314.78V871.64H315.40V875.80H316.02V874.41H316.64V871.64H317.26V868.86H317.88V873.02H318.50V874.41H319.12V875.80H319.74V874.41H320.36V870.25H320.98V874.41H321.60V874.41H322.22V871.64H322.84V875.80H323.46V874.41H324.08V870.25H324.70V875.80H325.32V873.02H325.94V875.80H326.56V873.02H327.18V874.41H327.80V871.64H328.42V874.41H329.04V873.02H329.66V874.41H330.28V874.41H330.90V874.41H331.52V871.64H332.14V871.64H332.76V873.02H333.38V874.41H334.00V874.41H334.62V875.80H335.24V875.80H335.86V874.41H336.48V874.41H337.10V875.80H337.72V874.41H338.34V875.80H338.96V873.02H339.58V875.80H340.20V874.41H340.82V875.80H341.44V874.41H342.06V874.41H342.68V871.64H343.30V875.80H343.92V875.80H344.54V875.80H345.16V873.02H345.78V874.41H346.40V874.41H347.02V875.80H347.64V874.41H348.26V875.80H348.88V874.41H349.50V873.02H350.12V874.41H350.74V875.80H351.36V874.41H351.98V875.80H352.60V874.41H353.22V874.41H353.84V875.80H354.46V875.80H355.08V874.41H355.70V873.02H356.32V875.80H356.94V874.41H357.56V875.80H358.18V875.80H358.80V875.80H359.42V875.80H360.04V874.41H360.66V875.80H361.28V875.80H361.90V874.41H362.52V875.80H363.14V875.80H363.76V875.80H364.38V875.80H365.00V875.80H365.62V875.80H366.24V875.80H366.86V874.41H367.48V875.80H368.10V875.80H368.72V875.80H369.34V875.80H369.96V875.80H370.58V874.41H371.20V875.80H371.82V875.80H372.44V875.80H373.06V875.80H373.68V875.80H374.30V875.80H374.92V875.80H375.54V875.80H376.16V875.80H376.78V875.80H377.40V875.80H378.02V875.80H378.64V875.80H379.26V875.80H379.88V875.80H380.50V875.80H381.12V875.80H381.74V875.80H382.36V875.80H382.98V875.80H383.60V875.80H384.22V875.80H384.84V875.80H385.46V875.80H386.08V875.80H386.70V875.80H387.32V875.80H387.94V875.80H388.56V875.80H389.18V875.80H389.80V875.80H390.42V875.80H391.04V875.80H391.66V875.80H392.28V875.80H392.90V875.80H393.52V875.80H394.14V875.80H394.76V875.80H395.38V875.80H396.00V875.80H396.62V875.80H397.24V875.80H397.86V875.80H398.48V875.80H399.10V875.80H399.72V875.80H400.34V875.80H400.96V875.80H401.58V875.80H402.20V875.80H402.82V875.80H403.44V875.80H404.06V875.80H404.68V875.80H405.30V875.80H405.92V875.80H406.54V875.80H407.16V875.80H407.78V875.80H408.40V875.80H409.02V875.80H409.64V875.80H410.26V875.80H410.88V875.80H411.50V875.80H412.12V875.80H412.74V875.80H413.36V875.80H413.98V875.80H414.60V875.80H415.22V875.80H415.84V875.80H416.46V875.80H417.08V875.80H417.70V875.80H418.32V875.80H418.94V875.80H419.56V875.80H420.18V875.80H420.80V875.80H421.42V875.80H422.04V875.80H422.66V875.80H423.28V875.80H423.90V875.80H424.52V875.80H425.14V875.80H425.76V875.80H426.38V875.80H427.00V875.80H427.62V875.80H428.24V875.80H428.86V875.80H429.48V875.80H430.10V875.80H430.72V875.80H431.34V875.80H431.96V875.80H432.58V875.80H433.20V875.80H433.82V875.80H434.44V875.80H435.06V875.80H435.68V875.80H436.30V875.80H436.92V875.80H437.54V875.80H438.16V875.80H438.78V875.80H439.40V875.80H440.02V875.80H440.64V875.80H441.26V875.80H441.88V875.80H442.50V875.80H443.12V875.80H443.74V875.80H444.36V875.80H444.98V875.80H445.60V875.80H446.22V875.80H446.84V875.80H447.46V875.80H448.08V875.80H448.70V875.80H449.32V875.80H449.94V875.80H450.56V875.80H451.18V875.80H451.80V875.80H452.42V875.80H453.04V875.80H453.66V875.80H454.28V875.80H454.90V875.80H455.52V875.80H456.14V875.80H456.76V875.80H457.38V875.80H458.00V875.80H458.62V875.80H459.24V875.80H459.86V875.80H460.48V875.80H461.10V875.80H461.72V875.80H462.34V875.80H462.96V875.80H463.58" fill="none" stroke="#e00000" stroke-width="1.9"/>
<path d="M36.40,875.80H37.02V874.41H37.64V874.41H38.26V875.80H38.88V875.80H39.50V875.80H40.12V871.64H40.74V871.64H41.36V873.02H41.98V874.41H42.60V875.80H43.22V871.64H43.84V874.41H44.46V875.80H45.08V874.41H45.70V874.41H46.32V875.80H46.94V873.02H47.56V873.02H48.18V874.41H48.80V875.80H49.42V873.02H50.04V873.02H50.66V874.41H51.28V874.41H51.90V874.41H52.52V874.41H53.14V874.41H53.76V874.41H54.38V875.80H55.00V874.41H55.62V875.80H56.24V874.41H56.86V874.41H57.48V873.02H58.10V874.41H58.72V874.41H59.34V874.41H59.96V874.41H60.58V873.02H61.20V874.41H61.82V874.41H62.44V873.02H63.06V875.80H63.68V873.02H64.30V874.41H64.92V874.41H65.54V874.41H66.16V875.80H66.78V873.02H67.40V874.41H68.02V875.80H68.64V874.41H69.26V874.41H69.88V873.02H70.50V874.41H71.12V873.02H71.74V873.02H72.36V871.64H72.98V875.80H73.60V870.25H74.22V874.41H74.84V875.80H75.46V874.41H76.08V875.80H76.70V875.80H77.32V874.41H77.94V871.64H78.56V871.64H79.18V875.80H79.80V875.80H80.42V870.25H81.04V874.41H81.66V875.80H82.28V873.02H82.90V873.02H83.52V874.41H84.14V874.41H84.76V875.80H85.38V873.02H86.00V874.41H86.62V870.25H87.24V875.80H87.86V874.41H88.48V870.25H89.10V874.41H89.72V874.41H90.34V870.25H90.96V874.41H91.58V875.80H92.20V874.41H92.82V871.64H93.44V874.41H94.06V870.25H94.68V875.80H95.30V874.41H95.92V873.02H96.54V874.41H97.16V875.80H97.78V875.80H98.40V870.25H99.02V875.80H99.64V871.64H100.26V871.64H100.88V875.80H101.50V874.41H102.12V874.41H102.74V874.41H103.36V870.25H103.98V875.80H104.60V875.80H105.22V874.41H105.84V875.80H106.46V874.41H107.08V874.41H107.70V873.02H108.32V870.25H108.94V871.64H109.56V871.64H110.18V871.64H110.80V875.80H111.42V871.64H112.04V874.41H112.66V873.02H113.28V874.41H113.90V873.02H114.52V874.41H115.14V874.41H115.76V873.02H116.38V873.02H117.00V868.86H117.62V873.02H118.24V870.25H118.86V873.02H119.48V875.80H120.10V874.41H120.72V875.80H121.34V874.41H121.96V874.41H122.58V871.64H123.20V874.41H123.82V874.41H124.44V873.02H125.06V873.02H125.68V874.41H126.30V875.80H126.92V875.80H127.54V873.02H128.16V874.41H128.78V871.64H129.40V874.41H130.02V874.41H130.64V875.80H131.26V875.80H131.88V870.25H132.50V874.41H133.12V873.02H133.74V873.02H134.36V875.80H134.98V868.86H135.60V874.41H136.22V871.64H136.84V873.02H137.46V874.41H138.08V873.02H138.70V873.02H139.32V873.02H139.94V873.02H140.56V873.02H141.18V871.64H141.80V874.41H142.42V874.41H143.04V875.80H143.66V874.41H144.28V874.41H144.90V875.80H145.52V874.41H146.14V875.80H146.76V873.02H147.38V874.41H148.00V874.41H148.62V874.41H149.24V871.64H149.86V874.41H150.48V874.41H151.10V867.47H151.72V873.02H152.34V875.80H152.96V875.80H153.58V875.80H154.20V871.64H154.82V874.41H155.44V868.86H156.06V874.41H156.68V870.25H157.30V870.25H157.92V873.02H158.54V868.86H159.16V873.02H159.78V873.02H160.40V871.64H161.02V875.80H161.64V874.41H162.26V873.02H162.88V871.64H163.50V871.64H164.12V871.64H164.74V870.25H165.36V871.64H165.98V867.47H166.60V873.02H167.22V871.64H167.84V873.02H168.46V875.80H169.08V874.41H169.70V874.41H170.32V874.41H170.94V868.86H171.56V873.02H172.18V871.64H172.80V866.09H173.42V873.02H174.04V871.64H174.66V868.86H175.28V873.02H175.90V871.64H176.52V870.25H177.14V873.02H177.76V868.86H178.38V875.80H179.00V873.02H179.62V873.39H180.24V872.86H180.86V871.94H181.48V871.76H182.10V873.14H182.72V871.66H183.34V871.82H183.96V872.39H184.58V872.51H185.20V873.31H185.82V873.31H186.44V873.73H187.06V873.35H187.68V872.48H188.30V869.94H188.92V868.37H189.54V868.88H190.16V868.81H190.78V867.04H191.40V866.02H192.02V867.00H192.64V866.64H193.26V866.09H193.88V866.85H194.50V861.81H195.12V861.01H195.74V861.97H196.36V861.41H196.98V859.64H197.60V857.58H198.22V859.56H198.84V858.26H199.46V857.45H200.08V854.36H200.70V853.93H201.32V854.92H201.94V853.06H202.56V853.22H203.18V850.97H203.80V848.18H204.42V850.15H205.04V842.39H205.66V848.25H206.28V848.06H206.90V848.17H207.52V845.65H208.14V842.14H208.76V838.58H209.38V835.58H210.00V832.01H210.62V831.78H211.24V833.55H211.86V824.40H212.48V818.98H213.10V815.25H213.72V806.53H214.34V804.64H214.96V788.95H215.58V788.48H216.20V775.67H216.82V769.33H217.44V769.99H218.06V770.90H218.68V760.65H219.30V755.00H219.92V753.35H220.54V759.00H221.16V757.18H221.78V745.70H222.40V752.29H223.02V749.21H223.64V737.89H224.26V741.94H224.88V734.07H225.50V736.54H226.12V748.23H226.74V752.29H227.36V736.55H227.98V743.49H228.60V744.06H229.22V742.58H229.84V738.72H230.46V739.98H231.08V738.16H231.70V733.75H232.32V745.28H232.94V739.40H233.56V747.17H234.18V757.55H234.80V753.90H235.42V752.32H236.04V763.04H236.66V769.63H237.28V767.82H237.90V773.64H238.52V776.78H239.14V773.49H239.76V776.45H240.38V788.23H241.00V802.11H241.62V803.47H242.24V805.93H242.86V802.35H243.48V808.77H244.10V809.37H244.72V803.06H245.34V804.82H245.96V814.48H246.58V816.57H247.20V819.97H247.82V818.94H248.44V826.11H249.06V835.87H249.68V829.07H250.30V821.36H250.92V828.64H251.54V844.07H252.16V845.61H252.78V836.75H253.40V840.40H254.02V842.97H254.64V848.23H255.26V847.89H255.88V850.84H256.50V848.59H257.12V847.36H257.74V846.70H258.36V848.39H258.98V855.30H259.60V855.67H260.22V854.96H260.84V853.75H261.46V859.46H262.08V853.97H262.70V854.70H263.32V854.79H263.94V857.66H264.56V852.71H265.18V854.14H265.80V856.85H266.42V855.03H267.04V857.33H267.66V859.72H268.28V859.52H268.90V860.27H269.52V864.71H270.14V860.91H270.76V858.57H271.38V858.93H272.00V862.11H272.62V859.04H273.24V861.63H273.86V864.41H274.48V865.20H275.10V863.15H275.72V864.01H276.34V865.90H276.96V866.60H277.58V866.58H278.20V867.33H278.82V866.76H279.44V869.25H280.06V867.82H280.68V869.57H281.30V868.37H281.92V868.12H282.54V869.50H283.16V867.88H283.78V868.58H284.40V871.18H285.02V872.09H285.64V869.70H286.26V869.83H286.88V871.17H287.50V870.79H288.12V869.64H288.74V870.27H289.36V871.23H289.98V871.42H290.60V872.26H291.22V871.54H291.84V872.54H292.46V872.02H293.08V872.87H293.70V872.51H294.32V871.84H294.94V872.87H295.56V872.87H296.18V870.25H296.80V871.64H297.42V871.64H298.04V874.41H298.66V871.64H299.28V875.80H299.90V874.41H300.52V868.86H301.14V874.41H301.76V874.41H302.38V874.41H303.00V871.64H303.62V874.41H304.24V870.25H304.86V873.02H305.48V874.41H306.10V874.41H306.72V875.80H307.34V874.41H307.96V871.64H308.58V873.02H309.20V874.41H309.82V874.41H310.44V875.80H311.06V873.02H311.68V874.41H312.30V875.80H312.92V875.80H313.54V874.41H314.16V874.41H314.78V873.02H315.40V873.02H316.02V873.02H316.64V874.41H317.26V875.80H317.88V871.64H318.50V874.41H319.12V874.41H319.74V874.41H320.36V873.02H320.98V874.41H321.60V874.41H322.22V875.80H322.84V873.02H323.46V874.41H324.08V874.41H324.70V874.41H325.32V875.80H325.94V875.80H326.56V875.80H327.18V874.41H327.80V873.02H328.42V875.80H329.04V874.41H329.66V874.41H330.28V874.41H330.90V875.80H331.52V875.80H332.14V874.41H332.76V874.41H333.38V875.80H334.00V873.02H334.62V875.80H335.24V875.80H335.86V875.80H336.48V873.02H337.10V874.41H337.72V875.80H338.34V875.80H338.96V875.80H339.58V874.41H340.20V875.80H340.82V875.80H341.44V875.80H342.06V875.80H342.68V875.80H343.30V874.41H343.92V875.80H344.54V874.41H345.16V874.41H345.78V874.41H346.40V875.80H347.02V875.80H347.64V875.80H348.26V875.80H348.88V875.80H349.50V874.41H350.12V875.80H350.74V875.80H351.36V874.41H351.98V874.41H352.60V875.80H353.22V874.41H353.84V875.80H354.46V875.80H355.08V875.80H355.70V875.80H356.32V875.80H356.94V875.80H357.56V875.80H358.18V875.80H358.80V875.80H359.42V874.41H360.04V875.80H360.66V874.41H361.28V874.41H361.90V875.80H362.52V875.80H363.14V875.80H363.76V875.80H364.38V875.80H365.00V875.80H365.62V874.41H366.24V875.80H366.86V875.80H367.48V875.80H368.10V874.41H368.72V875.80H369.34V875.80H369.96V874.41H370.58V874.41H371.20V873.02H371.82V874.41H372.44V875.80H373.06V875.80H373.68V875.80H374.30V875.80H374.92V875.80H375.54V875.80H376.16V875.80H376.78V875.80H377.40V875.80H378.02V875.80H378.64V875.80H379.26V875.80H379.88V875.80H380.50V875.80H381.12V875.80H381.74V875.80H382.36V875.80H382.98V875.80H383.60V875.80H384.22V875.80H384.84V875.80H385.46V875.80H386.08V875.80H386.70V875.80H387.32V875.80H387.94V875.80H388.56V875.80H389.18V875.80H389.80V875.80H390.42V875.80H391.04V875.80H391.66V875.80H392.28V875.80H392.90V875.80H393.52V875.80H394.14V875.80H394.76V875.80H395.38V875.80H396.00V875.80H396.62V875.80H397.24V875.80H397.86V875.80H398.48V875.80H399.10V875.80H399.72V875.80H400.34V875.80H400.96V875.80H401.58V875.80H402.20V875.80H402.82V875.80H403.44V875.80H404.06V875.80H404.68V875.80H405.30V875.80H405.92V875.80H406.54V875.80H407.16V875.80H407.78V875.80H408.40V875.80H409.02V875.80H409.64V875.80H410.26V875.80H410.88V875.80H411.50V875.80H412.12V875.80H412.74V875.80H413.36V875.80H413.98V875.80H414.60V875.80H415.22V875.80H415.84V875.80H416.46V875.80H417.08V875.80H417.70V875.80H418.32V875.80H418.94V875.80H419.56V875.80H420.18V875.80H420.80V875.80H421.42V875.80H422.04V875.80H422.66V875.80H423.28V875.80H423.90V875.80H424.52V875.80H425.14V875.80H425.76V875.80H426.38V875.80H427.00V875.80H427.62V875.80H428.24V875.80H428.86V875.80H429.48V875.80H430.10V875.80H430.72V875.80H431.34V875.80H431.96V875.80H432.58V875.80H433.20V875.80H433.82V875.80H434.44V875.80H435.06V875.80H435.68V875.80H436.30V875.80H436.92V875.80H437.54V875.80H438.16V875.80H438.78V875.80H439.40V875.80H440.02V875.80H440.64V875.80H441.26V875.80H441.88V875.80H442.50V875.80H443.12V875.80H443.74V875.80H444.36V875.80H444.98V875.80H445.60V875.80H446.22V875.80H446.84V875.80H447.46V875.80H448.08V875.80H448.70V875.80H449.32V875.80H449.94V875.80H450.56V875.80H451.18V875.80H451.80V875.80H452.42V875.80H453.04V875.80H453.66V875.80H454.28V875.80H454.90V875.80H455.52V875.80H456.14V875.80H456.76V875.80H457.38V875.80H458.00V875.80H458.62V875.80H459.24V875.80H459.86V875.80H460.48V875.80H461.10V875.80H461.72V875.80H462.34V875.80H462.96V875.80H463.58" fill="none" stroke="#009966" stroke-width="1.9"/>
<path d="M36.40,875.80H37.02V875.80H37.64V875.80H38.26V875.80H38.88V875.80H39.50V875.80H40.12V875.80H40.74V875.80H41.36V875.80H41.98V875.80H42.60V875.80H43.22V875.80H43.84V875.80H44.46V875.80H45.08V875.80H45.70V875.80H46.32V875.80H46.94V875.80H47.56V875.80H48.18V875.80H48.80V875.80H49.42V875.80H50.04V875.80H50.66V875.80H51.28V875.80H51.90V875.80H52.52V875.80H53.14V875.80H53.76V875.80H54.38V875.80H55.00V875.80H55.62V875.80H56.24V875.80H56.86V875.80H57.48V875.80H58.10V875.80H58.72V875.80H59.34V875.80H59.96V875.80H60.58V875.80H61.20V875.80H61.82V875.80H62.44V875.80H63.06V875.80H63.68V875.80H64.30V875.80H64.92V875.80H65.54V875.80H66.16V875.80H66.78V875.80H67.40V875.80H68.02V875.80H68.64V875.80H69.26V875.80H69.88V875.80H70.50V875.80H71.12V875.80H71.74V875.80H72.36V875.80H72.98V875.80H73.60V875.80H74.22V875.80H74.84V875.80H75.46V875.80H76.08V875.80H76.70V875.80H77.32V875.80H77.94V875.80H78.56V875.80H79.18V875.80H79.80V875.80H80.42V875.80H81.04V875.80H81.66V875.80H82.28V875.80H82.90V875.80H83.52V875.80H84.14V875.80H84.76V875.80H85.38V875.80H86.00V875.80H86.62V875.80H87.24V875.80H87.86V875.80H88.48V875.80H89.10V875.80H89.72V875.80H90.34V875.80H90.96V875.80H91.58V875.80H92.20V875.80H92.82V875.80H93.44V875.80H94.06V875.80H94.68V875.80H95.30V875.80H95.92V875.80H96.54V875.80H97.16V875.80H97.78V875.80H98.40V875.80H99.02V875.80H99.64V875.80H100.26V875.80H100.88V875.80H101.50V875.80H102.12V875.80H102.74V875.80H103.36V875.80H103.98V875.80H104.60V875.80H105.22V875.80H105.84V875.80H106.46V875.80H107.08V875.80H107.70V875.80H108.32V875.80H108.94V875.80H109.56V875.80H110.18V875.80H110.80V875.80H111.42V875.80H112.04V875.80H112.66V875.80H113.28V875.80H113.90V875.80H114.52V875.80H115.14V875.80H115.76V874.41H116.38V874.41H117.00V874.41H117.62V874.41H118.24V875.80H118.86V874.41H119.48V875.80H120.10V875.80H120.72V875.80H121.34V875.80H121.96V875.80H122.58V875.80H123.20V875.80H123.82V874.41H124.44V875.80H125.06V875.80H125.68V875.80H126.30V875.80H126.92V873.02H127.54V875.80H128.16V874.41H128.78V873.02H129.40V874.41H130.02V871.64H130.64V874.41H131.26V875.80H131.88V874.41H132.50V875.80H133.12V875.80H133.74V873.02H134.36V874.41H134.98V874.41H135.60V871.64H136.22V871.64H136.84V873.02H137.46V874.41H138.08V871.64H138.70V874.41H139.32V870.25H139.94V873.02H140.56V873.02H141.18V868.86H141.80V873.02H142.42V873.02H143.04V872.36H143.66V873.46H144.28V871.40H144.90V872.06H145.52V871.47H146.14V871.95H146.76V872.98H147.38V872.92H148.00V873.35H148.62V872.37H149.24V873.37H149.86V871.23H150.48V872.33H151.10V871.91H151.72V871.95H152.34V871.15H152.96V871.00H153.58V868.66H154.20V870.46H154.82V871.94H155.44V871.62H156.06V871.55H156.68V869.36H157.30V871.81H157.92V870.63H158.54V870.71H159.16V870.75H159.78V870.85H160.40V871.58H161.02V872.06H161.64V870.89H162.26V871.46H162.88V873.08H163.50V872.07H164.12V870.04H164.74V871.71H165.36V871.32H165.98V870.77H166.60V870.09H167.22V868.78H167.84V869.07H168.46V868.99H169.08V872.38H169.70V870.31H170.32V869.68H170.94V869.36H171.56V870.45H172.18V871.24H172.80V871.43H173.42V870.96H174.04V870.58H174.66V869.50H175.28V869.07H175.90V868.97H176.52V868.36H177.14V870.11H177.76V869.03H178.38V871.80H179.00V870.85H179.62V870.19H180.24V869.24H180.86V870.68H181.48V871.72H182.10V868.95H182.72V868.94H183.34V870.01H183.96V868.86H184.58V868.03H185.20V869.63H185.82V870.17H186.44V871.55H187.06V871.65H187.68V869.99H188.30V868.80H188.92V870.70H189.54V869.99H190.16V870.26H190.78V868.62H191.40V871.20H192.02V871.96H192.64V870.00H193.26V870.19H193.88V872.39H194.50V870.65H195.12V870.70H195.74V870.12H196.36V870.83H196.98V870.22H197.60V868.04H198.22V866.86H198.84V868.11H199.46V868.38H200.08V870.21H200.70V870.88H201.32V870.86H201.94V870.91H202.56V869.07H203.18V865.67H203.80V868.33H204.42V870.27H205.04V869.41H205.66V869.41H206.28V868.57H206.90V870.80H207.52V869.40H208.14V868.74H208.76V868.93H209.38V870.35H210.00V870.46H210.62V870.29H211.24V871.21H211.86V871.56H212.48V868.40H213.10V868.28H213.72V868.92H214.34V868.80H214.96V868.53H215.58V868.86H216.20V869.09H216.82V868.18H217.44V869.54H218.06V869.80H218.68V866.92H219.30V866.25H219.92V866.36H220.54V866.15H221.16V867.59H221.78V868.68H222.40V869.00H223.02V868.06H223.64V868.66H224.26V868.15H224.88V868.78H225.50V866.02H226.12V868.78H226.74V867.61H227.36V866.21H227.98V867.11H228.60V868.69H229.22V867.35H229.84V866.04H230.46V864.59H231.08V865.59H231.70V864.07H232.32V864.37H232.94V864.14H233.56V865.22H234.18V867.71H234.80V864.84H235.42V862.77H236.04V864.63H236.66V865.93H237.28V864.38H237.90V862.98H238.52V863.04H239.14V863.85H239.76V866.19H240.38V864.97H241.00V862.22H241.62V862.46H242.24V864.32H242.86V865.93H243.48V864.90H244.10V863.88H244.72V861.92H245.34V861.87H245.96V860.94H246.58V861.66H247.20V861.18H247.82V860.22H248.44V864.25H249.06V861.37H249.68V862.27H250.30V863.37H250.92V864.94H251.54V863.04H252.16V863.42H252.78V863.49H253.40V859.90H254.02V861.20H254.64V861.38H255.26V864.36H255.88V862.36H256.50V858.15H257.12V862.04H257.74V862.98H258.36V861.11H258.98V860.58H259.60V858.52H260.22V857.04H260.84V857.92H261.46V859.31H262.08V856.64H262.70V855.28H263.32V856.58H263.94V858.74H264.56V857.05H265.18V856.98H265.80V855.78H266.42V857.08H267.04V857.54H267.66V854.63H268.28V853.47H268.90V854.92H269.52V856.06H270.14V851.72H270.76V849.75H271.38V850.22H272.00V848.69H272.62V851.68H273.24V851.21H273.86V846.51H274.48V846.42H275.10V842.94H275.72V844.90H276.34V843.28H276.96V840.32H277.58V844.44H278.20V839.60H278.82V837.89H279.44V837.44H280.06V840.60H280.68V832.47H281.30V831.35H281.92V828.84H282.54V822.70H283.16V821.56H283.78V819.93H284.40V818.27H285.02V814.98H285.64V813.22H286.26V812.99H286.88V810.34H287.50V808.73H288.12V815.03H288.74V812.73H289.36V809.85H289.98V806.60H290.60V807.89H291.22V804.76H291.84V806.84H292.46V797.04H293.08V795.68H293.70V792.11H294.32V795.72H294.94V794.27H295.56V791.13H296.18V799.22H296.80V795.09H297.42V786.85H298.04V783.61H298.66V788.38H299.28V792.54H299.90V772.50H300.52V785.25H301.14V787.95H301.76V789.17H302.38V783.47H303.00V793.43H303.62V789.96H304.24V786.85H304.86V784.30H305.48V787.87H306.10V785.77H306.72V789.32H307.34V789.22H307.96V784.88H308.58V793.78H309.20V789.26H309.82V788.26H310.44V787.64H311.06V792.21H311.68V794.44H312.30V791.52H312.92V787.80H313.54V785.83H314.16V794.25H314.78V801.05H315.40V802.88H316.02V805.65H316.64V804.94H317.26V810.38H317.88V810.86H318.50V811.12H319.12V820.96H319.74V818.06H320.36V818.86H320.98V818.41H321.60V821.60H322.22V823.79H322.84V824.72H323.46V828.25H324.08V832.62H324.70V834.06H325.32V832.69H325.94V834.39H326.56V834.78H327.18V838.30H327.80V838.34H328.42V836.84H329.04V844.04H329.66V845.11H330.28V841.79H330.90V844.75H331.52V843.17H332.14V848.80H332.76V855.02H333.38V854.22H334.00V849.60H334.62V849.68H335.24V852.63H335.86V855.36H336.48V854.20H337.10V854.81H337.72V852.40H338.34V854.79H338.96V853.35H339.58V856.99H340.20V855.27H340.82V855.28H341.44V857.50H342.06V859.77H342.68V858.90H343.30V858.21H343.92V855.38H344.54V855.50H345.16V856.53H345.78V857.50H346.40V858.52H347.02V854.82H347.64V855.73H348.26V857.22H348.88V855.36H349.50V852.71H350.12V856.98H350.74V854.01H351.36V855.54H351.98V856.76H352.60V860.35H353.22V858.53H353.84V858.76H354.46V858.62H355.08V859.62H355.70V860.31H356.32V863.86H356.94V864.75H357.56V864.21H358.18V861.02H358.80V863.94H359.42V866.96H360.04V864.83H360.66V865.54H361.28V866.86H361.90V866.32H362.52V864.08H363.14V863.86H363.76V864.43H364.38V867.11H365.00V866.68H365.62V864.68H366.24V864.81H366.86V866.48H367.48V866.43H368.10V866.50H368.72V868.27H369.34V867.27H369.96V866.38H370.58V866.21H371.20V867.49H371.82V869.13H372.44V867.54H373.06V866.63H373.68V869.95H374.30V870.41H374.92V871.87H375.54V873.02H376.16V871.85H376.78V870.31H377.40V869.40H378.02V870.70H378.64V874.01H379.26V873.50H379.88V872.42H380.50V873.08H381.12V871.28H381.74V870.44H382.36V870.94H382.98V872.37H383.60V872.65H384.22V870.93H384.84V871.89H385.46V872.19H386.08V873.67H386.70V873.50H387.32V875.80H387.94V874.41H388.56V871.64H389.18V875.80H389.80V874.41H390.42V871.64H391.04V874.41H391.66V875.80H392.28V874.41H392.90V873.02H393.52V870.25H394.14V870.25H394.76V873.02H395.38V875.80H396.00V874.41H396.62V875.80H397.24V875.80H397.86V870.25H398.48V875.80H399.10V873.02H399.72V873.02H400.34V874.41H400.96V874.41H401.58V873.02H402.20V873.02H402.82V873.02H403.44V874.41H404.06V874.41H404.68V873.02H405.30V874.41H405.92V871.64H406.54V871.64H407.16V874.41H407.78V875.80H408.40V874.41H409.02V874.41H409.64V874.41H410.26V875.80H410.88V873.02H411.50V874.41H412.12V874.41H412.74V874.41H413.36V874.41H413.98V874.41H414.60V875.80H415.22V875.80H415.84V874.41H416.46V874.41H417.08V875.80H417.70V875.80H418.32V875.80H418.94V875.80H419.56V875.80H420.18V875.80H420.80V875.80H421.42V875.80H422.04V875.80H422.66V875.80H423.28V875.80H423.90V874.41H424.52V875.80H425.14V875.80H425.76V875.80H426.38V875.80H427.00V875.80H427.62V875.80H428.24V875.80H428.86V875.80H429.48V875.80H430.10V875.80H430.72V875.80H431.34V875.80H431.96V875.80H432.58V875.80H433.20V875.80H433.82V875.80H434.44V875.80H435.06V875.80H435.68V875.80H436.30V875.80H436.92V875.80H437.54V875.80H438.16V875.80H438.78V875.80H439.40V875.80H440.02V875.80H440.64V875.80H441.26V875.80H441.88V875.80H442.50V875.80H443.12V875.80H443.74V875.80H444.36V875.80H444.98V875.80H445.60V875.80H446.22V875.80H446.84V875.80H447.46V875.80H448.08V875.80H448.70V875.80H449.32V875.80H449.94V875.80H450.56V875.80H451.18V875.80H451.80V875.80H452.42V875.80H453.04V875.80H453.66V875.80H454.28V875.80H454.90V875.80H455.52V875.80H456.14V875.80H456.76V875.80H457.38V875.80H458.00V875.80H458.62V875.80H459.24V875.80H459.86V875.80H460.48V875.80H461.10V875.80H461.72V875.80H462.34V875.80H462.96V875.80H463.58" fill="none" stroke="#000000" stroke-width="1.9"/>
<text x="236.00" y="956.40" class="cap">(<tspan font-weight="bold" font-size="24.5px">e</tspan>)</text>
<g shape-rendering="crispEdges"><line x1="544.40" y1="652.40" x2="623.00" y2="652.40" stroke="#666" stroke-width="1.3"/><line x1="623.00" y1="652.40" x2="1001.30" y2="652.40" stroke="#a8a8a8" stroke-width="1.3"/><line x1="1000.80" y1="652.40" x2="1000.80" y2="873.30" stroke="#a0a0a0" stroke-width="1"/><line x1="544.40" y1="652.40" x2="544.40" y2="873.80" stroke="#7a8a7a" stroke-width="1"/><line x1="539.60" y1="873.30" x2="543.90" y2="873.30" stroke="#777" stroke-width="1"/><line x1="541.60" y1="864.51" x2="543.90" y2="864.51" stroke="#777" stroke-width="1"/><line x1="541.60" y1="855.72" x2="543.90" y2="855.72" stroke="#777" stroke-width="1"/><line x1="541.60" y1="846.92" x2="543.90" y2="846.92" stroke="#777" stroke-width="1"/><line x1="541.60" y1="838.13" x2="543.90" y2="838.13" stroke="#777" stroke-width="1"/><line x1="539.60" y1="829.34" x2="543.90" y2="829.34" stroke="#777" stroke-width="1"/><line x1="541.60" y1="820.55" x2="543.90" y2="820.55" stroke="#777" stroke-width="1"/><line x1="541.60" y1="811.76" x2="543.90" y2="811.76" stroke="#777" stroke-width="1"/><line x1="541.60" y1="802.96" x2="543.90" y2="802.96" stroke="#777" stroke-width="1"/><line x1="541.60" y1="794.17" x2="543.90" y2="794.17" stroke="#777" stroke-width="1"/><line x1="539.60" y1="785.38" x2="543.90" y2="785.38" stroke="#777" stroke-width="1"/><line x1="541.60" y1="776.59" x2="543.90" y2="776.59" stroke="#777" stroke-width="1"/><line x1="541.60" y1="767.80" x2="543.90" y2="767.80" stroke="#777" stroke-width="1"/><line x1="541.60" y1="759.00" x2="543.90" y2="759.00" stroke="#777" stroke-width="1"/><line x1="541.60" y1="750.21" x2="543.90" y2="750.21" stroke="#777" stroke-width="1"/><line x1="539.60" y1="741.42" x2="543.90" y2="741.42" stroke="#777" stroke-width="1"/><line x1="541.60" y1="732.63" x2="543.90" y2="732.63" stroke="#777" stroke-width="1"/><line x1="541.60" y1="723.84" x2="543.90" y2="723.84" stroke="#777" stroke-width="1"/><line x1="541.60" y1="715.04" x2="543.90" y2="715.04" stroke="#777" stroke-width="1"/><line x1="541.60" y1="706.25" x2="543.90" y2="706.25" stroke="#777" stroke-width="1"/><line x1="539.60" y1="697.46" x2="543.90" y2="697.46" stroke="#777" stroke-width="1"/><line x1="541.60" y1="688.67" x2="543.90" y2="688.67" stroke="#777" stroke-width="1"/><line x1="541.60" y1="679.88" x2="543.90" y2="679.88" stroke="#777" stroke-width="1"/><line x1="541.60" y1="671.08" x2="543.90" y2="671.08" stroke="#777" stroke-width="1"/><line x1="541.60" y1="662.29" x2="543.90" y2="662.29" stroke="#777" stroke-width="1"/><line x1="539.60" y1="653.50" x2="543.90" y2="653.50" stroke="#777" stroke-width="1"/><line x1="545.40" y1="874.60" x2="545.40" y2="878.80" stroke="#808080" stroke-width="1"/><line x1="579.69" y1="874.60" x2="579.69" y2="876.60" stroke="#9a9a9a" stroke-width="1"/><line x1="599.74" y1="874.60" x2="599.74" y2="876.60" stroke="#9a9a9a" stroke-width="1"/><line x1="613.97" y1="874.60" x2="613.97" y2="876.60" stroke="#9a9a9a" stroke-width="1"/><line x1="625.01" y1="874.60" x2="625.01" y2="876.60" stroke="#9a9a9a" stroke-width="1"/><line x1="634.03" y1="874.60" x2="634.03" y2="876.60" stroke="#9a9a9a" stroke-width="1"/><line x1="641.66" y1="874.60" x2="641.66" y2="876.60" stroke="#9a9a9a" stroke-width="1"/><line x1="648.26" y1="874.60" x2="648.26" y2="876.60" stroke="#9a9a9a" stroke-width="1"/><line x1="654.09" y1="874.60" x2="654.09" y2="876.60" stroke="#9a9a9a" stroke-width="1"/><line x1="659.30" y1="874.60" x2="659.30" y2="878.80" stroke="#808080" stroke-width="1"/><line x1="693.59" y1="874.60" x2="693.59" y2="876.60" stroke="#9a9a9a" stroke-width="1"/><line x1="713.64" y1="874.60" x2="713.64" y2="876.60" stroke="#9a9a9a" stroke-width="1"/><line x1="727.87" y1="874.60" x2="727.87" y2="876.60" stroke="#9a9a9a" stroke-width="1"/><line x1="738.91" y1="874.60" x2="738.91" y2="876.60" stroke="#9a9a9a" stroke-width="1"/><line x1="747.93" y1="874.60" x2="747.93" y2="876.60" stroke="#9a9a9a" stroke-width="1"/><line x1="755.56" y1="874.60" x2="755.56" y2="876.60" stroke="#9a9a9a" stroke-width="1"/><line x1="762.16" y1="874.60" x2="762.16" y2="876.60" stroke="#9a9a9a" stroke-width="1"/><line x1="767.99" y1="874.60" x2="767.99" y2="876.60" stroke="#9a9a9a" stroke-width="1"/><line x1="773.20" y1="874.60" x2="773.20" y2="878.80" stroke="#808080" stroke-width="1"/><line x1="807.49" y1="874.60" x2="807.49" y2="876.60" stroke="#9a9a9a" stroke-width="1"/><line x1="827.54" y1="874.60" x2="827.54" y2="876.60" stroke="#9a9a9a" stroke-width="1"/><line x1="841.77" y1="874.60" x2="841.77" y2="876.60" stroke="#9a9a9a" stroke-width="1"/><line x1="852.81" y1="874.60" x2="852.81" y2="876.60" stroke="#9a9a9a" stroke-width="1"/><line x1="861.83" y1="874.60" x2="861.83" y2="876.60" stroke="#9a9a9a" stroke-width="1"/><line x1="869.46" y1="874.60" x2="869.46" y2="876.60" stroke="#9a9a9a" stroke-width="1"/><line x1="876.06" y1="874.60" x2="876.06" y2="876.60" stroke="#9a9a9a" stroke-width="1"/><line x1="881.89" y1="874.60" x2="881.89" y2="876.60" stroke="#9a9a9a" stroke-width="1"/><line x1="887.10" y1="874.60" x2="887.10" y2="878.80" stroke="#808080" stroke-width="1"/><line x1="921.39" y1="874.60" x2="921.39" y2="876.60" stroke="#9a9a9a" stroke-width="1"/><line x1="941.44" y1="874.60" x2="941.44" y2="876.60" stroke="#9a9a9a" stroke-width="1"/><line x1="955.67" y1="874.60" x2="955.67" y2="876.60" stroke="#9a9a9a" stroke-width="1"/><line x1="966.71" y1="874.60" x2="966.71" y2="876.60" stroke="#9a9a9a" stroke-width="1"/><line x1="975.73" y1="874.60" x2="975.73" y2="876.60" stroke="#9a9a9a" stroke-width="1"/><line x1="983.36" y1="874.60" x2="983.36" y2="876.60" stroke="#9a9a9a" stroke-width="1"/><line x1="989.96" y1="874.60" x2="989.96" y2="876.60" stroke="#9a9a9a" stroke-width="1"/><line x1="995.79" y1="874.60" x2="995.79" y2="876.60" stroke="#9a9a9a" stroke-width="1"/><line x1="1001.00" y1="874.60" x2="1001.00" y2="878.80" stroke="#808080" stroke-width="1"/></g>
<text x="531.70" y="873.30" transform="rotate(-90 531.70 873.30)" class="yl" letter-spacing="0">0</text>
<text x="531.70" y="827.54" transform="rotate(-90 531.70 827.54)" class="yl" letter-spacing="3.6">40</text>
<text x="531.70" y="783.58" transform="rotate(-90 531.70 783.58)" class="yl" letter-spacing="3.6">80</text>
<text x="531.70" y="739.62" transform="rotate(-90 531.70 739.62)" class="yl" letter-spacing="3.6">120</text>
<text x="531.70" y="695.66" transform="rotate(-90 531.70 695.66)" class="yl" letter-spacing="3.6">160</text>
<text x="531.70" y="651.70" transform="rotate(-90 531.70 651.70)" class="yl" letter-spacing="3.6">200</text>
<text x="520.00" y="765.50" transform="rotate(-90 520.00 765.50)" class="yl" textLength="46.8" lengthAdjust="spacing">Counts</text>
<text x="546.00" y="894.60" class="xl n">10<tspan dx="0.0" dy="-5.9" class="sup">0</tspan></text>
<text x="659.90" y="894.60" class="xl n">10<tspan dx="0.0" dy="-5.9" class="sup">1</tspan></text>
<text x="773.80" y="894.60" class="xl n">10<tspan dx="0.0" dy="-5.9" class="sup">2</tspan></text>
<text x="887.70" y="894.60" class="xl n">10<tspan dx="0.0" dy="-5.9" class="sup">3</tspan></text>
<text x="1001.60" y="894.60" class="xl n">10<tspan dx="0.0" dy="-5.9" class="sup">4</tspan></text>
<text x="774.00" y="907.90" class="xl n">FL2-H</text>
<path d="M547.10,873.30H547.72V873.30H548.34V866.65H548.96V864.33H549.58V862.62H550.20V855.73H550.82V850.88H551.44V853.69H552.06V859.45H552.68V854.30H553.30V855.08H553.92V853.21H554.54V852.30H555.16V843.81H555.78V850.90H556.40V838.89H557.02V835.43H557.64V843.61H558.26V845.46H558.88V838.17H559.50V843.17H560.12V849.91H560.74V842.69H561.36V837.46H561.98V829.26H562.60V832.00H563.22V834.77H563.84V835.53H564.46V816.68H565.08V822.52H565.70V831.96H566.32V820.45H566.94V818.78H567.56V814.94H568.18V807.31H568.80V801.09H569.42V808.86H570.04V789.41H570.66V788.42H571.28V786.02H571.90V781.22H572.52V788.82H573.14V779.86H573.76V780.67H574.38V781.69H575.00V779.40H575.62V782.58H576.24V760.81H576.86V765.47H577.48V753.99H578.10V748.86H578.72V757.06H579.34V755.08H579.96V760.11H580.58V753.44H581.20V747.82H581.82V758.62H582.44V749.46H583.06V750.35H583.68V747.92H584.30V750.50H584.92V753.37H585.54V728.50H586.16V746.88H586.78V749.45H587.40V746.28H588.02V744.81H588.64V741.37H589.26V742.59H589.88V748.73H590.50V758.69H591.12V760.55H591.74V758.58H592.36V758.61H592.98V772.15H593.60V771.52H594.22V774.44H594.84V780.12H595.46V788.21H596.08V796.74H596.70V798.75H597.32V795.59H597.94V782.60H598.56V788.66H599.18V793.49H599.80V801.70H600.42V807.45H601.04V806.83H601.66V812.28H602.28V806.17H602.90V810.94H603.52V814.27H604.14V808.86H604.76V807.72H605.38V818.14H606.00V823.05H606.62V824.66H607.24V820.54H607.86V825.65H608.48V835.30H609.10V824.08H609.72V827.94H610.34V827.04H610.96V827.99H611.58V829.88H612.20V829.47H612.82V837.05H613.44V844.46H614.06V842.06H614.68V838.15H615.30V843.97H615.92V839.78H616.54V840.07H617.16V836.72H617.78V837.04H618.40V843.27H619.02V852.29H619.64V852.25H620.26V852.46H620.88V850.15H621.50V852.63H622.12V854.11H622.74V851.24H623.36V852.31H623.98V857.26H624.60V853.27H625.22V858.17H625.84V862.34H626.46V858.94H627.08V856.95H627.70V852.77H628.32V860.27H628.94V866.62H629.56V862.92H630.18V860.01H630.80V862.01H631.42V862.80H632.04V863.23H632.66V867.35H633.28V867.81H633.90V862.21H634.52V863.63H635.14V866.04H635.76V866.05H636.38V865.03H637.00V867.80H637.62V867.67H638.24V862.62H638.86V864.19H639.48V863.53H640.10V863.90H640.72V865.10H641.34V865.50H641.96V869.37H642.58V870.32H643.20V868.33H643.82V865.42H644.44V868.16H645.06V867.77H645.68V865.80H646.30V865.12H646.92V865.82H647.54V865.57H648.16V866.45H648.78V865.54H649.40V866.11H650.02V869.00H650.64V867.69H651.26V867.74H651.88V868.59H652.50V868.28H653.12V869.09H653.74V867.97H654.36V869.75H654.98V867.25H655.60V865.38H656.22V866.08H656.84V869.09H657.46V868.76H658.08V870.88H658.70V869.66H659.32V869.27H659.94V869.44H660.56V869.72H661.18V870.73H661.80V870.16H662.42V868.75H663.04V867.92H663.66V867.46H664.28V869.19H664.90V869.90H665.52V869.94H666.14V870.40H666.76V869.54H667.38V869.43H668.00V870.51H668.62V870.57H669.24V868.27H669.86V870.42H670.48V867.78H671.10V866.40H671.72V867.78H672.34V870.54H672.96V873.30H673.58V871.92H674.20V869.16H674.82V871.92H675.44V870.54H676.06V871.92H676.68V867.78H677.30V870.54H677.92V870.54H678.54V869.16H679.16V867.78H679.78V873.30H680.40V867.78H681.02V873.30H681.64V871.92H682.26V871.92H682.88V873.30H683.50V871.92H684.12V871.92H684.74V873.30H685.36V871.92H685.98V871.92H686.60V870.54H687.22V873.30H687.84V867.78H688.46V869.16H689.08V873.30H689.70V870.54H690.32V873.30H690.94V871.92H691.56V870.54H692.18V871.92H692.80V871.92H693.42V873.30H694.04V873.30H694.66V873.30H695.28V871.92H695.90V873.30H696.52V871.92H697.14V873.30H697.76V873.30H698.38V873.30H699.00V873.30H699.62V873.30H700.24V873.30H700.86V873.30H701.48V873.30H702.10V873.30H702.72V873.30H703.34V873.30H703.96V873.30H704.58V873.30H705.20V873.30H705.82V873.30H706.44V873.30H707.06V873.30H707.68V873.30H708.30V873.30H708.92V873.30H709.54V873.30H710.16V873.30H710.78V873.30H711.40V873.30H712.02V873.30H712.64V873.30H713.26V873.30H713.88V873.30H714.50V873.30H715.12V873.30H715.74V873.30H716.36V873.30H716.98V873.30H717.60V873.30H718.22V873.30H718.84V873.30H719.46V873.30H720.08V873.30H720.70V873.30H721.32V873.30H721.94V873.30H722.56V873.30H723.18V873.30H723.80V873.30H724.42V873.30H725.04V873.30H725.66V873.30H726.28V873.30H726.90V873.30H727.52V873.30H728.14V873.30H728.76V873.30H729.38V873.30H730.00V873.30H730.62V873.30H731.24V873.30H731.86V873.30H732.48V873.30H733.10V873.30H733.72V873.30H734.34V873.30H734.96V873.30H735.58V873.30H736.20V873.30H736.82V873.30H737.44V873.30H738.06V873.30H738.68V873.30H739.30V873.30H739.92V873.30H740.54V873.30H741.16V873.30H741.78V873.30H742.40V873.30H743.02V873.30H743.64V873.30H744.26V873.30H744.88V873.30H745.50V873.30H746.12V873.30H746.74V873.30H747.36V873.30H747.98V873.30H748.60V873.30H749.22V873.30H749.84V873.30H750.46V873.30H751.08V873.30H751.70V873.30H752.32V873.30H752.94V873.30H753.56V873.30H754.18V873.30H754.80V873.30H755.42V873.30H756.04V873.30H756.66V873.30H757.28V873.30H757.90V873.30H758.52V873.30H759.14V873.30H759.76V873.30H760.38V873.30H761.00V873.30H761.62V873.30H762.24V873.30H762.86V873.30H763.48V873.30H764.10V873.30H764.72V873.30H765.34V873.30H765.96V873.30H766.58V873.30H767.20V873.30H767.82V873.30H768.44V873.30H769.06V873.30H769.68V873.30H770.30V873.30H770.92V873.30H771.54V873.30H772.16V873.30H772.78V873.30H773.40V873.30H774.02V873.30H774.64V873.30H775.26V873.30H775.88V873.30H776.50V873.30H777.12V873.30H777.74V873.30H778.36V873.30H778.98V873.30H779.60V873.30H780.22V873.30H780.84V873.30H781.46V873.30H782.08V873.30H782.70V873.30H783.32V873.30H783.94V873.30H784.56V873.30H785.18V873.30H785.80V873.30H786.42V873.30H787.04V873.30H787.66V873.30H788.28V873.30H788.90V873.30H789.52V873.30H790.14V873.30H790.76V873.30H791.38V873.30H792.00V873.30H792.62V873.30H793.24V873.30H793.86V873.30H794.48V873.30H795.10V873.30H795.72V873.30H796.34V873.30H796.96V873.30H797.58V873.30H798.20V873.30H798.82V873.30H799.44V873.30H800.06V873.30H800.68V873.30H801.30V873.30H801.92V873.30H802.54V873.30H803.16V873.30H803.78V873.30H804.40V873.30H805.02V873.30H805.64V873.30H806.26V873.30H806.88V873.30H807.50V873.30H808.12V873.30H808.74V873.30H809.36V873.30H809.98V873.30H810.60V873.30H811.22V873.30H811.84V873.30H812.46V873.30H813.08V873.30H813.70V873.30H814.32V873.30H814.94V873.30H815.56V873.30H816.18V873.30H816.80V873.30H817.42V873.30H818.04V873.30H818.66V873.30H819.28V873.30H819.90V873.30H820.52V873.30H821.14V873.30H821.76V873.30H822.38V873.30H823.00V873.30H823.62V873.30H824.24V873.30H824.86V873.30H825.48V873.30H826.10V873.30H826.72V873.30H827.34V873.30H827.96V873.30H828.58V873.30H829.20V873.30H829.82V873.30H830.44V873.30H831.06V873.30H831.68V873.30H832.30V873.30H832.92V873.30H833.54V873.30H834.16V873.30H834.78V873.30H835.40V873.30H836.02V873.30H836.64V873.30H837.26V873.30H837.88V873.30H838.50V873.30H839.12V873.30H839.74V873.30H840.36V873.30H840.98V873.30H841.60V873.30H842.22V873.30H842.84V873.30H843.46V873.30H844.08V873.30H844.70V873.30H845.32V873.30H845.94V873.30H846.56V873.30H847.18V873.30H847.80V873.30H848.42V873.30H849.04V873.30H849.66V873.30H850.28V873.30H850.90V873.30H851.52V873.30H852.14V873.30H852.76V873.30H853.38V873.30H854.00V873.30H854.62V873.30H855.24V873.30H855.86V873.30H856.48V873.30H857.10V873.30H857.72V873.30H858.34V873.30H858.96V873.30H859.58V873.30H860.20V873.30H860.82V873.30H861.44V873.30H862.06V873.30H862.68V873.30H863.30V873.30H863.92V873.30H864.54V873.30H865.16V873.30H865.78V873.30H866.40V873.30H867.02V873.30H867.64V873.30H868.26V873.30H868.88V873.30H869.50V873.30H870.12V873.30H870.74V873.30H871.36V873.30H871.98V873.30H872.60V873.30H873.22V873.30H873.84V873.30H874.46V873.30H875.08V873.30H875.70V873.30H876.32V873.30H876.94V873.30H877.56V873.30H878.18V873.30H878.80V873.30H879.42V873.30H880.04V873.30H880.66V873.30H881.28V873.30H881.90V873.30H882.52V873.30H883.14V873.30H883.76V873.30H884.38V873.30H885.00V873.30H885.62V873.30H886.24V873.30H886.86V873.30H887.48V873.30H888.10V873.30H888.72V873.30H889.34V873.30H889.96V873.30H890.58V873.30H891.20V873.30H891.82V873.30H892.44V873.30H893.06V873.30H893.68V873.30H894.30V873.30H894.92V873.30H895.54V873.30H896.16V873.30H896.78V873.30H897.40V873.30H898.02V873.30H898.64V873.30H899.26V873.30H899.88V873.30H900.50V873.30H901.12V873.30H901.74V873.30H902.36V873.30H902.98V873.30H903.60V873.30H904.22V873.30H904.84V873.30H905.46V873.30H906.08V873.30H906.70V873.30H907.32V873.30H907.94V873.30H908.56V873.30H909.18V873.30H909.80V873.30H910.42V873.30H911.04V873.30H911.66V873.30H912.28V873.30H912.90V873.30H913.52V873.30H914.14V873.30H914.76V873.30H915.38V873.30H916.00V873.30H916.62V873.30H917.24V873.30H917.86V873.30H918.48V873.30H919.10V873.30H919.72V873.30H920.34V873.30H920.96V873.30H921.58V873.30H922.20V873.30H922.82V873.30H923.44V873.30H924.06V873.30H924.68V873.30H925.30V873.30H925.92V873.30H926.54V873.30H927.16V873.30H927.78V873.30H928.40V873.30H929.02V873.30H929.64V873.30H930.26V873.30H930.88V873.30H931.50V873.30H932.12V873.30H932.74V873.30H933.36V873.30H933.98V873.30H934.60V873.30H935.22V873.30H935.84V873.30H936.46V873.30H937.08V873.30H937.70V873.30H938.32V873.30H938.94V873.30H939.56V873.30H940.18V873.30H940.80V873.30H941.42V873.30H942.04V873.30H942.66V873.30H943.28V873.30H943.90V873.30H944.52V873.30H945.14V873.30H945.76V873.30H946.38V873.30H947.00V873.30H947.62V873.30H948.24V873.30H948.86V873.30H949.48V873.30H950.10V873.30H950.72V873.30H951.34V873.30H951.96V873.30H952.58V873.30H953.20V873.30H953.82V873.30H954.44V873.30H955.06V873.30H955.68V873.30H956.30V873.30H956.92V873.30H957.54V873.30H958.16V873.30H958.78V873.30H959.40V873.30H960.02V873.30H960.64V873.30H961.26V873.30H961.88V873.30H962.50V873.30H963.12V873.30H963.74V873.30H964.36V873.30H964.98V873.30H965.60V873.30H966.22V873.30H966.84V873.30H967.46V873.30H968.08V873.30H968.70V873.30H969.32V873.30H969.94V873.30H970.56V873.30H971.18V873.30H971.80V873.30H972.42V873.30H973.04V873.30H973.66V873.30H974.28V873.30H974.90V873.30H975.52V873.30H976.14V873.30H976.76V873.30H977.38V873.30H978.00V873.30H978.62V873.30H979.24V873.30H979.86V873.30H980.48V873.30H981.10V873.30H981.72V873.30H982.34V873.30H982.96V873.30H983.58V873.30H984.20V873.30H984.82V873.30H985.44V873.30H986.06V873.30H986.68V873.30H987.30V873.30H987.92V873.30H988.54V873.30H989.16V873.30H989.78V873.30H990.40V873.30H991.02V873.30H991.64V873.30H992.26V873.30H992.88V873.30H993.50V873.30H994.12V873.30H994.74V873.30H995.36V873.30H995.98V873.30H996.60V873.30H997.22V873.30H997.84V873.30H998.46V873.30H999.08V873.30H999.70V873.30H1000.32V873.30H1000.94" fill="none" stroke="#ff1a99" stroke-width="1.05"/>
<rect x="545" y="652.40" width="2" height="221.40" fill="#ff2a9d" shape-rendering="crispEdges"/>
<rect x="546" y="759.00" width="2" height="114.80" fill="#ff1a99" shape-rendering="crispEdges"/>
<path d="M547.10,869.16H547.72V873.30H548.34V870.54H548.96V869.16H549.58V866.40H550.20V870.54H550.82V873.30H551.44V867.78H552.06V873.30H552.68V870.54H553.30V869.16H553.92V870.54H554.54V870.54H555.16V870.54H555.78V867.78H556.40V873.30H557.02V869.16H557.64V871.92H558.26V867.78H558.88V870.54H559.50V870.54H560.12V871.92H560.74V871.92H561.36V871.92H561.98V869.16H562.60V871.92H563.22V870.54H563.84V870.54H564.46V871.92H565.08V871.92H565.70V870.54H566.32V869.16H566.94V866.40H567.56V871.92H568.18V870.54H568.80V868.69H569.42V868.60H570.04V868.49H570.66V867.89H571.28V868.01H571.90V869.46H572.52V869.84H573.14V869.03H573.76V869.15H574.38V870.03H575.00V869.15H575.62V868.48H576.24V868.95H576.86V869.43H577.48V868.20H578.10V868.10H578.72V868.44H579.34V867.87H579.96V869.19H580.58V868.33H581.20V867.90H581.82V869.04H582.44V869.52H583.06V869.31H583.68V867.13H584.30V867.62H584.92V866.69H585.54V866.28H586.16V867.64H586.78V869.36H587.40V869.80H588.02V867.69H588.64V868.30H589.26V869.02H589.88V868.69H590.50V868.35H591.12V868.77H591.74V869.77H592.36V868.74H592.98V867.72H593.60V868.83H594.22V866.99H594.84V866.81H595.46V868.42H596.08V866.72H596.70V868.90H597.32V867.59H597.94V867.97H598.56V867.80H599.18V870.22H599.80V870.93H600.42V870.76H601.04V871.94H601.66V870.60H602.28V867.79H602.90V869.77H603.52V870.85H604.14V868.98H604.76V868.25H605.38V868.62H606.00V868.62H606.62V869.01H607.24V867.29H607.86V867.34H608.48V866.97H609.10V868.20H609.72V868.26H610.34V867.86H610.96V868.27H611.58V868.08H612.20V868.77H612.82V869.49H613.44V870.53H614.06V868.92H614.68V867.79H615.30V867.59H615.92V868.70H616.54V870.56H617.16V869.08H617.78V868.62H618.40V868.61H619.02V867.00H619.64V868.51H620.26V868.74H620.88V868.01H621.50V868.50H622.12V868.84H622.74V868.26H623.36V870.06H623.98V869.48H624.60V866.69H625.22V868.02H625.84V869.23H626.46V870.01H627.08V870.67H627.70V869.80H628.32V868.22H628.94V869.05H629.56V869.98H630.18V868.10H630.80V867.10H631.42V869.24H632.04V868.11H632.66V867.18H633.28V867.97H633.90V868.90H634.52V868.19H635.14V867.81H635.76V869.29H636.38V869.08H637.00V868.67H637.62V868.47H638.24V869.40H638.86V867.64H639.48V868.85H640.10V867.22H640.72V869.22H641.34V868.60H641.96V870.16H642.58V868.26H643.20V869.04H643.82V870.86H644.44V868.68H645.06V869.91H645.68V870.57H646.30V870.29H646.92V868.76H647.54V870.07H648.16V870.70H648.78V867.14H649.40V867.50H650.02V868.06H650.64V867.85H651.26V869.84H651.88V869.08H652.50V869.04H653.12V869.16H653.74V869.34H654.36V869.55H654.98V868.97H655.60V869.99H656.22V870.96H656.84V869.82H657.46V868.67H658.08V869.33H658.70V867.99H659.32V870.20H659.94V868.48H660.56V869.42H661.18V867.54H661.80V869.41H662.42V868.72H663.04V868.77H663.66V869.68H664.28V869.62H664.90V868.23H665.52V867.90H666.14V869.39H666.76V869.70H667.38V868.35H668.00V869.19H668.62V871.16H669.24V867.37H669.86V868.29H670.48V867.48H671.10V868.30H671.72V868.50H672.34V867.52H672.96V868.73H673.58V869.63H674.20V868.71H674.82V868.00H675.44V869.46H676.06V868.91H676.68V869.29H677.30V869.92H677.92V870.17H678.54V869.06H679.16V868.76H679.78V869.75H680.40V869.42H681.02V869.23H681.64V869.62H682.26V869.16H682.88V869.04H683.50V869.51H684.12V868.73H684.74V868.29H685.36V870.16H685.98V869.68H686.60V870.30H687.22V869.00H687.84V868.52H688.46V868.90H689.08V868.61H689.70V868.14H690.32V868.95H690.94V869.33H691.56V869.66H692.18V869.24H692.80V869.39H693.42V869.11H694.04V870.55H694.66V869.19H695.28V869.98H695.90V869.71H696.52V870.12H697.14V870.01H697.76V869.16H698.38V869.86H699.00V868.28H699.62V868.44H700.24V868.41H700.86V870.03H701.48V871.22H702.10V869.60H702.72V870.12H703.34V869.04H703.96V870.79H704.58V869.53H705.20V870.04H705.82V869.76H706.44V869.76H707.06V870.82H707.68V870.48H708.30V870.54H708.92V869.46H709.54V867.82H710.16V870.25H710.78V871.11H711.40V869.91H712.02V867.92H712.64V869.74H713.26V870.43H713.88V868.89H714.50V869.22H715.12V869.68H715.74V868.89H716.36V868.97H716.98V868.41H717.60V868.10H718.22V868.58H718.84V868.16H719.46V866.61H720.08V866.91H720.70V867.82H721.32V869.57H721.94V869.93H722.56V869.26H723.18V868.58H723.80V869.47H724.42V868.54H725.04V866.84H725.66V867.02H726.28V867.95H726.90V867.23H727.52V867.15H728.14V867.12H728.76V865.76H729.38V863.29H730.00V862.61H730.62V863.99H731.24V860.70H731.86V860.34H732.48V854.96H733.10V851.78H733.72V845.86H734.34V845.96H734.96V846.50H735.58V843.55H736.20V841.97H736.82V839.34H737.44V837.68H738.06V832.82H738.68V833.08H739.30V835.54H739.92V836.72H740.54V823.94H741.16V818.75H741.78V820.11H742.40V816.75H743.02V814.79H743.64V812.53H744.26V808.34H744.88V802.32H745.50V789.90H746.12V785.01H746.74V786.48H747.36V782.71H747.98V781.92H748.60V776.87H749.22V768.11H749.84V762.41H750.46V754.04H751.08V746.66H751.70V748.72H752.32V753.04H752.94V741.09H753.56V737.06H754.18V738.31H754.80V740.38H755.42V732.05H756.04V740.06H756.66V747.89H757.28V736.51H757.90V743.55H758.52V741.29H759.14V745.23H759.76V731.90H760.38V729.13H761.00V723.36H761.62V727.89H762.24V731.43H762.86V719.64H763.48V727.07H764.10V732.03H764.72V720.00H765.34V731.56H765.96V740.92H766.58V747.00H767.20V751.64H767.82V746.11H768.44V741.04H769.06V749.14H769.68V766.92H770.30V758.35H770.92V761.98H771.54V771.35H772.16V766.84H772.78V767.25H773.40V771.95H774.02V778.11H774.64V785.69H775.26V788.79H775.88V792.71H776.50V795.20H777.12V798.41H777.74V797.63H778.36V808.65H778.98V815.95H779.60V810.71H780.22V811.31H780.84V816.70H781.46V819.26H782.08V820.30H782.70V828.09H783.32V829.10H783.94V831.27H784.56V837.31H785.18V833.48H785.80V834.78H786.42V836.68H787.04V839.45H787.66V837.97H788.28V845.67H788.90V847.32H789.52V852.12H790.14V854.60H790.76V853.81H791.38V851.50H792.00V855.40H792.62V857.37H793.24V860.13H793.86V860.90H794.48V857.28H795.10V859.26H795.72V859.65H796.34V862.12H796.96V861.13H797.58V861.86H798.20V865.37H798.82V866.27H799.44V866.20H800.06V867.59H800.68V867.42H801.30V869.09H801.92V867.77H802.54V867.41H803.16V867.80H803.78V867.54H804.40V867.79H805.02V868.42H805.64V868.96H806.26V870.50H806.88V869.99H807.50V869.16H808.12V871.92H808.74V867.78H809.36V869.16H809.98V873.30H810.60V871.92H811.22V865.02H811.84V870.54H812.46V871.92H813.08V870.54H813.70V873.30H814.32V871.92H814.94V873.30H815.56V873.30H816.18V873.30H816.80V873.30H817.42V865.02H818.04V870.54H818.66V871.92H819.28V873.30H819.90V871.92H820.52V873.30H821.14V871.92H821.76V873.30H822.38V870.54H823.00V871.92H823.62V873.30H824.24V873.30H824.86V873.30H825.48V870.54H826.10V873.30H826.72V873.30H827.34V873.30H827.96V873.30H828.58V873.30H829.20V871.92H829.82V871.92H830.44V873.30H831.06V871.92H831.68V873.30H832.30V873.30H832.92V873.30H833.54V871.92H834.16V871.92H834.78V871.92H835.40V873.30H836.02V873.30H836.64V873.30H837.26V873.30H837.88V871.92H838.50V873.30H839.12V871.92H839.74V873.30H840.36V873.30H840.98V873.30H841.60V873.30H842.22V873.30H842.84V873.30H843.46V873.30H844.08V873.30H844.70V873.30H845.32V873.30H845.94V873.30H846.56V873.30H847.18V873.30H847.80V873.30H848.42V873.30H849.04V873.30H849.66V873.30H850.28V873.30H850.90V873.30H851.52V873.30H852.14V873.30H852.76V873.30H853.38V873.30H854.00V873.30H854.62V873.30H855.24V873.30H855.86V873.30H856.48V873.30H857.10V873.30H857.72V873.30H858.34V873.30H858.96V873.30H859.58V873.30H860.20V873.30H860.82V873.30H861.44V873.30H862.06V873.30H862.68V873.30H863.30V873.30H863.92V873.30H864.54V873.30H865.16V873.30H865.78V873.30H866.40V873.30H867.02V873.30H867.64V873.30H868.26V873.30H868.88V873.30H869.50V873.30H870.12V873.30H870.74V873.30H871.36V873.30H871.98V873.30H872.60V873.30H873.22V873.30H873.84V873.30H874.46V873.30H875.08V873.30H875.70V873.30H876.32V873.30H876.94V873.30H877.56V873.30H878.18V873.30H878.80V873.30H879.42V873.30H880.04V873.30H880.66V873.30H881.28V873.30H881.90V873.30H882.52V873.30H883.14V873.30H883.76V873.30H884.38V873.30H885.00V873.30H885.62V873.30H886.24V873.30H886.86V873.30H887.48V873.30H888.10V873.30H888.72V873.30H889.34V873.30H889.96V873.30H890.58V873.30H891.20V873.30H891.82V873.30H892.44V873.30H893.06V873.30H893.68V873.30H894.30V873.30H894.92V873.30H895.54V873.30H896.16V873.30H896.78V873.30H897.40V873.30H898.02V873.30H898.64V873.30H899.26V873.30H899.88V873.30H900.50V873.30H901.12V873.30H901.74V873.30H902.36V873.30H902.98V873.30H903.60V873.30H904.22V873.30H904.84V873.30H905.46V873.30H906.08V873.30H906.70V873.30H907.32V873.30H907.94V873.30H908.56V873.30H909.18V873.30H909.80V873.30H910.42V873.30H911.04V873.30H911.66V873.30H912.28V873.30H912.90V873.30H913.52V873.30H914.14V873.30H914.76V873.30H915.38V873.30H916.00V873.30H916.62V873.30H917.24V873.30H917.86V873.30H918.48V873.30H919.10V873.30H919.72V873.30H920.34V873.30H920.96V873.30H921.58V873.30H922.20V873.30H922.82V873.30H923.44V873.30H924.06V873.30H924.68V873.30H925.30V873.30H925.92V873.30H926.54V873.30H927.16V873.30H927.78V873.30H928.40V873.30H929.02V873.30H929.64V873.30H930.26V873.30H930.88V873.30H931.50V873.30H932.12V873.30H932.74V873.30H933.36V873.30H933.98V873.30H934.60V873.30H935.22V873.30H935.84V873.30H936.46V873.30H937.08V873.30H937.70V873.30H938.32V873.30H938.94V873.30H939.56V873.30H940.18V873.30H940.80V873.30H941.42V873.30H942.04V873.30H942.66V873.30H943.28V873.30H943.90V873.30H944.52V873.30H945.14V873.30H945.76V873.30H946.38V873.30H947.00V873.30H947.62V873.30H948.24V873.30H948.86V873.30H949.48V873.30H950.10V873.30H950.72V873.30H951.34V873.30H951.96V873.30H952.58V873.30H953.20V873.30H953.82V873.30H954.44V873.30H955.06V873.30H955.68V873.30H956.30V873.30H956.92V873.30H957.54V873.30H958.16V873.30H958.78V873.30H959.40V873.30H960.02V873.30H960.64V873.30H961.26V873.30H961.88V873.30H962.50V873.30H963.12V873.30H963.74V873.30H964.36V873.30H964.98V873.30H965.60V873.30H966.22V873.30H966.84V873.30H967.46V873.30H968.08V873.30H968.70V873.30H969.32V873.30H969.94V873.30H970.56V873.30H971.18V873.30H971.80V873.30H972.42V873.30H973.04V873.30H973.66V873.30H974.28V873.30H974.90V873.30H975.52V873.30H976.14V873.30H976.76V873.30H977.38V873.30H978.00V873.30H978.62V873.30H979.24V873.30H979.86V873.30H980.48V873.30H981.10V873.30H981.72V873.30H982.34V873.30H982.96V873.30H983.58V873.30H984.20V873.30H984.82V873.30H985.44V873.30H986.06V873.30H986.68V873.30H987.30V873.30H987.92V873.30H988.54V873.30H989.16V873.30H989.78V873.30H990.40V873.30H991.02V873.30H991.64V873.30H992.26V873.30H992.88V873.30H993.50V873.30H994.12V873.30H994.74V873.30H995.36V873.30H995.98V873.30H996.60V873.30H997.22V873.30H997.84V873.30H998.46V873.30H999.08V873.30H999.70V873.30H1000.32V873.30H1000.94" fill="none" stroke="#0000e6" stroke-width="1.9"/>
<rect x="546" y="866.00" width="2" height="7.80" fill="#0000e6" shape-rendering="crispEdges"/>
<path d="M547.10,873.30H547.72V873.30H548.34V873.30H548.96V873.30H549.58V873.30H550.20V873.30H550.82V873.30H551.44V871.92H552.06V873.30H552.68V873.30H553.30V873.30H553.92V873.30H554.54V870.54H555.16V871.92H555.78V871.92H556.40V871.92H557.02V873.30H557.64V871.92H558.26V871.92H558.88V873.30H559.50V873.30H560.12V870.54H560.74V869.16H561.36V871.92H561.98V871.92H562.60V873.30H563.22V873.30H563.84V871.92H564.46V873.30H565.08V871.92H565.70V871.92H566.32V873.30H566.94V871.92H567.56V873.30H568.18V871.92H568.80V871.92H569.42V870.54H570.04V873.30H570.66V873.30H571.28V873.30H571.90V871.92H572.52V873.30H573.14V870.54H573.76V871.92H574.38V873.30H575.00V871.92H575.62V873.30H576.24V873.30H576.86V873.30H577.48V873.30H578.10V869.16H578.72V871.92H579.34V871.92H579.96V873.30H580.58V873.30H581.20V871.92H581.82V870.54H582.44V870.54H583.06V871.92H583.68V873.30H584.30V873.30H584.92V871.92H585.54V871.92H586.16V873.30H586.78V870.54H587.40V873.30H588.02V873.30H588.64V871.92H589.26V871.92H589.88V871.92H590.50V871.92H591.12V870.54H591.74V873.30H592.36V873.30H592.98V870.54H593.60V870.54H594.22V871.92H594.84V869.16H595.46V873.30H596.08V871.92H596.70V871.92H597.32V871.92H597.94V873.30H598.56V873.30H599.18V869.16H599.80V873.30H600.42V873.30H601.04V873.30H601.66V871.92H602.28V873.30H602.90V871.92H603.52V871.92H604.14V870.54H604.76V871.92H605.38V873.30H606.00V871.92H606.62V871.92H607.24V871.92H607.86V873.30H608.48V871.92H609.10V871.92H609.72V873.30H610.34V871.92H610.96V869.16H611.58V871.92H612.20V871.92H612.82V873.30H613.44V871.92H614.06V871.92H614.68V871.92H615.30V869.16H615.92V871.92H616.54V871.92H617.16V873.30H617.78V870.54H618.40V873.30H619.02V873.30H619.64V873.30H620.26V873.30H620.88V869.16H621.50V870.54H622.12V873.30H622.74V873.30H623.36V871.92H623.98V873.30H624.60V871.92H625.22V870.54H625.84V873.30H626.46V870.54H627.08V873.30H627.70V871.92H628.32V873.30H628.94V871.92H629.56V871.92H630.18V873.30H630.80V870.54H631.42V871.92H632.04V873.30H632.66V873.30H633.28V873.30H633.90V873.30H634.52V871.92H635.14V871.92H635.76V873.30H636.38V870.54H637.00V870.54H637.62V873.30H638.24V873.30H638.86V871.92H639.48V873.30H640.10V869.16H640.72V871.92H641.34V871.92H641.96V870.54H642.58V873.30H643.20V873.30H643.82V873.30H644.44V873.30H645.06V873.30H645.68V873.30H646.30V871.92H646.92V873.30H647.54V871.92H648.16V871.92H648.78V871.92H649.40V871.92H650.02V873.30H650.64V873.30H651.26V869.16H651.88V873.30H652.50V870.54H653.12V869.16H653.74V869.16H654.36V873.30H654.98V871.92H655.60V873.30H656.22V873.30H656.84V869.16H657.46V871.92H658.08V873.30H658.70V871.92H659.32V869.16H659.94V873.30H660.56V873.30H661.18V871.92H661.80V873.30H662.42V873.30H663.04V871.92H663.66V869.16H664.28V869.16H664.90V873.30H665.52V871.92H666.14V873.30H666.76V873.30H667.38V869.16H668.00V871.92H668.62V873.30H669.24V873.30H669.86V871.92H670.48V870.54H671.10V870.54H671.72V871.92H672.34V871.92H672.96V871.92H673.58V870.54H674.20V871.92H674.82V871.92H675.44V873.30H676.06V870.54H676.68V873.30H677.30V873.30H677.92V871.92H678.54V873.30H679.16V870.54H679.78V873.30H680.40V873.30H681.02V871.92H681.64V869.16H682.26V871.92H682.88V873.30H683.50V871.92H684.12V873.30H684.74V871.92H685.36V873.30H685.98V871.92H686.60V871.92H687.22V873.30H687.84V873.30H688.46V869.16H689.08V869.16H689.70V873.30H690.32V873.30H690.94V871.92H691.56V873.30H692.18V873.30H692.80V871.92H693.42V871.92H694.04V871.92H694.66V871.92H695.28V870.54H695.90V873.30H696.52V873.30H697.14V873.30H697.76V870.54H698.38V873.30H699.00V871.92H699.62V871.92H700.24V871.92H700.86V873.30H701.48V871.92H702.10V873.30H702.72V869.16H703.34V873.30H703.96V871.92H704.58V871.92H705.20V871.92H705.82V871.92H706.44V870.54H707.06V873.30H707.68V869.16H708.30V873.30H708.92V873.30H709.54V873.30H710.16V873.30H710.78V871.92H711.40V873.30H712.02V871.92H712.64V873.30H713.26V873.30H713.88V871.92H714.50V873.30H715.12V870.54H715.74V871.92H716.36V873.30H716.98V871.92H717.60V870.54H718.22V873.30H718.84V873.30H719.46V870.54H720.08V873.30H720.70V869.16H721.32V871.92H721.94V873.30H722.56V873.30H723.18V873.30H723.80V873.30H724.42V870.54H725.04V870.54H725.66V871.92H726.28V871.92H726.90V871.92H727.52V871.92H728.14V873.30H728.76V870.54H729.38V870.54H730.00V869.16H730.62V870.54H731.24V873.30H731.86V871.92H732.48V873.30H733.10V869.16H733.72V871.92H734.34V867.78H734.96V870.54H735.58V873.30H736.20V871.92H736.82V871.92H737.44V870.54H738.06V870.54H738.68V873.30H739.30V871.92H739.92V873.30H740.54V871.92H741.16V873.30H741.78V870.54H742.40V870.54H743.02V870.54H743.64V870.54H744.26V870.89H744.88V871.79H745.50V871.79H746.12V869.31H746.74V867.15H747.36V868.04H747.98V868.39H748.60V867.98H749.22V868.62H749.84V866.57H750.46V866.11H751.08V867.15H751.70V867.49H752.32V865.36H752.94V865.22H753.56V867.76H754.18V868.49H754.80V866.46H755.42V866.12H756.04V865.35H756.66V865.22H757.28V863.57H757.90V863.25H758.52V864.86H759.14V865.20H759.76V864.01H760.38V862.88H761.00V861.85H761.62V862.35H762.24V862.60H762.86V860.79H763.48V861.22H764.10V862.72H764.72V861.63H765.34V861.17H765.96V860.62H766.58V856.06H767.20V855.97H767.82V854.69H768.44V853.39H769.06V852.15H769.68V854.71H770.30V853.62H770.92V851.36H771.54V850.14H772.16V847.43H772.78V849.75H773.40V850.49H774.02V841.29H774.64V841.03H775.26V838.66H775.88V840.95H776.50V846.61H777.12V842.38H777.74V833.60H778.36V831.93H778.98V827.64H779.60V828.30H780.22V823.86H780.84V821.90H781.46V824.53H782.08V829.15H782.70V815.96H783.32V812.27H783.94V813.47H784.56V811.62H785.18V808.81H785.80V800.19H786.42V806.97H787.04V803.13H787.66V792.89H788.28V791.49H788.90V789.82H789.52V786.08H790.14V777.69H790.76V783.24H791.38V780.28H792.00V771.97H792.62V769.01H793.24V778.75H793.86V777.30H794.48V759.23H795.10V753.97H795.72V756.51H796.34V766.12H796.96V754.34H797.58V752.14H798.20V757.58H798.82V763.32H799.44V759.82H800.06V757.18H800.68V743.75H801.30V757.45H801.92V753.71H802.54V768.92H803.16V767.95H803.78V758.95H804.40V753.88H805.02V754.49H805.64V758.02H806.26V761.85H806.88V767.81H807.50V758.35H808.12V759.94H808.74V770.09H809.36V760.20H809.98V772.77H810.60V768.47H811.22V769.05H811.84V768.44H812.46V760.67H813.08V767.68H813.70V771.77H814.32V779.44H814.94V771.23H815.56V772.56H816.18V770.31H816.80V770.96H817.42V776.42H818.04V779.02H818.66V776.68H819.28V778.38H819.90V784.99H820.52V801.11H821.14V806.44H821.76V806.35H822.38V807.80H823.00V806.35H823.62V814.93H824.24V811.58H824.86V816.12H825.48V819.70H826.10V817.24H826.72V821.61H827.34V821.45H827.96V822.16H828.58V820.36H829.20V827.16H829.82V833.15H830.44V833.08H831.06V836.83H831.68V836.86H832.30V839.24H832.92V844.20H833.54V845.98H834.16V846.27H834.78V849.10H835.40V847.68H836.02V849.50H836.64V852.29H837.26V853.43H837.88V848.94H838.50V849.13H839.12V850.21H839.74V849.54H840.36V853.27H840.98V857.14H841.60V858.43H842.22V860.55H842.84V857.31H843.46V855.99H844.08V858.01H844.70V858.56H845.32V860.50H845.94V861.46H846.56V862.85H847.18V860.92H847.80V859.74H848.42V861.21H849.04V864.37H849.66V864.97H850.28V865.25H850.90V865.43H851.52V865.71H852.14V865.83H852.76V866.48H853.38V864.84H854.00V865.05H854.62V865.50H855.24V867.47H855.86V868.26H856.48V866.59H857.10V865.10H857.72V865.07H858.34V867.67H858.96V867.42H859.58V867.26H860.20V867.36H860.82V866.81H861.44V866.52H862.06V867.63H862.68V868.75H863.30V867.50H863.92V867.62H864.54V868.61H865.16V869.33H865.78V869.41H866.40V868.66H867.02V869.20H867.64V868.19H868.26V867.51H868.88V869.31H869.50V870.25H870.12V870.22H870.74V869.84H871.36V869.34H871.98V869.54H872.60V868.90H873.22V869.75H873.84V870.54H874.46V869.89H875.08V870.54H875.70V873.30H876.32V867.78H876.94V869.16H877.56V870.54H878.18V870.54H878.80V870.54H879.42V869.16H880.04V871.92H880.66V873.30H881.28V871.92H881.90V870.54H882.52V871.92H883.14V871.92H883.76V873.30H884.38V870.54H885.00V870.54H885.62V870.54H886.24V870.54H886.86V869.16H887.48V873.30H888.10V871.92H888.72V873.30H889.34V871.92H889.96V873.30H890.58V869.16H891.20V873.30H891.82V873.30H892.44V873.30H893.06V873.30H893.68V873.30H894.30V871.92H894.92V873.30H895.54V871.92H896.16V873.30H896.78V871.92H897.40V871.92H898.02V871.92H898.64V873.30H899.26V871.92H899.88V871.92H900.50V873.30H901.12V873.30H901.74V871.92H902.36V873.30H902.98V873.30H903.60V873.30H904.22V870.54H904.84V871.92H905.46V870.54H906.08V873.30H906.70V871.92H907.32V873.30H907.94V869.16H908.56V871.92H909.18V873.30H909.80V873.30H910.42V873.30H911.04V873.30H911.66V873.30H912.28V873.30H912.90V873.30H913.52V870.54H914.14V873.30H914.76V871.92H915.38V873.30H916.00V873.30H916.62V871.92H917.24V873.30H917.86V873.30H918.48V871.92H919.10V873.30H919.72V870.54H920.34V873.30H920.96V870.54H921.58V869.16H922.20V871.92H922.82V873.30H923.44V873.30H924.06V870.54H924.68V873.30H925.30V873.30H925.92V873.30H926.54V871.92H927.16V873.30H927.78V873.30H928.40V871.92H929.02V873.30H929.64V873.30H930.26V873.30H930.88V873.30H931.50V873.30H932.12V873.30H932.74V873.30H933.36V871.92H933.98V873.30H934.60V871.92H935.22V871.92H935.84V871.92H936.46V871.92H937.08V871.92H937.70V871.92H938.32V873.30H938.94V870.54H939.56V873.30H940.18V873.30H940.80V871.92H941.42V870.54H942.04V873.30H942.66V873.30H943.28V873.30H943.90V873.30H944.52V870.54H945.14V873.30H945.76V871.92H946.38V871.92H947.00V873.30H947.62V873.30H948.24V873.30H948.86V873.30H949.48V873.30H950.10V873.30H950.72V873.30H951.34V871.92H951.96V873.30H952.58V871.92H953.20V873.30H953.82V873.30H954.44V873.30H955.06V873.30H955.68V873.30H956.30V873.30H956.92V871.92H957.54V873.30H958.16V873.30H958.78V871.92H959.40V873.30H960.02V873.30H960.64V873.30H961.26V873.30H961.88V870.54H962.50V871.92H963.12V873.30H963.74V871.92H964.36V873.30H964.98V873.30H965.60V873.30H966.22V873.30H966.84V871.92H967.46V870.54H968.08V873.30H968.70V871.92H969.32V873.30H969.94V871.92H970.56V871.92H971.18V873.30H971.80V873.30H972.42V873.30H973.04V871.92H973.66V873.30H974.28V873.30H974.90V873.30H975.52V871.92H976.14V871.92H976.76V873.30H977.38V873.30H978.00V873.30H978.62V873.30H979.24V873.30H979.86V871.92H980.48V873.30H981.10V873.30H981.72V873.30H982.34V873.30H982.96V871.92H983.58V871.92H984.20V873.30H984.82V873.30H985.44V871.92H986.06V873.30H986.68V873.30H987.30V873.30H987.92V871.92H988.54V871.92H989.16V873.30H989.78V873.30H990.40V873.30H991.02V873.30H991.64V873.30H992.26V871.92H992.88V873.30H993.50V873.30H994.12V873.30H994.74V871.92H995.36V871.92H995.98V871.92H996.60V873.30H997.22V871.92H997.84V873.30H998.46V873.30H999.08V873.30H999.70V873.30H1000.32V873.30H1000.94" fill="none" stroke="#e00000" stroke-width="1.9"/>
<path d="M547.10,870.54H547.72V870.54H548.34V871.92H548.96V873.30H549.58V870.54H550.20V871.92H550.82V867.78H551.44V871.92H552.06V871.92H552.68V871.92H553.30V871.92H553.92V870.54H554.54V873.30H555.16V871.92H555.78V873.30H556.40V873.30H557.02V870.54H557.64V871.92H558.26V871.92H558.88V873.30H559.50V873.30H560.12V871.92H560.74V871.92H561.36V873.30H561.98V870.54H562.60V871.92H563.22V873.30H563.84V871.92H564.46V869.16H565.08V871.92H565.70V871.92H566.32V873.30H566.94V870.54H567.56V873.30H568.18V871.92H568.80V871.92H569.42V871.92H570.04V873.30H570.66V873.30H571.28V870.54H571.90V871.92H572.52V869.16H573.14V873.30H573.76V871.92H574.38V871.92H575.00V873.30H575.62V873.30H576.24V871.92H576.86V871.92H577.48V869.16H578.10V870.54H578.72V869.16H579.34V873.30H579.96V870.54H580.58V870.54H581.20V870.54H581.82V871.92H582.44V870.54H583.06V873.30H583.68V871.92H584.30V873.30H584.92V871.92H585.54V869.16H586.16V869.16H586.78V870.54H587.40V873.30H588.02V871.92H588.64V867.78H589.26V873.30H589.88V871.92H590.50V871.92H591.12V873.30H591.74V871.92H592.36V873.30H592.98V867.78H593.60V873.30H594.22V871.92H594.84V871.92H595.46V869.16H596.08V870.54H596.70V873.30H597.32V873.30H597.94V871.92H598.56V871.92H599.18V873.30H599.80V873.30H600.42V871.92H601.04V871.92H601.66V870.54H602.28V871.92H602.90V873.30H603.52V871.92H604.14V871.92H604.76V871.92H605.38V871.92H606.00V871.92H606.62V871.92H607.24V867.78H607.86V873.30H608.48V873.30H609.10V871.92H609.72V873.30H610.34V870.54H610.96V866.40H611.58V871.92H612.20V871.92H612.82V873.30H613.44V871.92H614.06V870.54H614.68V871.92H615.30V870.54H615.92V871.92H616.54V871.92H617.16V870.54H617.78V871.92H618.40V870.54H619.02V871.92H619.64V870.54H620.26V870.54H620.88V871.92H621.50V873.30H622.12V871.92H622.74V869.16H623.36V870.54H623.98V866.40H624.60V873.30H625.22V870.54H625.84V870.54H626.46V871.92H627.08V873.30H627.70V873.30H628.32V870.54H628.94V870.54H629.56V870.54H630.18V871.92H630.80V873.30H631.42V871.92H632.04V871.92H632.66V869.16H633.28V866.40H633.90V871.92H634.52V870.54H635.14V873.30H635.76V873.30H636.38V871.92H637.00V873.30H637.62V873.30H638.24V873.30H638.86V870.54H639.48V867.78H640.10V873.30H640.72V871.92H641.34V871.92H641.96V871.92H642.58V870.54H643.20V873.30H643.82V866.40H644.44V866.40H645.06V870.54H645.68V871.92H646.30V873.30H646.92V869.16H647.54V870.54H648.16V867.78H648.78V873.30H649.40V870.54H650.02V871.92H650.64V870.54H651.26V871.92H651.88V870.54H652.50V871.92H653.12V871.92H653.74V870.54H654.36V871.92H654.98V873.30H655.60V869.16H656.22V871.92H656.84V871.92H657.46V873.30H658.08V870.54H658.70V871.92H659.32V871.92H659.94V873.30H660.56V869.16H661.18V871.92H661.80V873.30H662.42V871.92H663.04V869.16H663.66V873.30H664.28V871.92H664.90V871.92H665.52V867.78H666.14V873.30H666.76V870.54H667.38V870.54H668.00V869.16H668.62V871.92H669.24V873.30H669.86V870.54H670.48V870.54H671.10V869.16H671.72V870.54H672.34V871.92H672.96V870.54H673.58V873.30H674.20V871.92H674.82V871.92H675.44V869.16H676.06V871.92H676.68V866.40H677.30V871.92H677.92V869.16H678.54V869.16H679.16V873.30H679.78V871.92H680.40V871.92H681.02V867.78H681.64V870.54H682.26V871.92H682.88V873.30H683.50V870.54H684.12V871.92H684.74V871.92H685.36V867.78H685.98V871.92H686.60V870.54H687.22V866.40H687.84V871.92H688.46V871.92H689.08V871.92H689.70V873.30H690.32V873.30H690.94V871.92H691.56V873.30H692.18V869.16H692.80V871.92H693.42V871.92H694.04V870.54H694.66V873.30H695.28V870.54H695.90V871.92H696.52V870.54H697.14V871.92H697.76V871.92H698.38V869.16H699.00V869.16H699.62V870.54H700.24V871.92H700.86V869.16H701.48V869.16H702.10V871.92H702.72V869.16H703.34V870.54H703.96V870.54H704.58V873.30H705.20V869.16H705.82V869.16H706.44V869.16H707.06V869.16H707.68V870.54H708.30V871.92H708.92V871.92H709.54V870.54H710.16V873.30H710.78V867.78H711.40V870.54H712.02V870.54H712.64V871.92H713.26V873.30H713.88V870.54H714.50V867.78H715.12V870.54H715.74V870.54H716.36V873.30H716.98V870.54H717.60V870.54H718.22V870.54H718.84V871.92H719.46V871.92H720.08V870.54H720.70V870.54H721.32V873.30H721.94V869.16H722.56V869.16H723.18V871.92H723.80V873.30H724.42V869.16H725.04V867.78H725.66V870.54H726.28V869.16H726.90V867.78H727.52V869.16H728.14V869.16H728.76V871.92H729.38V869.16H730.00V871.92H730.62V870.89H731.24V871.44H731.86V870.03H732.48V868.58H733.10V869.15H733.72V869.13H734.34V868.66H734.96V867.95H735.58V869.98H736.20V869.32H736.82V869.19H737.44V869.62H738.06V868.57H738.68V868.46H739.30V869.36H739.92V867.97H740.54V865.65H741.16V867.60H741.78V867.90H742.40V867.39H743.02V866.60H743.64V864.26H744.26V863.71H744.88V865.16H745.50V864.65H746.12V865.15H746.74V863.94H747.36V866.17H747.98V865.08H748.60V862.38H749.22V858.72H749.84V857.38H750.46V855.58H751.08V856.42H751.70V855.63H752.32V853.72H752.94V851.33H753.56V849.00H754.18V848.06H754.80V844.31H755.42V843.67H756.04V845.53H756.66V843.37H757.28V840.99H757.90V841.84H758.52V839.35H759.14V835.99H759.76V836.69H760.38V836.97H761.00V832.76H761.62V828.45H762.24V823.86H762.86V821.98H763.48V820.93H764.10V819.22H764.72V822.39H765.34V819.39H765.96V812.76H766.58V807.58H767.20V808.06H767.82V808.91H768.44V802.01H769.06V795.31H769.68V800.25H770.30V792.11H770.92V783.09H771.54V781.88H772.16V779.05H772.78V776.92H773.40V769.87H774.02V774.65H774.64V778.56H775.26V769.17H775.88V771.34H776.50V765.15H777.12V757.92H777.74V757.93H778.36V756.17H778.98V748.35H779.60V747.15H780.22V736.25H780.84V749.61H781.46V748.21H782.08V752.74H782.70V750.80H783.32V743.43H783.94V736.65H784.56V744.45H785.18V739.77H785.80V745.96H786.42V749.06H787.04V751.24H787.66V750.62H788.28V749.68H788.90V751.17H789.52V751.62H790.14V758.22H790.76V757.27H791.38V769.45H792.00V776.23H792.62V774.77H793.24V776.16H793.86V776.94H794.48V776.96H795.10V778.83H795.72V780.93H796.34V779.61H796.96V782.00H797.58V783.62H798.20V783.32H798.82V784.17H799.44V793.99H800.06V782.33H800.68V790.63H801.30V790.34H801.92V791.59H802.54V800.93H803.16V801.60H803.78V803.97H804.40V801.91H805.02V809.13H805.64V817.89H806.26V816.40H806.88V816.38H807.50V817.67H808.12V818.55H808.74V818.94H809.36V823.01H809.98V822.40H810.60V826.54H811.22V830.82H811.84V835.97H812.46V836.99H813.08V837.71H813.70V843.23H814.32V842.69H814.94V847.39H815.56V849.00H816.18V846.68H816.80V851.04H817.42V851.17H818.04V852.91H818.66V854.02H819.28V853.01H819.90V851.14H820.52V854.03H821.14V858.97H821.76V859.76H822.38V859.47H823.00V858.94H823.62V856.77H824.24V860.34H824.86V858.33H825.48V862.11H826.10V864.40H826.72V861.58H827.34V861.10H827.96V865.41H828.58V864.55H829.20V864.22H829.82V866.45H830.44V866.06H831.06V864.53H831.68V865.96H832.30V866.95H832.92V866.94H833.54V868.83H834.16V869.77H834.78V868.67H835.40V868.74H836.02V868.59H836.64V869.27H837.26V868.86H837.88V869.15H838.50V869.16H839.12V869.66H839.74V870.25H840.36V870.54H840.98V873.30H841.60V869.16H842.22V869.16H842.84V871.92H843.46V873.30H844.08V865.02H844.70V870.54H845.32V869.16H845.94V867.78H846.56V870.54H847.18V871.92H847.80V867.78H848.42V870.54H849.04V869.16H849.66V873.30H850.28V871.92H850.90V870.54H851.52V871.92H852.14V871.92H852.76V871.92H853.38V871.92H854.00V870.54H854.62V870.54H855.24V873.30H855.86V870.54H856.48V873.30H857.10V873.30H857.72V871.92H858.34V871.92H858.96V869.16H859.58V871.92H860.20V873.30H860.82V873.30H861.44V873.30H862.06V873.30H862.68V871.92H863.30V871.92H863.92V870.54H864.54V873.30H865.16V873.30H865.78V873.30H866.40V873.30H867.02V873.30H867.64V870.54H868.26V873.30H868.88V871.92H869.50V873.30H870.12V871.92H870.74V871.92H871.36V873.30H871.98V873.30H872.60V871.92H873.22V873.30H873.84V869.16H874.46V871.92H875.08V870.54H875.70V873.30H876.32V871.92H876.94V871.92H877.56V873.30H878.18V870.54H878.80V873.30H879.42V870.54H880.04V870.54H880.66V873.30H881.28V873.30H881.90V871.92H882.52V871.92H883.14V873.30H883.76V873.30H884.38V870.54H885.00V871.92H885.62V870.54H886.24V871.92H886.86V873.30H887.48V871.92H888.10V873.30H888.72V869.16H889.34V869.16H889.96V871.92H890.58V873.30H891.20V873.30H891.82V873.30H892.44V871.92H893.06V873.30H893.68V873.30H894.30V873.30H894.92V871.92H895.54V873.30H896.16V871.92H896.78V873.30H897.40V873.30H898.02V873.30H898.64V871.92H899.26V871.92H899.88V871.92H900.50V871.92H901.12V873.30H901.74V873.30H902.36V871.92H902.98V873.30H903.60V873.30H904.22V870.54H904.84V871.92H905.46V873.30H906.08V873.30H906.70V871.92H907.32V870.54H907.94V873.30H908.56V873.30H909.18V873.30H909.80V873.30H910.42V871.92H911.04V873.30H911.66V873.30H912.28V871.92H912.90V873.30H913.52V873.30H914.14V870.54H914.76V871.92H915.38V873.30H916.00V871.92H916.62V870.54H917.24V871.92H917.86V873.30H918.48V873.30H919.10V873.30H919.72V871.92H920.34V873.30H920.96V873.30H921.58V873.30H922.20V873.30H922.82V871.92H923.44V873.30H924.06V873.30H924.68V871.92H925.30V873.30H925.92V871.92H926.54V873.30H927.16V871.92H927.78V871.92H928.40V873.30H929.02V873.30H929.64V871.92H930.26V873.30H930.88V871.92H931.50V873.30H932.12V871.92H932.74V871.92H933.36V873.30H933.98V873.30H934.60V873.30H935.22V871.92H935.84V873.30H936.46V871.92H937.08V873.30H937.70V873.30H938.32V871.92H938.94V873.30H939.56V873.30H940.18V873.30H940.80V873.30H941.42V873.30H942.04V871.92H942.66V873.30H943.28V870.54H943.90V873.30H944.52V873.30H945.14V873.30H945.76V873.30H946.38V873.30H947.00V873.30H947.62V870.54H948.24V873.30H948.86V871.92H949.48V871.92H950.10V873.30H950.72V873.30H951.34V873.30H951.96V871.92H952.58V873.30H953.20V873.30H953.82V873.30H954.44V873.30H955.06V871.92H955.68V871.92H956.30V871.92H956.92V873.30H957.54V873.30H958.16V873.30H958.78V873.30H959.40V873.30H960.02V873.30H960.64V873.30H961.26V873.30H961.88V873.30H962.50V873.30H963.12V873.30H963.74V871.92H964.36V871.92H964.98V873.30H965.60V873.30H966.22V873.30H966.84V873.30H967.46V873.30H968.08V873.30H968.70V871.92H969.32V871.92H969.94V873.30H970.56V873.30H971.18V873.30H971.80V873.30H972.42V873.30H973.04V873.30H973.66V873.30H974.28V873.30H974.90V871.92H975.52V870.54H976.14V873.30H976.76V873.30H977.38V873.30H978.00V873.30H978.62V873.30H979.24V873.30H979.86V873.30H980.48V873.30H981.10V873.30H981.72V873.30H982.34V871.92H982.96V873.30H983.58V873.30H984.20V871.92H984.82V871.92H985.44V873.30H986.06V873.30H986.68V873.30H987.30V873.30H987.92V873.30H988.54V873.30H989.16V873.30H989.78V873.30H990.40V873.30H991.02V873.30H991.64V873.30H992.26V873.30H992.88V873.30H993.50V873.30H994.12V873.30H994.74V873.30H995.36V873.30H995.98V873.30H996.60V873.30H997.22V873.30H997.84V873.30H998.46V873.30H999.08V873.30H999.70V873.30H1000.32V873.30H1000.94" fill="none" stroke="#009966" stroke-width="1.9"/>
<path d="M547.10,873.30H547.72V873.30H548.34V871.92H548.96V873.30H549.58V873.30H550.20V873.30H550.82V871.92H551.44V871.92H552.06V873.30H552.68V871.92H553.30V873.30H553.92V873.30H554.54V873.30H555.16V873.30H555.78V873.30H556.40V873.30H557.02V873.30H557.64V873.30H558.26V871.92H558.88V873.30H559.50V873.30H560.12V873.30H560.74V873.30H561.36V873.30H561.98V871.92H562.60V873.30H563.22V873.30H563.84V873.30H564.46V873.30H565.08V873.30H565.70V873.30H566.32V873.30H566.94V871.92H567.56V871.92H568.18V873.30H568.80V873.30H569.42V873.30H570.04V871.92H570.66V873.30H571.28V873.30H571.90V873.30H572.52V873.30H573.14V873.30H573.76V873.30H574.38V871.92H575.00V873.30H575.62V869.16H576.24V873.30H576.86V873.30H577.48V871.92H578.10V873.30H578.72V871.92H579.34V873.30H579.96V869.16H580.58V871.92H581.20V873.30H581.82V871.92H582.44V873.30H583.06V873.30H583.68V871.92H584.30V873.30H584.92V873.30H585.54V871.92H586.16V871.92H586.78V873.30H587.40V873.30H588.02V873.30H588.64V873.30H589.26V873.30H589.88V873.30H590.50V873.30H591.12V873.30H591.74V871.92H592.36V873.30H592.98V871.92H593.60V873.30H594.22V873.30H594.84V873.30H595.46V871.92H596.08V873.30H596.70V873.30H597.32V871.92H597.94V871.92H598.56V873.30H599.18V873.30H599.80V871.92H600.42V873.30H601.04V871.92H601.66V873.30H602.28V873.30H602.90V873.30H603.52V870.54H604.14V871.92H604.76V873.30H605.38V871.92H606.00V869.16H606.62V871.92H607.24V873.30H607.86V873.30H608.48V873.30H609.10V871.92H609.72V871.92H610.34V873.30H610.96V873.30H611.58V871.92H612.20V873.30H612.82V871.92H613.44V870.54H614.06V873.30H614.68V873.30H615.30V871.92H615.92V871.92H616.54V871.92H617.16V871.92H617.78V871.92H618.40V871.92H619.02V871.92H619.64V871.92H620.26V870.54H620.88V870.54H621.50V873.30H622.12V871.92H622.74V873.30H623.36V873.30H623.98V873.30H624.60V873.30H625.22V873.30H625.84V870.54H626.46V871.92H627.08V871.92H627.70V873.30H628.32V869.16H628.94V873.30H629.56V873.30H630.18V873.30H630.80V873.30H631.42V870.54H632.04V873.30H632.66V871.92H633.28V870.54H633.90V870.54H634.52V871.92H635.14V869.16H635.76V870.54H636.38V873.30H637.00V873.30H637.62V873.30H638.24V871.92H638.86V873.30H639.48V873.30H640.10V873.30H640.72V873.30H641.34V870.54H641.96V871.92H642.58V871.92H643.20V873.30H643.82V870.54H644.44V871.92H645.06V871.92H645.68V873.30H646.30V873.30H646.92V873.30H647.54V873.30H648.16V871.92H648.78V873.30H649.40V871.92H650.02V871.92H650.64V871.92H651.26V873.30H651.88V873.30H652.50V873.30H653.12V871.92H653.74V871.92H654.36V869.16H654.98V871.92H655.60V871.92H656.22V871.92H656.84V870.54H657.46V870.54H658.08V869.16H658.70V870.54H659.32V870.54H659.94V871.92H660.56V870.54H661.18V870.54H661.80V871.92H662.42V873.30H663.04V873.30H663.66V871.92H664.28V869.16H664.90V871.92H665.52V873.30H666.14V873.30H666.76V871.92H667.38V873.30H668.00V870.54H668.62V873.30H669.24V870.54H669.86V870.54H670.48V871.92H671.10V870.54H671.72V873.30H672.34V871.92H672.96V871.92H673.58V870.54H674.20V873.30H674.82V873.30H675.44V873.30H676.06V871.92H676.68V870.54H677.30V871.92H677.92V870.54H678.54V869.16H679.16V873.30H679.78V871.92H680.40V863.64H681.02V873.30H681.64V870.54H682.26V870.54H682.88V871.92H683.50V873.30H684.12V869.16H684.74V873.30H685.36V871.92H685.98V871.92H686.60V870.54H687.22V871.92H687.84V871.92H688.46V869.16H689.08V870.54H689.70V871.92H690.32V870.54H690.94V869.16H691.56V867.78H692.18V869.16H692.80V870.06H693.42V868.94H694.04V870.61H694.66V871.38H695.28V871.38H695.90V869.24H696.52V869.37H697.14V870.29H697.76V869.94H698.38V869.97H699.00V868.59H699.62V869.15H700.24V869.04H700.86V869.07H701.48V869.71H702.10V868.64H702.72V868.62H703.34V868.43H703.96V867.72H704.58V866.56H705.20V867.03H705.82V865.70H706.44V867.31H707.06V867.23H707.68V864.71H708.30V867.77H708.92V867.28H709.54V863.89H710.16V865.92H710.78V865.60H711.40V864.74H712.02V865.15H712.64V867.45H713.26V868.01H713.88V868.07H714.50V864.52H715.12V863.51H715.74V865.51H716.36V866.87H716.98V865.40H717.60V865.40H718.22V865.73H718.84V866.24H719.46V865.91H720.08V865.25H720.70V863.12H721.32V864.51H721.94V865.23H722.56V864.17H723.18V866.38H723.80V864.76H724.42V863.65H725.04V862.97H725.66V862.99H726.28V863.46H726.90V861.91H727.52V862.45H728.14V862.48H728.76V862.27H729.38V863.31H730.00V863.21H730.62V863.11H731.24V861.31H731.86V863.21H732.48V863.43H733.10V862.57H733.72V861.95H734.34V859.76H734.96V860.28H735.58V861.69H736.20V861.70H736.82V859.93H737.44V855.65H738.06V857.56H738.68V862.41H739.30V861.00H739.92V856.89H740.54V856.26H741.16V859.48H741.78V861.77H742.40V860.73H743.02V857.82H743.64V858.53H744.26V857.90H744.88V859.57H745.50V861.55H746.12V860.00H746.74V858.95H747.36V859.98H747.98V860.48H748.60V863.56H749.22V863.90H749.84V860.55H750.46V856.57H751.08V856.75H751.70V859.99H752.32V860.69H752.94V859.89H753.56V860.12H754.18V860.89H754.80V858.89H755.42V858.86H756.04V858.24H756.66V859.49H757.28V857.68H757.90V857.07H758.52V860.53H759.14V860.93H759.76V860.39H760.38V862.57H761.00V864.64H761.62V860.95H762.24V860.60H762.86V859.13H763.48V862.56H764.10V862.20H764.72V861.83H765.34V863.09H765.96V861.67H766.58V864.18H767.20V862.00H767.82V861.82H768.44V860.77H769.06V862.44H769.68V859.41H770.30V861.07H770.92V860.73H771.54V859.31H772.16V857.33H772.78V858.98H773.40V860.15H774.02V861.51H774.64V861.07H775.26V857.50H775.88V857.75H776.50V857.59H777.12V856.68H777.74V858.46H778.36V860.53H778.98V861.04H779.60V856.73H780.22V854.57H780.84V856.70H781.46V855.55H782.08V854.19H782.70V855.42H783.32V851.97H783.94V851.04H784.56V849.84H785.18V851.18H785.80V852.59H786.42V852.85H787.04V851.59H787.66V850.74H788.28V850.09H788.90V849.68H789.52V848.49H790.14V846.40H790.76V841.58H791.38V845.03H792.00V844.93H792.62V842.99H793.24V842.80H793.86V848.13H794.48V846.02H795.10V848.85H795.72V849.45H796.34V849.09H796.96V848.94H797.58V848.61H798.20V847.33H798.82V849.33H799.44V850.57H800.06V851.70H800.68V853.60H801.30V851.90H801.92V851.24H802.54V850.17H803.16V851.72H803.78V850.05H804.40V850.83H805.02V849.08H805.64V850.86H806.26V849.24H806.88V846.29H807.50V843.50H808.12V846.72H808.74V847.65H809.36V844.41H809.98V844.61H810.60V845.58H811.22V851.71H811.84V853.56H812.46V850.59H813.08V852.49H813.70V851.32H814.32V851.57H814.94V853.33H815.56V850.44H816.18V850.91H816.80V854.75H817.42V855.20H818.04V851.74H818.66V850.68H819.28V852.48H819.90V851.15H820.52V850.58H821.14V853.37H821.76V851.53H822.38V848.73H823.00V845.81H823.62V846.87H824.24V844.91H824.86V841.86H825.48V842.84H826.10V835.39H826.72V840.73H827.34V840.10H827.96V833.15H828.58V833.79H829.20V829.26H829.82V826.12H830.44V827.38H831.06V826.36H831.68V828.54H832.30V822.63H832.92V820.53H833.54V826.70H834.16V826.53H834.78V826.28H835.40V820.56H836.02V823.54H836.64V822.99H837.26V822.23H837.88V826.49H838.50V827.38H839.12V829.36H839.74V824.85H840.36V827.37H840.98V821.75H841.60V817.96H842.22V821.15H842.84V818.27H843.46V821.05H844.08V814.73H844.70V816.74H845.32V821.19H845.94V815.13H846.56V807.69H847.18V808.91H847.80V804.95H848.42V804.28H849.04V807.89H849.66V803.63H850.28V802.09H850.90V803.03H851.52V799.43H852.14V800.61H852.76V804.29H853.38V800.03H854.00V797.00H854.62V802.35H855.24V797.69H855.86V803.44H856.48V809.06H857.10V811.40H857.72V809.55H858.34V806.77H858.96V802.03H859.58V805.46H860.20V803.44H860.82V806.78H861.44V805.95H862.06V803.80H862.68V806.82H863.30V806.20H863.92V811.44H864.54V808.16H865.16V811.66H865.78V808.67H866.40V812.11H867.02V818.25H867.64V816.42H868.26V814.59H868.88V815.11H869.50V814.22H870.12V813.30H870.74V819.46H871.36V818.20H871.98V821.66H872.60V826.06H873.22V820.97H873.84V821.34H874.46V825.87H875.08V820.60H875.70V829.31H876.32V824.30H876.94V829.86H877.56V831.83H878.18V829.55H878.80V832.65H879.42V832.88H880.04V833.36H880.66V829.07H881.28V833.96H881.90V841.12H882.52V837.66H883.14V836.15H883.76V836.00H884.38V835.55H885.00V841.01H885.62V838.85H886.24V840.13H886.86V844.22H887.48V847.53H888.10V845.71H888.72V846.66H889.34V850.47H889.96V850.74H890.58V847.37H891.20V849.53H891.82V854.36H892.44V849.80H893.06V851.85H893.68V852.79H894.30V856.71H894.92V857.60H895.54V858.23H896.16V858.98H896.78V858.73H897.40V857.61H898.02V861.31H898.64V862.04H899.26V860.49H899.88V860.23H900.50V859.12H901.12V859.06H901.74V858.03H902.36V859.47H902.98V858.14H903.60V860.80H904.22V864.45H904.84V860.80H905.46V859.40H906.08V860.67H906.70V862.10H907.32V861.78H907.94V861.30H908.56V860.73H909.18V862.60H909.80V862.53H910.42V861.87H911.04V863.60H911.66V865.00H912.28V863.83H912.90V861.12H913.52V861.17H914.14V861.79H914.76V861.60H915.38V859.38H916.00V861.63H916.62V863.87H917.24V863.97H917.86V864.69H918.48V862.30H919.10V861.21H919.72V863.01H920.34V863.04H920.96V864.73H921.58V866.75H922.20V865.37H922.82V864.93H923.44V866.93H924.06V865.60H924.68V866.82H925.30V866.94H925.92V867.66H926.54V865.84H927.16V864.92H927.78V865.02H928.40V863.66H929.02V865.74H929.64V865.82H930.26V863.79H930.88V864.82H931.50V865.13H932.12V863.98H932.74V862.66H933.36V865.75H933.98V865.09H934.60V865.75H935.22V865.69H935.84V864.32H936.46V864.25H937.08V863.38H937.70V866.18H938.32V865.21H938.94V864.84H939.56V866.82H940.18V866.98H940.80V865.58H941.42V865.13H942.04V865.48H942.66V866.25H943.28V867.61H943.90V867.76H944.52V868.35H945.14V868.11H945.76V869.39H946.38V868.26H947.00V868.73H947.62V866.30H948.24V866.53H948.86V868.63H949.48V867.00H950.10V867.27H950.72V867.96H951.34V867.85H951.96V868.51H952.58V869.93H953.20V870.27H953.82V867.03H954.44V869.80H955.06V870.63H955.68V868.81H956.30V868.45H956.92V870.02H957.54V870.91H958.16V870.04H958.78V869.62H959.40V869.51H960.02V869.16H960.64V869.16H961.26V871.92H961.88V867.78H962.50V869.16H963.12V869.16H963.74V867.78H964.36V870.54H964.98V871.92H965.60V871.92H966.22V870.54H966.84V870.54H967.46V870.54H968.08V870.54H968.70V867.78H969.32V873.30H969.94V870.54H970.56V870.54H971.18V873.30H971.80V870.54H972.42V871.92H973.04V873.30H973.66V870.54H974.28V873.30H974.90V871.92H975.52V871.92H976.14V870.54H976.76V873.30H977.38V871.92H978.00V871.92H978.62V873.30H979.24V869.16H979.86V871.92H980.48V870.54H981.10V871.92H981.72V873.30H982.34V873.30H982.96V873.30H983.58V871.92H984.20V871.92H984.82V873.30H985.44V873.30H986.06V873.30H986.68V871.92H987.30V873.30H987.92V873.30H988.54V873.30H989.16V873.30H989.78V873.30H990.40V873.30H991.02V873.30H991.64V873.30H992.26V873.30H992.88V871.92H993.50V873.30H994.12V873.30H994.74V873.30H995.36V871.92H995.98V873.30H996.60V873.30H997.22V873.30H997.84V873.30H998.46V873.30H999.08V873.30H999.70V873.30H1000.32V873.30H1000.94" fill="none" stroke="#000000" stroke-width="1.9"/>
<text x="757.70" y="956.40" class="cap">(<tspan font-weight="bold" font-size="24.5px">f</tspan>)</text>
</svg></body></html>
